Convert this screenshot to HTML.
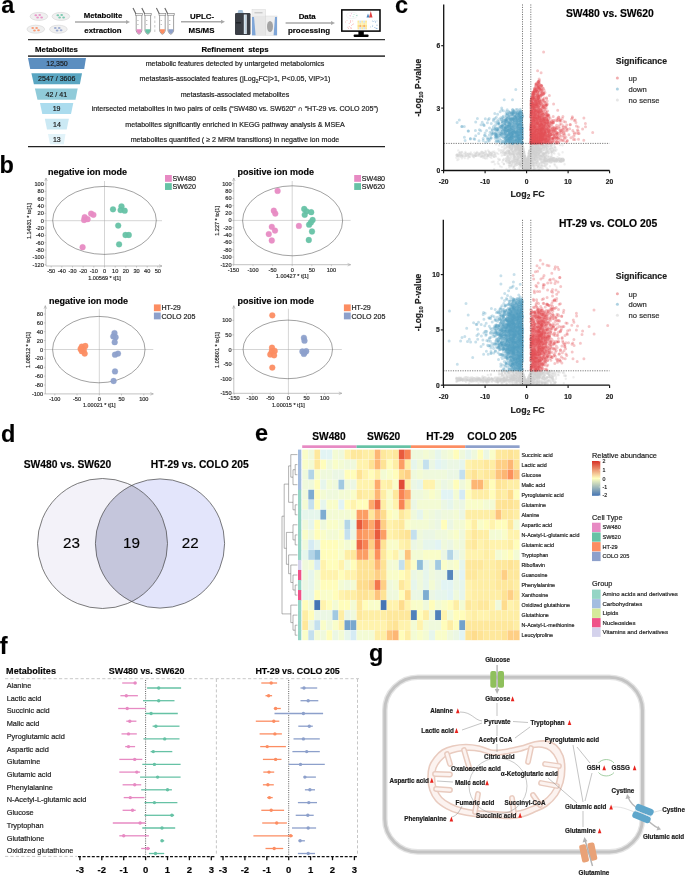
<!DOCTYPE html>
<html><head><meta charset="utf-8"><style>
html,body{margin:0;padding:0;background:#fff;width:685px;height:876px;overflow:hidden}
svg{display:block;filter:blur(0.4px)}
text{font-family:"Liberation Sans", sans-serif;stroke:#1a1a1a;stroke-width:0.22px;stroke-opacity:0.8}
</style></head><body>
<svg width="685" height="876" viewBox="0 0 685 876" font-family='"Liberation Sans", sans-serif'>
<rect width="685" height="876" fill="#fff"/>
<text x="1.2" y="12.9" font-size="23.5" font-weight="bold" fill="#000">a</text>
<ellipse cx="38.9" cy="16.4" rx="8.8" ry="4.0" fill="#f0f0f0" stroke="#d8d8d8" stroke-width="0.7"/>
<ellipse cx="35.8" cy="15.3" rx="1.35" ry="1.0" fill="#e78ac3" fill-opacity="0.85"/>
<ellipse cx="39.7" cy="15.1" rx="1.35" ry="1.0" fill="#e78ac3" fill-opacity="0.85"/>
<ellipse cx="37.6" cy="17.6" rx="1.35" ry="1.0" fill="#e78ac3" fill-opacity="0.85"/>
<ellipse cx="41.6" cy="17.4" rx="1.35" ry="1.0" fill="#e78ac3" fill-opacity="0.85"/>
<ellipse cx="60.9" cy="16.4" rx="8.8" ry="4.0" fill="#f0f0f0" stroke="#d8d8d8" stroke-width="0.7"/>
<ellipse cx="57.8" cy="15.3" rx="1.35" ry="1.0" fill="#66c2a5" fill-opacity="0.85"/>
<ellipse cx="61.7" cy="15.1" rx="1.35" ry="1.0" fill="#66c2a5" fill-opacity="0.85"/>
<ellipse cx="59.6" cy="17.6" rx="1.35" ry="1.0" fill="#66c2a5" fill-opacity="0.85"/>
<ellipse cx="63.6" cy="17.4" rx="1.35" ry="1.0" fill="#66c2a5" fill-opacity="0.85"/>
<ellipse cx="35.8" cy="29.2" rx="8.8" ry="4.0" fill="#f0f0f0" stroke="#d8d8d8" stroke-width="0.7"/>
<ellipse cx="32.7" cy="28.1" rx="1.35" ry="1.0" fill="#fc8d62" fill-opacity="0.85"/>
<ellipse cx="36.6" cy="27.9" rx="1.35" ry="1.0" fill="#fc8d62" fill-opacity="0.85"/>
<ellipse cx="34.5" cy="30.4" rx="1.35" ry="1.0" fill="#fc8d62" fill-opacity="0.85"/>
<ellipse cx="38.5" cy="30.2" rx="1.35" ry="1.0" fill="#fc8d62" fill-opacity="0.85"/>
<ellipse cx="58.4" cy="29.2" rx="8.8" ry="4.0" fill="#f0f0f0" stroke="#d8d8d8" stroke-width="0.7"/>
<ellipse cx="55.3" cy="28.1" rx="1.35" ry="1.0" fill="#8da0cb" fill-opacity="0.85"/>
<ellipse cx="59.2" cy="27.9" rx="1.35" ry="1.0" fill="#8da0cb" fill-opacity="0.85"/>
<ellipse cx="57.1" cy="30.4" rx="1.35" ry="1.0" fill="#8da0cb" fill-opacity="0.85"/>
<ellipse cx="61.1" cy="30.2" rx="1.35" ry="1.0" fill="#8da0cb" fill-opacity="0.85"/>
<line x1="75" y1="22" x2="127" y2="22" stroke="#a8a8a8" stroke-width="1.4"/>
<path d="M126,20 L130,22 L126,24z" fill="#a8a8a8"/>
<text x="103.0" y="18.1" font-size="7.8" font-weight="bold" text-anchor="middle">Metabolite</text>
<text x="103.0" y="32.8" font-size="7.8" font-weight="bold" text-anchor="middle">extraction</text>
<path d="M136.2,14.5 L136.2,31 Q139.0,37.5 141.79999999999998,31 L141.79999999999998,14.5" fill="#fff" stroke="#777" stroke-width="0.7"/>
<path d="M136.5,29.2 L141.49999999999997,29.2 L141.49999999999997,31 Q139.0,37 136.5,31z" fill="#e78ac3"/>
<rect x="135.6" y="13.6" width="6.8" height="1.6" fill="#fff" stroke="#777" stroke-width="0.6"/>
<line x1="133.0" y1="8" x2="135.89999999999998" y2="13.8" stroke="#666" stroke-width="1.1"/>
<line x1="137.2" y1="20.5" x2="138.6" y2="20.5" stroke="#888" stroke-width="0.5"/>
<line x1="137.2" y1="24.5" x2="138.6" y2="24.5" stroke="#888" stroke-width="0.5"/>
<path d="M145,14.5 L145,31 Q147.8,37.5 150.6,31 L150.6,14.5" fill="#fff" stroke="#777" stroke-width="0.7"/>
<path d="M145.3,29.2 L150.29999999999998,29.2 L150.29999999999998,31 Q147.8,37 145.3,31z" fill="#66c2a5"/>
<rect x="144.4" y="13.6" width="6.8" height="1.6" fill="#fff" stroke="#777" stroke-width="0.6"/>
<line x1="141.8" y1="8" x2="144.7" y2="13.8" stroke="#666" stroke-width="1.1"/>
<line x1="146" y1="20.5" x2="147.4" y2="20.5" stroke="#888" stroke-width="0.5"/>
<line x1="146" y1="24.5" x2="147.4" y2="24.5" stroke="#888" stroke-width="0.5"/>
<path d="M159.6,14.5 L159.6,31 Q162.4,37.5 165.2,31 L165.2,14.5" fill="#fff" stroke="#777" stroke-width="0.7"/>
<path d="M159.9,29.2 L164.89999999999998,29.2 L164.89999999999998,31 Q162.4,37 159.9,31z" fill="#fc8d62"/>
<rect x="159.0" y="13.6" width="6.8" height="1.6" fill="#fff" stroke="#777" stroke-width="0.6"/>
<line x1="156.4" y1="8" x2="159.29999999999998" y2="13.8" stroke="#666" stroke-width="1.1"/>
<line x1="160.6" y1="20.5" x2="162.0" y2="20.5" stroke="#888" stroke-width="0.5"/>
<line x1="160.6" y1="24.5" x2="162.0" y2="24.5" stroke="#888" stroke-width="0.5"/>
<path d="M168,14.5 L168,31 Q170.8,37.5 173.6,31 L173.6,14.5" fill="#fff" stroke="#777" stroke-width="0.7"/>
<path d="M168.3,29.2 L173.29999999999998,29.2 L173.29999999999998,31 Q170.8,37 168.3,31z" fill="#8da0cb"/>
<rect x="167.4" y="13.6" width="6.8" height="1.6" fill="#fff" stroke="#777" stroke-width="0.6"/>
<line x1="164.8" y1="8" x2="167.7" y2="13.8" stroke="#666" stroke-width="1.1"/>
<line x1="169" y1="20.5" x2="170.4" y2="20.5" stroke="#888" stroke-width="0.5"/>
<line x1="169" y1="24.5" x2="170.4" y2="24.5" stroke="#888" stroke-width="0.5"/>
<line x1="154.8" y1="16" x2="154.8" y2="33" stroke="#bbb" stroke-width="0.8" stroke-dasharray="2.5,2"/>
<line x1="181" y1="21.7" x2="222" y2="21.7" stroke="#a8a8a8" stroke-width="1.4"/>
<path d="M221,19.7 L225,21.7 L221,23.7z" fill="#a8a8a8"/>
<text x="202.0" y="18.8" font-size="7.9" font-weight="bold" text-anchor="middle">UPLC-</text>
<text x="201.5" y="33.3" font-size="7.9" font-weight="bold" text-anchor="middle">MS/MS</text>
<path d="M237.5,13 L238.5,10 L242.5,10 L243.5,13z" fill="#a9c4dc"/>
<rect x="235" y="13" width="15.5" height="22" rx="1.2" fill="#3b3f46"/>
<rect x="243.8" y="14.5" width="3" height="19.5" fill="#dfe8ef"/>
<line x1="245.3" y1="15" x2="245.3" y2="33.5" stroke="#8fb3cf" stroke-width="0.5"/>
<rect x="236" y="22" width="5" height="1.5" fill="#22252a"/>
<rect x="252" y="9.6" width="13.5" height="25.6" fill="#e6e6e6" stroke="#d0d0d0" stroke-width="0.4"/>
<rect x="252.3" y="9.9" width="12.9" height="6" fill="#efefef"/>
<line x1="254.5" y1="12.8" x2="262.5" y2="12.8" stroke="#999" stroke-width="0.6"/>
<path d="M252,17 L254,17 L255.6,35.2 L252,35.2z" fill="#7fa6d8"/>
<rect x="265.5" y="16" width="11.5" height="19.2" fill="#efefef" stroke="#d0d0d0" stroke-width="0.4"/>
<path d="M275,17 L277,17 L277,35.2 L273.6,35.2z" fill="#7fa6d8"/>
<ellipse cx="270" cy="26.5" rx="3" ry="5.5" fill="#8a8a8a" fill-opacity="0.75"/>
<line x1="285.6" y1="23" x2="332" y2="23" stroke="#a8a8a8" stroke-width="1.4"/>
<path d="M331,21 L335,23 L331,25z" fill="#a8a8a8"/>
<text x="307.2" y="18.8" font-size="7.9" font-weight="bold" text-anchor="middle">Data</text>
<text x="309.0" y="33.3" font-size="7.9" font-weight="bold" text-anchor="middle">processing</text>
<rect x="341.8" y="9.9" width="38.2" height="21.2" fill="#fff" stroke="#000" stroke-width="1.5"/>
<rect x="358.4" y="31" width="5.4" height="4.4" fill="#000"/>
<rect x="353.6" y="34.6" width="15" height="2.5" rx="1" fill="#000"/>
<ellipse cx="352" cy="15.5" rx="5.5" ry="3.2" fill="none" stroke="#e4e4e4" stroke-width="0.4"/>
<circle cx="350.0" cy="15.7" r="0.45" fill="#e78ac3"/>
<circle cx="350.5" cy="15.9" r="0.45" fill="#e78ac3"/>
<circle cx="351.5" cy="13.8" r="0.45" fill="#e78ac3"/>
<circle cx="353.1" cy="16.8" r="0.45" fill="#66c2a5"/>
<circle cx="354.0" cy="14.4" r="0.45" fill="#66c2a5"/>
<circle cx="357.0" cy="15.4" r="0.45" fill="#66c2a5"/>
<circle cx="356.3" cy="15.4" r="0.45" fill="#66c2a5"/>
<circle cx="350.4" cy="21.4" r="0.4" fill="#f07878"/>
<circle cx="350.3" cy="27.8" r="0.4" fill="#f07878"/>
<circle cx="349.2" cy="26.7" r="0.4" fill="#f07878"/>
<circle cx="350.7" cy="20.6" r="0.4" fill="#f07878"/>
<circle cx="351.6" cy="25.3" r="0.4" fill="#f07878"/>
<circle cx="347.0" cy="20.3" r="0.4" fill="#f07878"/>
<circle cx="352.7" cy="24.3" r="0.4" fill="#f07878"/>
<circle cx="351.2" cy="27.9" r="0.4" fill="#f07878"/>
<circle cx="351.1" cy="28.3" r="0.4" fill="#f07878"/>
<circle cx="347.9" cy="27.2" r="0.4" fill="#f07878"/>
<circle cx="348.4" cy="28.4" r="0.4" fill="#f07878"/>
<circle cx="352.8" cy="20.9" r="0.4" fill="#f07878"/>
<circle cx="345.4" cy="22.0" r="0.4" fill="#f07878"/>
<circle cx="353.7" cy="23.9" r="0.4" fill="#f07878"/>
<circle cx="350.3" cy="22.7" r="0.4" fill="#f07878"/>
<circle cx="349.1" cy="23.5" r="0.4" fill="#f07878"/>
<circle cx="372.8" cy="25.2" r="0.4" fill="#5a90c8"/>
<circle cx="374.7" cy="27.7" r="0.4" fill="#5a90c8"/>
<circle cx="375.5" cy="27.9" r="0.4" fill="#5a90c8"/>
<circle cx="376.9" cy="28.4" r="0.4" fill="#5a90c8"/>
<circle cx="375.4" cy="21.8" r="0.4" fill="#5a90c8"/>
<circle cx="376.9" cy="28.2" r="0.4" fill="#5a90c8"/>
<circle cx="377.2" cy="25.1" r="0.4" fill="#5a90c8"/>
<circle cx="375.7" cy="22.2" r="0.4" fill="#5a90c8"/>
<circle cx="376.7" cy="25.1" r="0.4" fill="#5a90c8"/>
<circle cx="372.3" cy="21.0" r="0.4" fill="#5a90c8"/>
<circle cx="376.8" cy="28.4" r="0.4" fill="#5a90c8"/>
<circle cx="370.7" cy="26.9" r="0.4" fill="#5a90c8"/>
<circle cx="373.3" cy="21.7" r="0.4" fill="#5a90c8"/>
<circle cx="372.4" cy="26.7" r="0.4" fill="#5a90c8"/>
<circle cx="377.0" cy="20.9" r="0.4" fill="#5a90c8"/>
<circle cx="374.9" cy="20.9" r="0.4" fill="#5a90c8"/>
<rect x="357.5" y="20.6" width="1.9" height="2.2" fill="#fde79a"/>
<rect x="357.5" y="22.8" width="1.9" height="2.2" fill="#fff3b0"/>
<rect x="357.5" y="25.0" width="1.9" height="2.2" fill="#fde08a"/>
<rect x="357.5" y="27.2" width="1.9" height="2.2" fill="#fde79a"/>
<rect x="359.4" y="20.6" width="1.9" height="2.2" fill="#cfe3f0"/>
<rect x="359.4" y="22.8" width="1.9" height="2.2" fill="#fbe9a8"/>
<rect x="359.4" y="25.0" width="1.9" height="2.2" fill="#f6b26b"/>
<rect x="359.4" y="27.2" width="1.9" height="2.2" fill="#cfe3f0"/>
<rect x="361.3" y="20.6" width="1.9" height="2.2" fill="#fde79a"/>
<rect x="361.3" y="22.8" width="1.9" height="2.2" fill="#fff3b0"/>
<rect x="361.3" y="25.0" width="1.9" height="2.2" fill="#fde08a"/>
<rect x="361.3" y="27.2" width="1.9" height="2.2" fill="#fde79a"/>
<rect x="363.2" y="20.6" width="1.9" height="2.2" fill="#cfe3f0"/>
<rect x="363.2" y="22.8" width="1.9" height="2.2" fill="#fbe9a8"/>
<rect x="363.2" y="25.0" width="1.9" height="2.2" fill="#f6b26b"/>
<rect x="363.2" y="27.2" width="1.9" height="2.2" fill="#cfe3f0"/>
<rect x="365.1" y="20.6" width="1.9" height="2.2" fill="#fde79a"/>
<rect x="365.1" y="22.8" width="1.9" height="2.2" fill="#fff3b0"/>
<rect x="365.1" y="25.0" width="1.9" height="2.2" fill="#fde08a"/>
<rect x="365.1" y="27.2" width="1.9" height="2.2" fill="#fde79a"/>
<path d="M366.5,17.5 L368,13.5 L369.5,17.5z" fill="#4a86c0"/><path d="M369,17.5 L370.8,11 L372.5,17.5z" fill="#e04040"/>
<line x1="28" y1="39.6" x2="385" y2="39.6" stroke="#333" stroke-width="1.3"/>
<line x1="28" y1="56.1" x2="385" y2="56.1" stroke="#444" stroke-width="1.8"/>
<line x1="28" y1="146.6" x2="385" y2="146.6" stroke="#222" stroke-width="1.3"/>
<text x="56.5" y="52.0" font-size="7.8" font-weight="bold" text-anchor="middle">Metabolites</text>
<text x="235.0" y="51.8" font-size="7.8" font-weight="bold" text-anchor="middle" xml:space="preserve">Refinement  steps</text>
<path d="M28,58 L86,58 L84.2,68.9 L30.2,68.9z" fill="#5b8ec0"/>
<text x="57.0" y="66.0" font-size="7.05" text-anchor="middle" fill="#1a1a1a">12,350</text>
<text x="235.0" y="66.0" font-size="7.12" text-anchor="middle" fill="#1a1a1a">metabolic features detected by untargeted metabolomics</text>
<path d="M31.4,73.2 L82,73.2 L79.9,84.3 L33.9,84.3z" fill="#5aa6c2"/>
<text x="56.7" y="81.3" font-size="7.05" text-anchor="middle" fill="#1a1a1a">2547 / 3606</text>
<text x="235.0" y="81.3" font-size="7.12" text-anchor="middle" fill="#1a1a1a">metastasis-associated features (|Log<tspan font-size="5" dy="1.5">2</tspan><tspan dy="-1.5">FC|&gt;1, P&lt;0.05, VIP&gt;1)</tspan></text>
<path d="M34.9,88.5 L77.7,88.5 L75.5,99.7 L37.5,99.7z" fill="#90cbd9"/>
<text x="56.3" y="96.6" font-size="7.05" text-anchor="middle" fill="#1a1a1a">42 / 41</text>
<text x="235.0" y="96.7" font-size="7.12" text-anchor="middle" fill="#1a1a1a">metastasis-associated metabolites</text>
<path d="M40,103 L73.3,103 L71,114 L42.3,114z" fill="#abdcee"/>
<text x="56.6" y="111.0" font-size="7.05" text-anchor="middle" fill="#1a1a1a">19</text>
<text x="235.0" y="111.1" font-size="7.12" text-anchor="middle" fill="#1a1a1a">intersected metabolites in two pairs of cells (&#8220;SW480 vs. SW620&#8221; &#8745; &#8220;HT-29 vs. COLO 205&#8221;)</text>
<path d="M44.8,118.7 L68.9,118.7 L66.7,129.6 L47,129.6z" fill="#cbe9f4"/>
<text x="56.9" y="126.7" font-size="7.05" text-anchor="middle" fill="#1a1a1a">14</text>
<text x="235.0" y="126.7" font-size="7.12" text-anchor="middle" fill="#1a1a1a">metabolites significantly enriched in KEGG pathway analysis &amp; MSEA</text>
<path d="M48,134 L65.5,134 L63.8,144.2 L50,144.2z" fill="#e2f3f9"/>
<text x="56.8" y="141.6" font-size="7.05" text-anchor="middle" fill="#1a1a1a">13</text>
<text x="235.0" y="141.7" font-size="7.12" text-anchor="middle" fill="#1a1a1a">metabolites quantified ( &#8805; 2 MRM transitions) in negative ion mode</text>
<text x="-0.4" y="172.7" font-size="23.5" font-weight="bold" fill="#000">b</text>
<text x="48" y="175.2" font-size="9" font-weight="bold">negative ion mode</text>
<line x1="46" y1="266" x2="162" y2="266" stroke="#999" stroke-width="0.6"/>
<line x1="46" y1="266" x2="46" y2="178" stroke="#999" stroke-width="0.6"/>
<path d="M44.7,181 L46,178 L47.3,181" fill="none" stroke="#999" stroke-width="0.5"/>
<path d="M159,264.7 L162,266 L159,267.3" fill="none" stroke="#999" stroke-width="0.5"/>
<line x1="46" y1="220.7" x2="162" y2="220.7" stroke="#aaa" stroke-width="0.5"/>
<line x1="104.5" y1="181" x2="104.5" y2="266" stroke="#aaa" stroke-width="0.5"/>
<line x1="44.5" y1="184.0" x2="46" y2="184.0" stroke="#999" stroke-width="0.5"/>
<text x="43.8" y="186.0" font-size="5.6" text-anchor="end" fill="#333">100</text>
<line x1="44.5" y1="191.3" x2="46" y2="191.3" stroke="#999" stroke-width="0.5"/>
<text x="43.8" y="193.4" font-size="5.6" text-anchor="end" fill="#333">80</text>
<line x1="44.5" y1="198.7" x2="46" y2="198.7" stroke="#999" stroke-width="0.5"/>
<text x="43.8" y="200.7" font-size="5.6" text-anchor="end" fill="#333">60</text>
<line x1="44.5" y1="206.0" x2="46" y2="206.0" stroke="#999" stroke-width="0.5"/>
<text x="43.8" y="208.0" font-size="5.6" text-anchor="end" fill="#333">40</text>
<line x1="44.5" y1="213.4" x2="46" y2="213.4" stroke="#999" stroke-width="0.5"/>
<text x="43.8" y="215.4" font-size="5.6" text-anchor="end" fill="#333">20</text>
<line x1="44.5" y1="220.7" x2="46" y2="220.7" stroke="#999" stroke-width="0.5"/>
<text x="43.8" y="222.7" font-size="5.6" text-anchor="end" fill="#333">0</text>
<line x1="44.5" y1="228.0" x2="46" y2="228.0" stroke="#999" stroke-width="0.5"/>
<text x="43.8" y="230.1" font-size="5.6" text-anchor="end" fill="#333">-20</text>
<line x1="44.5" y1="235.4" x2="46" y2="235.4" stroke="#999" stroke-width="0.5"/>
<text x="43.8" y="237.4" font-size="5.6" text-anchor="end" fill="#333">-40</text>
<line x1="44.5" y1="242.7" x2="46" y2="242.7" stroke="#999" stroke-width="0.5"/>
<text x="43.8" y="244.7" font-size="5.6" text-anchor="end" fill="#333">-60</text>
<line x1="44.5" y1="250.1" x2="46" y2="250.1" stroke="#999" stroke-width="0.5"/>
<text x="43.8" y="252.1" font-size="5.6" text-anchor="end" fill="#333">-80</text>
<line x1="44.5" y1="257.4" x2="46" y2="257.4" stroke="#999" stroke-width="0.5"/>
<text x="43.8" y="259.4" font-size="5.6" text-anchor="end" fill="#333">-100</text>
<line x1="44.5" y1="264.7" x2="46" y2="264.7" stroke="#999" stroke-width="0.5"/>
<text x="43.8" y="266.8" font-size="5.6" text-anchor="end" fill="#333">-120</text>
<line x1="51.2" y1="266" x2="51.2" y2="267.5" stroke="#999" stroke-width="0.5"/>
<text x="51.2" y="273.0" font-size="5.6" text-anchor="middle" fill="#333">-50</text>
<line x1="61.8" y1="266" x2="61.8" y2="267.5" stroke="#999" stroke-width="0.5"/>
<text x="61.8" y="273.0" font-size="5.6" text-anchor="middle" fill="#333">-40</text>
<line x1="72.5" y1="266" x2="72.5" y2="267.5" stroke="#999" stroke-width="0.5"/>
<text x="72.5" y="273.0" font-size="5.6" text-anchor="middle" fill="#333">-30</text>
<line x1="83.2" y1="266" x2="83.2" y2="267.5" stroke="#999" stroke-width="0.5"/>
<text x="83.2" y="273.0" font-size="5.6" text-anchor="middle" fill="#333">-20</text>
<line x1="93.8" y1="266" x2="93.8" y2="267.5" stroke="#999" stroke-width="0.5"/>
<text x="93.8" y="273.0" font-size="5.6" text-anchor="middle" fill="#333">-10</text>
<line x1="104.5" y1="266" x2="104.5" y2="267.5" stroke="#999" stroke-width="0.5"/>
<text x="104.5" y="273.0" font-size="5.6" text-anchor="middle" fill="#333">0</text>
<line x1="115.2" y1="266" x2="115.2" y2="267.5" stroke="#999" stroke-width="0.5"/>
<text x="115.2" y="273.0" font-size="5.6" text-anchor="middle" fill="#333">10</text>
<line x1="125.8" y1="266" x2="125.8" y2="267.5" stroke="#999" stroke-width="0.5"/>
<text x="125.8" y="273.0" font-size="5.6" text-anchor="middle" fill="#333">20</text>
<line x1="136.5" y1="266" x2="136.5" y2="267.5" stroke="#999" stroke-width="0.5"/>
<text x="136.5" y="273.0" font-size="5.6" text-anchor="middle" fill="#333">30</text>
<line x1="147.2" y1="266" x2="147.2" y2="267.5" stroke="#999" stroke-width="0.5"/>
<text x="147.2" y="273.0" font-size="5.6" text-anchor="middle" fill="#333">40</text>
<line x1="157.8" y1="266" x2="157.8" y2="267.5" stroke="#999" stroke-width="0.5"/>
<text x="157.8" y="273.0" font-size="5.6" text-anchor="middle" fill="#333">50</text>
<text x="104.5" y="279.5" font-size="5.5" text-anchor="middle" fill="#333">1.00569 * t[1]</text>
<text transform="translate(30.7,221.2) rotate(-90)" font-size="5.5" text-anchor="middle" fill="#333">1.14931 * to[1]</text>
<ellipse cx="104.5" cy="220.4" rx="51.8" ry="34" fill="none" stroke="#444" stroke-width="0.5"/>
<rect x="165.0" y="175.0" width="6.8" height="6.8" fill="#e78ac3"/>
<text x="172.6" y="181.0" font-size="7.1" fill="#222">SW480</text>
<rect x="165.0" y="183.15" width="6.8" height="6.8" fill="#66c2a5"/>
<text x="172.6" y="189.1" font-size="7.1" fill="#222">SW620</text>
<circle cx="84.7" cy="217.2" r="2.9" fill="#e78ac3" stroke="#e78ac3" stroke-width="0.3" fill-opacity="0.95"/>
<circle cx="91.1" cy="213.6" r="2.9" fill="#e78ac3" stroke="#e78ac3" stroke-width="0.3" fill-opacity="0.95"/>
<circle cx="93.4" cy="214.8" r="2.9" fill="#e78ac3" stroke="#e78ac3" stroke-width="0.3" fill-opacity="0.95"/>
<circle cx="87.6" cy="219.2" r="2.9" fill="#e78ac3" stroke="#e78ac3" stroke-width="0.3" fill-opacity="0.95"/>
<circle cx="84.1" cy="220" r="2.9" fill="#e78ac3" stroke="#e78ac3" stroke-width="0.3" fill-opacity="0.95"/>
<circle cx="82.6" cy="247.2" r="2.9" fill="#e78ac3" stroke="#e78ac3" stroke-width="0.3" fill-opacity="0.95"/>
<circle cx="113" cy="209.3" r="2.9" fill="#66c2a5" stroke="#66c2a5" stroke-width="0.3" fill-opacity="0.95"/>
<circle cx="121.5" cy="206.3" r="2.9" fill="#66c2a5" stroke="#66c2a5" stroke-width="0.3" fill-opacity="0.95"/>
<circle cx="120.6" cy="210.1" r="2.9" fill="#66c2a5" stroke="#66c2a5" stroke-width="0.3" fill-opacity="0.95"/>
<circle cx="124.7" cy="210.7" r="2.9" fill="#66c2a5" stroke="#66c2a5" stroke-width="0.3" fill-opacity="0.95"/>
<circle cx="118.2" cy="225.6" r="2.9" fill="#66c2a5" stroke="#66c2a5" stroke-width="0.3" fill-opacity="0.95"/>
<circle cx="125.5" cy="235" r="2.9" fill="#66c2a5" stroke="#66c2a5" stroke-width="0.3" fill-opacity="0.95"/>
<circle cx="128.8" cy="235" r="2.9" fill="#66c2a5" stroke="#66c2a5" stroke-width="0.3" fill-opacity="0.95"/>
<circle cx="119.1" cy="244.3" r="2.9" fill="#66c2a5" stroke="#66c2a5" stroke-width="0.3" fill-opacity="0.95"/>
<text x="237.6" y="175.2" font-size="9" font-weight="bold">positive ion mode</text>
<line x1="233.8" y1="264.7" x2="350.6" y2="264.7" stroke="#999" stroke-width="0.6"/>
<line x1="233.8" y1="264.7" x2="233.8" y2="178" stroke="#999" stroke-width="0.6"/>
<path d="M232.5,181 L233.8,178 L235.10000000000002,181" fill="none" stroke="#999" stroke-width="0.5"/>
<path d="M347.6,263.4 L350.6,264.7 L347.6,266.0" fill="none" stroke="#999" stroke-width="0.5"/>
<line x1="233.8" y1="220.4" x2="350.6" y2="220.4" stroke="#aaa" stroke-width="0.5"/>
<line x1="292.2" y1="181" x2="292.2" y2="264.7" stroke="#aaa" stroke-width="0.5"/>
<line x1="232.3" y1="183.7" x2="233.8" y2="183.7" stroke="#999" stroke-width="0.5"/>
<text x="231.6" y="185.7" font-size="5.6" text-anchor="end" fill="#333">100</text>
<line x1="232.3" y1="191.0" x2="233.8" y2="191.0" stroke="#999" stroke-width="0.5"/>
<text x="231.6" y="193.1" font-size="5.6" text-anchor="end" fill="#333">80</text>
<line x1="232.3" y1="198.4" x2="233.8" y2="198.4" stroke="#999" stroke-width="0.5"/>
<text x="231.6" y="200.4" font-size="5.6" text-anchor="end" fill="#333">60</text>
<line x1="232.3" y1="205.7" x2="233.8" y2="205.7" stroke="#999" stroke-width="0.5"/>
<text x="231.6" y="207.7" font-size="5.6" text-anchor="end" fill="#333">40</text>
<line x1="232.3" y1="213.1" x2="233.8" y2="213.1" stroke="#999" stroke-width="0.5"/>
<text x="231.6" y="215.1" font-size="5.6" text-anchor="end" fill="#333">20</text>
<line x1="232.3" y1="220.4" x2="233.8" y2="220.4" stroke="#999" stroke-width="0.5"/>
<text x="231.6" y="222.4" font-size="5.6" text-anchor="end" fill="#333">0</text>
<line x1="232.3" y1="227.7" x2="233.8" y2="227.7" stroke="#999" stroke-width="0.5"/>
<text x="231.6" y="229.8" font-size="5.6" text-anchor="end" fill="#333">-20</text>
<line x1="232.3" y1="235.1" x2="233.8" y2="235.1" stroke="#999" stroke-width="0.5"/>
<text x="231.6" y="237.1" font-size="5.6" text-anchor="end" fill="#333">-40</text>
<line x1="232.3" y1="242.4" x2="233.8" y2="242.4" stroke="#999" stroke-width="0.5"/>
<text x="231.6" y="244.4" font-size="5.6" text-anchor="end" fill="#333">-60</text>
<line x1="232.3" y1="249.8" x2="233.8" y2="249.8" stroke="#999" stroke-width="0.5"/>
<text x="231.6" y="251.8" font-size="5.6" text-anchor="end" fill="#333">-80</text>
<line x1="232.3" y1="257.1" x2="233.8" y2="257.1" stroke="#999" stroke-width="0.5"/>
<text x="231.6" y="259.1" font-size="5.6" text-anchor="end" fill="#333">-100</text>
<line x1="232.3" y1="264.4" x2="233.8" y2="264.4" stroke="#999" stroke-width="0.5"/>
<text x="231.6" y="266.5" font-size="5.6" text-anchor="end" fill="#333">-120</text>
<line x1="233.4" y1="264.7" x2="233.4" y2="266.2" stroke="#999" stroke-width="0.5"/>
<text x="233.4" y="271.7" font-size="5.6" text-anchor="middle" fill="#333">-150</text>
<line x1="253.0" y1="264.7" x2="253.0" y2="266.2" stroke="#999" stroke-width="0.5"/>
<text x="253.0" y="271.7" font-size="5.6" text-anchor="middle" fill="#333">-100</text>
<line x1="272.6" y1="264.7" x2="272.6" y2="266.2" stroke="#999" stroke-width="0.5"/>
<text x="272.6" y="271.7" font-size="5.6" text-anchor="middle" fill="#333">-50</text>
<line x1="292.2" y1="264.7" x2="292.2" y2="266.2" stroke="#999" stroke-width="0.5"/>
<text x="292.2" y="271.7" font-size="5.6" text-anchor="middle" fill="#333">0</text>
<line x1="311.8" y1="264.7" x2="311.8" y2="266.2" stroke="#999" stroke-width="0.5"/>
<text x="311.8" y="271.7" font-size="5.6" text-anchor="middle" fill="#333">50</text>
<line x1="331.4" y1="264.7" x2="331.4" y2="266.2" stroke="#999" stroke-width="0.5"/>
<text x="331.4" y="271.7" font-size="5.6" text-anchor="middle" fill="#333">100</text>
<text x="292.2" y="278.2" font-size="5.5" text-anchor="middle" fill="#333">1.00427 * t[1]</text>
<text transform="translate(218.5,220.9) rotate(-90)" font-size="5.5" text-anchor="middle" fill="#333">1.227 * to[1]</text>
<ellipse cx="292.6" cy="220.8" rx="50" ry="35" fill="none" stroke="#444" stroke-width="0.5"/>
<rect x="354.2" y="175.0" width="6.8" height="6.8" fill="#e78ac3"/>
<text x="361.8" y="181.0" font-size="7.1" fill="#222">SW480</text>
<rect x="354.2" y="183.15" width="6.8" height="6.8" fill="#66c2a5"/>
<text x="361.8" y="189.1" font-size="7.1" fill="#222">SW620</text>
<circle cx="277.6" cy="190.9" r="2.9" fill="#e78ac3" stroke="#e78ac3" stroke-width="0.3" fill-opacity="0.95"/>
<circle cx="273.8" cy="210.7" r="2.9" fill="#e78ac3" stroke="#e78ac3" stroke-width="0.3" fill-opacity="0.95"/>
<circle cx="275.3" cy="213.6" r="2.9" fill="#e78ac3" stroke="#e78ac3" stroke-width="0.3" fill-opacity="0.95"/>
<circle cx="271.8" cy="226.8" r="2.9" fill="#e78ac3" stroke="#e78ac3" stroke-width="0.3" fill-opacity="0.95"/>
<circle cx="275" cy="230.6" r="2.9" fill="#e78ac3" stroke="#e78ac3" stroke-width="0.3" fill-opacity="0.95"/>
<circle cx="268.8" cy="234.1" r="2.9" fill="#e78ac3" stroke="#e78ac3" stroke-width="0.3" fill-opacity="0.95"/>
<circle cx="271.8" cy="240.5" r="2.9" fill="#e78ac3" stroke="#e78ac3" stroke-width="0.3" fill-opacity="0.95"/>
<circle cx="298.9" cy="225.9" r="2.9" fill="#e78ac3" stroke="#e78ac3" stroke-width="0.3" fill-opacity="0.95"/>
<circle cx="304.2" cy="209" r="2.9" fill="#66c2a5" stroke="#66c2a5" stroke-width="0.3" fill-opacity="0.95"/>
<circle cx="306.5" cy="211.3" r="2.9" fill="#66c2a5" stroke="#66c2a5" stroke-width="0.3" fill-opacity="0.95"/>
<circle cx="311.2" cy="212.2" r="2.9" fill="#66c2a5" stroke="#66c2a5" stroke-width="0.3" fill-opacity="0.95"/>
<circle cx="304.7" cy="214.8" r="2.9" fill="#66c2a5" stroke="#66c2a5" stroke-width="0.3" fill-opacity="0.95"/>
<circle cx="312.6" cy="220" r="2.9" fill="#66c2a5" stroke="#66c2a5" stroke-width="0.3" fill-opacity="0.95"/>
<circle cx="310.9" cy="222.4" r="2.9" fill="#66c2a5" stroke="#66c2a5" stroke-width="0.3" fill-opacity="0.95"/>
<circle cx="309.1" cy="224.7" r="2.9" fill="#66c2a5" stroke="#66c2a5" stroke-width="0.3" fill-opacity="0.95"/>
<circle cx="312" cy="231.5" r="2.9" fill="#66c2a5" stroke="#66c2a5" stroke-width="0.3" fill-opacity="0.95"/>
<circle cx="308.8" cy="240" r="2.9" fill="#66c2a5" stroke="#66c2a5" stroke-width="0.3" fill-opacity="0.95"/>
<text x="49" y="303.6" font-size="9" font-weight="bold">negative ion mode</text>
<line x1="45.3" y1="393.9" x2="153.3" y2="393.9" stroke="#999" stroke-width="0.6"/>
<line x1="45.3" y1="393.9" x2="45.3" y2="305.7" stroke="#999" stroke-width="0.6"/>
<path d="M44.0,308.7 L45.3,305.7 L46.599999999999994,308.7" fill="none" stroke="#999" stroke-width="0.5"/>
<path d="M150.3,392.59999999999997 L153.3,393.9 L150.3,395.2" fill="none" stroke="#999" stroke-width="0.5"/>
<line x1="45.3" y1="349.5" x2="153.3" y2="349.5" stroke="#aaa" stroke-width="0.5"/>
<line x1="99.3" y1="308.7" x2="99.3" y2="393.9" stroke="#aaa" stroke-width="0.5"/>
<line x1="43.8" y1="314.0" x2="45.3" y2="314.0" stroke="#999" stroke-width="0.5"/>
<text x="43.1" y="316.0" font-size="5.6" text-anchor="end" fill="#333">80</text>
<line x1="43.8" y1="322.9" x2="45.3" y2="322.9" stroke="#999" stroke-width="0.5"/>
<text x="43.1" y="324.9" font-size="5.6" text-anchor="end" fill="#333">60</text>
<line x1="43.8" y1="331.7" x2="45.3" y2="331.7" stroke="#999" stroke-width="0.5"/>
<text x="43.1" y="333.8" font-size="5.6" text-anchor="end" fill="#333">40</text>
<line x1="43.8" y1="340.6" x2="45.3" y2="340.6" stroke="#999" stroke-width="0.5"/>
<text x="43.1" y="342.6" font-size="5.6" text-anchor="end" fill="#333">20</text>
<line x1="43.8" y1="349.5" x2="45.3" y2="349.5" stroke="#999" stroke-width="0.5"/>
<text x="43.1" y="351.5" font-size="5.6" text-anchor="end" fill="#333">0</text>
<line x1="43.8" y1="358.4" x2="45.3" y2="358.4" stroke="#999" stroke-width="0.5"/>
<text x="43.1" y="360.4" font-size="5.6" text-anchor="end" fill="#333">-20</text>
<line x1="43.8" y1="367.3" x2="45.3" y2="367.3" stroke="#999" stroke-width="0.5"/>
<text x="43.1" y="369.3" font-size="5.6" text-anchor="end" fill="#333">-40</text>
<line x1="43.8" y1="376.1" x2="45.3" y2="376.1" stroke="#999" stroke-width="0.5"/>
<text x="43.1" y="378.2" font-size="5.6" text-anchor="end" fill="#333">-60</text>
<line x1="43.8" y1="385.0" x2="45.3" y2="385.0" stroke="#999" stroke-width="0.5"/>
<text x="43.1" y="387.0" font-size="5.6" text-anchor="end" fill="#333">-80</text>
<line x1="43.8" y1="393.9" x2="45.3" y2="393.9" stroke="#999" stroke-width="0.5"/>
<text x="43.1" y="395.9" font-size="5.6" text-anchor="end" fill="#333">-100</text>
<line x1="54.8" y1="393.9" x2="54.8" y2="395.4" stroke="#999" stroke-width="0.5"/>
<text x="54.8" y="400.9" font-size="5.6" text-anchor="middle" fill="#333">-100</text>
<line x1="77.0" y1="393.9" x2="77.0" y2="395.4" stroke="#999" stroke-width="0.5"/>
<text x="77.0" y="400.9" font-size="5.6" text-anchor="middle" fill="#333">-50</text>
<line x1="99.3" y1="393.9" x2="99.3" y2="395.4" stroke="#999" stroke-width="0.5"/>
<text x="99.3" y="400.9" font-size="5.6" text-anchor="middle" fill="#333">0</text>
<line x1="121.5" y1="393.9" x2="121.5" y2="395.4" stroke="#999" stroke-width="0.5"/>
<text x="121.5" y="400.9" font-size="5.6" text-anchor="middle" fill="#333">50</text>
<line x1="143.8" y1="393.9" x2="143.8" y2="395.4" stroke="#999" stroke-width="0.5"/>
<text x="143.8" y="400.9" font-size="5.6" text-anchor="middle" fill="#333">100</text>
<text x="99.3" y="407.4" font-size="5.5" text-anchor="middle" fill="#333">1.00021 * t[1]</text>
<text transform="translate(29.999999999999996,350.0) rotate(-90)" font-size="5.5" text-anchor="middle" fill="#333">1.08512 * to[1]</text>
<ellipse cx="98.8" cy="349.6" rx="46.2" ry="33.2" fill="none" stroke="#444" stroke-width="0.5"/>
<rect x="153.89999999999998" y="304.40000000000003" width="6.8" height="6.8" fill="#fc8d62"/>
<text x="161.5" y="310.4" font-size="7.1" fill="#222">HT-29</text>
<rect x="153.89999999999998" y="312.55" width="6.8" height="6.8" fill="#8da0cb"/>
<text x="161.5" y="318.5" font-size="7.1" fill="#222">COLO 205</text>
<circle cx="81.8" cy="346.6" r="2.9" fill="#fc8d62" stroke="#fc8d62" stroke-width="0.3" fill-opacity="0.95"/>
<circle cx="85.3" cy="346" r="2.9" fill="#fc8d62" stroke="#fc8d62" stroke-width="0.3" fill-opacity="0.95"/>
<circle cx="83.8" cy="350" r="2.9" fill="#fc8d62" stroke="#fc8d62" stroke-width="0.3" fill-opacity="0.95"/>
<circle cx="81.8" cy="351.2" r="2.9" fill="#fc8d62" stroke="#fc8d62" stroke-width="0.3" fill-opacity="0.95"/>
<circle cx="84.7" cy="353.6" r="2.9" fill="#fc8d62" stroke="#fc8d62" stroke-width="0.3" fill-opacity="0.95"/>
<circle cx="80.6" cy="348.9" r="2.9" fill="#fc8d62" stroke="#fc8d62" stroke-width="0.3" fill-opacity="0.95"/>
<circle cx="114.5" cy="333.1" r="2.9" fill="#8da0cb" stroke="#8da0cb" stroke-width="0.3" fill-opacity="0.95"/>
<circle cx="113.3" cy="336.4" r="2.9" fill="#8da0cb" stroke="#8da0cb" stroke-width="0.3" fill-opacity="0.95"/>
<circle cx="115.6" cy="337.2" r="2.9" fill="#8da0cb" stroke="#8da0cb" stroke-width="0.3" fill-opacity="0.95"/>
<circle cx="114.7" cy="342.2" r="2.9" fill="#8da0cb" stroke="#8da0cb" stroke-width="0.3" fill-opacity="0.95"/>
<circle cx="118" cy="353.6" r="2.9" fill="#8da0cb" stroke="#8da0cb" stroke-width="0.3" fill-opacity="0.95"/>
<circle cx="115" cy="354.7" r="2.9" fill="#8da0cb" stroke="#8da0cb" stroke-width="0.3" fill-opacity="0.95"/>
<circle cx="115" cy="371.4" r="2.9" fill="#8da0cb" stroke="#8da0cb" stroke-width="0.3" fill-opacity="0.95"/>
<circle cx="113.6" cy="381" r="2.9" fill="#8da0cb" stroke="#8da0cb" stroke-width="0.3" fill-opacity="0.95"/>
<text x="237.6" y="303.6" font-size="9" font-weight="bold">positive ion mode</text>
<line x1="233.8" y1="393.3" x2="341.8" y2="393.3" stroke="#999" stroke-width="0.6"/>
<line x1="233.8" y1="393.3" x2="233.8" y2="305.7" stroke="#999" stroke-width="0.6"/>
<path d="M232.5,308.7 L233.8,305.7 L235.10000000000002,308.7" fill="none" stroke="#999" stroke-width="0.5"/>
<path d="M338.8,392.0 L341.8,393.3 L338.8,394.6" fill="none" stroke="#999" stroke-width="0.5"/>
<line x1="233.8" y1="349.5" x2="341.8" y2="349.5" stroke="#aaa" stroke-width="0.5"/>
<line x1="288.4" y1="308.7" x2="288.4" y2="393.3" stroke="#aaa" stroke-width="0.5"/>
<line x1="232.3" y1="320.3" x2="233.8" y2="320.3" stroke="#999" stroke-width="0.5"/>
<text x="231.6" y="322.3" font-size="5.6" text-anchor="end" fill="#333">100</text>
<line x1="232.3" y1="334.9" x2="233.8" y2="334.9" stroke="#999" stroke-width="0.5"/>
<text x="231.6" y="336.9" font-size="5.6" text-anchor="end" fill="#333">50</text>
<line x1="232.3" y1="349.5" x2="233.8" y2="349.5" stroke="#999" stroke-width="0.5"/>
<text x="231.6" y="351.5" font-size="5.6" text-anchor="end" fill="#333">0</text>
<line x1="232.3" y1="364.1" x2="233.8" y2="364.1" stroke="#999" stroke-width="0.5"/>
<text x="231.6" y="366.1" font-size="5.6" text-anchor="end" fill="#333">-50</text>
<line x1="232.3" y1="378.7" x2="233.8" y2="378.7" stroke="#999" stroke-width="0.5"/>
<text x="231.6" y="380.7" font-size="5.6" text-anchor="end" fill="#333">-100</text>
<line x1="232.3" y1="393.3" x2="233.8" y2="393.3" stroke="#999" stroke-width="0.5"/>
<text x="231.6" y="395.3" font-size="5.6" text-anchor="end" fill="#333">-150</text>
<line x1="234.1" y1="393.3" x2="234.1" y2="394.8" stroke="#999" stroke-width="0.5"/>
<text x="234.1" y="400.3" font-size="5.6" text-anchor="middle" fill="#333">-150</text>
<line x1="252.2" y1="393.3" x2="252.2" y2="394.8" stroke="#999" stroke-width="0.5"/>
<text x="252.2" y="400.3" font-size="5.6" text-anchor="middle" fill="#333">-100</text>
<line x1="270.3" y1="393.3" x2="270.3" y2="394.8" stroke="#999" stroke-width="0.5"/>
<text x="270.3" y="400.3" font-size="5.6" text-anchor="middle" fill="#333">-50</text>
<line x1="288.4" y1="393.3" x2="288.4" y2="394.8" stroke="#999" stroke-width="0.5"/>
<text x="288.4" y="400.3" font-size="5.6" text-anchor="middle" fill="#333">0</text>
<line x1="306.5" y1="393.3" x2="306.5" y2="394.8" stroke="#999" stroke-width="0.5"/>
<text x="306.5" y="400.3" font-size="5.6" text-anchor="middle" fill="#333">50</text>
<line x1="324.6" y1="393.3" x2="324.6" y2="394.8" stroke="#999" stroke-width="0.5"/>
<text x="324.6" y="400.3" font-size="5.6" text-anchor="middle" fill="#333">100</text>
<text x="288.4" y="406.8" font-size="5.5" text-anchor="middle" fill="#333">1.00015 * t[1]</text>
<text transform="translate(218.5,350.0) rotate(-90)" font-size="5.5" text-anchor="middle" fill="#333">1.05601 * to[1]</text>
<ellipse cx="287.8" cy="349.4" rx="44.7" ry="29.3" fill="none" stroke="#444" stroke-width="0.5"/>
<rect x="343.9" y="304.40000000000003" width="6.8" height="6.8" fill="#fc8d62"/>
<text x="351.5" y="310.4" font-size="7.1" fill="#222">HT-29</text>
<rect x="343.9" y="312.55" width="6.8" height="6.8" fill="#8da0cb"/>
<text x="351.5" y="318.5" font-size="7.1" fill="#222">COLO 205</text>
<circle cx="272.3" cy="315.3" r="2.9" fill="#fc8d62" stroke="#fc8d62" stroke-width="0.3" fill-opacity="0.95"/>
<circle cx="272" cy="347.7" r="2.9" fill="#fc8d62" stroke="#fc8d62" stroke-width="0.3" fill-opacity="0.95"/>
<circle cx="271.8" cy="351.5" r="2.9" fill="#fc8d62" stroke="#fc8d62" stroke-width="0.3" fill-opacity="0.95"/>
<circle cx="274.7" cy="350.9" r="2.9" fill="#fc8d62" stroke="#fc8d62" stroke-width="0.3" fill-opacity="0.95"/>
<circle cx="270.3" cy="354.5" r="2.9" fill="#fc8d62" stroke="#fc8d62" stroke-width="0.3" fill-opacity="0.95"/>
<circle cx="274.1" cy="355.3" r="2.9" fill="#fc8d62" stroke="#fc8d62" stroke-width="0.3" fill-opacity="0.95"/>
<circle cx="272.3" cy="367.6" r="2.9" fill="#fc8d62" stroke="#fc8d62" stroke-width="0.3" fill-opacity="0.95"/>
<circle cx="303.9" cy="337.8" r="2.9" fill="#8da0cb" stroke="#8da0cb" stroke-width="0.3" fill-opacity="0.95"/>
<circle cx="304.5" cy="340.7" r="2.9" fill="#8da0cb" stroke="#8da0cb" stroke-width="0.3" fill-opacity="0.95"/>
<circle cx="302.4" cy="351.5" r="2.9" fill="#8da0cb" stroke="#8da0cb" stroke-width="0.3" fill-opacity="0.95"/>
<circle cx="304.7" cy="352.4" r="2.9" fill="#8da0cb" stroke="#8da0cb" stroke-width="0.3" fill-opacity="0.95"/>
<circle cx="306.2" cy="351.2" r="2.9" fill="#8da0cb" stroke="#8da0cb" stroke-width="0.3" fill-opacity="0.95"/>
<circle cx="303.9" cy="353.9" r="2.9" fill="#8da0cb" stroke="#8da0cb" stroke-width="0.3" fill-opacity="0.95"/>
<text x="394.9" y="12.8" font-size="23.5" font-weight="bold" fill="#000">c</text>
<path d="M529.1 155.7h0M527.3 161.0h0M510.1 148.5h0M542.2 166.0h0M524.9 165.1h0M524.8 160.3h0M525.1 159.6h0M510.1 156.4h0M515.3 159.0h0M532.0 152.1h0M460.7 155.4h0M545.0 156.6h0M537.0 156.7h0M546.0 155.1h0M518.1 161.3h0M502.1 147.0h0M516.4 154.8h0M522.1 155.1h0M535.6 160.3h0M539.4 158.1h0M544.9 161.6h0M544.6 159.9h0M544.0 147.6h0M552.1 158.4h0M549.0 160.7h0M512.5 150.4h0M525.8 163.6h0M530.0 161.4h0M520.9 146.8h0M534.4 144.5h0M522.6 145.5h0M532.3 145.8h0M526.3 165.1h0M538.4 152.8h0M525.4 157.6h0M486.1 153.7h0M493.2 154.9h0M537.7 158.6h0M509.4 154.5h0M527.8 166.1h0M534.9 155.8h0M532.7 165.4h0M509.5 152.7h0M512.0 161.0h0M529.1 154.4h0M534.0 149.4h0M461.4 155.0h0M518.2 149.3h0M473.4 155.9h0M540.2 158.8h0M512.5 153.7h0M535.6 146.6h0M479.8 153.9h0M538.9 149.0h0M532.9 159.5h0M535.6 143.8h0M545.1 147.8h0M517.6 153.4h0M505.8 153.0h0M509.4 150.2h0M518.4 158.3h0M538.5 159.8h0M520.1 146.6h0M509.8 148.0h0M536.1 154.8h0M457.0 154.7h0M529.1 163.1h0M516.7 143.6h0M530.4 162.8h0M530.5 161.3h0M525.5 158.8h0M542.4 166.3h0M533.7 148.8h0M509.8 144.8h0M536.2 157.7h0M522.9 162.7h0M509.6 164.1h0M526.2 167.4h0M556.8 159.7h0M504.0 164.0h0M545.4 152.1h0M516.8 159.8h0M541.2 156.0h0M493.1 155.3h0M538.4 147.7h0M528.8 156.3h0M528.0 160.1h0M538.4 146.4h0M535.6 149.3h0M546.8 150.9h0M525.1 168.8h0M533.7 146.2h0M521.6 149.9h0M514.4 162.0h0M523.5 154.1h0M531.2 153.5h0M520.1 157.4h0M517.6 149.4h0M562.6 160.4h0M484.7 156.3h0M526.9 162.8h0M540.3 158.4h0M465.4 153.8h0M515.8 157.2h0M526.9 166.5h0M548.3 146.1h0M526.3 166.4h0M535.9 159.0h0M521.9 149.9h0M532.8 157.5h0M561.3 160.5h0M548.8 159.3h0M518.4 152.5h0M514.6 152.8h0M524.7 168.3h0M529.0 160.5h0M493.0 155.8h0M537.1 154.0h0M528.5 156.9h0M488.1 150.5h0M518.1 156.9h0M523.6 161.2h0M526.9 167.8h0M467.8 155.2h0M516.0 146.4h0M537.6 150.2h0M520.0 167.5h0M512.3 160.7h0M528.4 155.4h0M535.2 168.2h0M519.4 144.3h0M542.8 145.2h0M532.0 160.2h0M525.1 159.6h0M500.0 166.2h0M529.8 164.8h0M539.3 152.9h0M543.4 163.0h0M504.8 153.4h0M474.0 157.3h0M529.1 167.2h0M526.0 163.5h0M514.1 150.9h0M485.5 151.0h0M508.5 157.4h0M538.1 160.4h0M535.4 162.5h0M544.1 162.8h0M521.6 149.3h0M525.6 161.0h0M526.4 165.3h0M547.0 144.8h0M535.5 157.1h0M521.0 144.1h0M538.6 152.6h0M517.8 157.5h0M525.1 169.1h0M521.0 148.8h0M519.2 159.3h0M514.1 145.7h0M522.5 163.3h0M491.7 162.1h0M529.8 166.0h0M528.4 169.6h0M520.5 144.3h0M529.5 150.7h0M527.8 167.1h0M536.0 147.7h0M538.0 144.6h0M537.2 153.5h0M550.8 157.2h0M516.6 156.6h0M556.4 159.9h0M532.0 152.0h0M520.3 146.7h0M526.3 169.6h0M547.3 161.1h0M520.8 158.9h0M526.1 162.8h0M518.4 150.6h0M537.5 154.5h0M537.3 154.2h0M518.7 143.6h0M550.3 161.3h0M562.6 145.3h0M508.9 165.6h0M529.1 164.1h0M512.1 154.2h0M507.0 151.4h0M521.1 150.3h0M527.7 159.7h0M537.7 146.9h0M516.5 152.3h0M529.3 160.3h0M520.3 145.9h0M520.3 154.6h0M544.1 144.2h0M520.7 147.4h0M459.4 155.2h0M543.3 153.8h0M519.9 154.6h0M530.6 144.4h0M554.8 161.6h0M506.3 158.5h0M532.8 151.2h0M556.0 158.9h0M516.7 152.0h0M521.4 163.5h0M554.5 164.0h0M538.3 150.6h0M522.3 161.4h0M539.6 148.3h0M557.1 168.1h0M536.8 164.8h0M541.1 149.5h0M507.1 156.1h0M539.7 158.7h0M523.7 163.6h0M544.9 163.6h0M507.8 146.4h0M534.6 151.9h0M544.3 154.0h0M545.2 148.0h0M551.4 159.4h0M498.5 149.3h0M503.3 153.9h0M519.4 164.1h0M485.0 154.0h0M527.8 157.3h0M488.5 156.4h0M544.3 161.2h0M499.0 150.6h0M531.3 150.5h0M511.9 147.2h0M516.0 162.5h0M554.3 144.8h0M551.7 154.2h0M536.7 147.1h0M514.6 164.3h0M525.6 167.1h0M515.4 146.1h0M510.6 146.0h0M529.5 153.2h0M559.6 161.5h0M518.1 146.1h0M537.2 152.7h0M531.1 164.6h0M521.7 152.1h0M524.1 156.9h0M519.7 162.0h0M534.3 147.7h0M510.4 170.0h0M515.4 150.7h0M531.1 167.3h0M513.7 153.7h0M519.9 151.4h0M539.1 149.9h0M526.1 164.2h0M507.3 163.1h0M507.5 156.3h0M484.0 153.1h0M522.2 144.4h0M533.5 149.6h0M475.5 155.8h0M467.1 154.3h0M492.6 151.9h0M542.0 151.3h0M553.0 158.1h0M509.2 147.2h0M516.5 152.8h0M515.4 152.6h0M505.5 154.7h0M530.1 164.3h0M556.4 161.3h0M481.7 153.5h0M516.8 154.3h0M525.9 165.6h0M526.5 165.4h0M534.8 156.9h0M514.4 153.2h0M543.7 154.7h0M470.3 153.7h0M532.6 148.5h0M534.1 146.8h0M512.2 145.9h0M546.9 145.4h0M523.3 160.1h0M516.5 148.8h0M550.8 146.0h0M480.8 156.8h0M521.7 157.5h0M538.3 158.1h0M521.4 146.2h0M524.9 166.8h0M521.0 153.9h0M540.1 149.4h0M517.5 152.9h0M547.1 161.1h0M546.8 150.5h0M525.5 161.5h0M505.8 153.4h0M529.4 157.2h0M555.1 147.3h0M527.1 164.6h0M528.7 153.0h0M533.5 166.8h0M516.2 154.6h0M528.5 164.0h0M517.2 148.9h0M537.5 160.8h0M516.6 143.6h0M539.2 143.6h0M508.4 159.4h0M524.9 169.9h0M545.9 147.2h0M531.3 168.5h0M530.1 163.1h0M531.7 148.3h0M537.8 167.2h0M508.6 153.6h0M527.5 160.5h0M535.3 158.7h0M459.3 152.8h0M545.0 166.3h0M532.1 163.0h0M516.7 163.4h0M543.8 144.3h0M529.8 163.9h0M517.8 162.2h0M526.2 169.0h0M524.3 166.4h0M526.8 167.5h0M524.8 156.5h0M541.4 167.1h0M541.4 165.5h0M519.4 166.5h0M523.6 166.8h0M507.5 155.5h0M520.1 169.8h0M554.4 144.3h0M524.3 167.8h0M511.0 147.3h0M526.5 166.5h0M545.3 158.9h0M520.3 150.3h0M511.9 149.0h0M547.7 153.9h0M536.1 157.5h0M522.0 166.4h0M546.8 152.9h0M534.5 151.1h0M513.4 167.0h0M553.7 159.4h0M524.0 152.0h0M527.0 163.0h0M553.3 159.6h0M521.2 158.0h0M524.1 168.1h0M536.4 147.8h0M516.4 149.9h0M538.2 149.8h0M520.7 151.0h0M552.2 159.6h0M562.6 158.6h0M526.1 168.4h0M536.7 146.2h0M524.1 161.1h0M550.1 159.3h0M503.8 154.9h0M516.7 148.1h0M534.2 148.9h0M532.7 149.2h0M535.8 145.1h0M518.3 159.0h0M524.3 169.5h0M524.6 169.7h0M533.8 145.1h0M523.1 155.2h0M532.3 145.9h0M526.8 166.3h0M491.4 157.9h0M520.9 148.8h0M509.7 164.7h0M547.1 168.4h0M553.6 160.5h0M517.1 144.9h0M507.6 163.0h0M531.4 170.0h0M529.8 150.9h0M525.4 169.9h0M529.7 153.5h0M532.9 151.6h0M536.4 152.4h0M537.2 158.7h0M554.1 160.9h0M518.0 148.5h0M522.0 157.5h0M533.7 166.0h0M545.7 149.5h0M540.2 151.7h0M474.4 152.6h0M513.5 145.0h0M534.0 153.8h0M526.1 162.1h0M525.6 165.0h0M521.0 147.7h0M560.9 158.8h0M484.9 157.8h0M532.5 148.0h0M541.6 148.7h0M531.5 143.6h0M534.6 163.4h0M545.5 147.2h0M509.1 167.5h0M492.1 153.4h0M539.6 166.7h0M534.3 169.4h0" stroke="#c8c8c8" stroke-opacity="0.3" stroke-width="2.4" stroke-linecap="round" fill="none"/>
<path d="M506.0 159.7h0M511.6 149.9h0M524.1 167.8h0M505.5 152.5h0M533.5 149.8h0M524.2 151.7h0M524.8 169.1h0M534.0 155.1h0M504.8 145.0h0M549.1 143.6h0M520.0 154.0h0M562.4 159.2h0M543.6 158.9h0M460.9 153.8h0M539.2 155.8h0M528.0 160.2h0M514.5 166.5h0M552.1 160.5h0M522.4 147.3h0M508.7 161.2h0M540.4 167.5h0M509.0 151.2h0M550.8 157.4h0M531.0 147.7h0M523.0 151.0h0M489.2 151.7h0M472.6 156.1h0M540.9 145.7h0M544.0 148.2h0M558.9 159.9h0M514.8 168.9h0M563.0 160.8h0M546.5 159.0h0M512.6 145.3h0M528.8 163.9h0M513.6 160.8h0M456.8 155.5h0M521.9 147.2h0M532.7 154.0h0M538.8 152.8h0M487.2 156.2h0M532.6 155.4h0M550.4 158.7h0M527.4 159.2h0M542.9 147.5h0M538.9 156.2h0M535.9 152.9h0M522.1 155.7h0M526.2 161.2h0M527.8 167.6h0M550.3 148.6h0M559.0 161.0h0M541.8 162.7h0M521.5 146.5h0M528.1 159.7h0M528.4 160.5h0M510.3 154.8h0M482.8 155.1h0M546.7 159.8h0M514.5 156.6h0M551.5 152.6h0M539.7 146.4h0M536.2 156.0h0M534.1 158.5h0M472.1 154.7h0M523.7 149.3h0M549.0 160.0h0M519.5 149.2h0M476.4 153.7h0M485.3 154.3h0M522.3 151.0h0M520.9 167.1h0M483.8 155.4h0M525.6 168.2h0M546.0 159.5h0M511.4 165.0h0M528.5 166.7h0M468.3 153.4h0M539.0 145.2h0M531.0 153.3h0M515.8 147.2h0M532.9 160.5h0M518.0 146.6h0M519.3 144.9h0M507.6 161.3h0M517.4 146.6h0M552.4 151.3h0M506.1 145.5h0M527.0 160.4h0M512.2 148.7h0M562.9 158.8h0M512.1 144.0h0M532.9 151.1h0M520.8 153.7h0M533.8 161.6h0M564.6 164.3h0M536.0 152.8h0M524.0 161.5h0M509.0 160.9h0M525.3 161.7h0M540.7 149.9h0M533.0 164.5h0M517.3 160.2h0M542.9 154.3h0M523.6 151.3h0M483.5 155.3h0M520.7 145.3h0M489.5 152.7h0M543.5 149.8h0M548.4 150.4h0M563.2 160.1h0M550.2 162.5h0M530.7 149.0h0M523.9 166.1h0M516.3 162.8h0M531.0 166.7h0M479.5 153.9h0M481.8 154.8h0M545.6 160.7h0M546.1 152.9h0M522.9 156.2h0M535.8 165.3h0M540.7 159.3h0M523.2 146.8h0M531.0 156.0h0M526.8 166.9h0M469.0 155.8h0M529.0 156.2h0M517.6 143.7h0M535.2 151.9h0M533.6 161.0h0M521.7 147.5h0M511.4 155.1h0M539.0 165.9h0M526.5 168.2h0M539.4 146.3h0M535.9 149.0h0M519.0 158.4h0M544.2 161.0h0M538.7 152.6h0M522.0 159.5h0M546.6 150.3h0M534.5 156.2h0M519.0 150.3h0M482.4 157.0h0M520.9 144.7h0M544.1 165.9h0M522.7 167.1h0M488.1 155.3h0M528.0 168.3h0M526.3 166.4h0M520.0 151.1h0M496.0 144.3h0M534.2 161.5h0M553.2 160.1h0M524.0 159.7h0M511.3 158.7h0M509.7 158.6h0M509.8 166.1h0M527.4 168.6h0M523.7 165.9h0M521.2 157.3h0M535.6 144.4h0M540.8 151.1h0M530.7 161.3h0M483.4 157.9h0M527.3 166.0h0M517.9 152.1h0M477.5 155.4h0M526.7 164.9h0M552.9 158.5h0M521.5 159.8h0M520.7 152.5h0M533.8 153.9h0M525.8 162.2h0M524.1 156.3h0M517.9 160.2h0M489.9 152.6h0M531.4 147.0h0M547.1 160.4h0M509.4 152.4h0M534.6 154.9h0M531.5 146.0h0M514.1 166.9h0M512.2 162.5h0M544.1 148.4h0M531.3 157.6h0M494.1 155.1h0M526.2 168.1h0M537.9 146.2h0M530.3 151.8h0M554.2 158.1h0M514.4 146.5h0M536.0 163.7h0M525.5 164.9h0M516.9 143.5h0M535.5 153.8h0M520.1 149.2h0M530.2 147.3h0M517.7 147.7h0M532.6 153.7h0M514.2 158.3h0M551.0 161.4h0M545.7 159.7h0M524.1 168.1h0M519.6 163.2h0M526.5 163.4h0M526.8 167.6h0M532.5 152.9h0M529.0 155.4h0M469.8 154.4h0M545.7 160.5h0M522.4 152.9h0M552.1 159.9h0M518.1 144.5h0M537.6 151.7h0M552.2 144.5h0M540.0 156.3h0M518.7 145.8h0M529.5 160.8h0M517.7 149.4h0M535.1 144.1h0M527.8 159.2h0M546.4 144.3h0M517.2 147.1h0M563.6 160.3h0M520.1 164.3h0M535.2 145.8h0M526.9 164.8h0M560.1 161.1h0M508.3 160.9h0M544.5 155.9h0M533.9 149.5h0M526.5 165.0h0M489.1 153.7h0M528.0 156.9h0M520.0 145.5h0M551.6 157.2h0M460.6 154.5h0M515.9 160.2h0M539.1 148.3h0M529.7 163.7h0M463.3 156.4h0M541.7 148.9h0M533.1 147.2h0M491.0 155.3h0M521.3 152.1h0M527.3 168.8h0M529.3 159.2h0M556.2 160.9h0M539.2 164.0h0M525.6 166.4h0M519.5 146.7h0M523.7 157.3h0M513.3 146.4h0M547.9 156.5h0M519.9 152.7h0M521.7 159.9h0M501.7 167.0h0M535.9 145.8h0M562.0 161.3h0M550.3 159.8h0M526.5 162.7h0M548.7 159.7h0M475.2 154.8h0M541.8 156.7h0M557.4 159.9h0M519.3 147.9h0M530.7 166.3h0M530.0 147.1h0M554.4 153.6h0M528.7 153.7h0M510.2 162.1h0M543.3 145.5h0M545.2 159.5h0M518.3 155.6h0M528.4 161.1h0M522.9 163.5h0M514.0 155.3h0M552.6 149.0h0M528.2 168.5h0M518.7 168.7h0M516.4 149.6h0M524.5 158.5h0M546.2 150.1h0M525.0 169.8h0M552.1 159.3h0M526.1 162.1h0M562.6 152.2h0M508.4 143.9h0M518.6 153.5h0M536.6 149.5h0M528.8 159.0h0M534.1 163.3h0M520.3 148.2h0M521.0 151.2h0M536.1 145.9h0M538.9 155.0h0M552.5 160.0h0M558.3 161.7h0M544.6 157.6h0M475.5 155.8h0M528.8 161.1h0M533.9 158.6h0M510.2 145.9h0M529.8 169.5h0M536.7 148.3h0M509.1 153.0h0M466.4 155.9h0M534.2 151.4h0M514.3 161.5h0M512.2 161.2h0M531.3 164.0h0M540.3 165.9h0M521.2 153.4h0M513.6 145.5h0M511.1 158.2h0M520.9 155.8h0M525.6 165.6h0M522.0 155.0h0M530.7 157.2h0M494.1 156.9h0M526.8 161.5h0M526.1 166.7h0M555.3 160.9h0M538.0 157.5h0M534.7 151.2h0M535.6 163.2h0M543.8 153.4h0M510.2 162.7h0M488.2 155.0h0M522.2 152.5h0M516.9 153.9h0M518.6 159.3h0M556.4 159.9h0M534.4 148.3h0M532.2 144.9h0M526.8 168.4h0M530.1 165.0h0M457.1 155.7h0M526.2 162.4h0M515.3 160.8h0M551.3 160.0h0M555.3 149.5h0M555.6 161.4h0M507.9 156.6h0M527.7 161.0h0M537.3 151.7h0M529.2 155.6h0M549.1 152.8h0M513.7 157.7h0M498.3 153.9h0M532.9 152.2h0M549.3 159.7h0M539.4 150.3h0M535.8 149.1h0M527.8 162.6h0M517.5 145.5h0M540.2 143.9h0M520.1 150.9h0M509.9 147.0h0M526.7 168.3h0M559.4 158.7h0M514.4 159.6h0M523.4 152.9h0M502.6 152.3h0M513.0 156.5h0M519.2 151.7h0M526.0 161.2h0M523.7 164.6h0M534.0 159.1h0M483.2 155.6h0M558.4 160.8h0M508.5 157.8h0M562.0 158.9h0M535.8 156.5h0M551.0 144.2h0M534.4 151.1h0M541.6 159.3h0M523.0 156.4h0M529.3 151.0h0M546.1 155.5h0M561.0 159.7h0M547.7 159.6h0M471.2 155.3h0M542.8 144.4h0M521.0 156.2h0M484.6 153.2h0M528.8 163.9h0M501.1 153.2h0M527.0 164.2h0M512.2 150.9h0M507.2 160.5h0M529.2 160.1h0M527.5 164.9h0M535.6 147.8h0M534.5 150.5h0M547.5 160.6h0M536.3 143.8h0M555.4 147.7h0M526.5 168.5h0M528.1 162.4h0M499.3 159.9h0M512.6 157.8h0M533.6 150.7h0M533.5 152.8h0M531.8 158.0h0M527.9 163.2h0M529.7 167.1h0M480.4 153.8h0M481.5 155.8h0M515.2 149.8h0M531.8 149.3h0M543.9 163.0h0M525.6 161.4h0M548.4 151.4h0M531.6 147.6h0" stroke="#c8c8c8" stroke-opacity="0.3" stroke-width="2.4" stroke-linecap="round" fill="none"/>
<path d="M524.4 159.6h0M543.4 150.6h0M550.2 159.3h0M474.7 154.4h0M520.3 149.9h0M556.0 161.0h0M535.8 144.5h0M533.3 148.9h0M539.1 150.1h0M545.4 160.2h0M524.6 167.3h0M525.7 162.9h0M489.2 152.2h0M524.7 153.8h0M548.9 160.1h0M513.2 168.4h0M528.2 167.8h0M542.5 156.3h0M530.0 150.3h0M518.4 143.7h0M525.3 168.9h0M491.8 153.7h0M520.6 145.4h0M531.7 153.4h0M517.7 147.9h0M527.3 164.6h0M528.8 161.1h0M533.6 148.2h0M509.4 162.6h0M519.0 154.3h0M522.2 146.5h0M531.2 147.9h0M506.5 169.0h0M540.0 149.0h0M519.1 163.2h0M543.2 155.6h0M503.9 158.9h0M481.2 156.4h0M475.7 155.8h0M546.0 161.2h0M547.0 148.1h0M537.0 148.0h0M504.8 149.2h0M548.3 161.0h0M532.4 164.8h0M529.4 165.4h0M506.6 147.6h0M527.8 162.7h0M510.4 144.4h0M528.8 154.6h0M478.4 155.7h0M535.2 159.7h0M534.4 143.5h0M533.1 162.3h0M514.2 146.5h0M531.6 158.8h0M558.6 159.9h0M528.3 168.1h0M541.8 164.5h0M530.7 147.4h0M524.1 163.6h0M522.4 165.0h0M528.7 166.5h0M532.3 143.8h0M525.9 162.4h0M519.0 163.0h0M515.8 164.1h0M531.2 160.0h0M537.7 155.6h0M543.7 159.7h0M542.9 147.6h0M511.0 166.4h0M554.9 160.6h0M521.8 162.4h0M522.6 168.8h0M520.8 155.1h0M546.1 162.2h0M561.2 159.3h0M467.8 158.4h0M515.7 144.1h0M532.7 162.7h0M501.8 150.8h0M531.2 153.9h0M520.8 154.9h0M519.1 151.5h0M561.5 161.2h0M512.7 152.1h0M531.3 163.9h0M517.1 165.1h0M532.5 151.8h0M537.2 157.9h0M517.6 160.5h0M551.0 150.2h0M523.7 169.0h0M535.5 148.5h0M508.4 151.3h0M537.3 154.1h0M525.5 166.2h0M527.2 163.9h0M536.9 162.3h0M538.6 159.0h0M533.1 152.7h0M519.0 161.4h0M535.5 151.0h0M503.5 151.2h0M535.3 149.9h0M536.2 162.8h0M477.9 155.3h0M536.5 152.4h0M530.1 164.9h0M563.3 160.3h0M523.9 169.2h0M536.7 158.9h0M533.5 144.2h0M521.8 155.3h0M556.4 159.3h0M552.5 160.3h0M494.0 161.7h0M556.4 166.6h0M528.8 162.8h0M525.8 165.2h0M462.7 155.6h0M539.8 146.8h0M544.6 147.3h0M520.3 161.8h0M502.3 162.1h0M530.5 167.5h0M543.4 155.7h0M529.1 162.6h0M543.7 158.0h0M514.4 156.7h0M463.9 153.6h0M537.8 166.2h0M525.3 165.1h0M478.9 155.5h0M536.2 145.9h0M527.4 166.9h0M525.9 167.9h0M524.9 155.8h0M465.0 155.8h0M533.5 152.7h0M509.5 153.5h0M519.1 156.5h0M522.1 144.2h0M526.7 167.8h0M491.8 155.7h0M520.7 153.2h0M514.5 153.8h0M519.6 162.0h0M561.7 161.0h0M524.8 168.4h0M524.6 161.9h0M532.0 150.1h0M509.7 143.5h0M553.8 150.5h0M549.0 156.5h0M523.3 151.7h0M540.5 144.0h0M499.8 159.5h0M542.9 157.6h0M547.8 147.0h0M523.7 160.9h0M519.3 146.9h0M546.1 158.0h0M526.9 167.2h0M531.2 150.9h0M518.2 150.1h0M521.3 149.6h0M538.8 148.5h0M523.2 156.0h0M538.8 150.4h0M536.6 150.0h0M524.5 163.3h0M540.9 151.7h0M509.7 161.8h0M525.3 167.9h0M518.1 163.9h0M540.5 150.3h0M525.8 158.8h0M529.7 155.5h0M527.2 168.6h0M551.5 148.2h0M543.2 145.1h0M513.9 155.2h0M506.6 151.3h0M458.5 159.3h0M543.2 160.7h0M550.3 159.5h0M527.8 160.1h0M539.9 144.4h0M512.1 161.6h0M563.4 159.8h0M472.4 154.4h0M540.4 144.8h0M550.1 160.1h0M516.1 150.2h0M517.5 145.4h0M524.4 156.6h0M493.9 151.6h0M530.5 161.0h0M535.7 153.4h0M512.9 153.0h0M527.4 168.7h0M513.5 145.0h0M522.9 158.1h0M530.9 145.7h0M507.4 150.0h0M537.3 147.7h0M519.0 149.1h0M556.5 160.3h0M512.1 164.1h0M560.6 159.8h0M536.0 144.4h0M521.0 165.4h0M522.4 148.6h0M490.2 156.9h0M548.8 161.4h0M561.3 160.6h0M544.6 160.0h0M531.4 145.2h0M529.6 161.6h0M479.9 155.8h0M528.8 162.0h0M523.9 168.7h0M516.4 150.3h0M529.4 163.2h0M551.8 159.2h0M502.9 160.3h0M539.1 154.2h0M489.0 155.4h0M494.1 169.1h0M540.0 163.6h0M551.7 161.7h0M514.9 151.0h0M527.9 167.9h0M512.2 148.4h0M458.3 157.3h0M517.7 146.1h0M536.3 153.4h0M527.3 167.7h0M532.6 155.2h0M482.7 153.5h0M518.2 149.2h0M528.2 165.7h0M521.8 161.9h0M547.2 164.2h0M519.0 163.3h0M522.2 158.0h0M531.0 149.9h0M541.2 163.7h0M563.8 159.3h0M524.5 160.0h0M554.1 160.5h0M488.2 155.3h0M530.7 165.5h0M512.3 146.2h0M548.4 160.1h0M522.0 160.7h0M541.8 148.9h0M526.9 161.7h0M549.7 157.5h0M542.5 161.7h0M542.3 155.2h0M520.5 147.3h0M539.1 155.6h0M482.1 156.3h0M524.6 162.8h0M534.0 148.4h0M539.7 143.5h0M527.0 169.8h0M508.7 152.8h0M494.4 151.7h0M547.9 144.4h0M523.2 163.5h0M517.2 163.1h0M535.5 150.2h0M531.1 164.8h0M513.7 169.9h0M462.0 151.9h0M527.6 161.8h0M480.2 156.1h0M527.9 167.5h0M528.0 160.4h0M534.3 151.7h0M532.8 155.7h0M526.0 160.3h0M514.3 143.7h0M526.3 166.8h0M530.9 160.6h0M527.4 159.5h0M523.5 164.4h0M537.7 166.4h0M539.7 152.5h0M515.5 145.8h0M538.4 155.0h0M538.4 155.3h0M535.3 151.2h0M523.3 160.7h0M556.6 149.8h0M459.5 153.2h0M524.4 163.7h0M528.3 162.3h0M530.3 169.3h0M525.0 163.5h0M533.7 148.2h0M551.7 151.6h0M509.1 160.8h0M539.9 152.6h0M489.3 155.7h0M525.9 162.4h0M528.3 159.1h0M523.4 161.1h0M510.7 148.5h0M505.1 154.6h0M529.7 165.8h0M545.4 160.4h0M513.8 166.4h0M525.8 168.1h0M527.2 161.0h0M527.7 161.2h0M533.7 149.6h0M538.3 145.1h0M539.9 150.6h0M523.8 156.7h0M485.7 151.9h0M561.1 160.5h0M512.0 147.1h0M521.3 156.3h0M521.5 150.6h0M469.4 156.9h0M524.4 154.7h0M539.1 156.2h0M542.7 159.7h0M523.7 166.8h0M456.4 157.7h0M517.5 162.5h0M537.6 161.9h0M514.9 148.5h0M524.8 162.1h0M501.0 151.9h0M535.5 159.6h0M520.8 151.5h0M528.3 158.7h0M505.7 161.2h0M524.6 165.3h0M537.6 145.7h0M545.8 144.1h0M535.4 154.2h0M548.3 159.9h0M523.8 158.8h0M537.2 143.9h0M534.5 158.0h0M525.9 166.7h0M503.8 164.0h0M522.8 151.9h0M544.0 153.7h0M510.7 153.4h0M544.8 146.1h0M525.2 165.6h0M535.4 155.4h0M519.8 160.9h0M544.7 157.9h0M533.1 164.9h0M458.4 154.8h0M528.3 167.6h0M526.8 169.8h0M540.7 154.7h0M559.9 160.7h0M524.3 163.2h0M538.2 160.6h0M553.6 152.5h0M525.6 169.1h0M539.8 146.8h0M543.6 153.7h0M505.2 152.8h0M561.8 159.9h0M540.0 150.5h0M552.8 148.4h0M556.1 150.6h0M523.9 164.4h0M505.1 152.9h0M530.7 167.6h0M546.2 143.6h0M487.1 158.3h0M532.9 145.7h0M533.2 145.8h0M558.4 159.0h0M533.5 162.8h0M521.2 152.5h0M518.7 155.2h0M529.3 164.7h0M559.1 158.8h0M530.2 155.9h0M534.0 143.8h0M491.7 152.6h0M525.8 166.8h0M521.5 149.5h0M521.1 152.0h0M523.8 165.7h0M522.3 154.3h0M536.1 154.9h0M512.6 161.8h0M527.0 169.3h0M528.7 155.5h0M482.6 152.1h0M520.8 164.7h0M521.6 149.5h0M530.5 148.5h0M529.8 149.8h0M479.5 153.1h0M538.7 145.9h0M508.1 151.2h0M556.4 161.6h0M540.6 168.1h0M476.3 152.9h0M457.2 157.3h0M519.0 150.3h0" stroke="#c8c8c8" stroke-opacity="0.3" stroke-width="2.4" stroke-linecap="round" fill="none"/>
<path d="M526.3 169.9h0M546.9 160.4h0M461.5 152.4h0M457.3 160.1h0M521.8 159.1h0M544.0 156.8h0M525.1 164.9h0M495.3 154.3h0M536.0 156.1h0M529.1 153.1h0M537.1 153.9h0M530.1 152.2h0M557.6 159.9h0M555.3 160.1h0M545.3 156.5h0M539.1 155.9h0M540.5 146.2h0M465.9 153.1h0M539.0 169.7h0M465.9 154.0h0M533.6 166.1h0M542.1 165.7h0M517.8 153.4h0M521.8 146.0h0M462.1 156.0h0M486.4 155.9h0M530.3 159.5h0M534.5 145.1h0M507.6 152.9h0M553.2 150.9h0M546.6 159.7h0M539.2 144.7h0M544.7 159.2h0M528.7 165.7h0M533.9 151.1h0M517.6 145.9h0M525.7 165.4h0M503.3 159.9h0M546.7 158.7h0M550.6 159.7h0M507.4 144.1h0M522.3 157.0h0M545.3 153.9h0M535.9 148.6h0M473.5 156.8h0M535.0 165.7h0M528.1 166.1h0M525.0 162.3h0M512.9 153.9h0M541.1 156.4h0M520.4 152.4h0M532.8 158.0h0M534.0 167.9h0M536.7 148.0h0M507.3 145.8h0M521.6 156.7h0M554.8 165.3h0M522.6 152.6h0M521.7 154.5h0M525.5 157.8h0M550.7 159.4h0M517.7 153.3h0M530.1 168.6h0M546.5 164.3h0M545.3 145.8h0M469.8 157.1h0M545.6 161.4h0M513.4 154.8h0M546.0 152.5h0M525.6 158.5h0M530.1 158.7h0M529.7 163.8h0M517.1 161.5h0M530.3 167.5h0M532.2 149.3h0M516.0 151.3h0M532.7 148.9h0M500.8 150.1h0M560.8 160.3h0M542.3 147.4h0M538.8 147.5h0M460.5 156.0h0M561.1 158.7h0M522.8 165.2h0M538.7 153.8h0M514.7 169.1h0M533.9 156.6h0M520.8 155.8h0M555.8 159.9h0M468.1 154.3h0M551.9 157.8h0M539.1 144.9h0M541.1 159.0h0M531.4 152.4h0M535.7 146.7h0M533.6 152.7h0M555.5 158.6h0M532.4 160.7h0M529.5 163.2h0M509.7 162.8h0M523.0 162.3h0M514.2 163.5h0M524.0 155.6h0M559.2 159.0h0M544.7 154.5h0M533.3 147.8h0M556.5 159.9h0M552.6 160.7h0M514.7 147.5h0M533.7 169.1h0M537.0 151.0h0M517.6 144.0h0M526.9 167.4h0M540.6 145.9h0M546.7 144.7h0M517.8 157.1h0M504.4 154.7h0M526.1 168.1h0M523.1 156.8h0M529.9 154.3h0M458.9 155.8h0M543.0 153.1h0M541.2 152.3h0M540.1 145.0h0M538.1 148.1h0M522.0 163.1h0M524.8 164.3h0M550.2 159.6h0M538.5 163.2h0M556.4 159.1h0M550.7 146.4h0M533.4 151.7h0M527.5 169.3h0M499.0 164.1h0M550.1 161.4h0M530.6 157.5h0M551.5 162.5h0M533.8 147.5h0M526.9 160.9h0M519.2 150.2h0M531.7 149.4h0M534.5 148.3h0M539.6 150.3h0M491.3 155.1h0M517.4 149.4h0M527.4 168.1h0M530.1 169.6h0M506.5 144.2h0M543.4 161.8h0M517.3 160.0h0M528.1 167.4h0M526.8 163.0h0M506.6 144.4h0M530.4 156.4h0M539.7 148.4h0M528.7 157.0h0M515.7 159.8h0M560.0 158.8h0M527.3 169.1h0M527.3 158.9h0M513.2 152.5h0M530.7 157.2h0M541.8 156.2h0M517.3 162.7h0M535.0 156.9h0M518.3 149.2h0M460.1 152.2h0M537.4 148.3h0M523.0 160.8h0M522.5 168.3h0M537.8 145.2h0M529.6 168.3h0M532.7 156.1h0M534.2 160.5h0M516.4 150.6h0M462.3 154.5h0M541.3 161.4h0M525.2 156.3h0M481.7 151.6h0M534.1 158.6h0M523.3 163.7h0M545.6 159.1h0M540.0 158.0h0M551.1 159.6h0M520.6 148.5h0M527.9 162.4h0M528.5 163.8h0M533.2 155.2h0M512.8 144.1h0M517.6 149.0h0M511.9 165.5h0M537.6 155.5h0M553.7 161.2h0M527.9 158.5h0M537.3 152.2h0M513.1 143.9h0M547.0 148.1h0M519.0 146.8h0M537.3 159.6h0M526.5 164.5h0M518.9 163.7h0M533.5 162.3h0M491.5 154.1h0M539.9 157.6h0M545.8 158.8h0M517.4 146.4h0M504.5 147.9h0M527.0 165.5h0M552.2 151.8h0M532.7 154.2h0M522.2 149.3h0M530.1 162.7h0M551.6 155.6h0M514.1 157.6h0M550.8 144.6h0M541.1 150.6h0M551.6 160.0h0M538.0 154.8h0M525.5 160.0h0M541.1 156.0h0M554.5 159.3h0M535.9 148.7h0M526.4 166.4h0M549.0 159.2h0M492.8 161.7h0M527.4 167.1h0M523.2 168.2h0M539.1 149.4h0M530.9 151.5h0M548.1 152.0h0M518.4 158.1h0M538.3 149.7h0M552.5 161.4h0M457.9 155.9h0M513.9 159.5h0M508.3 146.0h0M542.5 145.5h0M545.0 160.7h0M533.9 145.6h0M520.6 154.2h0M551.5 160.1h0M514.5 155.8h0M528.2 160.2h0M457.7 154.4h0M559.1 159.7h0M530.7 145.0h0M487.1 154.0h0M529.0 165.6h0M550.1 148.3h0M530.5 155.3h0M560.2 145.0h0M510.1 159.0h0M525.7 167.2h0M520.8 147.8h0M563.7 160.3h0M518.2 152.9h0M556.7 160.3h0M537.5 157.1h0M551.6 150.8h0M459.7 155.2h0M560.7 161.4h0M516.7 158.4h0M537.5 162.7h0M506.0 161.0h0M553.5 159.6h0M552.5 159.5h0M532.6 147.5h0M466.8 154.0h0M520.1 156.1h0M537.3 154.4h0M529.6 164.4h0M521.7 146.2h0M467.7 156.1h0M527.9 166.2h0M467.5 154.2h0M479.0 154.9h0M545.6 161.1h0M509.9 158.6h0M543.9 154.4h0M531.5 158.3h0M532.2 148.2h0M554.1 159.0h0M515.6 149.6h0M530.8 145.4h0M523.4 148.3h0M517.1 146.9h0M531.3 143.7h0M538.8 147.2h0M515.4 160.8h0M461.9 158.2h0M546.7 147.1h0M537.0 153.7h0M548.3 146.7h0M554.9 160.5h0M519.8 150.9h0M559.6 159.0h0M525.3 164.7h0M515.3 165.5h0M511.2 152.7h0M518.0 153.1h0M529.6 151.6h0M514.8 164.8h0M523.1 162.5h0M563.6 161.2h0M538.4 154.8h0M534.1 159.6h0M529.1 151.3h0M519.9 164.8h0M530.0 168.5h0M538.6 150.1h0M553.5 158.4h0M527.5 163.4h0M521.0 148.7h0M536.1 152.3h0M513.7 150.3h0M548.1 143.6h0M530.7 156.5h0M509.1 151.6h0M534.6 149.3h0M526.7 165.9h0M542.0 153.2h0M534.9 154.2h0M523.2 158.4h0M533.8 145.0h0M526.0 165.7h0M535.2 144.5h0M523.8 169.5h0M514.1 150.5h0M550.0 146.7h0M525.5 165.7h0M547.1 159.0h0M536.7 155.8h0M549.0 148.7h0M542.0 152.5h0M527.2 165.5h0M519.5 157.6h0M523.3 158.3h0M536.7 160.7h0M520.1 153.6h0M507.7 159.6h0M516.3 160.4h0M527.9 158.1h0M520.7 150.7h0M539.4 148.0h0M532.9 147.2h0M533.5 153.8h0M547.4 162.8h0M510.6 153.0h0M527.8 162.9h0M550.0 146.4h0M520.8 164.7h0M542.6 156.4h0M518.7 148.6h0M527.6 163.5h0M468.8 157.1h0M521.7 156.6h0M505.8 152.8h0M526.1 162.9h0M517.1 158.9h0M520.7 150.4h0M536.3 149.4h0M526.5 165.0h0M521.2 147.3h0M486.4 156.0h0M533.4 156.4h0M527.9 159.1h0M511.7 152.6h0M541.6 169.4h0M533.6 160.4h0M490.3 153.7h0M523.0 154.0h0M554.7 158.6h0M510.1 160.7h0M473.9 155.6h0M520.4 150.4h0M523.3 149.2h0M525.9 160.4h0M532.0 146.5h0M535.5 159.8h0M509.6 147.5h0M539.4 148.3h0M531.1 159.7h0M457.9 155.4h0M495.9 156.6h0M503.3 149.7h0M519.0 148.8h0M516.8 154.6h0M510.8 143.7h0M537.0 145.3h0M494.3 153.1h0M531.9 148.5h0M526.4 167.8h0M510.0 145.4h0M530.3 155.6h0M505.2 153.1h0M512.7 162.6h0M518.8 144.5h0M482.3 156.1h0M517.6 153.7h0M516.1 147.3h0M528.6 163.5h0M521.0 161.1h0M477.1 152.0h0M522.2 150.3h0M510.9 150.2h0M530.2 167.9h0M539.7 156.7h0M525.9 164.4h0M540.6 159.5h0M523.9 159.8h0M537.5 144.0h0M487.5 155.8h0M545.9 159.7h0M514.7 144.4h0M520.2 151.8h0M517.7 158.0h0" stroke="#c8c8c8" stroke-opacity="0.3" stroke-width="2.4" stroke-linecap="round" fill="none"/>
<path d="M517.6 164.6h0M526.2 170.0h0M536.3 150.4h0M538.8 164.9h0M481.3 152.1h0M530.1 167.9h0M484.8 155.0h0M542.2 152.9h0M524.0 153.7h0M549.2 160.0h0M529.1 157.9h0M537.2 151.1h0M531.4 147.8h0M517.8 146.5h0M533.6 147.5h0M527.7 160.5h0M534.9 158.3h0M534.0 163.8h0M544.7 147.1h0M550.7 145.9h0M530.3 156.9h0M519.8 150.0h0M498.1 158.8h0M552.2 147.6h0M541.0 144.5h0M495.2 153.7h0M517.1 146.1h0M557.5 160.8h0M542.0 161.1h0M545.8 165.6h0M517.6 145.2h0M555.1 150.7h0M550.2 144.4h0M526.2 166.2h0M540.7 162.5h0M513.9 160.3h0M516.8 147.5h0M538.2 146.3h0M521.4 155.9h0M527.0 166.4h0M526.7 167.6h0M516.9 148.5h0M541.0 148.4h0M554.1 149.9h0M458.3 150.4h0M520.6 163.9h0M516.2 145.0h0M537.0 154.5h0M533.2 163.1h0M537.9 151.4h0M532.9 154.5h0M532.4 156.8h0M520.1 162.2h0M550.7 160.1h0M527.6 158.1h0M525.5 169.7h0M530.0 157.1h0M498.1 161.7h0M533.6 156.4h0M456.4 155.0h0M550.1 151.0h0M527.0 167.4h0M517.5 155.3h0M521.2 147.6h0M540.0 158.9h0M553.8 158.0h0M536.2 144.3h0M464.5 157.5h0M523.8 164.4h0M531.8 149.2h0M524.8 160.7h0M537.9 165.5h0M515.3 147.7h0M460.5 156.7h0M521.9 158.8h0M508.9 150.6h0M524.5 163.7h0M562.1 159.2h0M553.7 161.2h0M524.3 160.0h0M517.8 159.0h0M536.0 147.6h0M515.7 153.1h0M514.1 156.8h0M546.3 145.6h0M521.6 147.1h0M525.0 166.5h0M509.5 145.8h0M509.1 163.0h0M532.5 143.6h0M528.9 163.0h0M551.5 144.5h0M549.2 160.5h0M524.8 168.5h0M518.9 153.0h0M562.8 160.3h0M523.1 152.5h0M557.0 159.8h0M528.1 164.0h0M519.5 162.3h0M526.3 167.5h0M534.3 158.9h0M546.2 146.6h0M561.5 159.9h0M535.9 156.6h0M529.8 158.8h0M549.9 166.3h0M506.5 147.6h0M524.0 156.3h0M531.4 148.6h0M527.4 159.3h0M529.9 150.7h0M499.2 145.4h0M530.5 158.4h0M533.7 159.3h0M546.9 149.1h0M543.5 144.7h0M458.2 155.6h0M514.7 152.6h0M549.7 149.0h0M529.4 151.6h0M495.4 155.8h0M490.2 154.3h0M528.6 156.5h0M533.6 166.0h0M507.5 157.5h0M548.1 169.1h0M525.8 160.1h0M465.4 156.3h0M559.3 154.8h0M519.4 148.2h0M556.4 159.7h0M535.7 159.1h0M465.7 156.0h0M533.5 156.7h0M490.5 153.1h0M522.1 165.2h0M526.0 164.8h0M534.7 148.8h0M528.3 158.2h0M525.7 161.6h0M533.8 169.8h0M532.4 160.6h0M521.1 162.4h0M525.3 158.1h0M503.3 152.5h0M554.6 144.1h0M501.9 155.6h0M544.3 157.3h0M510.2 162.8h0M516.4 146.6h0M513.2 153.8h0M532.4 158.0h0M487.8 155.2h0M537.4 162.0h0M470.9 152.4h0M535.8 158.7h0M524.7 161.2h0M552.1 160.0h0M527.4 167.6h0M539.1 151.7h0M533.8 155.6h0M539.3 154.0h0M521.1 160.4h0M522.2 159.9h0M524.4 156.9h0M524.5 157.0h0M527.6 166.9h0M524.7 154.6h0M534.2 150.0h0M536.8 163.4h0M551.1 146.1h0M520.1 152.8h0M517.2 146.0h0M529.5 152.3h0M563.4 160.0h0M469.7 154.6h0M525.5 161.6h0M525.7 163.3h0M514.3 155.7h0M558.6 153.8h0M542.8 155.0h0M483.2 152.6h0M538.1 144.6h0M524.5 158.3h0M533.5 145.5h0M535.9 158.4h0M477.9 153.1h0M470.3 153.5h0M525.8 169.5h0M537.7 149.2h0M529.0 152.4h0M465.4 152.0h0M540.4 156.2h0M528.8 153.1h0M528.5 165.4h0M535.7 154.1h0M536.5 161.5h0M541.6 144.0h0M529.8 165.1h0M551.4 152.2h0M536.0 144.6h0M515.4 152.7h0M507.7 161.6h0M520.0 164.7h0M548.1 150.6h0M527.7 162.9h0M476.1 153.9h0M536.0 157.5h0M514.5 144.7h0M551.1 159.7h0M531.9 157.9h0M548.4 156.9h0M540.8 152.2h0M519.3 148.9h0M517.4 153.7h0M518.2 143.5h0M557.6 157.1h0M517.0 145.3h0M537.4 145.2h0M535.9 169.1h0M535.3 149.3h0M526.1 166.3h0M529.0 162.8h0M555.9 159.9h0M534.8 144.4h0M523.7 150.5h0M547.6 161.0h0M522.7 158.5h0M521.4 154.8h0M515.1 158.3h0M520.3 165.5h0M529.0 152.9h0M522.9 146.3h0M548.6 153.4h0M513.0 152.0h0M526.2 166.7h0M519.4 145.2h0M531.8 161.6h0M537.8 147.5h0M530.8 154.2h0M523.9 169.9h0M536.8 149.6h0M525.7 159.8h0M532.7 153.5h0M541.6 145.8h0M508.7 151.4h0M521.7 163.6h0M520.2 161.0h0M524.1 154.4h0M539.3 149.1h0M532.9 156.7h0M533.5 144.5h0M524.2 155.5h0M560.4 160.8h0M542.0 156.2h0M514.9 148.7h0M517.5 154.5h0M538.0 144.3h0M548.7 161.8h0M485.5 158.6h0M532.0 162.6h0M506.4 158.2h0M554.2 147.2h0M527.3 161.8h0M547.3 143.6h0M535.5 146.8h0M514.9 156.6h0M539.3 155.2h0M522.7 154.9h0M546.3 167.5h0M530.6 156.6h0M539.9 148.8h0M563.1 160.1h0M511.5 149.2h0M552.2 146.3h0M535.7 153.6h0M517.2 157.6h0M524.1 152.0h0M512.9 147.9h0M532.0 147.1h0M529.6 156.0h0M542.8 168.4h0M536.6 153.5h0M511.3 156.5h0M558.3 158.3h0M546.9 152.1h0M517.3 147.2h0M544.9 147.5h0M544.0 159.6h0M545.2 161.3h0M501.1 144.0h0M522.7 146.8h0M521.5 157.7h0M529.2 166.8h0M538.6 168.4h0M507.0 154.0h0M530.9 159.1h0M536.0 153.5h0M555.0 160.3h0M533.7 151.7h0M507.9 155.6h0M528.7 156.7h0M558.3 158.8h0M456.4 155.5h0M495.3 153.5h0M537.7 169.2h0M489.1 155.0h0M511.5 153.7h0M511.1 148.7h0M539.8 150.5h0M529.5 159.6h0M508.8 147.7h0M528.5 160.0h0M524.9 160.4h0M529.3 165.8h0M522.9 152.5h0M551.3 144.9h0M560.0 161.0h0M535.4 144.6h0M540.3 155.5h0M535.3 155.3h0M534.5 144.6h0M529.2 165.7h0M514.6 147.9h0M519.6 149.7h0M560.8 161.5h0M515.8 159.0h0M523.8 168.3h0M461.9 156.2h0M513.5 158.9h0M518.3 154.3h0M520.4 149.1h0M541.7 157.2h0M508.5 150.5h0M534.0 153.8h0M542.0 144.3h0M507.8 150.6h0M509.4 151.6h0M554.6 159.8h0M494.8 164.3h0M511.6 146.6h0M543.6 146.1h0M497.7 163.4h0M554.2 146.6h0M543.7 146.2h0M537.6 149.0h0M522.3 161.3h0M545.2 153.1h0M557.1 160.2h0M537.8 167.2h0M525.3 165.6h0M547.0 159.9h0M526.5 165.6h0M538.4 152.2h0M545.7 145.6h0M532.1 154.5h0M524.0 167.2h0M542.1 160.3h0M544.8 147.0h0M536.2 149.7h0M483.8 156.5h0M532.0 145.5h0M516.4 165.1h0M516.6 157.7h0M541.5 145.5h0M523.7 151.2h0M528.0 168.9h0M540.7 159.9h0M557.2 160.0h0M535.1 158.7h0M533.7 158.0h0M509.3 165.0h0M534.3 159.5h0M521.6 150.9h0M528.7 166.5h0M531.3 146.1h0M535.6 151.7h0M529.2 158.7h0M522.0 155.4h0M530.0 163.1h0M526.2 165.0h0M509.7 154.2h0M494.0 156.8h0M546.9 151.4h0M511.9 145.9h0M561.0 161.9h0M544.2 149.8h0M533.7 168.6h0M541.5 161.7h0M464.7 158.0h0M520.0 154.1h0M543.5 143.6h0M552.1 159.7h0M525.0 156.2h0M531.9 145.6h0M535.0 159.9h0M496.8 152.9h0M536.8 145.6h0M561.7 161.2h0M523.8 154.5h0M535.6 144.8h0M475.8 155.9h0M547.0 156.3h0M515.2 161.4h0M527.5 168.3h0M544.7 163.9h0M523.4 154.8h0M536.1 149.3h0M539.1 169.4h0M543.8 154.0h0M526.7 169.7h0M550.7 151.9h0M504.1 146.3h0M522.1 165.3h0M547.4 160.8h0" stroke="#c8c8c8" stroke-opacity="0.3" stroke-width="2.4" stroke-linecap="round" fill="none"/>
<path d="M521.6 111.6h0M516.6 126.5h0M516.9 131.3h0M518.8 115.5h0M514.2 135.0h0M522.2 114.6h0M511.5 140.1h0M522.1 141.5h0M496.6 140.9h0M517.6 132.3h0M514.8 131.9h0M517.1 133.6h0M521.3 135.8h0M511.3 118.7h0M502.7 141.2h0M521.6 128.0h0M506.6 136.6h0M513.2 127.7h0M516.8 135.5h0M492.3 130.0h0M521.7 135.4h0M507.0 128.1h0M509.6 123.6h0M506.5 130.5h0M503.4 128.6h0M516.4 138.4h0M519.6 117.2h0M511.8 142.1h0M517.8 117.4h0M511.4 127.7h0M522.4 116.6h0M509.2 138.4h0M512.9 137.0h0M519.0 137.6h0M508.5 140.9h0M499.1 124.0h0M509.8 118.8h0M509.6 111.9h0M521.1 130.7h0M519.0 114.0h0M513.8 124.6h0M513.0 134.3h0M519.4 140.2h0M485.8 136.0h0M512.9 124.0h0M512.6 132.5h0M502.8 122.5h0M499.8 126.0h0M513.8 112.8h0M513.7 139.9h0M513.5 134.6h0M503.7 130.2h0M520.3 119.0h0M511.7 136.7h0M515.4 116.7h0M512.0 126.2h0M506.2 126.2h0M498.7 140.9h0M511.8 139.0h0M517.0 123.4h0M507.1 129.6h0M516.9 118.3h0M518.3 124.5h0M516.8 135.2h0M503.4 110.7h0M520.9 117.7h0M495.1 129.3h0M511.5 126.6h0M516.8 125.1h0M485.1 133.1h0M520.1 119.9h0M509.9 137.0h0M501.1 140.2h0M505.9 138.6h0M521.1 119.0h0M510.2 135.5h0M522.3 131.0h0M514.6 142.0h0M510.5 134.0h0M521.5 124.9h0M490.2 139.1h0M493.5 119.2h0M516.2 125.5h0M509.6 124.8h0M511.3 124.2h0M498.2 128.9h0M521.4 126.1h0M516.9 136.6h0M502.6 125.8h0M505.7 126.9h0M517.3 122.1h0M503.2 137.2h0M475.7 122.1h0M506.9 128.6h0M517.9 142.6h0M484.8 134.9h0M500.1 111.8h0M499.6 135.2h0M514.1 141.7h0M513.4 129.2h0M508.3 138.8h0M508.0 124.5h0M514.5 133.2h0M501.9 129.6h0M514.2 128.1h0M513.4 134.9h0M480.8 130.8h0M520.1 140.6h0M457.1 122.6h0M514.7 140.0h0M519.1 134.8h0M517.5 109.6h0M515.2 142.3h0M513.4 119.8h0M520.8 126.3h0M518.0 120.5h0M521.7 119.1h0M504.6 134.1h0M519.2 134.9h0M511.9 133.8h0M510.7 139.1h0" stroke="#4a98bd" stroke-opacity="0.3" stroke-width="3.0" stroke-linecap="round" fill="none"/>
<path d="M510.6 122.6h0M512.5 110.0h0M516.7 133.1h0M511.0 133.5h0M496.2 135.5h0M512.0 134.2h0M513.2 119.1h0M521.8 120.0h0M485.6 142.2h0M519.6 138.5h0M516.3 118.8h0M509.7 138.2h0M519.1 114.6h0M475.4 130.6h0M503.2 130.4h0M516.7 123.1h0M516.1 132.3h0M515.4 112.5h0M498.9 123.6h0M514.6 141.7h0M495.9 141.6h0M510.0 123.5h0M517.8 124.6h0M520.0 112.2h0M510.8 130.3h0M512.4 136.5h0M509.5 131.9h0M520.1 129.4h0M518.2 118.7h0M512.3 128.1h0M517.7 122.5h0M509.8 123.0h0M522.4 137.9h0M519.6 117.5h0M519.1 122.2h0M521.7 119.5h0M516.0 139.7h0M491.3 123.5h0M519.8 132.4h0M520.0 133.4h0M520.0 116.0h0M509.4 141.4h0M496.7 138.3h0M509.8 127.5h0M511.4 139.3h0M509.3 124.7h0M510.4 133.0h0M519.2 134.0h0M511.2 113.3h0M512.6 110.4h0M506.9 118.0h0M518.2 138.7h0M504.6 130.6h0M512.3 130.8h0M499.0 137.1h0M504.8 116.7h0M500.4 126.5h0M508.8 134.3h0M499.5 138.4h0M510.5 122.4h0M506.0 114.1h0M503.9 132.8h0M498.0 128.0h0M521.0 126.6h0M512.0 129.8h0M517.5 143.0h0M509.4 139.1h0M510.7 133.7h0M515.9 141.4h0M502.8 126.4h0M504.2 99.8h0M511.4 121.2h0M507.1 129.1h0M521.0 126.7h0M503.5 134.3h0M491.9 134.2h0M505.5 120.8h0M507.9 135.0h0M496.6 130.1h0M517.8 134.7h0M521.6 129.1h0M510.2 137.0h0M498.5 121.4h0M510.2 119.3h0M519.0 126.6h0M506.1 127.7h0M512.1 120.1h0M516.7 131.5h0M474.0 138.7h0M516.7 136.3h0M520.7 129.6h0M514.3 137.4h0M511.8 121.4h0M508.3 126.3h0M501.8 126.1h0M522.4 142.5h0M504.1 125.0h0M513.5 142.4h0M498.5 141.6h0M505.4 137.2h0M494.9 128.8h0M510.4 138.8h0M505.0 123.2h0M520.0 116.1h0M503.4 116.3h0M520.2 109.3h0M521.2 134.2h0M519.6 125.1h0M520.0 122.3h0M516.2 116.6h0M508.2 126.9h0M519.5 142.5h0M521.7 133.6h0M512.3 115.1h0M497.2 138.6h0M518.7 115.6h0M522.1 130.5h0M489.2 118.5h0M520.3 134.6h0M508.6 136.0h0M516.0 115.5h0" stroke="#4a98bd" stroke-opacity="0.3" stroke-width="3.0" stroke-linecap="round" fill="none"/>
<path d="M520.9 131.8h0M506.5 138.8h0M491.4 138.0h0M510.4 133.5h0M511.0 129.1h0M509.9 132.5h0M479.4 129.7h0M521.0 112.4h0M522.0 127.9h0M512.5 143.0h0M511.6 114.4h0M507.3 113.8h0M513.0 134.8h0M517.8 125.6h0M507.9 135.1h0M521.2 142.9h0M517.9 143.0h0M517.6 138.3h0M495.3 134.1h0M520.7 133.4h0M506.5 116.6h0M508.2 130.4h0M521.9 136.7h0M475.7 135.7h0M502.5 126.4h0M494.2 125.9h0M515.3 115.9h0M519.2 128.5h0M522.2 124.7h0M516.0 124.3h0M496.9 135.6h0M515.3 132.5h0M493.4 126.8h0M506.3 138.2h0M522.3 116.3h0M512.9 118.6h0M510.9 136.8h0M502.9 125.8h0M509.3 131.2h0M519.3 120.5h0M519.8 120.4h0M511.7 137.8h0M506.6 131.4h0M485.3 118.8h0M507.7 121.3h0M505.4 122.2h0M516.7 143.2h0M511.0 133.3h0M518.3 138.4h0M511.1 142.3h0M506.2 121.2h0M510.5 125.5h0M518.6 126.9h0M505.3 140.2h0M514.4 124.0h0M513.6 131.0h0M515.8 120.4h0M492.8 133.4h0M505.1 136.7h0M518.7 120.1h0M518.7 128.7h0M501.6 133.5h0M512.8 112.7h0M513.6 131.8h0M520.1 111.8h0M489.3 140.8h0M522.1 117.9h0M506.1 111.8h0M518.9 136.2h0M520.5 138.3h0M512.2 135.0h0M508.4 116.1h0M522.0 126.7h0M521.4 113.6h0M519.6 116.7h0M494.8 113.4h0M483.2 138.6h0M509.7 130.1h0M503.0 127.0h0M519.0 113.3h0M502.9 128.1h0M509.6 133.4h0M515.2 132.7h0M511.1 133.1h0M513.0 130.1h0M514.2 121.8h0M509.2 138.0h0M516.9 136.8h0M512.0 139.0h0M518.2 140.4h0M515.2 120.1h0M515.4 114.2h0M512.4 139.9h0M522.1 142.5h0M521.5 141.7h0M520.6 134.8h0M516.4 142.8h0M513.0 135.8h0M521.2 130.8h0M518.9 111.1h0M520.3 128.4h0M522.4 134.6h0M508.4 134.4h0M507.2 122.4h0M505.1 123.4h0M522.3 126.2h0M516.9 125.8h0M509.7 142.6h0M511.6 125.4h0M505.3 132.0h0M477.4 118.6h0M501.8 109.9h0M464.4 137.2h0M518.1 137.5h0M517.6 135.0h0M517.3 137.4h0M510.5 133.7h0M519.6 127.4h0M515.8 139.5h0M508.6 126.1h0" stroke="#4a98bd" stroke-opacity="0.3" stroke-width="3.0" stroke-linecap="round" fill="none"/>
<path d="M505.3 126.5h0M501.6 134.4h0M518.7 129.3h0M510.6 136.7h0M518.0 111.9h0M495.2 129.6h0M520.1 117.3h0M521.2 111.6h0M511.6 129.9h0M521.9 137.2h0M513.2 123.7h0M513.2 113.7h0M505.0 129.9h0M507.9 140.7h0M519.9 134.4h0M519.3 118.9h0M513.1 132.3h0M511.0 119.6h0M510.0 129.3h0M499.5 118.9h0M487.3 139.1h0M512.3 139.6h0M513.2 126.0h0M518.9 128.1h0M505.4 143.3h0M517.1 113.0h0M502.0 119.8h0M518.9 129.3h0M513.8 125.5h0M520.3 121.9h0M521.1 134.3h0M508.4 135.0h0M495.4 127.6h0M507.3 135.8h0M514.4 116.1h0M509.5 133.1h0M506.7 130.9h0M515.5 132.0h0M497.3 129.8h0M509.1 140.4h0M517.7 113.3h0M512.5 99.8h0M518.8 135.1h0M502.8 117.0h0M510.6 123.8h0M519.2 123.9h0M519.1 133.2h0M520.9 133.3h0M517.1 141.3h0M497.9 141.0h0M511.2 141.1h0M522.2 128.0h0M506.3 134.4h0M521.7 124.7h0M513.8 131.3h0M510.2 130.5h0M510.1 128.9h0M516.3 120.0h0M511.6 132.0h0M504.6 130.2h0M507.9 135.2h0M521.2 122.3h0M516.0 134.6h0M503.8 133.2h0M521.7 121.3h0M514.2 125.4h0M502.3 133.8h0M522.1 134.4h0M518.5 120.5h0M507.3 113.8h0M515.4 136.8h0M514.6 141.2h0M519.3 140.7h0M500.8 130.9h0M519.2 111.9h0M516.9 133.3h0M510.2 141.3h0M490.0 132.2h0M520.7 115.5h0M512.5 132.0h0M521.5 137.0h0M505.5 128.9h0M495.2 129.9h0M519.5 139.5h0M501.6 119.9h0M511.5 135.9h0M517.9 134.8h0M497.6 122.4h0M512.2 118.5h0M502.1 121.3h0M520.6 118.4h0M520.9 139.9h0M521.0 118.7h0M506.1 119.4h0M506.9 137.0h0M496.3 137.0h0M513.9 121.9h0M512.3 121.2h0M513.2 133.6h0M509.0 129.2h0M462.1 126.6h0M505.7 125.4h0M518.0 131.7h0M517.6 127.2h0M507.3 140.1h0M517.8 139.6h0M500.6 134.1h0M520.5 111.0h0M519.6 136.4h0M497.7 120.3h0M512.7 109.6h0M513.1 130.8h0M518.4 115.5h0M521.3 139.8h0M465.1 140.6h0M515.4 118.8h0M495.4 133.2h0M502.6 143.0h0M518.4 137.0h0M490.7 137.4h0" stroke="#4a98bd" stroke-opacity="0.3" stroke-width="3.0" stroke-linecap="round" fill="none"/>
<path d="M515.7 130.8h0M513.6 118.4h0M514.1 120.4h0M521.1 122.7h0M518.6 130.6h0M520.3 125.5h0M513.0 135.0h0M519.9 132.7h0M498.5 130.9h0M494.9 118.5h0M516.1 127.0h0M520.6 120.0h0M521.4 131.1h0M518.0 125.4h0M521.4 130.8h0M502.0 121.6h0M502.5 141.4h0M517.7 140.4h0M508.9 120.6h0M468.1 131.1h0M516.2 115.4h0M521.8 113.3h0M509.0 138.0h0M510.8 129.6h0M510.7 126.5h0M520.8 138.9h0M520.8 125.9h0M519.3 133.4h0M510.3 140.3h0M474.7 139.3h0M488.6 139.2h0M505.0 129.6h0M517.7 137.2h0M503.6 118.8h0M521.5 119.6h0M517.0 117.0h0M510.6 122.3h0M511.5 137.1h0M508.0 130.5h0M510.3 114.5h0M522.3 128.4h0M510.4 119.8h0M522.4 143.1h0M512.1 111.9h0M505.1 142.7h0M512.0 118.9h0M495.1 136.6h0M513.1 126.9h0M516.3 140.4h0M519.6 127.4h0M519.9 132.2h0M518.5 122.6h0M508.5 115.0h0M512.2 119.3h0M508.5 122.2h0M506.4 125.8h0M514.6 134.1h0M521.0 117.9h0M507.8 120.1h0M510.0 139.1h0M519.5 140.9h0M519.7 139.5h0M519.2 125.7h0M518.6 114.9h0M507.3 126.4h0M505.8 119.6h0M517.7 115.0h0M517.7 134.7h0M508.1 125.7h0M505.7 132.9h0M487.9 141.2h0M518.3 119.1h0M521.6 129.4h0M513.0 132.3h0M506.8 115.1h0M497.8 123.9h0M514.6 142.3h0M505.3 127.7h0M517.4 119.2h0M486.6 130.6h0M517.1 137.6h0M514.8 128.5h0M516.1 132.3h0M518.1 114.4h0M478.7 133.6h0M517.2 128.5h0M512.3 138.1h0M519.6 124.4h0M497.2 134.8h0M511.7 143.0h0M501.8 125.3h0M517.0 133.1h0M499.7 128.3h0M518.0 137.4h0M507.1 137.1h0M479.0 140.7h0M522.3 116.0h0M514.7 136.6h0M514.6 132.5h0M512.6 133.0h0M519.2 127.0h0M512.9 141.6h0M520.1 129.1h0M513.2 135.3h0M516.7 115.7h0M518.3 133.6h0M509.0 139.5h0M521.7 117.5h0M516.7 131.7h0M520.6 134.4h0M516.3 140.5h0M513.1 115.7h0M519.3 136.5h0M519.8 124.6h0M521.9 122.0h0M519.2 138.7h0M506.7 140.6h0M515.1 127.3h0M506.2 121.5h0M514.7 132.7h0" stroke="#4a98bd" stroke-opacity="0.3" stroke-width="3.0" stroke-linecap="round" fill="none"/>
<path d="M507.5 121.9h0M498.9 122.9h0M513.4 137.1h0M517.1 134.7h0M508.6 117.1h0M519.1 139.7h0M516.4 121.4h0M481.0 124.7h0M508.0 140.3h0M508.4 122.8h0M510.8 124.6h0M506.2 133.2h0M484.2 125.6h0M518.6 137.7h0M507.5 139.8h0M483.0 124.1h0M510.4 116.8h0M509.8 134.1h0M514.0 129.2h0M508.5 117.0h0M514.1 110.7h0M509.5 118.1h0M489.5 128.0h0M470.4 138.4h0M512.2 112.8h0M509.0 132.0h0M514.7 120.8h0M506.6 141.6h0M512.8 119.0h0M496.2 134.3h0M511.8 131.9h0M512.7 117.9h0M511.4 136.3h0M487.4 122.7h0M504.2 120.5h0M519.3 112.7h0M507.7 132.8h0M519.7 118.1h0M501.6 132.2h0M520.3 139.8h0M514.1 132.0h0M497.4 129.8h0M522.3 133.6h0M513.1 123.2h0M520.4 130.0h0M516.0 135.8h0M519.8 131.7h0M512.7 143.4h0M520.3 118.2h0M521.8 138.9h0M521.1 117.3h0M520.8 121.1h0M510.3 138.7h0M519.8 124.3h0M496.6 128.2h0M503.7 134.7h0M495.6 135.5h0M506.9 137.1h0M518.7 134.5h0M501.8 134.9h0M482.2 122.2h0M512.7 114.3h0M520.3 119.6h0M522.0 131.4h0M521.8 128.8h0M506.0 139.5h0M511.9 128.7h0M519.5 126.8h0M518.1 126.3h0M511.2 133.5h0M506.8 119.6h0M520.8 131.2h0M508.1 135.0h0M464.3 126.4h0M521.8 143.2h0M516.6 123.3h0M514.5 125.7h0M509.7 142.1h0M516.5 128.8h0M509.1 130.0h0M516.7 133.4h0M521.2 136.9h0M512.1 125.8h0M511.2 118.2h0M505.4 141.8h0M510.8 133.8h0M507.5 132.4h0M512.4 127.9h0M518.1 131.0h0M505.2 128.0h0M487.8 137.7h0M508.6 138.4h0M517.0 132.8h0M516.6 112.5h0M517.7 130.6h0M508.8 131.7h0M516.8 129.3h0M517.6 117.5h0M508.6 126.5h0M501.1 127.6h0M509.1 141.0h0M496.3 117.2h0M501.0 117.7h0M511.0 122.1h0M510.7 127.6h0M493.3 132.5h0M510.6 120.7h0M503.7 129.0h0M520.2 126.1h0M507.2 109.8h0M521.8 130.2h0M511.8 133.7h0M506.9 139.8h0M518.1 140.9h0M507.4 117.7h0M518.0 142.3h0M522.3 128.2h0M518.6 134.7h0M519.5 139.4h0M515.8 118.3h0" stroke="#4a98bd" stroke-opacity="0.3" stroke-width="3.0" stroke-linecap="round" fill="none"/>
<path d="M508.9 117.7h0M514.7 117.4h0M514.4 111.4h0M509.7 112.7h0M512.6 139.4h0M520.4 114.7h0M518.7 128.4h0M504.0 132.1h0M507.1 130.8h0M505.1 122.3h0M520.0 124.5h0M489.4 135.0h0M503.5 120.9h0M519.9 117.2h0M501.9 132.5h0M504.9 123.6h0M500.4 135.9h0M513.8 127.3h0M504.2 138.2h0M508.9 139.8h0M514.0 142.2h0M514.0 132.2h0M509.4 124.7h0M513.8 126.6h0M521.7 128.1h0M511.8 142.0h0M521.0 113.9h0M514.1 131.1h0M518.6 113.8h0M510.2 131.5h0M502.0 128.0h0M516.9 128.2h0M510.4 134.8h0M506.3 129.9h0M483.8 125.0h0M516.9 112.1h0M522.2 138.7h0M521.3 128.5h0M506.2 141.2h0M521.6 137.6h0M517.1 131.9h0M510.9 138.1h0M510.9 141.0h0M521.6 142.1h0M508.7 122.0h0M515.6 140.2h0M521.1 139.8h0M508.8 139.6h0M514.0 131.1h0M510.7 135.8h0M511.2 135.1h0M502.4 122.7h0M513.7 122.3h0M520.3 114.5h0M516.6 118.2h0M509.3 132.0h0M491.3 134.8h0M516.5 121.8h0M498.4 133.0h0M496.1 134.9h0M497.0 136.7h0M518.4 131.2h0M507.6 125.9h0M508.9 126.7h0M506.0 119.8h0M521.2 132.5h0M521.6 122.6h0M521.3 142.0h0M508.9 134.6h0M505.7 128.0h0M512.1 135.4h0M499.7 134.9h0M508.9 142.9h0M512.6 143.2h0M513.2 142.8h0M516.7 124.6h0M510.9 131.8h0M518.9 136.4h0M484.6 135.6h0M502.5 130.7h0M518.6 129.8h0M519.8 121.5h0M522.0 124.3h0M505.9 135.3h0M516.9 126.4h0M514.3 142.6h0M508.5 129.2h0M505.7 130.6h0M511.8 136.6h0M509.7 124.4h0M516.1 109.6h0M519.9 131.2h0M502.3 131.7h0M512.6 134.8h0M508.0 139.9h0M521.3 115.0h0M502.6 125.2h0M519.8 124.5h0M507.5 128.0h0M518.7 113.5h0M518.4 130.8h0M516.3 122.7h0M518.4 120.2h0M502.3 132.2h0M505.1 143.1h0M461.7 126.4h0M519.3 137.2h0M510.7 135.5h0M501.7 108.1h0M483.2 140.4h0M515.8 89.4h0M514.2 141.7h0M513.0 114.0h0M517.4 113.7h0M491.6 132.8h0M468.5 131.0h0M515.4 140.3h0M514.8 111.7h0M519.0 139.1h0M509.6 138.5h0" stroke="#4a98bd" stroke-opacity="0.3" stroke-width="3.0" stroke-linecap="round" fill="none"/>
<path d="M517.1 137.7h0M521.7 133.0h0M510.2 135.3h0M521.2 129.5h0M510.6 120.4h0M510.1 128.3h0M512.1 132.4h0M497.0 130.0h0M510.1 134.2h0M517.8 140.5h0M519.1 142.1h0M495.1 138.3h0M519.6 131.7h0M514.9 117.6h0M506.1 134.7h0M520.2 112.0h0M494.1 134.1h0M517.9 124.5h0M522.4 138.0h0M521.6 132.3h0M500.8 133.9h0M504.8 140.6h0M508.8 129.2h0M517.4 139.6h0M506.9 127.6h0M500.6 142.9h0M508.8 133.7h0M512.0 129.9h0M495.9 132.4h0M505.6 131.6h0M459.3 120.1h0M514.2 131.7h0M515.3 118.0h0M497.6 114.3h0M511.7 134.2h0M519.1 140.0h0M513.5 119.6h0M517.3 133.2h0M505.2 138.6h0M514.0 112.5h0M509.5 132.3h0M516.8 114.1h0M510.0 137.0h0M508.0 111.7h0M521.1 121.7h0M516.7 136.6h0M519.0 114.9h0M521.1 117.6h0M521.7 132.3h0M492.6 128.9h0M516.6 114.5h0M509.4 137.8h0M509.2 123.3h0M509.1 130.4h0M517.8 123.6h0M520.6 128.6h0M517.2 136.8h0M504.9 123.7h0M516.1 130.0h0M501.8 118.8h0M518.1 134.8h0M508.7 111.7h0M515.4 139.6h0M507.6 118.6h0M522.3 132.2h0M501.2 119.6h0M515.3 136.0h0M514.0 137.0h0M495.7 121.9h0M520.0 113.9h0M517.7 128.9h0M516.2 133.3h0M508.4 138.5h0M517.9 132.5h0M509.9 138.9h0M514.8 116.9h0M511.8 113.1h0M506.4 141.1h0M502.3 136.7h0M519.3 140.6h0M492.1 130.1h0M510.1 116.4h0M510.7 118.4h0M493.5 120.7h0M501.1 126.5h0M509.8 127.1h0M505.0 140.6h0M516.3 121.0h0M506.9 120.9h0M497.6 137.3h0M521.1 142.2h0M515.2 128.4h0M499.8 133.2h0M513.6 111.0h0M470.4 139.0h0M495.9 124.6h0M520.7 123.8h0M520.9 128.5h0M511.1 132.8h0M507.4 135.2h0M513.1 137.6h0M508.9 114.4h0M507.1 142.3h0M515.9 117.0h0M488.2 119.7h0M505.7 131.1h0M505.4 127.9h0M522.4 136.2h0M505.0 121.0h0M519.6 115.0h0M521.8 133.6h0M514.5 139.2h0M508.7 131.6h0M505.4 120.3h0M510.1 137.2h0M521.0 121.7h0M508.2 126.2h0M507.8 125.5h0M515.7 123.5h0M510.6 127.1h0" stroke="#4a98bd" stroke-opacity="0.3" stroke-width="3.0" stroke-linecap="round" fill="none"/>
<path d="M532.6 97.1h0M544.4 125.0h0M552.7 133.2h0M543.0 125.9h0M558.6 117.1h0M549.2 138.9h0M557.3 132.9h0M544.0 120.7h0M542.4 93.9h0M543.6 125.3h0M537.6 122.8h0M534.4 92.1h0M542.6 126.1h0M532.0 142.4h0M543.3 137.1h0M536.2 114.0h0M545.1 127.3h0M533.6 142.3h0M530.9 134.9h0M537.3 114.2h0M533.9 139.1h0M540.2 125.3h0M533.3 116.5h0M540.9 136.5h0M548.1 127.5h0M534.6 128.6h0M562.7 129.0h0M531.3 98.2h0M538.2 97.3h0M542.7 140.6h0M552.8 138.7h0M560.0 130.9h0M542.7 126.8h0M540.0 103.7h0M543.1 136.7h0M537.8 108.3h0M546.6 98.8h0M536.8 141.7h0M537.3 109.1h0M538.6 105.9h0M535.4 109.4h0M556.3 128.7h0M541.8 116.0h0M540.8 119.1h0M532.4 116.8h0M548.3 134.2h0M544.6 139.6h0M563.7 133.2h0M548.1 124.6h0M539.1 128.9h0M544.5 106.8h0M536.0 88.3h0M538.6 96.6h0M539.3 82.6h0M543.1 124.2h0M534.0 135.0h0M533.2 98.2h0M543.8 134.1h0M535.3 141.4h0M541.5 85.6h0M540.7 140.8h0M531.6 110.4h0M533.4 129.0h0M539.0 87.5h0M533.0 134.6h0M538.3 110.2h0M539.2 92.0h0M531.5 112.1h0M558.3 138.6h0M542.5 139.3h0M544.9 118.0h0M536.0 133.7h0M541.2 88.2h0M532.0 97.2h0M538.9 130.3h0M543.6 120.9h0M534.6 124.8h0M541.9 127.5h0M532.9 137.2h0M537.8 86.1h0M541.1 72.7h0M539.9 112.0h0M535.7 104.8h0M544.8 132.3h0M532.4 140.6h0M539.9 131.8h0M531.9 112.9h0M546.8 129.6h0M535.9 95.4h0M540.4 104.4h0M547.9 120.8h0M536.0 130.6h0M533.5 120.2h0M532.2 142.3h0M539.9 101.3h0M545.4 125.8h0M530.9 143.1h0M543.5 122.4h0M531.8 142.6h0M540.8 131.6h0M536.3 136.8h0M533.6 106.7h0M547.2 122.7h0M535.8 142.0h0M547.9 141.3h0M540.5 126.7h0M545.6 142.7h0M538.5 139.7h0M543.2 131.6h0M531.7 114.0h0M539.3 116.3h0M551.9 128.0h0M531.8 123.9h0M532.3 114.6h0M534.5 138.1h0M548.3 141.4h0M549.1 116.4h0M539.1 142.5h0M540.2 103.8h0M543.5 94.1h0M539.7 137.1h0M532.7 125.4h0M541.9 130.1h0M536.6 138.3h0M540.6 119.6h0M541.9 138.5h0M533.3 140.7h0M536.6 139.6h0M533.9 135.0h0M533.0 112.4h0M539.8 99.8h0M575.9 122.6h0M543.5 133.0h0M539.7 142.6h0M555.3 132.0h0M536.6 135.9h0M531.8 142.4h0M533.7 98.5h0M562.9 131.7h0M539.7 131.0h0M545.7 104.9h0M534.3 88.5h0M535.4 107.8h0M541.7 132.9h0M531.1 124.8h0M537.2 139.0h0M533.2 141.7h0M534.7 133.0h0M540.9 137.0h0M537.0 130.1h0M557.5 135.0h0M534.8 131.3h0M535.0 137.3h0M562.3 118.5h0M543.0 116.3h0M535.2 135.1h0M561.2 123.8h0M533.3 112.5h0M534.7 142.9h0M534.3 93.7h0M537.0 112.3h0M540.4 128.4h0M531.5 129.1h0M534.3 108.7h0M543.5 93.9h0M542.1 110.5h0M535.5 137.3h0M531.5 126.1h0M534.8 118.2h0M555.3 130.1h0M531.2 127.9h0M554.2 136.5h0M532.7 94.1h0M543.0 127.7h0M535.2 128.3h0M531.1 125.0h0M535.4 88.7h0M533.6 134.6h0M539.6 135.4h0M531.3 112.9h0M538.9 119.3h0M534.4 140.9h0M547.2 138.7h0M574.3 120.6h0M535.5 110.3h0M534.5 133.3h0M539.2 128.1h0M533.4 141.9h0M534.3 116.3h0M576.4 133.1h0M533.3 94.3h0M547.2 119.6h0M542.1 132.4h0M541.2 133.2h0M540.8 94.9h0M533.7 102.1h0M540.7 131.8h0M566.8 125.1h0M541.8 121.8h0M535.6 86.1h0M531.4 120.3h0M536.9 109.3h0M535.2 111.9h0M557.2 137.5h0M546.8 136.0h0M538.6 133.1h0M541.1 137.4h0M551.0 126.1h0M539.8 134.5h0M555.1 134.6h0M544.2 125.9h0M542.9 119.8h0M541.6 120.8h0M536.6 90.3h0M533.1 123.3h0M539.3 137.0h0M535.1 108.1h0M540.8 134.0h0M542.5 140.6h0M546.7 112.2h0M533.2 142.1h0M534.4 123.0h0M531.0 105.2h0M539.2 130.0h0M532.3 140.7h0M537.7 122.1h0M533.4 104.0h0M532.5 134.4h0M534.8 124.9h0M541.9 123.2h0M549.7 125.1h0M539.2 137.5h0M533.3 115.0h0M533.3 113.4h0M573.5 139.4h0M542.8 106.5h0M548.5 132.3h0M532.0 140.7h0M572.3 116.8h0M564.0 137.6h0" stroke="#e0474c" stroke-opacity="0.3" stroke-width="3.0" stroke-linecap="round" fill="none"/>
<path d="M530.9 113.6h0M532.5 124.9h0M542.8 119.3h0M546.0 130.3h0M532.8 97.6h0M551.3 132.6h0M542.6 113.8h0M555.3 137.5h0M544.8 118.9h0M537.0 136.1h0M531.0 121.2h0M548.0 135.6h0M542.0 90.5h0M538.8 97.6h0M533.0 117.0h0M536.1 88.3h0M531.5 132.5h0M534.3 136.7h0M541.0 126.0h0M535.7 142.3h0M534.2 116.3h0M532.4 106.3h0M536.7 84.0h0M534.4 140.6h0M543.3 134.1h0M532.4 98.5h0M531.6 112.1h0M542.5 127.9h0M532.7 138.4h0M536.1 114.0h0M538.8 141.6h0M559.9 124.7h0M553.1 130.2h0M534.2 131.6h0M535.6 117.7h0M534.1 122.3h0M533.2 92.1h0M543.3 106.8h0M540.2 142.8h0M540.4 128.7h0M534.6 110.1h0M539.0 114.3h0M547.0 132.3h0M546.2 105.4h0M544.8 131.4h0M531.9 116.2h0M536.7 126.0h0M545.1 138.6h0M532.4 141.8h0M533.1 120.5h0M531.8 125.2h0M531.0 142.9h0M537.3 130.0h0M538.6 82.2h0M585.5 126.8h0M540.1 121.9h0M541.2 110.4h0M538.8 131.5h0M532.1 104.5h0M532.9 122.1h0M542.3 133.7h0M549.2 140.3h0M548.2 136.0h0M531.6 140.3h0M550.1 131.4h0M540.5 129.2h0M531.0 139.8h0M537.5 106.9h0M561.3 130.3h0M543.0 121.1h0M532.5 141.4h0M540.7 91.3h0M534.9 135.2h0M533.8 111.8h0M532.2 125.3h0M537.4 136.0h0M559.5 135.4h0M540.2 136.4h0M532.5 140.3h0M539.5 118.2h0M547.3 123.3h0M538.4 132.5h0M563.0 126.9h0M558.9 117.6h0M541.0 115.6h0M540.9 133.1h0M533.7 106.9h0M560.9 120.6h0M540.2 140.9h0M542.5 122.0h0M557.2 125.7h0M592.7 132.6h0M545.7 135.2h0M531.3 116.2h0M543.7 137.2h0M532.1 134.4h0M538.6 81.2h0M539.7 105.0h0M545.9 122.6h0M540.4 85.4h0M540.8 90.2h0M534.0 133.1h0M536.7 137.6h0M538.6 129.8h0M541.1 85.8h0M531.3 126.6h0M543.8 128.1h0M532.4 133.6h0M532.8 107.6h0M549.5 136.6h0M538.1 114.7h0M539.2 112.5h0M540.3 139.0h0M536.4 111.4h0M538.2 143.1h0M547.7 133.6h0M565.6 122.1h0M532.3 130.4h0M532.8 136.8h0M539.9 111.5h0M571.5 118.9h0M531.9 140.1h0M569.7 128.7h0M542.0 141.8h0M541.0 125.1h0M539.7 94.5h0M535.2 132.9h0M543.1 121.2h0M542.1 138.4h0M535.9 101.0h0M532.8 96.8h0M567.6 129.3h0M539.4 125.6h0M536.7 103.4h0M541.0 133.1h0M537.4 87.7h0M532.1 132.2h0M538.9 107.2h0M536.9 123.9h0M533.6 142.8h0M535.5 131.1h0M532.6 133.0h0M556.7 136.5h0M543.0 127.0h0M534.0 97.1h0M542.6 140.7h0M546.9 116.0h0M541.9 132.8h0M534.1 105.2h0M556.5 142.8h0M542.3 141.5h0M535.6 119.9h0M531.2 100.4h0M543.7 138.0h0M531.8 124.6h0M545.0 118.2h0M567.4 140.4h0M539.2 87.3h0M535.9 89.9h0M541.0 141.0h0M544.7 116.1h0M531.0 128.3h0M536.6 142.8h0M534.6 89.2h0M544.1 134.9h0M533.7 110.1h0M536.4 140.0h0M554.4 128.7h0M565.1 127.2h0M535.4 122.0h0M536.0 83.9h0M542.5 107.5h0M535.7 120.6h0M539.4 123.8h0M531.3 139.9h0M543.1 138.2h0M536.4 134.4h0M531.7 101.9h0M531.6 125.5h0M538.7 94.0h0M556.6 125.3h0M534.2 122.4h0M537.9 97.6h0M544.1 126.2h0M532.5 142.2h0M531.9 135.2h0M541.7 136.3h0M532.4 131.3h0M535.9 141.1h0M533.5 107.6h0M539.9 132.1h0M530.9 141.2h0M538.3 98.8h0M536.9 116.5h0M535.8 115.1h0M532.2 130.0h0M532.4 129.4h0M540.4 134.1h0M536.4 119.2h0M533.0 98.2h0M543.7 141.4h0M536.7 106.4h0M541.0 130.8h0M537.5 87.8h0M540.0 109.2h0M556.6 141.5h0M539.9 140.3h0M544.7 128.9h0M550.5 127.8h0M542.0 132.6h0M536.5 111.9h0M534.9 126.4h0M541.9 135.2h0M534.3 124.5h0M579.1 133.5h0M532.7 140.7h0M531.0 139.2h0M533.5 142.7h0M534.7 133.4h0M532.5 136.4h0M536.2 121.5h0M553.2 116.4h0M534.2 140.2h0M550.1 129.9h0M536.1 138.3h0M532.9 134.4h0M553.1 142.0h0M541.3 136.7h0M583.8 140.3h0M536.3 106.0h0M536.0 90.2h0M542.0 123.4h0M536.8 138.8h0M538.9 115.9h0M531.8 97.3h0M544.4 102.0h0M531.4 130.6h0M563.7 140.8h0M538.8 90.6h0M558.4 117.8h0" stroke="#e0474c" stroke-opacity="0.3" stroke-width="3.0" stroke-linecap="round" fill="none"/>
<path d="M538.6 127.4h0M535.1 90.9h0M543.6 132.9h0M536.6 141.5h0M539.9 140.5h0M560.3 139.1h0M538.5 123.7h0M535.3 142.4h0M537.5 118.7h0M549.7 122.5h0M534.8 141.9h0M533.3 132.5h0M546.3 117.3h0M532.2 138.0h0M536.0 123.8h0M533.2 118.5h0M543.6 105.2h0M547.1 128.8h0M532.6 129.9h0M538.2 130.1h0M536.4 129.1h0M536.7 120.0h0M543.3 138.1h0M535.3 100.1h0M549.1 135.7h0M539.3 124.8h0M532.9 135.9h0M543.7 106.9h0M545.8 139.3h0M535.5 142.5h0M538.0 141.6h0M531.7 114.2h0M533.2 133.7h0M536.1 136.2h0M557.5 143.3h0M535.9 123.3h0M541.7 93.3h0M532.1 139.2h0M539.8 140.8h0M538.4 85.7h0M535.0 142.8h0M534.9 143.0h0M537.1 122.8h0M548.3 126.2h0M533.6 138.9h0M539.9 105.6h0M542.7 130.4h0M556.3 128.1h0M542.1 121.6h0M548.0 114.8h0M539.2 129.2h0M537.3 105.0h0M552.9 137.7h0M544.8 140.7h0M549.9 121.9h0M532.7 92.3h0M534.1 127.4h0M536.4 137.3h0M535.4 120.8h0M553.2 127.7h0M534.9 142.1h0M538.0 98.2h0M543.7 107.6h0M543.3 117.0h0M553.2 131.8h0M547.9 131.6h0M560.1 120.6h0M551.0 141.8h0M535.4 110.2h0M545.6 114.0h0M539.0 102.3h0M551.3 131.6h0M540.9 131.3h0M541.5 124.0h0M536.6 124.3h0M574.0 132.4h0M538.5 129.4h0M532.7 109.3h0M541.3 128.3h0M545.6 111.6h0M530.9 135.5h0M533.9 105.2h0M531.0 142.5h0M555.4 130.8h0M534.6 89.1h0M544.3 134.6h0M536.5 118.6h0M541.4 141.6h0M533.0 135.6h0M533.2 140.6h0M536.0 142.2h0M539.6 138.0h0M533.7 117.9h0M546.8 117.0h0M542.9 94.8h0M551.9 129.6h0M539.7 122.1h0M531.3 112.4h0M533.0 97.2h0M537.6 95.0h0M539.7 132.8h0M533.6 124.3h0M532.1 107.3h0M543.7 93.0h0M532.4 142.7h0M545.3 124.4h0M535.7 106.6h0M540.7 121.1h0M534.2 133.4h0M570.2 124.7h0M530.9 111.5h0M539.8 126.1h0M541.4 133.3h0M531.2 132.0h0M539.0 126.6h0M533.5 123.9h0M534.6 133.2h0M535.1 114.7h0M541.1 138.3h0M544.0 119.1h0M538.5 111.4h0M536.0 127.1h0M553.6 103.9h0M544.1 138.5h0M531.9 137.9h0M553.4 122.5h0M545.5 132.4h0M539.5 140.2h0M531.8 110.0h0M533.7 141.6h0M558.6 128.8h0M532.2 95.1h0M534.4 139.6h0M564.9 135.0h0M532.7 124.5h0M531.7 111.9h0M531.7 140.5h0M541.2 118.4h0M535.8 101.5h0M539.6 112.3h0M559.3 128.2h0M557.1 132.7h0M532.1 104.8h0M542.0 130.8h0M531.5 98.8h0M572.5 117.9h0M544.8 122.9h0M538.9 142.5h0M533.4 125.1h0M536.0 131.2h0M539.4 117.0h0M551.2 142.6h0M531.5 109.7h0M534.8 125.6h0M542.7 135.7h0M541.7 118.3h0M565.7 126.9h0M540.1 87.5h0M544.2 138.7h0M531.3 118.8h0M531.8 137.0h0M538.6 133.8h0M546.7 135.1h0M557.0 140.9h0M534.2 99.6h0M534.2 124.0h0M563.9 121.4h0M532.6 122.8h0M534.3 141.8h0M531.0 131.9h0M547.2 103.7h0M531.6 99.0h0M535.0 103.7h0M544.8 120.5h0M539.3 133.3h0M558.4 142.7h0M534.2 107.1h0M547.2 119.5h0M532.5 101.9h0M541.4 133.9h0M534.3 123.8h0M534.0 142.1h0M533.8 137.6h0M540.1 136.0h0M534.8 124.6h0M536.3 134.0h0M534.8 142.1h0M543.1 98.9h0M533.7 136.7h0M539.2 142.5h0M543.1 122.4h0M562.3 130.2h0M545.6 138.7h0M542.3 124.0h0M535.2 142.0h0M535.4 142.7h0M536.4 143.0h0M563.6 129.1h0M536.9 130.1h0M545.7 142.7h0M544.0 131.8h0M537.8 139.6h0M533.8 127.5h0M549.4 95.6h0M535.2 100.4h0M556.5 133.6h0M533.1 94.8h0M537.0 99.0h0M539.5 142.1h0M535.9 142.6h0M531.0 135.8h0M538.8 140.7h0M550.8 134.7h0M542.7 128.7h0M541.9 111.9h0M541.5 127.5h0M544.6 113.9h0M547.4 142.2h0M542.5 139.0h0M535.2 141.8h0M531.8 142.6h0M531.2 120.1h0M540.5 97.6h0M555.4 140.5h0M544.8 130.7h0M534.4 90.2h0M552.7 129.6h0M537.1 139.3h0M533.0 97.0h0M549.5 134.0h0M539.8 134.2h0M535.3 132.8h0M532.3 140.5h0M537.6 130.4h0M535.0 105.8h0M556.6 136.7h0M538.2 81.5h0M531.1 126.9h0M538.1 138.2h0M548.6 142.7h0" stroke="#e0474c" stroke-opacity="0.3" stroke-width="3.0" stroke-linecap="round" fill="none"/>
<path d="M536.3 90.4h0M539.6 117.8h0M544.9 131.8h0M536.3 83.7h0M533.1 122.5h0M538.5 110.1h0M531.9 138.1h0M538.2 90.7h0M578.2 126.9h0M530.8 108.2h0M541.1 137.7h0M531.9 104.4h0M539.1 119.7h0M541.8 131.7h0M541.5 143.3h0M541.2 129.3h0M533.5 115.2h0M540.8 139.9h0M567.0 130.7h0M542.5 127.0h0M585.4 123.6h0M536.1 90.7h0M531.8 142.2h0M533.9 128.0h0M543.5 120.7h0M534.4 140.0h0M535.4 125.2h0M533.3 135.9h0M545.4 140.1h0M532.7 132.6h0M534.4 91.5h0M532.9 105.2h0M534.0 111.4h0M533.2 134.7h0M531.6 127.6h0M540.5 120.9h0M544.4 97.9h0M533.8 114.3h0M539.4 139.4h0M539.4 135.5h0M533.4 94.4h0M534.7 123.3h0M533.7 143.0h0M535.3 132.1h0M543.2 133.3h0M544.3 135.6h0M538.2 113.8h0M538.2 136.2h0M530.9 116.7h0M537.7 129.7h0M531.1 134.1h0M562.6 140.2h0M541.6 90.0h0M535.7 142.5h0M538.7 97.8h0M538.0 82.0h0M534.1 103.8h0M544.9 104.4h0M540.9 132.4h0M537.1 111.2h0M537.4 142.9h0M540.1 131.5h0M553.2 130.5h0M537.5 119.3h0M541.1 125.1h0M540.1 139.0h0M543.8 107.5h0M542.6 125.3h0M535.1 134.2h0M554.4 135.6h0M550.9 135.0h0M532.9 137.9h0M537.4 115.1h0M535.2 135.5h0M532.0 117.3h0M539.7 142.0h0M545.8 122.6h0M536.5 91.2h0M531.4 105.6h0M532.3 137.5h0M537.9 115.4h0M548.4 123.7h0M544.0 134.9h0M583.9 118.0h0M531.5 141.2h0M537.2 131.2h0M546.2 134.6h0M545.8 127.3h0M535.1 99.1h0M561.2 132.5h0M541.7 113.5h0M549.5 124.3h0M542.9 112.4h0M536.7 134.2h0M533.8 99.4h0M530.8 129.4h0M539.4 140.9h0M532.1 128.0h0M557.5 120.5h0M536.5 102.3h0M536.4 104.9h0M535.6 141.9h0M533.2 110.1h0M539.2 117.4h0M536.8 140.7h0M537.8 122.6h0M533.4 139.1h0M540.4 139.5h0M546.2 108.1h0M534.0 110.8h0M532.7 140.1h0M556.9 138.7h0M536.3 117.7h0M535.7 89.7h0M533.4 141.5h0M530.8 129.2h0M545.6 139.3h0M535.7 140.0h0M534.9 94.0h0M532.0 129.6h0M539.2 135.5h0M539.5 99.8h0M547.2 141.1h0M546.1 128.1h0M540.3 135.0h0M535.6 123.4h0M548.7 130.2h0M530.8 129.2h0M530.9 137.6h0M536.6 136.9h0M532.7 114.7h0M534.9 92.6h0M578.2 131.1h0M533.2 122.3h0M550.8 142.2h0M542.7 126.1h0M556.4 133.7h0M533.4 127.7h0M541.4 94.9h0M537.6 142.3h0M532.1 125.0h0M534.6 116.1h0M548.8 115.0h0M554.8 130.8h0M530.9 125.9h0M531.1 132.7h0M532.4 95.3h0M537.8 99.2h0M546.6 116.4h0M533.2 138.3h0M542.0 134.0h0M540.0 90.3h0M532.9 133.1h0M550.7 134.5h0M541.2 139.3h0M541.4 132.3h0M538.1 133.7h0M538.0 123.5h0M537.3 138.1h0M541.0 124.6h0M537.3 140.2h0M537.7 112.8h0M542.1 127.9h0M536.1 139.0h0M548.9 136.1h0M544.0 133.3h0M536.8 134.2h0M553.7 134.5h0M537.6 114.2h0M533.1 117.5h0M539.5 132.0h0M545.1 102.3h0M543.5 128.4h0M542.9 136.1h0M574.9 139.4h0M542.3 135.7h0M547.7 123.0h0M551.5 130.9h0M550.9 123.0h0M546.3 120.9h0M534.6 134.3h0M533.0 142.0h0M539.1 126.9h0M542.2 133.4h0M531.5 113.0h0M533.9 127.3h0M536.8 103.5h0M549.3 124.9h0M539.6 136.4h0M533.8 95.5h0M538.2 102.8h0M532.8 139.7h0M534.3 111.2h0M531.8 131.8h0M531.9 134.0h0M533.9 120.5h0M542.5 139.3h0M531.1 135.5h0M546.4 137.5h0M541.9 132.7h0M536.2 97.4h0M537.7 137.2h0M535.1 138.8h0M538.4 101.1h0M532.1 128.5h0M538.1 132.8h0M533.8 139.2h0M532.3 127.5h0M537.4 99.5h0M540.8 120.6h0M542.7 125.4h0M531.3 116.1h0M538.6 81.6h0M531.8 99.6h0M534.7 97.3h0M535.9 140.9h0M548.7 116.1h0M532.9 114.1h0M537.9 93.1h0M538.0 112.2h0M535.2 130.3h0M539.8 138.6h0M544.9 120.7h0M545.1 142.3h0M531.4 124.7h0M535.2 138.7h0M534.3 97.3h0M544.8 126.2h0M542.1 104.8h0M533.8 131.1h0M536.5 142.4h0M532.7 140.7h0M539.9 134.2h0M536.4 142.7h0M544.8 123.8h0M538.4 96.4h0M533.3 140.0h0M549.6 133.5h0M540.6 132.3h0" stroke="#e0474c" stroke-opacity="0.3" stroke-width="3.0" stroke-linecap="round" fill="none"/>
<path d="M533.0 139.1h0M537.1 94.7h0M533.4 138.1h0M542.7 122.3h0M537.3 136.8h0M532.7 138.0h0M541.4 85.6h0M539.5 122.9h0M532.8 134.9h0M531.5 106.6h0M534.5 112.5h0M535.7 127.8h0M534.6 139.2h0M531.3 106.1h0M539.6 140.1h0M534.0 140.5h0M548.7 139.2h0M533.0 139.0h0M547.3 120.6h0M542.3 102.9h0M546.8 140.3h0M540.0 115.5h0M567.0 141.0h0M543.8 135.4h0M533.7 131.2h0M532.1 139.9h0M545.9 124.1h0M533.3 99.2h0M537.6 100.4h0M534.2 98.4h0M540.2 137.1h0M534.1 117.3h0M547.4 129.3h0M550.6 139.7h0M533.4 107.8h0M534.3 91.0h0M535.5 113.7h0M531.4 133.9h0M535.3 141.5h0M536.0 142.7h0M539.4 142.7h0M535.1 113.7h0M543.0 142.2h0M539.8 130.0h0M535.9 129.0h0M541.2 134.7h0M537.1 136.3h0M537.0 117.9h0M545.9 121.7h0M543.2 124.9h0M555.4 137.9h0M549.4 138.6h0M539.2 140.1h0M533.1 128.5h0M535.7 128.7h0M540.1 115.6h0M535.2 114.2h0M546.6 142.8h0M531.1 126.8h0M533.8 119.9h0M542.7 138.1h0M533.5 135.3h0M548.4 137.8h0M540.3 138.4h0M534.0 120.8h0M538.6 141.9h0M530.8 142.9h0M532.7 92.2h0M543.5 136.1h0M534.7 136.4h0M533.5 134.3h0M539.3 125.3h0M546.7 130.2h0M540.1 103.1h0M535.9 127.7h0M555.2 128.7h0M541.2 138.0h0M539.7 120.3h0M540.4 136.2h0M533.6 116.1h0M540.6 134.4h0M546.5 141.9h0M540.0 101.3h0M537.7 134.4h0M539.9 132.1h0M545.4 127.7h0M535.1 115.0h0M533.0 138.4h0M545.3 139.1h0M535.5 101.3h0M540.9 95.7h0M546.3 140.2h0M531.6 114.5h0M538.0 108.1h0M549.7 132.6h0M539.3 142.6h0M538.5 124.1h0M537.5 88.9h0M534.9 113.1h0M535.3 123.3h0M542.7 88.1h0M542.4 122.2h0M536.7 129.8h0M538.5 83.2h0M556.9 134.2h0M537.7 142.5h0M535.5 107.8h0M538.9 88.4h0M532.3 140.3h0M560.0 133.1h0M536.8 121.0h0M538.6 108.0h0M539.9 130.7h0M533.4 94.1h0M542.4 139.6h0M531.0 130.2h0M535.8 139.4h0M544.6 125.6h0M536.2 135.4h0M531.5 111.3h0M553.1 138.7h0M538.7 95.9h0M540.0 110.4h0M532.7 93.1h0M540.8 89.3h0M542.8 139.6h0M536.4 102.1h0M535.7 136.8h0M547.9 137.7h0M536.9 131.8h0M532.3 105.0h0M533.1 133.9h0M535.9 100.7h0M545.2 132.7h0M541.1 129.6h0M535.7 135.1h0M537.5 137.9h0M542.8 118.3h0M535.3 89.9h0M547.6 111.0h0M543.0 121.9h0M546.4 123.5h0M531.9 142.9h0M531.0 115.1h0M560.3 133.4h0M533.7 114.1h0M534.3 136.5h0M531.8 98.4h0M539.6 101.3h0M530.9 139.9h0M544.6 121.4h0M531.4 111.9h0M539.1 123.6h0M534.7 116.8h0M531.5 138.8h0M537.0 140.5h0M544.0 137.2h0M541.5 117.3h0M539.9 120.7h0M576.4 126.1h0M549.3 125.8h0M532.1 142.0h0M531.7 102.5h0M534.2 117.2h0M535.0 113.4h0M538.5 132.6h0M546.3 127.7h0M531.1 142.8h0M553.4 127.5h0M534.8 98.5h0M531.9 142.6h0M546.6 125.7h0M542.7 120.0h0M542.5 128.7h0M538.3 133.7h0M536.6 131.4h0M533.4 105.8h0M546.3 131.0h0M540.4 116.2h0M538.9 116.7h0M537.3 131.2h0M531.1 138.7h0M562.9 116.5h0M532.4 114.5h0M539.4 125.4h0M531.2 141.9h0M537.4 108.0h0M535.7 130.0h0M568.9 134.7h0M539.4 114.7h0M537.3 123.7h0M544.2 90.3h0M549.2 130.0h0M538.7 97.9h0M533.5 118.4h0M542.2 133.4h0M543.0 135.5h0M534.4 135.2h0M547.4 114.6h0M534.4 126.3h0M541.3 136.7h0M538.2 142.6h0M545.7 137.9h0M540.6 122.2h0M551.1 134.7h0M531.2 115.5h0M533.7 128.4h0M540.9 139.5h0M546.0 129.2h0M537.2 91.9h0M545.0 109.5h0M552.9 122.0h0M532.4 140.5h0M532.1 134.0h0M531.2 119.3h0M533.8 129.8h0M532.1 132.3h0M543.1 114.5h0M535.5 120.9h0M539.0 109.5h0M536.2 110.2h0M536.5 131.7h0M533.1 135.2h0M549.0 131.5h0M533.6 117.1h0M542.9 141.7h0M539.2 111.3h0M537.5 103.9h0M534.5 104.4h0M540.9 122.4h0M534.8 139.7h0M536.0 122.4h0M531.5 104.2h0M542.9 99.9h0M536.7 137.2h0M553.2 140.2h0M536.8 126.4h0M532.6 116.0h0M543.5 130.0h0" stroke="#e0474c" stroke-opacity="0.3" stroke-width="3.0" stroke-linecap="round" fill="none"/>
<path d="M544.8 113.9h0M545.5 139.5h0M533.3 97.7h0M536.1 141.6h0M531.5 136.5h0M560.9 136.3h0M538.1 115.9h0M534.7 128.6h0M547.6 134.8h0M537.6 128.5h0M539.2 126.7h0M548.8 129.9h0M537.4 125.9h0M538.2 135.2h0M578.3 133.6h0M540.1 89.5h0M532.0 120.9h0M535.7 138.5h0M541.8 132.9h0M543.8 93.2h0M545.8 140.9h0M542.1 132.3h0M548.5 142.6h0M531.3 142.8h0M542.2 93.1h0M535.1 91.0h0M543.6 51.9h0M540.1 141.5h0M531.3 135.5h0M545.9 125.5h0M530.9 128.3h0M555.4 127.2h0M548.2 141.8h0M534.5 133.0h0M543.1 119.7h0M534.0 118.8h0M555.0 120.3h0M545.1 134.5h0M548.4 119.8h0M538.2 137.3h0M531.9 141.7h0M544.1 120.0h0M530.8 142.0h0M532.1 130.4h0M531.9 125.9h0M539.3 127.3h0M544.6 135.5h0M532.0 137.1h0M538.5 95.6h0M539.1 79.0h0M536.4 85.3h0M533.8 111.6h0M554.4 127.7h0M541.1 134.6h0M544.5 129.5h0M546.6 97.8h0M535.2 105.6h0M537.2 140.7h0M541.1 137.1h0M557.0 118.8h0M537.8 121.6h0M537.4 139.8h0M549.4 137.8h0M532.6 122.6h0M538.9 139.8h0M531.6 127.5h0M560.2 130.5h0M538.1 112.1h0M543.1 105.8h0M532.5 110.6h0M546.2 113.3h0M540.0 102.7h0M534.0 143.2h0M538.6 142.7h0M534.5 120.9h0M547.4 138.4h0M534.8 142.5h0M545.9 135.6h0M540.6 139.2h0M560.0 119.6h0M530.9 142.6h0M531.3 136.0h0M545.2 123.3h0M535.5 140.2h0M533.2 137.5h0M530.9 102.8h0M540.5 109.3h0M539.9 84.3h0M539.8 129.5h0M533.5 138.8h0M540.3 128.0h0M534.6 108.5h0M540.4 129.1h0M534.8 121.8h0M532.9 102.8h0M541.6 139.9h0M545.1 108.3h0M534.6 91.9h0M531.9 125.6h0M539.5 130.8h0M536.4 106.2h0M536.4 110.4h0M533.8 118.1h0M532.0 141.5h0M533.0 136.9h0M548.9 118.7h0M533.8 120.6h0M548.2 137.3h0M544.1 136.6h0M538.3 132.3h0M535.5 125.3h0M540.7 113.6h0M540.7 134.7h0M538.0 94.9h0M534.4 143.0h0M533.9 112.6h0M535.0 131.1h0M533.1 137.1h0M538.6 100.8h0M536.0 84.0h0M541.9 115.7h0M531.1 110.3h0M547.2 138.6h0M536.8 120.9h0M534.4 90.5h0M533.1 111.1h0M533.4 137.6h0M530.8 129.6h0M572.8 130.6h0M541.0 118.5h0M534.1 123.8h0M548.4 123.1h0M531.7 125.3h0M530.8 123.6h0M537.0 119.5h0M537.0 105.7h0M535.5 103.2h0M541.5 103.4h0M541.6 124.8h0M536.1 117.7h0M532.3 142.2h0M536.0 91.9h0M535.6 127.1h0M552.7 123.0h0M550.4 123.7h0M535.2 134.8h0M545.9 105.6h0M550.4 134.7h0M543.7 126.3h0M534.5 138.9h0M532.6 139.4h0M533.8 137.9h0M543.5 135.1h0M539.6 128.4h0M530.8 128.9h0M535.2 101.1h0M534.3 135.4h0M531.9 133.5h0M532.5 134.0h0M531.9 134.9h0M531.4 101.3h0M532.6 102.6h0M536.2 143.0h0M547.8 142.8h0M531.3 142.6h0M538.6 101.4h0M532.0 97.9h0M542.6 135.5h0M533.8 139.3h0M532.1 139.0h0M535.6 128.4h0M537.1 140.0h0M543.0 117.2h0M531.0 132.2h0M555.7 142.9h0M534.3 111.6h0M558.3 133.2h0M547.7 133.6h0M533.9 126.6h0M539.1 118.8h0M534.8 126.4h0M536.1 95.9h0M533.1 103.8h0M548.4 123.9h0M531.7 141.9h0M534.1 119.0h0M539.4 113.5h0M541.4 130.6h0M540.0 129.2h0M539.9 103.1h0M534.8 109.4h0M544.8 127.9h0M557.0 127.7h0M539.7 137.7h0M534.9 105.7h0M531.5 137.9h0M531.7 130.0h0M538.4 142.5h0M534.8 126.4h0M539.2 127.8h0M544.6 136.3h0M543.0 139.1h0M551.5 121.3h0M544.8 133.3h0M552.2 124.5h0M542.7 143.1h0M534.1 113.1h0M541.4 130.0h0M540.3 116.8h0M544.1 109.0h0M537.9 103.2h0M533.6 139.5h0M534.9 142.5h0M538.1 124.7h0M533.2 94.0h0M549.0 127.2h0M543.4 130.0h0M532.8 107.1h0M535.3 142.1h0M534.5 136.4h0M545.6 136.3h0M531.2 104.7h0M533.7 95.7h0M548.4 115.2h0M559.0 126.9h0M531.3 136.9h0M542.5 127.9h0M539.3 134.2h0M531.9 103.7h0M538.1 87.3h0M535.5 93.9h0M531.8 109.9h0M533.6 141.0h0M536.5 123.3h0M534.0 121.5h0M552.9 138.0h0M540.0 129.3h0M531.1 141.8h0M538.6 141.6h0" stroke="#e0474c" stroke-opacity="0.3" stroke-width="3.0" stroke-linecap="round" fill="none"/>
<path d="M551.7 143.1h0M545.5 136.9h0M548.4 121.4h0M530.8 141.0h0M537.5 142.0h0M542.8 129.5h0M543.2 134.6h0M539.5 96.2h0M540.5 118.8h0M539.4 130.0h0M531.6 108.3h0M543.0 100.2h0M532.7 115.5h0M546.0 118.2h0M542.0 95.1h0M537.6 70.7h0M541.3 143.2h0M541.0 131.0h0M545.4 137.0h0M541.4 132.7h0M537.2 128.8h0M537.2 116.0h0M537.7 142.4h0M541.0 138.9h0M538.5 117.9h0M531.9 137.1h0M540.9 109.7h0M540.1 127.6h0M566.0 137.2h0M543.0 140.7h0M539.6 142.4h0M546.6 118.8h0M534.3 110.8h0M537.1 91.0h0M538.0 139.4h0M540.9 111.2h0M542.3 142.8h0M535.2 113.6h0M534.4 132.6h0M542.3 125.3h0M534.8 141.5h0M542.0 92.6h0M545.1 130.5h0M539.6 80.5h0M533.0 138.8h0M538.7 87.4h0M541.2 116.8h0M531.5 143.0h0M558.5 138.1h0M556.7 142.3h0M551.7 134.4h0M531.0 124.5h0M533.9 126.8h0M540.6 128.2h0M537.4 117.8h0M541.1 140.2h0M556.8 120.7h0M548.2 127.2h0M543.8 140.6h0M540.1 95.8h0M541.9 85.9h0M533.4 141.4h0M534.5 115.0h0M539.2 120.5h0M543.1 128.5h0M532.1 114.5h0M537.5 112.7h0M565.1 130.7h0M541.0 132.2h0M536.1 104.5h0M548.3 140.2h0M533.0 119.7h0M542.2 138.9h0M536.2 120.8h0M538.2 116.6h0M530.8 139.1h0M533.4 136.5h0M547.2 100.9h0M530.9 135.8h0M542.7 93.0h0M540.3 142.2h0M531.1 130.0h0M535.7 115.9h0M530.8 139.7h0M544.8 123.4h0M550.0 135.8h0M535.7 116.3h0M553.8 131.1h0M531.4 132.2h0M539.9 118.2h0M536.1 135.3h0M542.0 106.8h0M532.9 117.1h0M537.7 83.9h0M535.3 117.4h0M541.5 130.8h0M541.8 125.3h0M544.5 134.6h0M531.7 100.0h0M545.4 133.0h0M532.8 134.8h0M536.7 133.6h0M534.6 129.2h0M553.9 135.2h0M534.1 99.8h0M531.4 102.5h0M535.6 138.0h0M543.8 141.2h0M538.2 138.4h0M539.3 135.0h0M547.2 116.0h0M548.3 131.6h0M537.6 92.3h0M530.9 117.3h0M537.9 106.2h0M535.2 131.2h0M532.1 117.8h0M548.9 126.9h0M538.0 138.6h0M553.9 131.9h0M536.3 100.0h0M535.3 87.4h0M540.4 121.5h0M531.3 113.3h0M557.7 110.2h0M538.4 101.9h0M541.1 124.0h0M541.3 115.6h0M545.9 102.8h0M550.2 118.3h0M552.3 138.4h0M532.7 140.1h0M533.1 140.9h0M557.9 142.5h0M543.4 137.6h0M536.6 103.4h0M546.7 105.1h0M537.4 97.7h0M543.1 125.4h0M543.2 126.4h0M537.5 92.0h0M531.8 111.5h0M551.8 123.2h0M532.2 133.7h0M532.4 114.5h0M533.2 95.6h0M531.2 134.7h0M533.3 141.6h0M532.9 112.3h0M539.6 139.5h0M531.5 122.2h0M533.8 93.1h0M542.1 135.7h0M536.9 132.2h0M535.4 120.5h0M533.8 107.6h0M535.9 99.0h0M540.5 140.8h0M544.9 118.4h0M538.9 123.5h0M539.5 88.4h0M536.8 132.6h0M542.4 139.0h0M531.7 141.4h0M545.6 131.0h0M540.6 137.7h0M552.9 142.0h0M543.5 88.5h0M543.2 129.3h0M543.1 142.4h0M532.1 142.4h0M539.1 124.3h0M556.7 132.4h0M535.7 142.0h0M541.9 118.1h0M543.8 119.3h0M531.8 139.6h0M534.3 127.1h0M533.0 137.1h0M539.2 87.9h0M531.9 142.2h0M574.4 133.9h0M548.9 131.4h0M537.3 121.3h0M547.4 130.6h0M543.0 126.1h0M548.4 138.0h0M534.8 140.6h0M532.2 115.3h0M532.5 111.2h0M553.5 120.5h0M537.0 133.5h0M547.4 138.1h0M533.9 139.6h0M534.1 135.2h0M538.3 135.7h0M538.7 128.6h0M582.6 128.9h0M537.8 82.4h0M531.9 137.7h0M545.6 140.9h0M538.7 101.5h0M543.2 114.2h0M539.8 133.6h0M532.7 138.7h0M532.4 97.9h0M539.9 107.3h0M532.7 140.6h0M533.0 142.5h0M538.3 85.8h0M549.5 134.1h0M540.6 100.9h0M575.3 120.0h0M533.1 102.9h0M533.0 112.4h0M543.2 140.5h0M532.1 99.1h0M533.6 139.2h0M534.7 135.7h0M538.8 109.7h0M547.5 126.1h0M538.6 97.6h0M540.0 133.9h0M538.0 100.3h0M540.7 139.8h0M533.3 135.2h0M538.9 140.0h0M541.4 132.8h0M547.6 140.5h0M544.0 134.0h0M546.7 137.7h0M546.5 119.9h0M563.1 135.8h0M534.9 140.8h0M537.3 122.1h0M530.8 129.8h0M550.5 137.5h0M549.8 138.6h0M543.3 142.6h0" stroke="#e0474c" stroke-opacity="0.3" stroke-width="3.0" stroke-linecap="round" fill="none"/>
<path d="M541.0 133.0h0M534.3 116.9h0M532.6 124.0h0M535.8 137.2h0M537.0 115.7h0M544.3 130.2h0M561.4 140.3h0M537.9 95.8h0M533.6 97.6h0M540.0 120.7h0M535.5 129.9h0M550.2 137.9h0M547.1 128.7h0M541.7 122.2h0M548.8 131.3h0M532.0 133.3h0M541.9 108.7h0M540.6 126.3h0M531.7 135.6h0M543.6 111.6h0M541.7 142.7h0M549.3 129.9h0M536.4 105.6h0M536.0 142.4h0M536.7 99.7h0M537.2 123.4h0M551.6 129.3h0M537.0 133.9h0M531.0 137.8h0M542.8 132.2h0M541.7 110.1h0M539.8 125.3h0M548.3 135.6h0M534.1 108.9h0M531.5 121.2h0M545.9 141.1h0M534.9 137.6h0M553.8 135.0h0M533.6 93.8h0M531.7 106.8h0M540.2 126.9h0M544.5 118.3h0M540.2 127.6h0M545.7 121.7h0M534.6 107.6h0M538.6 112.1h0M542.1 133.8h0M547.4 115.3h0M533.1 139.3h0M548.7 140.6h0M530.8 117.0h0M530.9 141.4h0M533.1 127.6h0M552.8 140.1h0M541.5 111.0h0M533.6 120.6h0M541.7 132.9h0M570.3 124.4h0M541.7 113.5h0M540.0 134.5h0M542.2 135.5h0M550.6 138.2h0M540.4 124.5h0M530.9 130.4h0M532.7 118.7h0M537.6 101.1h0M537.2 103.0h0M553.6 122.5h0M531.0 138.7h0M535.3 101.8h0M545.7 114.6h0M563.1 125.8h0M531.5 124.4h0M541.4 122.7h0M570.9 137.8h0M547.1 104.7h0M538.1 141.8h0M534.0 127.9h0M539.2 113.9h0M541.4 100.8h0M533.6 125.5h0M541.2 123.6h0M546.9 119.0h0M559.4 141.3h0M537.3 141.9h0M564.7 138.5h0M532.7 141.5h0M536.8 119.1h0M531.1 129.5h0M536.6 137.8h0M532.2 125.3h0M552.4 129.8h0M552.3 138.7h0M531.8 137.9h0M535.6 135.2h0M540.5 138.6h0M538.0 107.5h0M533.2 133.3h0M532.5 105.8h0M535.8 113.9h0M540.1 142.8h0M544.9 118.6h0M531.2 140.6h0M557.8 138.0h0M536.4 131.4h0M536.8 102.2h0M577.4 129.9h0M540.8 129.6h0M549.3 137.0h0M535.3 112.4h0M535.5 129.7h0M532.2 136.4h0M578.5 139.3h0M544.0 93.7h0M533.6 132.3h0M566.7 128.8h0M563.5 133.8h0M535.5 128.1h0M541.3 137.5h0M539.5 103.5h0M563.5 132.8h0M544.6 142.4h0M530.8 133.5h0M541.2 102.1h0M559.8 121.3h0M536.2 139.8h0M546.1 139.0h0M544.1 134.0h0M538.2 87.8h0M536.6 89.5h0M533.2 119.5h0M531.8 128.3h0M534.6 115.6h0M545.6 140.0h0M545.4 132.6h0M530.8 114.9h0M535.6 140.3h0M536.6 135.8h0M541.9 126.8h0M540.2 141.8h0M540.9 121.1h0M541.5 122.0h0M535.5 113.4h0M531.6 134.6h0M555.2 138.0h0M531.8 113.4h0M573.0 136.7h0M538.5 126.4h0M538.0 136.8h0M542.6 122.2h0M539.3 135.5h0M548.7 139.7h0M566.2 142.3h0M541.4 128.5h0M540.8 137.6h0M541.4 139.7h0M540.9 135.5h0M558.5 119.2h0M543.2 139.0h0M552.2 120.6h0M551.5 121.8h0M546.0 135.7h0M537.7 133.0h0M547.8 123.0h0M536.0 127.6h0M536.4 111.6h0M533.4 131.9h0M531.8 135.8h0M535.4 140.6h0M531.2 138.4h0M531.3 110.8h0M531.1 105.8h0M537.4 116.9h0M539.0 84.9h0M541.1 130.7h0M536.1 85.0h0M530.8 133.5h0M540.3 134.2h0M532.9 103.7h0M530.9 104.0h0M542.1 135.2h0M530.9 100.8h0M552.6 122.7h0M530.9 126.6h0M535.2 97.5h0M531.3 112.3h0M533.8 142.6h0M533.7 92.8h0M533.9 120.9h0M531.1 111.0h0M531.0 107.1h0M550.6 142.2h0M542.0 91.0h0M538.7 127.6h0M535.5 139.8h0M532.0 139.7h0M541.3 126.5h0M537.3 105.8h0M544.2 100.8h0M531.9 102.6h0M547.9 121.4h0M539.8 142.6h0M541.0 131.2h0M539.0 139.7h0M533.4 107.6h0M535.6 92.0h0M532.8 106.0h0M540.2 125.3h0M537.0 132.0h0M537.5 98.9h0M531.9 140.8h0M531.2 143.1h0M543.6 127.0h0M537.8 128.3h0M532.5 113.7h0M545.0 92.4h0M532.3 118.5h0M540.8 140.2h0M537.2 138.1h0M539.1 135.7h0M541.8 129.9h0M549.2 142.9h0M574.0 136.1h0M533.4 128.4h0M537.6 129.5h0M545.0 131.8h0M532.2 127.8h0M534.6 120.0h0M532.4 128.3h0M536.6 109.6h0M532.2 142.5h0M533.7 105.6h0M542.3 130.1h0M536.6 109.8h0M564.2 133.1h0M536.8 129.6h0M550.8 141.3h0M542.6 132.3h0M542.5 137.4h0" stroke="#e0474c" stroke-opacity="0.3" stroke-width="3.0" stroke-linecap="round" fill="none"/>
<line x1="522.5" y1="4.4" x2="522.5" y2="170.5" stroke="#222" stroke-width="0.6" stroke-dasharray="1.2,1.2"/>
<line x1="530.8" y1="4.4" x2="530.8" y2="170.5" stroke="#222" stroke-width="0.6" stroke-dasharray="1.2,1.2"/>
<line x1="443.7" y1="143.4" x2="609.5" y2="143.4" stroke="#222" stroke-width="0.6" stroke-dasharray="1.2,1.2"/>
<path d="M443.7,4.4 L443.7,170.5 L609.6,170.5" fill="none" stroke="#111" stroke-width="1.3"/>
<line x1="441.2" y1="170.5" x2="443.7" y2="170.5" stroke="#111" stroke-width="1.1"/>
<text x="440.2" y="172.9" font-size="6.7" font-weight="bold" text-anchor="end" fill="#222">0</text>
<line x1="441.2" y1="108.1" x2="443.7" y2="108.1" stroke="#111" stroke-width="1.1"/>
<text x="440.2" y="110.5" font-size="6.7" font-weight="bold" text-anchor="end" fill="#222">3</text>
<line x1="441.2" y1="45.7" x2="443.7" y2="45.7" stroke="#111" stroke-width="1.1"/>
<text x="440.2" y="48.1" font-size="6.7" font-weight="bold" text-anchor="end" fill="#222">6</text>
<line x1="443.6" y1="170.5" x2="443.6" y2="173.3" stroke="#111" stroke-width="1.1"/>
<text x="443.6" y="183.9" font-size="6.7" font-weight="bold" text-anchor="middle" fill="#222">-20</text>
<line x1="485.1" y1="170.5" x2="485.1" y2="173.3" stroke="#111" stroke-width="1.1"/>
<text x="485.1" y="183.9" font-size="6.7" font-weight="bold" text-anchor="middle" fill="#222">-10</text>
<line x1="526.6" y1="170.5" x2="526.6" y2="173.3" stroke="#111" stroke-width="1.1"/>
<text x="526.6" y="183.9" font-size="6.7" font-weight="bold" text-anchor="middle" fill="#222">0</text>
<line x1="568.1" y1="170.5" x2="568.1" y2="173.3" stroke="#111" stroke-width="1.1"/>
<text x="568.1" y="183.9" font-size="6.7" font-weight="bold" text-anchor="middle" fill="#222">10</text>
<line x1="609.6" y1="170.5" x2="609.6" y2="173.3" stroke="#111" stroke-width="1.1"/>
<text x="609.6" y="183.9" font-size="6.7" font-weight="bold" text-anchor="middle" fill="#222">20</text>
<text x="527.5" y="196.5" font-size="8.9" font-weight="bold" text-anchor="middle" fill="#222">Log<tspan font-size="6.4" dy="2">2</tspan><tspan dy="-2"> FC</tspan></text>
<text transform="translate(420.9,87.6) rotate(-90)" font-size="8.5" font-weight="bold" text-anchor="middle" fill="#222">-Log<tspan font-size="6" dy="2">10</tspan><tspan dy="-2"> P-value</tspan></text>
<text x="565.9" y="16.8" font-size="10.35" font-weight="bold">SW480 vs. SW620</text>
<text x="615.8" y="63.5" font-size="8.7" font-weight="bold" fill="#222">Significance</text>
<circle cx="617.4" cy="78" r="1.5" fill="#e0474c" fill-opacity="0.45"/>
<text x="628.6" y="80.7" font-size="7.6" fill="#333">up</text>
<circle cx="617.4" cy="88.9" r="1.5" fill="#4a98bd" fill-opacity="0.45"/>
<text x="628.6" y="91.6" font-size="7.6" fill="#333">down</text>
<circle cx="617.4" cy="99.9" r="1.5" fill="#c8c8c8" fill-opacity="0.45"/>
<text x="628.6" y="102.6" font-size="7.6" fill="#333">no sense</text>
<path d="M476.7 380.9h0M542.1 382.0h0M511.0 375.6h0M527.7 384.5h0M491.7 379.1h0M517.5 377.0h0M534.5 373.7h0M515.6 375.4h0M474.3 380.0h0M535.4 371.2h0M531.8 371.9h0M554.8 374.8h0M462.5 379.5h0M549.9 371.1h0M515.5 379.9h0M484.2 377.2h0M526.6 383.2h0M558.9 371.5h0M530.6 379.4h0M537.0 372.2h0M529.7 375.2h0M469.5 380.6h0M531.9 371.9h0M549.1 374.9h0M507.8 377.4h0M472.9 379.8h0M532.9 377.8h0M538.8 383.6h0M508.2 371.8h0M530.6 373.3h0M518.0 378.7h0M517.7 377.9h0M555.1 382.6h0M519.9 379.5h0M520.2 380.7h0M519.5 371.0h0M537.8 375.9h0M516.7 378.8h0M522.9 374.3h0M503.4 379.4h0M548.5 374.1h0M540.4 374.1h0M545.2 382.4h0M525.8 380.3h0M536.7 373.5h0M528.6 376.8h0M470.0 378.3h0M503.9 381.9h0M540.0 381.2h0M546.3 380.0h0M519.7 377.3h0M514.2 377.5h0M525.2 383.9h0M467.7 379.7h0M539.3 377.3h0M456.7 378.6h0M506.9 379.1h0M501.8 378.9h0M547.0 382.9h0M521.8 373.2h0M465.3 380.8h0M539.4 381.6h0M521.3 377.3h0M534.7 376.7h0M520.3 381.2h0M516.6 372.9h0M487.8 375.0h0M473.0 380.6h0M496.1 379.6h0M552.4 378.8h0M534.7 377.4h0M518.9 380.9h0M497.4 382.0h0M521.2 377.0h0M526.2 381.7h0M557.6 371.3h0M459.5 380.8h0M515.5 380.2h0M497.6 380.1h0M526.6 381.4h0M524.2 381.0h0M529.7 382.5h0M500.1 380.1h0M508.1 378.2h0M530.6 382.6h0M520.2 376.6h0M486.1 381.5h0M472.6 380.1h0M531.8 371.8h0M508.9 373.1h0M544.7 379.9h0M512.2 376.9h0M549.9 377.3h0M526.4 382.0h0M518.1 377.5h0M535.4 375.3h0M526.7 382.4h0M546.1 379.0h0M520.4 378.9h0M546.6 377.3h0M512.1 378.0h0M502.6 380.7h0M529.0 383.8h0M514.1 378.4h0M519.7 373.1h0M514.1 376.3h0M530.8 374.9h0M474.8 379.8h0M519.2 376.4h0M534.0 377.5h0M525.4 383.2h0M549.0 380.6h0M517.2 375.4h0M501.5 383.1h0M529.8 380.6h0M489.8 379.8h0M515.2 379.1h0M548.6 374.1h0M535.7 383.8h0M519.0 371.1h0M527.4 379.8h0M474.6 378.4h0M512.9 383.8h0M530.3 384.6h0M537.1 383.4h0M533.3 372.7h0M527.9 378.9h0M478.5 382.7h0M465.5 381.1h0M525.9 382.2h0M552.9 371.7h0M529.8 377.7h0M507.6 378.6h0M538.7 375.5h0M521.1 378.8h0M527.3 380.9h0M527.7 380.4h0M492.5 381.0h0M552.5 372.8h0M529.3 377.3h0M525.9 382.0h0M492.2 381.5h0M516.1 382.5h0M505.4 380.9h0M552.4 376.0h0M456.7 381.5h0M511.4 379.2h0M490.8 375.1h0M528.2 384.0h0M504.4 378.2h0M565.8 378.7h0M522.9 380.3h0M516.7 378.8h0M531.1 378.4h0M537.7 378.6h0M514.5 375.9h0M519.7 378.0h0M522.5 377.3h0M521.5 374.6h0M517.8 375.5h0M520.6 373.7h0M465.7 379.3h0M521.3 383.3h0M505.2 379.8h0M534.8 383.1h0M516.9 379.7h0M458.9 379.1h0M508.7 380.2h0M535.0 374.5h0M521.7 380.7h0M519.7 379.1h0M565.9 375.8h0M462.7 379.8h0M524.8 382.7h0M525.9 382.0h0M518.0 372.3h0M524.2 382.0h0M539.1 371.2h0M517.6 379.9h0M537.4 382.3h0M506.4 373.9h0M519.0 376.1h0M518.2 378.6h0M535.8 370.9h0M475.6 378.7h0M542.5 378.9h0M534.4 373.2h0M532.9 382.7h0M478.8 381.4h0M528.8 380.6h0M553.0 380.7h0M520.4 382.2h0M518.5 379.1h0M554.8 383.1h0M552.2 375.7h0M524.6 383.3h0M533.5 379.4h0M488.5 378.5h0M510.3 380.6h0M479.2 379.8h0M531.5 372.5h0M516.8 375.4h0M525.3 383.6h0M552.5 371.7h0M480.6 379.6h0M487.7 381.5h0M524.8 377.3h0M492.4 378.9h0M521.8 375.5h0M539.6 378.8h0M525.6 379.1h0M549.2 372.9h0M548.0 372.7h0M526.1 382.6h0M512.9 378.5h0M460.1 379.9h0M522.6 379.8h0M537.0 377.2h0M513.7 374.3h0M522.1 381.2h0M523.1 376.6h0M542.1 383.4h0M537.3 370.8h0M510.3 376.8h0M526.6 381.8h0M490.0 379.5h0M543.2 373.5h0M533.5 380.5h0M498.9 380.6h0M519.7 377.0h0M502.4 376.1h0M534.6 376.9h0M529.9 379.0h0M465.8 379.6h0M477.3 378.2h0M528.4 378.2h0M541.7 381.3h0M516.7 371.5h0M457.4 379.1h0M526.9 382.7h0M540.9 381.0h0M518.0 372.5h0M534.0 375.8h0M505.0 372.9h0M537.3 382.7h0M510.0 377.9h0M471.1 378.7h0M509.6 379.0h0M537.9 373.9h0M472.3 379.8h0M514.5 383.8h0M529.2 376.9h0M532.9 372.4h0M524.6 383.7h0M527.6 382.3h0M494.9 381.5h0M551.1 382.6h0M509.9 378.8h0M528.0 380.2h0M529.7 382.5h0M545.5 382.8h0M464.5 380.1h0M502.8 381.8h0M538.0 375.6h0M525.1 381.3h0M513.2 379.9h0M524.1 380.3h0M514.3 377.7h0M539.0 377.9h0M515.6 380.5h0M525.5 382.2h0M478.0 380.1h0M498.9 379.4h0M548.9 376.6h0M553.7 371.4h0M476.1 378.4h0M517.2 377.8h0M497.1 380.4h0M515.1 378.7h0M523.4 375.9h0M527.0 384.3h0M527.1 383.7h0M506.3 378.6h0M483.7 380.4h0M509.5 378.2h0M488.4 380.0h0M517.6 371.1h0M536.3 373.5h0M530.4 376.0h0M524.5 380.7h0M530.2 380.7h0M532.9 378.5h0M457.7 381.0h0M521.8 382.2h0M497.7 379.3h0M537.8 376.5h0" stroke="#c8c8c8" stroke-opacity="0.3" stroke-width="2.4" stroke-linecap="round" fill="none"/>
<path d="M530.3 379.6h0M532.0 381.6h0M512.3 376.6h0M515.4 378.3h0M499.3 377.5h0M521.8 372.6h0M538.1 377.2h0M469.3 381.0h0M539.1 381.5h0M525.1 379.3h0M461.0 378.6h0M497.5 380.8h0M549.6 374.8h0M520.0 372.4h0M551.0 378.2h0M512.9 378.8h0M489.5 380.0h0M459.0 379.2h0M460.6 380.2h0M479.5 379.9h0M531.7 372.6h0M497.9 378.1h0M510.6 375.0h0M539.3 378.9h0M522.4 378.9h0M511.4 375.3h0M522.4 381.9h0M459.1 379.1h0M530.7 380.8h0M456.5 380.1h0M512.8 378.9h0M479.6 379.4h0M552.8 373.7h0M522.4 383.9h0M555.4 382.5h0M524.4 380.6h0M539.4 372.1h0M486.8 377.9h0M523.7 377.4h0M551.0 373.2h0M464.6 378.3h0M504.0 380.9h0M493.2 379.4h0M499.9 380.9h0M462.5 378.9h0M526.6 382.2h0M510.5 379.7h0M531.2 379.9h0M521.3 379.5h0M521.0 379.0h0M511.7 376.0h0M533.7 375.0h0M547.0 373.7h0M527.6 381.7h0M512.4 376.7h0M530.5 376.8h0M519.7 379.2h0M533.2 379.7h0M458.5 378.1h0M532.3 382.5h0M541.3 371.8h0M519.1 380.1h0M522.2 378.6h0M472.7 380.5h0M513.7 379.6h0M519.2 378.7h0M550.6 382.2h0M534.0 373.5h0M520.2 382.0h0M541.2 372.1h0M519.7 379.6h0M512.0 379.6h0M528.2 377.6h0M543.1 378.3h0M549.4 377.3h0M539.5 370.9h0M524.5 384.3h0M538.9 375.3h0M486.1 380.2h0M542.7 373.1h0M543.3 373.0h0M543.3 376.9h0M491.2 378.1h0M514.3 379.4h0M513.6 372.6h0M540.2 374.5h0M468.2 377.5h0M535.2 378.7h0M510.4 380.2h0M506.7 379.5h0M501.8 374.6h0M538.1 373.1h0M519.9 376.5h0M522.6 372.2h0M529.2 379.9h0M490.8 381.2h0M544.7 373.4h0M509.9 371.2h0M512.7 384.6h0M481.2 381.5h0M521.4 381.5h0M539.6 372.4h0M521.6 376.5h0M522.9 381.1h0M537.6 374.7h0M530.7 378.9h0M482.4 381.2h0M508.4 381.6h0M510.2 378.6h0M518.1 374.0h0M504.5 379.5h0M514.2 379.1h0M506.6 383.5h0M520.8 377.1h0M514.0 378.6h0M457.7 380.7h0M537.2 378.9h0M519.7 371.3h0M533.3 373.0h0M461.1 380.1h0M520.7 371.5h0M507.8 380.7h0M530.3 377.0h0M536.6 374.9h0M533.4 382.9h0M514.3 378.3h0M539.1 380.6h0M510.5 371.9h0M530.8 377.5h0M511.4 371.4h0M481.9 380.7h0M522.3 378.1h0M514.2 371.6h0M512.1 371.0h0M520.3 372.2h0M500.8 373.9h0M532.2 374.5h0M527.9 383.0h0M553.2 376.3h0M487.6 380.6h0M502.1 373.2h0M542.3 378.9h0M533.8 372.4h0M523.5 377.0h0M517.7 383.7h0M527.7 382.7h0M511.2 383.6h0M504.2 376.9h0M504.8 380.4h0M490.8 378.8h0M533.5 378.3h0M518.2 377.1h0M530.2 374.6h0M530.7 380.6h0M537.4 382.8h0M523.6 377.5h0M499.5 374.3h0M482.9 382.0h0M557.7 374.6h0M540.9 372.5h0M461.4 378.9h0M516.2 377.4h0M524.8 379.4h0M518.5 372.7h0M512.1 379.7h0M508.3 380.2h0M537.0 371.6h0M467.5 379.7h0M529.2 383.9h0M467.2 378.8h0M526.8 383.0h0M512.0 381.8h0M535.3 375.9h0M534.9 375.8h0M521.1 381.1h0M514.2 378.0h0M510.2 377.7h0M489.3 381.6h0M515.8 373.1h0M503.6 378.1h0M522.7 381.8h0M511.5 371.2h0M478.2 379.7h0M514.1 374.8h0M563.3 372.3h0M479.1 378.4h0M495.8 379.1h0M543.7 378.6h0M511.1 371.8h0M469.8 380.8h0M519.5 374.7h0M519.0 381.0h0M533.8 377.5h0M522.0 377.5h0M550.5 379.4h0M485.5 378.4h0M482.4 377.4h0M534.2 378.1h0M523.7 378.9h0M532.0 373.0h0M500.6 379.0h0M487.0 379.2h0M530.9 374.4h0M513.6 378.8h0M537.1 377.1h0M537.1 376.3h0M544.6 382.5h0M519.3 372.0h0M515.8 373.3h0M526.6 381.9h0M498.1 380.8h0M526.4 383.5h0M530.8 375.5h0M513.1 378.3h0M501.4 380.4h0M494.5 380.2h0M490.0 379.7h0M544.2 377.9h0M525.0 379.3h0M535.2 376.9h0M497.2 377.8h0M532.6 381.2h0M537.4 380.2h0M539.5 376.9h0M529.3 377.5h0M531.7 379.6h0M527.6 384.2h0M516.8 383.3h0M495.2 377.5h0M522.3 380.0h0M541.0 374.7h0M539.9 378.0h0M535.6 376.3h0M532.6 371.5h0M530.7 380.6h0M509.9 372.7h0M478.9 378.7h0M526.5 384.4h0M510.9 371.5h0M547.6 380.7h0M527.5 380.6h0M530.0 383.9h0M496.3 382.1h0M522.2 379.5h0M525.7 383.0h0M529.7 377.1h0M547.7 373.9h0M520.7 383.0h0M528.7 382.0h0M504.6 370.9h0M507.3 377.1h0M501.8 381.7h0M524.1 380.0h0M518.6 371.9h0M516.9 381.4h0M493.5 378.7h0M530.8 376.5h0M532.8 379.9h0M469.1 383.3h0M458.8 379.5h0M456.7 380.7h0M512.5 379.4h0M521.8 379.2h0M508.2 372.4h0M553.9 381.9h0M477.7 379.7h0M525.0 384.4h0M482.9 377.9h0M531.8 384.1h0M549.7 371.3h0M499.1 377.1h0M487.8 382.3h0M548.5 380.4h0M573.5 377.2h0M533.0 374.2h0M464.3 377.8h0M530.3 372.6h0M523.5 377.7h0M544.3 375.5h0M536.6 378.7h0M527.0 381.7h0M512.1 378.0h0M542.0 383.0h0M497.9 380.1h0M518.7 370.9h0M528.3 378.2h0M527.9 378.7h0M507.1 380.2h0M510.2 382.2h0M488.2 381.7h0M513.5 378.4h0M529.6 382.8h0M519.1 379.0h0M534.9 373.9h0M523.2 377.9h0" stroke="#c8c8c8" stroke-opacity="0.3" stroke-width="2.4" stroke-linecap="round" fill="none"/>
<path d="M538.1 372.6h0M518.8 378.3h0M523.7 374.9h0M537.4 373.2h0M539.9 375.4h0M532.6 377.5h0M550.1 370.9h0M545.0 371.3h0M477.8 377.4h0M508.3 376.6h0M503.1 378.9h0M532.8 378.1h0M538.4 382.6h0M509.3 382.7h0M513.5 378.8h0M502.0 371.3h0M517.2 371.5h0M554.9 372.4h0M525.8 382.6h0M510.1 379.1h0M537.1 383.6h0M528.6 383.4h0M520.6 381.2h0M491.5 379.4h0M534.7 381.8h0M542.5 378.0h0M541.9 372.5h0M500.3 379.0h0M518.9 380.7h0M516.6 372.7h0M499.3 379.2h0M546.0 382.2h0M505.2 373.1h0M555.7 382.1h0M460.3 379.9h0M513.0 380.4h0M457.9 378.7h0M532.3 375.8h0M547.9 383.1h0M521.6 378.7h0M514.1 376.3h0M521.8 372.6h0M525.0 383.2h0M516.8 382.2h0M543.9 375.8h0M483.7 382.2h0M469.6 380.3h0M456.5 381.6h0M524.2 380.6h0M499.8 379.4h0M480.8 378.1h0M516.3 381.6h0M520.7 379.5h0M549.7 376.7h0M530.9 372.6h0M544.6 375.3h0M553.0 380.6h0M512.8 378.8h0M521.3 381.1h0M512.4 376.6h0M544.0 372.8h0M542.2 382.7h0M531.3 377.8h0M519.2 380.3h0M544.0 379.0h0M534.5 382.6h0M548.4 374.5h0M529.7 375.2h0M536.6 372.5h0M520.7 381.2h0M542.8 376.5h0M543.3 373.5h0M475.9 379.0h0M541.7 371.2h0M538.3 375.8h0M534.0 381.9h0M516.6 378.8h0M520.5 378.0h0M542.4 373.6h0M460.5 379.4h0M544.0 377.6h0M512.6 371.0h0M486.1 381.5h0M538.9 373.5h0M529.4 382.3h0M537.6 373.3h0M532.8 377.2h0M503.2 374.9h0M535.3 373.3h0M500.0 381.5h0M534.4 375.3h0M538.5 378.5h0M535.9 375.8h0M496.9 379.8h0M514.9 376.0h0M524.1 376.2h0M480.9 379.7h0M522.0 382.5h0M564.2 373.4h0M523.7 383.9h0M525.5 380.7h0M471.8 381.2h0M527.4 381.4h0M547.9 382.7h0M484.6 380.9h0M522.7 380.3h0M498.0 382.5h0M473.4 380.7h0M533.1 372.8h0M526.3 382.0h0M533.1 384.3h0M531.2 382.6h0M522.1 373.7h0M545.2 377.5h0M526.3 381.3h0M520.8 381.5h0M519.7 377.8h0M538.0 374.1h0M537.7 372.8h0M537.1 375.8h0M504.1 371.0h0M512.4 374.4h0M533.3 372.2h0M530.7 375.6h0M537.6 383.4h0M527.3 382.0h0M520.7 382.3h0M531.1 371.5h0M456.2 378.8h0M522.0 377.5h0M520.9 373.9h0M539.2 377.3h0M515.0 378.4h0M517.8 372.4h0M525.2 384.2h0M538.5 375.6h0M529.5 384.2h0M524.1 377.5h0M483.2 378.5h0M534.2 371.3h0M537.7 380.5h0M531.6 380.5h0M511.2 378.6h0M482.6 379.3h0M563.0 372.9h0M521.4 379.5h0M553.1 383.9h0M537.9 373.3h0M488.5 379.3h0M523.3 384.4h0M477.5 378.7h0M536.5 372.0h0M532.8 379.7h0M507.3 380.0h0M458.1 379.0h0M504.2 380.7h0M544.4 375.8h0M536.7 381.6h0M480.8 381.6h0M520.7 377.9h0M515.9 377.7h0M514.6 382.3h0M520.2 384.0h0M540.1 372.6h0M537.7 376.9h0M514.5 378.8h0M506.4 376.4h0M459.2 379.9h0M533.7 371.1h0M460.9 378.7h0M487.4 379.1h0M460.7 378.9h0M529.8 375.8h0M500.7 379.5h0M528.7 379.9h0M518.6 381.2h0M497.4 377.6h0M534.2 374.3h0M545.6 372.5h0M525.6 380.4h0M513.1 372.9h0M524.0 384.4h0M547.4 384.4h0M541.7 375.2h0M553.2 380.1h0M506.6 376.0h0M552.4 377.5h0M496.5 377.8h0M534.3 374.6h0M475.6 380.0h0M516.8 381.2h0M509.2 381.9h0M551.6 370.9h0M545.5 379.3h0M485.6 379.7h0M501.6 374.2h0M536.4 371.0h0M523.0 378.8h0M492.0 378.9h0M457.0 378.7h0M525.4 380.7h0M530.6 374.3h0M512.0 372.0h0M462.4 379.9h0M544.0 382.8h0M520.3 372.8h0M532.8 382.8h0M484.9 380.5h0M532.4 379.3h0M511.9 373.1h0M551.4 376.2h0M497.2 380.2h0M488.1 379.3h0M528.9 377.6h0M521.6 380.0h0M506.5 378.3h0M533.5 370.9h0M515.0 376.7h0M514.4 380.7h0M519.2 379.8h0M501.7 379.4h0M486.3 380.7h0M523.1 377.2h0M466.3 377.3h0M527.3 381.9h0M457.7 379.2h0M540.6 376.0h0M543.2 370.9h0M507.4 372.1h0M534.0 379.6h0M528.7 382.8h0M488.9 377.6h0M535.7 378.3h0M517.9 380.0h0M527.8 380.8h0M538.4 384.0h0M520.6 381.4h0M474.2 380.8h0M517.6 381.3h0M486.6 379.0h0M519.4 379.8h0M511.0 378.8h0M547.3 382.0h0M494.8 377.9h0M516.9 373.9h0M471.1 379.5h0M514.0 377.2h0M473.1 378.8h0M535.5 377.3h0M538.5 372.4h0M513.4 377.1h0M526.8 382.1h0M459.2 379.6h0M553.0 376.7h0M532.8 374.1h0M540.9 372.3h0M545.2 384.2h0M514.4 380.7h0M519.1 373.9h0M474.1 378.3h0M489.0 381.5h0M517.2 380.6h0M458.7 380.1h0M516.2 375.6h0M537.4 375.4h0M484.7 379.5h0M459.7 377.7h0M467.1 380.2h0M509.4 376.8h0M521.2 381.8h0M539.9 371.4h0M525.9 380.8h0M524.8 382.8h0M499.8 380.1h0M547.5 377.6h0M520.3 376.2h0M478.8 380.2h0M503.9 377.9h0M532.3 370.9h0M523.7 384.3h0M477.8 380.4h0M501.6 373.1h0M517.3 378.5h0M521.6 375.8h0M549.1 371.5h0M556.0 378.7h0M476.5 377.4h0M482.0 380.2h0M538.3 374.1h0M506.1 379.6h0M479.2 378.4h0M554.6 380.4h0M527.8 382.5h0M529.6 383.7h0M530.0 382.7h0" stroke="#c8c8c8" stroke-opacity="0.3" stroke-width="2.4" stroke-linecap="round" fill="none"/>
<path d="M537.6 372.4h0M533.3 378.1h0M551.3 380.5h0M512.5 373.7h0M529.8 383.3h0M522.3 376.5h0M539.9 375.5h0M508.8 380.4h0M523.3 373.5h0M531.2 376.9h0M525.8 382.4h0M554.6 383.2h0M521.2 373.8h0M512.6 382.1h0M503.5 379.2h0M501.5 379.2h0M518.5 380.6h0M472.3 379.5h0M529.7 374.2h0M527.3 383.6h0M520.2 381.6h0M482.9 378.8h0M540.3 373.5h0M510.0 380.8h0M545.1 374.9h0M538.0 372.7h0M512.6 380.4h0M532.1 378.8h0M540.5 373.8h0M488.9 377.6h0M545.5 383.1h0M498.8 372.2h0M456.3 377.8h0M534.7 382.0h0M553.0 378.4h0M521.6 373.3h0M535.5 384.5h0M522.0 382.0h0M563.8 383.1h0M506.4 381.0h0M487.0 379.9h0M544.0 376.8h0M517.7 379.8h0M531.6 378.2h0M515.1 378.1h0M477.0 379.5h0M519.6 377.7h0M467.4 377.9h0M498.9 374.2h0M546.5 371.3h0M516.1 373.8h0M508.1 371.7h0M502.0 375.5h0M525.3 383.7h0M516.6 376.4h0M514.8 381.6h0M513.9 381.5h0M517.9 374.4h0M469.7 380.0h0M530.2 375.4h0M516.2 379.7h0M485.6 380.4h0M522.5 373.2h0M536.1 372.3h0M523.4 382.6h0M536.0 381.0h0M522.0 374.6h0M530.3 378.1h0M515.8 374.2h0M564.2 375.8h0M544.7 371.9h0M502.0 374.2h0M504.5 377.5h0M498.4 381.7h0M524.0 382.6h0M528.9 379.1h0M527.8 383.9h0M474.1 379.8h0M548.3 372.8h0M484.0 380.5h0M490.9 374.1h0M536.5 384.1h0M467.8 378.8h0M537.1 377.5h0M534.6 373.7h0M524.8 378.2h0M521.2 375.6h0M537.4 374.6h0M516.5 375.1h0M549.8 372.1h0M462.7 380.7h0M526.0 380.6h0M505.1 380.4h0M483.8 379.9h0M482.6 376.2h0M519.7 383.7h0M525.4 380.3h0M542.0 371.6h0M526.5 382.7h0M502.0 378.6h0M525.9 384.5h0M510.1 373.6h0M479.0 378.5h0M515.7 375.2h0M525.8 379.5h0M517.5 373.5h0M536.1 374.9h0M460.5 378.4h0M515.1 379.3h0M535.9 372.0h0M465.4 379.8h0M481.2 379.9h0M523.5 375.8h0M540.6 382.0h0M527.0 383.2h0M465.1 378.4h0M487.9 381.1h0M545.8 378.5h0M486.4 381.4h0M464.7 380.2h0M476.6 380.8h0M473.2 380.1h0M496.5 380.6h0M526.1 381.3h0M522.9 379.9h0M510.3 370.9h0M469.1 380.3h0M512.7 373.6h0M505.9 371.1h0M515.0 379.8h0M532.4 377.2h0M467.0 378.7h0M498.3 380.6h0M538.2 374.1h0M524.7 381.6h0M520.3 377.0h0M550.3 376.0h0M499.9 380.0h0M533.2 377.6h0M521.5 380.1h0M542.1 378.0h0M518.8 372.1h0M498.5 371.3h0M472.7 379.5h0M527.7 379.7h0M474.0 380.6h0M523.4 380.9h0M500.4 380.8h0M539.5 374.6h0M498.8 380.8h0M535.3 380.5h0M526.3 381.2h0M521.9 372.8h0M521.9 376.5h0M520.2 377.0h0M511.3 378.5h0M498.3 382.1h0M531.9 371.3h0M524.5 377.1h0M483.7 380.3h0M533.7 371.6h0M525.7 383.7h0M472.9 381.6h0M531.1 380.7h0M556.1 376.5h0M534.2 382.5h0M515.5 381.5h0M514.9 379.1h0M523.2 382.3h0M475.5 379.5h0M520.6 379.7h0M529.1 384.6h0M526.3 381.2h0M524.9 384.0h0M518.0 380.2h0M499.9 370.8h0M535.5 371.3h0M519.0 379.4h0M489.5 379.4h0M542.5 373.6h0M465.7 379.7h0M543.7 382.9h0M515.6 383.3h0M494.1 371.0h0M527.4 379.8h0M527.8 384.3h0M473.5 378.1h0M460.7 379.7h0M553.5 373.8h0M468.6 379.4h0M522.6 373.2h0M512.7 373.4h0M486.6 383.0h0M472.2 377.3h0M510.9 380.5h0M537.0 371.0h0M491.8 378.4h0M517.2 372.4h0M507.1 375.1h0M488.6 379.2h0M536.8 381.2h0M533.7 382.5h0M529.2 375.2h0M551.2 374.7h0M518.9 373.1h0M526.7 382.5h0M539.9 384.5h0M505.5 379.3h0M508.9 373.7h0M517.5 383.8h0M471.4 381.3h0M537.4 371.9h0M546.6 372.9h0M465.8 377.3h0M526.8 383.7h0M531.8 380.7h0M465.3 377.4h0M473.6 381.5h0M522.1 376.1h0M518.7 378.6h0M516.1 384.4h0M487.3 381.1h0M545.6 373.3h0M512.4 379.5h0M531.0 383.9h0M497.4 378.8h0M492.9 380.1h0M528.6 379.2h0M513.8 374.7h0M513.2 378.3h0M517.7 371.9h0M525.6 384.5h0M519.6 382.6h0M532.0 371.5h0M539.6 371.8h0M548.1 380.3h0M503.6 375.6h0M503.5 379.9h0M523.5 375.8h0M480.5 379.0h0M538.7 376.5h0M527.6 380.3h0M535.0 379.8h0M506.8 380.9h0M513.1 371.4h0M546.9 377.5h0M513.4 381.5h0M504.0 380.2h0M517.3 372.0h0M532.1 374.1h0M473.4 380.4h0M532.4 371.2h0M497.1 379.1h0M519.8 375.5h0M516.1 379.0h0M522.2 375.4h0M527.4 380.7h0M463.7 380.0h0M521.4 372.6h0M483.0 380.3h0M539.7 381.3h0M555.3 376.1h0M533.2 377.7h0M463.2 380.1h0M539.6 377.3h0M463.1 379.5h0M518.4 374.8h0M542.6 372.9h0M551.0 377.2h0M514.2 378.7h0M513.6 376.6h0M471.7 378.2h0M533.1 378.2h0M529.1 382.5h0M537.6 373.5h0M543.7 376.9h0M462.6 380.3h0M547.1 377.2h0M502.0 379.0h0M517.8 381.0h0M466.3 379.9h0M525.2 379.4h0M512.2 371.2h0M474.6 378.6h0M524.6 378.7h0M467.9 378.3h0M508.4 380.2h0M486.1 380.9h0M529.8 381.6h0M508.6 374.8h0M518.3 380.5h0M488.3 380.5h0M476.7 381.2h0M512.5 375.3h0M528.4 379.7h0" stroke="#c8c8c8" stroke-opacity="0.3" stroke-width="2.4" stroke-linecap="round" fill="none"/>
<path d="M539.3 374.0h0M470.5 377.7h0M536.3 381.4h0M480.0 380.5h0M532.5 373.7h0M532.6 374.4h0M497.9 382.1h0M462.7 380.7h0M517.6 376.5h0M552.2 377.7h0M461.5 379.4h0M531.1 377.6h0M521.6 378.1h0M534.9 381.2h0M466.1 381.9h0M538.9 373.2h0M551.0 384.2h0M498.7 378.1h0M526.2 380.6h0M500.2 379.6h0M515.3 376.1h0M510.6 375.7h0M509.1 374.8h0M531.9 375.0h0M521.6 374.1h0M543.3 375.8h0M520.4 379.1h0M523.9 384.4h0M507.9 371.1h0M533.0 377.4h0M544.7 383.2h0M530.4 376.1h0M485.8 380.0h0M537.1 376.3h0M457.0 378.3h0M506.5 376.3h0M510.7 378.7h0M510.6 378.0h0M520.5 373.1h0M558.7 375.1h0M525.7 380.8h0M525.7 381.6h0M547.8 371.4h0M511.5 379.8h0M524.0 377.7h0M527.0 384.5h0M526.8 383.9h0M530.9 377.8h0M532.6 382.5h0M530.1 382.5h0M489.9 379.6h0M541.2 374.0h0M528.1 382.0h0M528.2 378.1h0M485.3 377.2h0M533.8 383.1h0M480.8 379.6h0M534.4 373.6h0M510.4 376.1h0M526.8 381.5h0M537.3 371.7h0M466.0 380.3h0M502.4 383.4h0M523.5 375.2h0M510.6 378.4h0M518.1 379.4h0M527.7 381.8h0M538.9 372.4h0M475.6 379.5h0M493.1 379.2h0M514.8 378.0h0M486.3 380.6h0M547.4 377.7h0M528.9 377.2h0M516.2 379.7h0M516.8 380.4h0M483.4 380.1h0M539.6 383.7h0M515.5 378.9h0M534.8 373.8h0M511.5 381.3h0M531.1 373.5h0M544.6 383.8h0M504.2 371.5h0M544.3 378.3h0M528.3 380.8h0M514.9 379.7h0M521.9 383.7h0M542.5 382.0h0M523.4 382.8h0M520.1 379.1h0M518.6 380.6h0M541.8 377.2h0M483.5 378.1h0M524.3 379.5h0M514.2 380.2h0M533.3 371.5h0M512.8 380.0h0M534.3 379.5h0M522.6 372.6h0M526.5 382.1h0M560.1 372.4h0M539.9 372.7h0M521.2 384.6h0M531.6 371.9h0M516.9 375.6h0M459.9 380.1h0M483.2 381.2h0M537.1 373.3h0M524.9 384.1h0M534.3 375.6h0M503.5 381.5h0M533.9 373.8h0M518.7 377.9h0M536.1 382.5h0M505.0 378.4h0M464.8 380.6h0M505.7 380.7h0M538.8 371.3h0M502.5 372.2h0M505.6 380.3h0M506.0 379.2h0M525.9 382.9h0M519.6 375.7h0M507.2 378.3h0M536.0 372.0h0M523.1 383.8h0M493.1 379.9h0M522.9 377.0h0M526.3 384.1h0M537.2 376.2h0M522.7 375.7h0M549.4 381.0h0M493.3 379.0h0M539.8 382.6h0M530.6 378.4h0M558.6 372.5h0M547.4 372.9h0M494.5 380.8h0M459.3 378.6h0M533.9 377.1h0M475.6 381.2h0M534.4 372.0h0M464.5 379.9h0M502.3 380.7h0M516.9 380.4h0M535.1 375.0h0M532.6 372.7h0M539.5 373.2h0M500.5 379.7h0M519.4 378.1h0M521.1 380.0h0M533.0 374.0h0M470.6 377.8h0M504.7 379.7h0M496.9 380.4h0M536.1 371.5h0M534.8 371.5h0M525.3 382.2h0M543.2 380.9h0M467.1 380.5h0M545.6 382.7h0M526.7 381.3h0M511.6 375.9h0M520.8 376.3h0M521.4 378.8h0M508.6 372.0h0M507.3 377.3h0M463.1 378.8h0M504.3 382.1h0M514.0 375.2h0M506.4 378.3h0M527.2 382.2h0M553.2 378.9h0M546.4 381.6h0M510.4 379.2h0M510.1 371.6h0M525.6 381.7h0M478.0 379.4h0M470.0 379.6h0M470.9 381.5h0M509.8 376.8h0M529.8 383.3h0M505.1 374.2h0M536.9 383.8h0M479.0 379.4h0M504.7 379.0h0M526.8 382.3h0M483.9 381.1h0M541.4 374.7h0M470.6 380.3h0M496.2 381.5h0M461.6 379.2h0M508.0 373.6h0M522.2 376.4h0M521.5 376.5h0M521.7 382.3h0M541.5 373.7h0M503.8 370.8h0M527.5 383.9h0M480.9 380.1h0M492.2 381.4h0M528.7 376.9h0M523.0 374.2h0M520.9 374.9h0M538.3 381.7h0M532.0 376.1h0M540.1 377.0h0M556.7 371.2h0M516.7 379.1h0M542.1 372.5h0M530.2 384.3h0M515.7 372.6h0M525.2 383.9h0M537.0 372.0h0M525.7 379.9h0M537.7 376.5h0M517.6 378.6h0M491.6 378.8h0M513.4 376.8h0M535.6 378.4h0M518.9 379.5h0M514.0 380.3h0M506.6 383.4h0M538.5 375.4h0M565.4 375.7h0M537.5 377.8h0M532.5 372.4h0M528.1 380.9h0M537.8 371.0h0M523.8 374.8h0M549.1 375.0h0M532.4 380.6h0M523.2 377.4h0M534.9 377.1h0M555.6 373.7h0M514.5 371.7h0M531.9 376.9h0M458.7 377.7h0M535.8 374.0h0M506.0 381.3h0M511.0 377.0h0M536.5 378.8h0M536.5 380.0h0M538.6 371.6h0M541.4 383.9h0M513.8 379.1h0M503.2 378.2h0M513.2 371.9h0M486.5 381.3h0M519.0 376.6h0M482.2 380.6h0M507.6 377.1h0M512.3 377.2h0M519.8 370.9h0M472.5 378.1h0M530.6 380.7h0M487.1 379.5h0M484.3 378.9h0M529.4 376.0h0M520.2 377.4h0M487.5 379.2h0M478.7 378.6h0M535.6 373.8h0M503.1 379.2h0M537.8 370.9h0M483.5 378.1h0M457.7 380.6h0M478.1 378.9h0M515.5 373.3h0M500.9 377.3h0M504.7 381.9h0M513.7 380.0h0M501.6 381.0h0M518.9 378.2h0M522.3 378.7h0M520.7 373.0h0M542.0 381.1h0M461.2 377.8h0M535.4 376.0h0M477.2 378.6h0M458.9 379.3h0M538.7 377.4h0M483.7 378.7h0M543.4 381.2h0M471.8 379.9h0M538.7 374.6h0M507.9 379.4h0M507.2 378.1h0M500.0 379.1h0M517.4 381.4h0M520.8 377.6h0M511.4 376.7h0M543.9 380.5h0M529.6 383.7h0" stroke="#c8c8c8" stroke-opacity="0.3" stroke-width="2.4" stroke-linecap="round" fill="none"/>
<path d="M511.2 338.8h0M514.3 348.3h0M516.6 311.9h0M510.7 350.2h0M509.6 324.7h0M519.5 334.5h0M513.8 315.9h0M520.0 347.4h0M497.4 332.8h0M515.6 359.8h0M522.2 332.5h0M516.5 302.9h0M513.1 334.1h0M513.0 346.4h0M517.0 334.2h0M517.5 346.7h0M506.5 334.2h0M511.9 313.0h0M502.9 326.0h0M522.1 317.6h0M518.4 352.5h0M508.7 332.3h0M521.8 342.8h0M501.9 330.2h0M517.6 298.9h0M520.8 306.9h0M517.1 313.9h0M512.8 308.0h0M502.3 311.1h0M518.1 328.7h0M519.4 343.4h0M518.4 344.3h0M510.9 312.1h0M519.1 322.1h0M522.4 347.6h0M512.1 339.7h0M508.4 327.7h0M517.4 325.8h0M514.9 311.2h0M509.3 356.8h0M518.3 314.9h0M516.2 353.6h0M508.8 353.2h0M516.6 334.4h0M512.0 353.5h0M521.7 302.2h0M519.7 342.8h0M518.7 304.1h0M518.0 335.4h0M503.5 351.7h0M500.7 319.9h0M502.1 345.2h0M518.5 337.3h0M521.6 355.5h0M513.3 319.3h0M518.3 329.3h0M501.3 335.9h0M512.1 338.8h0M508.5 320.6h0M519.2 344.0h0M513.2 348.1h0M522.4 369.1h0M522.4 339.7h0M518.9 318.3h0M514.5 353.1h0M514.1 321.9h0M515.0 341.8h0M518.3 354.6h0M519.9 314.3h0M510.7 319.8h0M502.9 355.1h0M511.8 349.3h0M473.6 322.8h0M512.8 323.7h0M522.3 312.2h0M500.2 333.5h0M497.9 334.8h0M518.2 331.8h0M511.1 338.2h0M508.3 325.0h0M506.5 334.8h0M510.5 330.7h0M521.3 318.9h0M512.9 298.2h0M511.9 320.8h0M517.0 320.3h0M496.3 330.0h0M521.4 323.5h0M514.8 334.1h0M518.1 335.8h0M501.8 338.2h0M517.0 359.0h0M520.1 314.9h0M516.4 325.3h0M511.2 326.6h0M512.1 315.1h0M512.2 317.9h0M520.4 340.9h0M507.2 340.6h0M513.5 323.4h0M520.4 328.2h0M512.8 328.6h0M509.8 324.5h0M518.9 369.1h0M518.2 330.3h0M508.5 326.4h0M518.2 337.2h0M505.2 334.9h0M520.5 337.4h0M518.0 330.2h0M522.4 330.6h0M513.7 305.2h0M513.9 336.0h0M511.0 323.5h0M514.3 342.2h0M518.0 354.6h0M511.7 315.6h0M519.6 358.0h0M515.9 311.2h0M517.3 336.5h0M515.3 346.0h0M521.8 350.6h0M520.8 317.4h0M518.6 333.6h0M517.1 366.2h0M513.7 327.9h0M511.0 322.0h0M520.6 305.9h0M501.9 305.7h0M508.0 356.7h0M514.8 331.2h0M514.5 352.6h0M511.1 323.6h0M518.3 332.6h0M518.3 331.3h0M512.3 318.7h0M515.0 332.1h0M507.7 354.9h0M501.1 342.7h0M508.9 325.7h0M509.3 308.7h0M512.3 353.2h0M517.7 327.5h0M498.9 319.6h0M515.9 353.0h0M519.7 332.2h0M513.9 330.6h0M516.6 322.8h0M506.8 327.2h0M509.3 309.2h0M521.2 366.1h0M512.7 311.4h0M513.0 330.7h0M521.5 327.1h0M519.5 347.5h0M476.8 324.4h0M501.3 315.7h0M519.8 355.2h0M517.9 319.8h0M515.1 358.4h0M520.1 359.9h0M511.0 348.2h0M516.8 344.1h0M517.2 322.3h0M506.4 350.2h0M519.8 363.3h0M509.0 304.3h0M508.9 326.3h0M516.2 350.4h0M514.9 310.7h0M495.8 341.0h0M519.9 313.9h0M522.2 359.6h0M513.5 333.9h0M520.5 361.5h0M512.4 315.3h0M509.0 345.3h0M509.3 315.7h0M502.7 328.3h0M520.4 340.3h0M521.5 311.5h0M520.8 332.0h0M506.9 343.6h0M514.4 326.1h0M517.8 339.4h0M506.7 342.4h0M500.2 323.0h0M513.5 321.1h0M513.2 340.2h0M517.8 331.2h0M520.8 321.9h0M522.0 351.7h0M513.2 340.8h0M514.8 343.9h0M519.4 360.6h0M489.1 339.0h0M512.9 336.5h0M514.6 319.3h0M514.9 346.2h0M522.3 315.4h0M508.3 312.9h0M502.5 334.9h0M519.9 357.1h0M499.2 325.6h0M513.3 310.7h0M513.8 342.4h0M517.0 309.5h0M517.8 310.9h0M505.6 305.3h0M512.6 323.7h0M514.7 313.0h0M499.5 337.3h0M518.6 298.9h0M511.9 344.3h0M519.8 321.8h0M496.2 347.2h0M513.9 309.8h0M520.6 345.7h0M522.1 337.2h0M507.6 355.4h0M503.4 316.8h0M511.5 347.3h0M511.8 341.2h0M510.0 312.8h0M522.0 340.0h0M493.1 345.9h0M516.9 367.7h0M503.5 314.0h0M517.7 324.5h0M521.4 325.7h0M505.9 363.5h0M512.8 350.4h0M501.8 298.0h0M522.0 337.7h0M512.9 343.9h0M522.3 316.9h0M513.4 349.9h0M519.7 339.3h0M508.1 347.2h0M512.4 314.8h0M512.5 351.9h0M510.2 337.7h0M518.3 314.5h0M510.0 330.8h0M513.3 324.4h0M504.3 369.3h0M520.3 320.6h0M520.9 353.4h0M519.6 328.0h0M512.2 363.3h0M511.4 312.9h0M519.5 342.7h0M520.7 366.9h0M513.1 342.9h0M520.4 313.0h0M511.4 324.3h0M506.5 319.3h0M521.3 351.3h0M494.2 316.7h0M506.4 298.6h0M504.3 350.8h0M512.1 334.7h0M509.8 331.9h0M521.7 317.1h0M504.7 293.4h0M516.0 358.4h0M513.6 336.0h0M508.5 350.3h0M511.9 362.4h0M519.1 370.0h0M513.4 349.4h0M518.4 345.1h0M508.0 333.0h0M517.4 331.8h0M520.3 342.2h0M510.3 345.9h0M509.0 321.3h0M510.5 322.0h0M511.7 366.5h0M512.5 345.3h0M517.0 350.7h0M503.5 346.4h0M520.6 317.8h0M515.5 325.6h0M510.5 330.7h0M521.3 336.0h0M518.7 323.0h0M512.0 345.7h0M512.5 344.7h0M510.1 350.2h0M515.5 366.6h0M520.5 352.7h0M507.2 357.2h0M510.7 331.7h0M519.9 356.4h0M521.0 309.4h0M517.9 362.5h0M513.4 299.1h0M508.6 347.8h0M520.7 352.5h0M515.7 316.3h0M518.3 316.7h0M515.0 320.5h0M512.7 354.2h0M514.8 359.9h0M505.6 329.4h0M520.9 313.2h0M498.8 340.6h0M513.0 341.2h0M520.6 348.4h0M509.2 301.3h0M520.3 319.7h0M512.1 352.3h0M512.8 325.6h0M496.6 339.1h0M517.2 346.9h0M519.9 327.6h0M508.7 349.1h0M503.6 345.8h0M501.3 338.3h0M514.0 320.0h0M520.8 337.5h0M518.5 355.2h0M521.1 344.1h0M505.7 349.2h0M513.6 311.7h0M503.2 316.2h0M516.2 330.1h0M514.7 323.8h0M509.5 332.1h0M515.4 363.7h0M511.8 337.7h0M501.2 317.2h0M509.9 335.9h0M522.1 339.7h0M519.8 307.8h0M520.1 338.1h0M522.3 332.5h0M503.6 327.7h0" stroke="#4a98bd" stroke-opacity="0.3" stroke-width="3.0" stroke-linecap="round" fill="none"/>
<path d="M514.1 338.4h0M502.3 338.1h0M514.5 345.8h0M519.8 324.7h0M522.0 309.0h0M504.2 346.4h0M511.7 322.3h0M515.1 300.7h0M513.5 326.0h0M521.0 313.5h0M508.9 339.0h0M512.9 349.2h0M508.1 344.5h0M519.6 356.9h0M522.2 329.8h0M519.0 336.8h0M515.1 367.8h0M520.9 320.5h0M503.0 334.0h0M522.0 363.3h0M509.7 339.6h0M511.7 368.6h0M513.4 320.1h0M510.6 317.7h0M514.2 358.9h0M511.0 328.6h0M511.3 329.5h0M513.3 341.5h0M510.8 360.6h0M514.9 355.0h0M519.1 352.0h0M515.4 301.8h0M522.3 308.1h0M513.0 335.0h0M516.1 332.7h0M520.6 333.8h0M518.2 338.8h0M506.1 351.6h0M522.1 360.6h0M515.8 337.7h0M519.6 337.3h0M521.5 310.5h0M521.0 360.6h0M517.7 318.4h0M512.3 349.3h0M512.7 338.1h0M520.7 356.8h0M517.8 368.2h0M521.0 314.3h0M501.5 343.5h0M512.0 287.2h0M518.6 342.3h0M517.6 337.7h0M515.5 338.6h0M515.7 359.1h0M513.8 333.0h0M515.2 315.7h0M500.4 335.7h0M512.9 303.4h0M513.3 324.1h0M518.5 335.7h0M504.6 312.0h0M512.0 318.2h0M518.8 301.1h0M514.9 324.5h0M514.0 326.4h0M508.0 325.1h0M513.1 322.2h0M517.8 361.7h0M500.3 336.6h0M508.8 326.6h0M513.7 343.6h0M515.0 348.0h0M498.4 340.9h0M516.9 315.8h0M517.6 326.9h0M519.9 326.7h0M511.1 347.3h0M521.7 360.6h0M514.1 345.6h0M519.0 324.4h0M514.7 303.2h0M511.4 366.2h0M500.6 354.4h0M521.2 336.1h0M521.1 313.1h0M520.4 331.2h0M503.5 341.0h0M509.9 332.7h0M500.7 309.0h0M502.1 339.8h0M514.8 356.2h0M517.9 342.1h0M512.9 341.9h0M519.0 310.9h0M449.1 341.0h0M521.8 330.1h0M517.7 351.8h0M517.9 364.0h0M518.6 325.7h0M511.5 314.5h0M518.2 339.8h0M512.5 306.0h0M519.8 324.9h0M521.7 356.5h0M511.4 333.8h0M515.5 311.4h0M521.8 302.8h0M505.5 344.5h0M514.9 353.1h0M522.2 368.8h0M519.0 338.2h0M511.3 321.6h0M519.0 346.2h0M513.9 328.9h0M520.8 356.3h0M509.0 312.6h0M513.5 307.6h0M515.4 334.4h0M492.0 343.6h0M500.4 332.1h0M510.1 329.5h0M516.0 357.8h0M514.3 317.5h0M498.8 333.8h0M514.4 307.5h0M519.1 368.0h0M512.5 363.9h0M514.5 332.3h0M509.4 339.5h0M513.6 368.7h0M516.9 367.5h0M518.4 311.1h0M500.7 319.8h0M520.4 322.5h0M520.7 323.6h0M501.9 333.9h0M519.3 357.7h0M505.2 305.8h0M516.2 328.1h0M516.1 356.9h0M516.5 335.4h0M520.9 335.1h0M511.8 348.5h0M508.1 330.7h0M514.5 334.2h0M512.6 322.7h0M503.0 317.4h0M507.3 322.1h0M499.8 338.1h0M512.7 326.5h0M517.8 304.1h0M509.0 348.8h0M505.4 335.0h0M519.7 342.6h0M516.5 332.5h0M508.9 352.2h0M505.9 319.4h0M507.9 316.7h0M500.2 310.2h0M509.0 342.9h0M510.4 357.1h0M514.9 341.7h0M512.8 370.0h0M516.3 320.4h0M472.7 357.6h0M511.6 351.2h0M508.2 308.3h0M516.9 366.8h0M520.6 319.4h0M521.3 344.1h0M520.0 367.4h0M517.6 349.8h0M520.6 315.3h0M505.6 331.6h0M519.1 324.1h0M514.2 345.3h0M516.8 340.1h0M521.0 321.0h0M520.1 326.3h0M509.8 347.4h0M517.2 336.7h0M510.6 311.6h0M519.1 367.1h0M508.5 331.5h0M517.4 357.2h0M513.2 327.3h0M517.3 311.5h0M508.8 346.3h0M498.2 347.6h0M518.6 333.6h0M512.7 322.0h0M521.6 301.2h0M521.1 320.5h0M514.8 303.6h0M515.3 330.6h0M492.8 343.7h0M513.6 335.8h0M514.3 347.4h0M507.2 310.6h0M513.9 330.2h0M517.4 317.8h0M520.3 303.8h0M521.4 305.4h0M513.1 355.2h0M507.5 336.9h0M520.7 336.7h0M501.4 342.7h0M512.6 354.3h0M517.9 362.3h0M521.4 342.7h0M518.4 313.9h0M494.6 325.9h0M508.5 324.4h0M517.8 314.4h0M514.8 326.1h0M513.3 343.0h0M515.5 316.7h0M509.1 308.7h0M512.3 364.0h0M508.3 308.6h0M505.3 327.7h0M510.7 325.6h0M512.0 353.8h0M514.4 361.6h0M513.5 337.8h0M515.5 368.0h0M521.4 309.8h0M519.6 331.6h0M517.1 343.4h0M522.2 320.7h0M511.9 350.3h0M507.5 340.9h0M498.8 343.5h0M519.6 328.7h0M520.0 367.7h0M519.0 368.4h0M519.1 341.7h0M503.3 332.7h0M514.2 331.5h0M508.8 343.1h0M519.6 329.6h0M512.4 315.0h0M512.6 321.5h0M512.3 332.1h0M504.5 300.4h0M507.6 348.7h0M513.1 330.5h0M519.5 338.4h0M522.1 368.4h0M521.4 310.4h0M515.0 335.9h0M509.0 325.9h0M483.9 319.2h0M516.2 349.0h0M511.1 325.3h0M522.4 326.4h0M507.3 338.5h0M521.2 317.0h0M521.9 327.6h0M511.8 349.2h0M517.5 321.8h0M518.7 316.4h0M519.8 340.9h0M514.2 357.3h0M517.8 318.7h0M516.2 366.6h0M513.5 357.8h0M519.2 356.1h0M519.3 358.8h0M518.9 338.6h0M518.0 324.2h0M502.9 334.9h0M516.7 339.4h0M508.8 337.5h0M509.3 330.4h0M517.4 334.7h0M509.5 338.1h0M522.4 342.5h0M517.6 327.4h0M521.0 310.1h0M520.2 284.3h0M504.2 349.1h0M519.2 304.6h0M519.5 323.0h0M521.2 362.6h0M505.2 366.3h0M521.6 312.9h0M521.5 342.1h0M521.2 365.1h0M515.2 326.7h0M491.1 352.9h0M493.8 353.0h0M517.5 347.7h0M508.7 352.7h0M514.1 355.2h0M512.6 331.3h0M517.6 306.8h0M513.1 353.8h0M513.7 353.9h0M511.6 328.8h0M497.7 334.3h0M506.2 362.2h0M498.9 312.7h0M507.0 360.3h0M516.0 338.3h0M504.9 345.0h0M513.9 342.6h0M520.6 335.6h0M509.6 347.0h0M508.3 331.2h0M521.9 343.5h0M516.1 359.9h0M502.0 316.0h0M519.9 352.4h0M522.1 317.0h0M518.8 344.9h0M507.4 324.1h0M520.2 329.6h0M521.6 299.7h0M510.3 350.9h0M516.5 327.3h0M522.1 336.7h0M517.3 334.3h0M500.9 284.1h0M522.3 348.2h0M495.8 333.4h0M515.8 314.5h0M519.0 334.1h0M510.6 353.2h0M514.9 366.4h0M511.3 356.5h0M519.1 340.6h0M499.3 332.4h0M512.3 351.2h0M513.5 338.3h0M515.5 335.2h0M517.2 348.4h0M494.9 320.3h0" stroke="#4a98bd" stroke-opacity="0.3" stroke-width="3.0" stroke-linecap="round" fill="none"/>
<path d="M521.9 360.9h0M512.2 336.5h0M521.5 359.7h0M521.5 339.5h0M516.3 346.2h0M504.7 306.2h0M503.1 316.1h0M512.9 329.9h0M506.1 345.3h0M498.4 341.4h0M512.9 332.8h0M519.2 362.0h0M512.5 315.9h0M500.1 349.2h0M519.5 359.4h0M522.3 318.7h0M522.3 350.7h0M502.5 346.5h0M512.4 367.6h0M515.3 313.6h0M507.9 321.6h0M519.8 346.9h0M519.6 355.6h0M507.1 356.6h0M516.0 319.3h0M501.0 315.1h0M521.7 329.4h0M521.8 349.7h0M511.2 340.5h0M517.1 329.8h0M519.4 368.5h0M505.7 340.8h0M507.9 320.7h0M521.5 336.7h0M513.0 347.4h0M514.1 318.2h0M512.2 311.8h0M512.8 335.3h0M520.0 336.4h0M517.8 341.2h0M509.5 351.6h0M513.6 337.5h0M516.8 310.0h0M514.5 363.6h0M513.3 333.5h0M509.4 323.9h0M521.1 349.1h0M519.3 331.5h0M512.3 310.5h0M515.9 343.8h0M503.7 321.9h0M482.9 340.1h0M517.9 307.1h0M507.6 317.0h0M517.6 354.7h0M520.2 362.3h0M522.0 338.0h0M507.6 352.8h0M511.0 322.6h0M520.4 320.9h0M503.0 331.3h0M513.1 322.9h0M516.7 310.0h0M500.6 334.5h0M521.9 352.5h0M517.3 313.0h0M513.1 331.0h0M509.6 332.8h0M513.0 314.9h0M521.6 347.2h0M510.5 338.0h0M519.3 306.4h0M514.5 309.5h0M507.6 326.0h0M514.6 345.6h0M517.8 350.2h0M514.1 334.1h0M508.5 316.3h0M512.6 331.7h0M522.1 326.1h0M521.2 344.2h0M509.2 351.6h0M520.7 365.5h0M521.0 311.2h0M513.0 359.3h0M513.5 329.6h0M517.8 337.3h0M514.9 334.8h0M521.3 362.2h0M518.3 331.7h0M518.3 317.0h0M508.8 324.6h0M495.3 350.9h0M510.5 344.5h0M511.7 343.0h0M520.1 313.3h0M519.2 338.2h0M511.8 352.3h0M515.4 342.0h0M512.3 309.1h0M512.3 341.2h0M516.0 311.9h0M512.0 340.6h0M519.1 327.0h0M521.5 354.2h0M520.0 356.7h0M510.4 322.2h0M512.4 330.3h0M510.7 318.3h0M518.9 301.4h0M519.1 368.9h0M511.1 309.3h0M511.8 320.0h0M502.9 354.9h0M518.3 351.6h0M514.5 305.9h0M521.3 338.4h0M506.4 350.0h0M509.6 326.1h0M519.0 316.7h0M510.5 328.5h0M516.7 326.6h0M519.2 369.7h0M497.2 333.8h0M520.3 353.6h0M511.3 333.5h0M516.9 326.0h0M509.3 341.4h0M520.7 345.2h0M518.9 343.6h0M501.9 323.6h0M519.2 348.6h0M496.7 344.3h0M504.8 341.6h0M512.0 342.0h0M521.4 355.6h0M519.0 298.1h0M512.9 306.3h0M510.7 336.2h0M517.9 318.2h0M504.6 327.1h0M512.2 315.6h0M521.6 326.7h0M516.4 315.9h0M505.1 337.0h0M519.5 330.3h0M514.7 316.6h0M515.7 313.3h0M498.1 347.3h0M510.2 314.4h0M521.7 312.6h0M508.3 333.9h0M511.0 357.1h0M518.9 363.7h0M510.8 331.8h0M501.2 337.7h0M516.3 307.2h0M516.4 347.7h0M520.2 340.9h0M513.3 347.6h0M519.1 312.1h0M510.5 343.1h0M520.5 313.4h0M520.9 356.2h0M511.6 342.8h0M515.3 326.2h0M522.3 306.3h0M514.1 352.0h0M517.9 362.3h0M517.5 363.6h0M518.9 320.8h0M521.1 341.0h0M520.7 325.3h0M519.0 337.6h0M515.4 325.2h0M518.2 323.1h0M518.8 364.7h0M508.3 335.5h0M513.4 353.2h0M520.0 353.6h0M512.0 339.0h0M498.8 331.7h0M510.7 352.1h0M520.5 320.6h0M515.8 336.6h0M501.3 342.0h0M511.1 329.9h0M519.5 347.5h0M501.8 325.0h0M519.7 335.6h0M495.7 332.6h0M513.3 335.2h0M506.1 363.4h0M500.8 364.1h0M511.8 346.7h0M501.6 331.0h0M512.1 357.4h0M508.4 349.5h0M498.6 328.9h0M495.5 335.9h0M514.3 339.4h0M506.0 320.2h0M517.3 342.4h0M514.0 347.7h0M504.5 321.7h0M513.6 323.6h0M513.2 312.7h0M517.2 348.7h0M522.3 338.0h0M513.5 337.6h0M519.6 315.6h0M522.4 328.0h0M506.5 325.2h0M519.1 365.4h0M520.5 343.0h0M515.5 343.5h0M521.9 314.5h0M515.8 331.4h0M519.1 355.7h0M517.9 345.4h0M520.6 370.1h0M510.5 322.0h0M514.7 349.5h0M512.2 338.7h0M511.5 336.3h0M521.2 338.7h0M468.2 315.1h0M520.8 355.7h0M512.5 316.4h0M519.9 348.6h0M509.3 317.2h0M508.7 353.2h0M510.9 360.4h0M516.5 329.9h0M507.6 351.6h0M519.1 324.6h0M500.9 331.1h0M522.0 353.8h0M514.3 330.5h0M520.6 359.1h0M483.2 344.2h0M515.5 326.9h0M513.5 343.4h0M499.1 345.1h0M517.1 298.5h0M520.6 332.7h0M520.3 344.2h0M508.5 331.3h0M512.9 329.8h0M510.2 338.6h0M498.5 338.3h0M520.9 314.5h0M511.0 340.4h0M518.6 338.5h0M514.7 350.6h0M490.6 332.4h0M520.1 329.5h0M511.1 316.5h0M518.7 331.3h0M513.4 313.2h0M513.0 300.6h0M507.5 295.5h0M511.7 342.0h0M520.6 365.1h0M506.7 357.6h0M502.9 339.9h0M515.4 349.8h0M493.9 328.0h0M519.7 357.8h0M501.8 329.2h0M517.0 345.1h0M512.1 338.9h0M516.6 345.7h0M506.1 327.7h0M516.8 330.6h0M522.3 333.6h0M512.7 304.1h0M520.3 362.5h0M519.7 350.3h0M517.1 360.0h0M512.3 315.6h0M520.6 329.2h0M515.5 331.8h0M517.9 341.4h0M512.9 352.4h0M522.4 331.1h0M509.6 320.6h0M500.3 345.1h0M516.4 363.4h0M520.7 343.3h0M503.2 349.5h0M520.6 357.7h0M513.3 349.9h0M521.5 305.4h0M520.3 316.5h0M518.4 320.8h0M507.0 326.9h0M519.6 343.7h0M513.0 330.0h0M521.7 360.4h0M510.7 345.7h0M512.4 364.6h0M513.1 311.8h0M514.4 354.3h0M521.3 309.2h0M509.3 331.2h0M513.2 341.7h0M495.2 328.6h0M511.7 338.9h0M519.7 338.0h0M513.7 299.6h0M506.5 326.0h0M519.0 332.8h0M520.0 346.6h0M506.3 326.7h0M506.9 313.7h0M518.3 363.0h0M518.2 332.6h0M504.8 342.8h0M521.0 341.2h0M514.6 332.2h0M505.6 327.2h0M517.0 337.3h0M504.5 341.0h0M521.4 348.0h0M509.9 334.2h0M498.2 333.9h0M519.5 343.1h0M503.2 336.5h0M520.7 324.6h0M505.0 331.3h0M507.6 354.7h0M520.2 312.6h0M520.7 348.3h0M518.9 333.9h0M512.1 360.5h0M518.5 357.4h0M519.6 306.5h0M516.3 342.9h0" stroke="#4a98bd" stroke-opacity="0.3" stroke-width="3.0" stroke-linecap="round" fill="none"/>
<path d="M519.6 340.5h0M522.0 328.2h0M513.4 322.6h0M511.0 304.5h0M511.1 327.6h0M514.0 360.0h0M515.5 334.3h0M510.5 363.7h0M514.0 347.6h0M512.3 324.4h0M506.7 325.6h0M513.3 321.0h0M509.9 344.9h0M512.1 325.8h0M503.9 309.5h0M515.8 310.0h0M509.4 317.9h0M516.3 334.5h0M508.3 345.5h0M518.1 327.1h0M514.9 343.1h0M518.5 326.4h0M517.5 323.7h0M516.8 364.4h0M505.1 323.7h0M521.9 337.6h0M521.8 305.0h0M515.4 369.3h0M509.9 348.7h0M495.6 343.8h0M503.5 315.8h0M509.9 325.8h0M502.6 319.3h0M517.9 310.7h0M519.0 311.4h0M506.9 320.3h0M513.5 309.0h0M519.8 342.0h0M502.4 343.7h0M511.5 330.3h0M509.3 355.6h0M518.1 313.0h0M519.4 333.1h0M509.9 331.4h0M507.5 330.7h0M517.5 322.6h0M517.8 313.7h0M507.7 324.8h0M514.0 337.0h0M519.1 321.7h0M517.4 348.4h0M517.8 308.0h0M520.2 345.5h0M521.2 356.5h0M519.7 367.3h0M513.4 313.4h0M502.4 330.0h0M515.1 312.2h0M504.0 324.5h0M495.7 325.6h0M505.3 325.3h0M495.8 324.9h0M514.5 325.8h0M512.0 322.0h0M509.4 343.7h0M513.5 346.9h0M518.5 365.4h0M513.2 341.8h0M505.4 352.7h0M520.8 333.4h0M515.1 331.8h0M519.2 356.5h0M516.9 369.8h0M512.8 319.2h0M521.2 310.1h0M509.5 353.9h0M510.6 330.2h0M518.2 322.7h0M521.8 328.8h0M486.4 351.3h0M519.6 354.5h0M510.7 339.9h0M507.1 345.2h0M510.3 305.0h0M521.9 333.1h0M512.9 348.2h0M519.7 354.1h0M502.0 328.5h0M511.4 312.3h0M521.7 313.1h0M517.8 310.8h0M518.3 331.2h0M519.6 313.5h0M516.7 358.6h0M520.2 333.0h0M522.3 340.2h0M510.8 315.2h0M517.6 311.6h0M503.5 321.6h0M510.2 315.4h0M508.0 318.6h0M508.0 328.6h0M517.4 354.2h0M518.6 349.6h0M520.8 362.3h0M518.2 309.7h0M507.3 331.0h0M518.2 354.7h0M502.4 328.5h0M521.2 361.8h0M505.6 335.3h0M513.9 332.2h0M518.0 317.4h0M511.7 340.2h0M500.3 312.6h0M521.3 334.3h0M500.1 329.6h0M514.1 323.9h0M495.5 351.2h0M520.2 356.8h0M502.0 330.8h0M519.6 364.2h0M513.5 334.1h0M516.7 342.0h0M491.4 308.6h0M507.0 340.1h0M521.9 325.2h0M503.1 316.9h0M514.0 311.2h0M520.7 330.1h0M516.1 355.4h0M509.0 314.6h0M518.9 314.9h0M505.1 353.6h0M522.3 355.0h0M512.1 325.1h0M518.1 338.0h0M512.6 344.3h0M522.4 345.8h0M508.6 290.7h0M497.6 321.2h0M510.6 360.3h0M517.1 367.7h0M511.5 325.7h0M519.2 339.3h0M504.3 338.4h0M510.3 357.0h0M518.8 294.9h0M515.4 338.3h0M508.2 354.6h0M521.5 364.3h0M502.1 370.2h0M509.1 330.7h0M502.2 326.5h0M507.3 358.6h0M519.1 358.0h0M511.5 331.7h0M522.4 361.3h0M514.9 311.1h0M513.6 307.8h0M522.3 340.3h0M522.4 321.5h0M516.5 336.0h0M504.7 338.6h0M509.3 334.8h0M521.8 314.7h0M519.3 335.3h0M513.4 366.9h0M501.5 343.3h0M512.4 318.5h0M485.9 331.2h0M522.0 353.6h0M520.7 328.0h0M511.7 339.1h0M513.4 350.0h0M510.7 365.2h0M513.1 369.8h0M508.9 321.3h0M520.3 327.4h0M511.5 314.3h0M509.0 350.0h0M516.1 362.2h0M521.3 329.3h0M499.8 349.2h0M506.7 325.9h0M511.4 350.1h0M511.2 352.0h0M512.6 326.5h0M508.7 323.5h0M520.7 343.2h0M521.2 341.6h0M516.2 311.7h0M520.1 360.3h0M498.0 342.2h0M521.9 341.1h0M518.4 346.8h0M512.3 332.0h0M520.9 345.5h0M519.4 327.2h0M513.5 332.6h0M512.7 362.1h0M511.1 357.3h0M509.3 348.4h0M510.6 338.8h0M499.2 334.9h0M513.2 351.6h0M515.4 334.6h0M513.9 350.3h0M522.2 322.0h0M517.6 310.0h0M511.0 338.5h0M510.8 330.6h0M522.4 345.9h0M513.4 331.8h0M517.2 304.2h0M505.8 310.6h0M509.0 335.3h0M511.1 348.4h0M513.9 364.8h0M518.1 322.2h0M506.1 349.6h0M510.8 315.3h0M513.3 327.3h0M517.2 343.7h0M519.6 365.2h0M500.2 346.6h0M517.3 353.5h0M508.9 322.6h0M501.3 328.5h0M519.1 307.6h0M506.3 332.3h0M513.9 328.0h0M512.2 344.2h0M520.0 343.8h0M521.5 308.2h0M513.5 315.3h0M520.2 317.0h0M509.4 344.9h0M515.8 335.6h0M508.5 361.5h0M508.4 304.4h0M505.8 337.9h0M518.3 312.4h0M517.8 317.3h0M478.5 322.2h0M513.3 338.5h0M522.2 341.4h0M515.8 327.0h0M513.6 324.4h0M504.3 314.2h0M510.7 324.7h0M513.9 334.3h0M510.6 317.8h0M510.1 364.5h0M492.8 334.4h0M516.9 317.9h0M493.6 348.6h0M520.3 311.9h0M515.0 334.9h0M513.8 357.7h0M521.8 338.4h0M504.8 335.0h0M513.4 301.0h0M503.6 333.2h0M513.2 339.1h0M519.8 333.1h0M507.8 363.1h0M511.9 363.7h0M517.9 352.5h0M520.4 370.2h0M522.0 365.8h0M520.2 339.4h0M518.0 353.4h0M508.6 339.0h0M520.5 356.7h0M508.7 348.4h0M505.3 312.1h0M519.9 360.2h0M509.2 369.3h0M505.4 330.9h0M508.8 344.0h0M511.9 303.7h0M505.9 319.7h0M519.4 313.6h0M504.4 318.5h0M505.2 344.6h0M514.1 352.2h0M511.2 315.0h0M519.8 329.4h0M509.9 359.8h0M489.3 326.2h0M499.5 354.4h0M500.2 339.2h0M517.3 349.6h0M514.1 327.6h0M513.3 325.4h0M516.9 347.5h0M521.6 299.4h0M517.8 311.7h0M517.3 312.3h0M520.3 334.7h0M506.7 337.8h0M514.6 317.6h0M510.2 327.9h0M517.0 353.6h0M508.1 363.5h0M511.6 332.5h0M521.6 304.5h0M521.0 366.4h0M513.5 340.8h0M488.7 345.7h0M522.0 336.0h0M514.3 347.2h0M502.0 354.3h0M508.3 353.6h0M511.0 314.2h0M509.9 312.9h0M512.6 352.2h0M498.4 344.8h0M512.8 331.3h0M501.1 320.5h0M509.7 355.1h0M519.9 333.1h0M509.1 335.2h0M518.8 350.1h0M522.2 325.1h0M514.2 316.8h0M513.4 317.7h0M509.2 348.9h0M517.5 312.4h0M512.0 316.6h0M517.9 321.3h0M518.9 322.5h0M518.3 319.5h0M515.9 347.3h0M519.8 317.8h0M514.1 337.6h0M521.4 311.2h0M521.0 362.7h0" stroke="#4a98bd" stroke-opacity="0.3" stroke-width="3.0" stroke-linecap="round" fill="none"/>
<path d="M512.7 345.1h0M519.0 357.7h0M512.1 345.9h0M513.0 345.6h0M510.6 365.0h0M518.8 358.5h0M521.3 352.8h0M514.1 356.3h0M522.3 346.0h0M505.9 314.6h0M520.6 327.4h0M518.7 337.9h0M517.5 354.5h0M516.6 300.5h0M501.4 337.2h0M513.6 339.8h0M515.6 356.7h0M513.2 357.4h0M522.1 369.6h0M509.0 364.1h0M511.5 316.9h0M522.2 357.7h0M521.7 346.1h0M516.2 340.3h0M510.1 319.8h0M502.0 345.3h0M517.1 311.9h0M511.5 345.2h0M514.1 328.8h0M515.5 368.6h0M520.8 346.7h0M519.9 312.4h0M515.2 354.9h0M514.0 299.4h0M509.4 318.7h0M508.4 349.8h0M514.0 348.2h0M509.9 322.1h0M511.3 343.0h0M517.9 326.6h0M514.8 369.4h0M512.1 323.9h0M515.9 324.0h0M518.1 359.0h0M510.6 364.5h0M510.1 335.1h0M520.3 327.7h0M513.9 344.0h0M518.0 316.8h0M515.7 330.8h0M518.1 343.7h0M521.9 343.7h0M508.5 345.8h0M503.4 349.0h0M512.1 311.4h0M519.3 336.1h0M502.7 332.5h0M517.7 305.5h0M522.3 355.4h0M509.7 361.8h0M493.6 336.4h0M511.4 306.9h0M512.1 343.5h0M508.4 324.9h0M521.2 331.1h0M467.5 341.4h0M512.3 306.1h0M517.6 314.2h0M522.0 354.5h0M506.7 327.0h0M522.1 301.1h0M486.2 323.2h0M516.5 351.9h0M514.5 370.1h0M506.2 329.5h0M522.4 332.8h0M509.2 345.7h0M518.5 330.6h0M514.4 317.8h0M520.0 364.7h0M514.8 316.1h0M516.2 321.1h0M515.3 364.7h0M514.8 314.9h0M508.3 332.9h0M514.1 301.1h0M508.6 322.1h0M503.9 331.0h0M513.9 345.6h0M516.7 346.1h0M520.8 366.2h0M522.1 356.5h0M521.9 349.4h0M520.1 302.1h0M515.5 327.7h0M508.8 358.3h0M517.9 365.8h0M510.2 337.4h0M516.6 318.6h0M507.5 321.6h0M483.2 314.6h0M518.5 329.3h0M514.4 332.4h0M506.1 351.5h0M512.5 328.0h0M498.6 326.1h0M515.6 322.7h0M510.7 328.7h0M508.7 331.3h0M520.7 346.1h0M508.4 333.8h0M513.6 351.8h0M516.6 369.5h0M518.4 309.7h0M510.3 323.7h0M521.5 305.4h0M520.5 351.9h0M513.6 325.9h0M516.3 320.5h0M486.8 340.4h0M520.2 348.5h0M514.0 345.3h0M513.3 353.8h0M519.4 337.2h0M509.4 314.2h0M519.4 334.8h0M521.2 351.1h0M522.3 317.5h0M515.8 358.4h0M517.7 368.8h0M520.8 323.6h0M513.1 346.4h0M516.5 362.4h0M520.4 321.8h0M498.9 347.3h0M517.0 345.6h0M514.8 314.3h0M515.8 302.1h0M509.4 341.1h0M516.3 311.3h0M510.8 326.5h0M514.6 322.3h0M514.7 320.1h0M513.3 329.0h0M521.7 352.4h0M508.1 323.5h0M514.0 307.8h0M520.6 369.2h0M511.5 341.6h0M509.1 368.3h0M507.3 309.7h0M513.7 331.4h0M512.6 321.9h0M517.1 333.3h0M517.7 355.0h0M508.1 338.8h0M519.4 365.2h0M520.8 303.1h0M515.0 335.2h0M519.8 316.8h0M521.7 318.8h0M516.2 362.4h0M515.8 347.8h0M513.8 357.7h0M517.4 347.2h0M513.1 341.9h0M520.0 322.8h0M513.3 336.3h0M501.4 322.0h0M512.3 326.6h0M521.0 350.7h0M513.5 331.7h0M512.2 308.4h0M519.4 353.3h0M519.8 310.3h0M502.8 332.5h0M522.3 300.7h0M470.6 342.1h0M515.8 300.9h0M514.7 361.9h0M512.7 328.6h0M513.9 340.8h0M503.8 327.9h0M483.9 332.9h0M514.3 334.9h0M519.9 328.2h0M517.5 358.6h0M496.8 325.0h0M517.4 350.8h0M522.2 350.7h0M512.2 320.1h0M490.5 346.0h0M515.4 320.8h0M520.2 364.6h0M484.8 325.7h0M515.5 345.8h0M510.8 340.1h0M512.7 361.1h0M514.1 307.5h0M510.5 314.8h0M512.9 363.1h0M519.8 366.0h0M516.9 349.7h0M510.6 337.0h0M506.8 341.6h0M522.2 345.5h0M510.5 310.1h0M513.3 331.6h0M519.1 326.8h0M519.3 344.5h0M504.9 334.4h0M504.5 312.0h0M516.0 328.9h0M509.6 328.3h0M509.2 330.5h0M521.3 349.0h0M515.8 323.1h0M517.8 358.0h0M501.8 335.4h0M515.8 318.2h0M515.7 351.6h0M508.9 329.7h0M518.4 355.8h0M507.1 352.7h0M514.7 311.5h0M522.2 316.5h0M510.9 350.0h0M521.1 368.7h0M497.6 327.6h0M518.4 367.7h0M514.7 364.8h0M517.9 330.9h0M515.9 334.3h0M518.3 341.2h0M490.9 337.2h0M521.3 328.3h0M521.7 355.1h0M499.1 344.5h0M509.3 309.9h0M520.2 340.2h0M515.0 362.1h0M515.8 349.4h0M502.0 323.2h0M516.2 321.4h0M485.1 313.3h0M512.9 323.2h0M513.2 336.3h0M508.9 339.3h0M513.8 339.0h0M512.1 342.1h0M513.9 352.1h0M506.3 348.3h0M518.0 343.9h0M490.4 341.3h0M518.4 361.4h0M501.1 336.6h0M517.4 346.3h0M518.2 317.5h0M520.4 347.6h0M511.6 347.7h0M516.4 350.6h0M514.3 309.8h0M502.9 334.9h0M521.9 355.1h0M514.7 307.0h0M507.0 305.0h0M517.8 352.7h0M516.1 305.6h0M496.4 312.4h0M510.3 341.8h0M508.1 311.7h0M520.2 347.8h0M519.7 356.8h0M521.6 324.1h0M516.0 343.5h0M514.8 316.4h0M506.6 338.5h0M522.4 302.0h0M513.7 355.5h0M507.9 338.9h0M516.5 356.8h0M516.3 330.0h0M515.0 347.1h0M515.4 348.3h0M521.3 351.4h0M508.9 348.6h0M507.7 345.1h0M512.7 334.9h0M512.3 355.4h0M515.1 341.6h0M518.5 318.8h0M517.6 359.7h0M517.7 351.7h0M518.9 325.1h0M522.1 340.9h0M495.2 332.3h0M516.3 304.3h0M503.1 320.4h0M513.8 328.3h0M500.1 334.9h0M518.9 362.5h0M505.4 356.1h0M518.2 313.6h0M507.2 331.1h0M513.6 362.9h0M517.1 339.2h0M504.8 325.5h0M514.0 364.7h0M512.8 338.3h0M495.0 327.2h0M513.1 302.2h0M513.9 327.6h0M500.7 333.5h0M520.1 361.0h0M510.1 330.2h0M514.1 362.8h0M516.9 311.0h0M520.9 358.2h0M507.7 323.2h0M493.8 332.7h0M519.8 334.1h0M514.1 353.7h0M512.1 324.0h0M515.1 336.5h0M504.4 348.2h0M511.8 356.3h0M518.9 352.2h0M507.0 335.5h0M516.8 330.6h0M507.8 324.9h0M508.1 341.5h0M506.7 346.1h0M514.1 343.7h0M516.4 350.0h0M489.4 318.2h0M512.3 329.2h0M518.9 362.5h0M513.5 345.2h0M476.2 324.2h0" stroke="#4a98bd" stroke-opacity="0.3" stroke-width="3.0" stroke-linecap="round" fill="none"/>
<path d="M521.2 355.8h0M496.7 326.4h0M521.8 323.8h0M509.0 344.9h0M520.6 355.1h0M500.8 366.3h0M505.8 345.3h0M510.1 333.9h0M511.1 335.9h0M518.5 324.3h0M514.8 304.2h0M521.1 356.9h0M507.5 347.3h0M510.0 355.9h0M520.3 340.7h0M495.8 342.8h0M521.2 315.8h0M513.6 330.3h0M518.8 356.4h0M510.0 354.8h0M514.1 352.6h0M518.6 325.0h0M519.2 327.8h0M515.1 331.8h0M519.2 326.9h0M516.8 348.6h0M515.1 322.8h0M519.4 315.0h0M521.9 334.6h0M521.0 302.0h0M520.9 325.4h0M518.9 357.7h0M519.2 366.8h0M520.2 364.9h0M509.3 369.8h0M513.4 340.9h0M492.3 315.8h0M521.7 312.9h0M521.1 335.0h0M522.0 361.6h0M511.5 330.8h0M488.2 341.0h0M513.8 322.9h0M519.5 332.2h0M515.8 362.4h0M498.4 339.7h0M521.9 351.8h0M509.2 330.6h0M509.6 310.1h0M517.2 333.4h0M510.8 304.5h0M497.8 325.6h0M517.3 337.2h0M515.7 307.9h0M522.1 337.3h0M514.0 348.5h0M516.7 314.3h0M521.3 352.2h0M514.0 322.3h0M516.2 369.0h0M519.7 339.2h0M515.1 351.4h0M513.5 350.2h0M515.5 351.8h0M517.8 320.3h0M490.4 328.2h0M518.8 350.0h0M516.5 302.0h0M517.7 302.7h0M518.3 303.8h0M519.5 367.0h0M519.1 320.7h0M511.2 319.9h0M505.9 319.6h0M520.0 338.2h0M514.6 331.6h0M519.4 326.9h0M513.6 318.7h0M510.7 364.4h0M517.5 349.5h0M512.9 352.7h0M513.0 320.5h0M504.7 344.5h0M513.5 359.1h0M512.0 328.1h0M516.5 331.7h0M506.0 328.1h0M517.6 345.5h0M488.2 345.8h0M508.8 322.7h0M520.0 324.6h0M518.1 316.7h0M514.7 337.3h0M489.7 345.5h0M521.3 345.3h0M521.9 359.1h0M516.4 358.0h0M514.5 322.5h0M517.4 332.2h0M518.2 304.1h0M490.9 348.0h0M504.6 311.0h0M511.7 301.8h0M514.0 355.0h0M507.6 343.4h0M520.7 361.4h0M511.4 338.9h0M503.6 327.0h0M522.3 357.0h0M516.2 342.3h0M517.5 336.1h0M500.0 309.0h0M521.2 362.1h0M506.9 339.9h0M506.1 334.7h0M521.0 355.2h0M510.2 351.8h0M511.9 351.9h0M518.5 336.3h0M511.8 341.8h0M503.8 348.6h0M516.2 328.9h0M522.2 358.5h0M521.0 329.8h0M510.9 352.9h0M508.6 346.5h0M509.5 313.5h0M497.6 339.2h0M509.9 309.7h0M507.2 367.1h0M510.7 301.2h0M491.0 351.4h0M495.7 330.8h0M511.8 338.7h0M520.8 316.4h0M512.1 354.9h0M521.7 340.2h0M502.7 345.7h0M487.6 345.3h0M498.4 319.1h0M514.9 349.8h0M519.9 327.6h0M510.6 369.2h0M505.6 342.8h0M520.2 330.9h0M513.4 339.8h0M511.6 339.6h0M515.9 340.7h0M513.1 355.2h0M520.2 333.2h0M519.8 344.7h0M509.9 362.8h0M518.9 363.7h0M513.3 348.2h0M512.3 365.4h0M521.3 324.0h0M515.4 362.7h0M520.7 314.4h0M519.9 319.0h0M522.0 345.0h0M520.7 329.5h0M520.7 340.9h0M513.9 351.3h0M502.6 336.6h0M511.0 352.6h0M522.1 336.5h0M496.2 320.4h0M513.3 315.9h0M457.3 364.2h0M519.4 338.8h0M507.5 346.3h0M521.7 343.5h0M513.7 317.2h0M505.8 331.8h0M496.9 341.3h0M521.7 358.8h0M508.0 351.3h0M512.8 365.5h0M503.5 368.6h0M512.1 351.7h0M511.4 359.2h0M522.2 329.5h0M499.6 318.3h0M517.5 341.5h0M481.0 346.5h0M519.7 363.9h0M521.8 359.7h0M519.9 321.4h0M498.7 329.6h0M509.8 301.2h0M491.0 353.4h0M510.2 287.8h0M519.0 320.4h0M493.7 333.1h0M503.1 334.3h0M508.4 343.8h0M519.4 367.0h0M510.8 355.0h0M512.5 339.1h0M519.1 318.0h0M517.1 350.7h0M522.3 341.1h0M509.8 337.4h0M521.9 322.2h0M514.5 309.1h0M508.6 335.7h0M516.5 350.7h0M513.5 323.8h0M521.6 315.8h0M511.1 312.3h0M509.1 342.1h0M508.5 345.8h0M514.1 320.9h0M521.6 329.3h0M520.8 313.5h0M511.5 324.2h0M519.2 304.8h0M490.6 318.6h0M522.2 304.4h0M515.0 334.2h0M518.4 347.2h0M520.3 346.8h0M512.0 353.9h0M503.0 330.1h0M506.6 315.3h0M522.2 354.0h0M511.6 328.4h0M505.6 339.5h0M502.7 345.0h0M515.6 319.6h0M486.3 334.2h0M519.6 358.2h0M521.2 333.1h0M503.0 324.5h0M515.8 318.3h0M513.9 335.3h0M519.2 362.4h0M520.2 364.4h0M515.5 328.6h0M514.1 326.7h0M521.1 342.0h0M519.7 330.9h0M503.7 345.1h0M512.6 301.5h0M507.7 348.6h0M513.8 340.9h0M500.3 323.2h0M517.2 355.2h0M520.4 348.3h0M521.2 310.0h0M519.0 360.8h0M515.1 347.8h0M510.2 336.9h0M512.8 363.2h0M501.4 347.9h0M517.4 361.8h0M510.7 339.4h0M509.6 322.0h0M515.6 360.5h0M515.4 349.8h0M514.3 368.7h0M518.8 340.2h0M513.6 316.3h0M522.1 330.8h0M494.7 335.9h0M504.3 361.5h0M519.4 337.7h0M501.8 329.0h0M514.4 335.8h0M521.9 333.5h0M515.2 336.5h0M520.7 320.3h0M507.3 320.6h0M520.6 334.2h0M513.0 301.5h0M513.1 306.0h0M503.7 336.7h0M499.5 345.8h0M507.8 345.5h0M505.5 330.3h0M499.8 325.7h0M500.7 348.0h0M512.8 350.4h0M515.9 342.4h0M514.1 339.9h0M501.6 328.1h0M504.1 323.5h0M508.1 314.6h0M508.0 324.6h0M500.3 329.7h0M520.6 321.3h0M497.3 317.2h0M513.2 337.5h0M518.4 357.9h0M512.8 314.0h0M519.7 357.9h0M460.6 341.0h0M521.5 348.4h0M518.4 347.5h0M503.0 342.3h0M509.3 335.3h0M516.8 328.1h0M511.1 311.2h0M516.3 322.8h0M512.5 345.8h0M521.2 350.3h0M512.7 325.8h0M504.7 332.7h0M519.3 329.3h0M513.1 337.9h0M522.0 304.1h0M516.5 288.5h0M518.9 326.1h0M509.7 313.9h0M513.1 285.9h0M517.9 355.7h0M500.3 324.3h0M507.5 358.5h0M520.1 299.9h0M508.8 325.6h0M521.6 342.6h0M519.0 308.5h0M511.6 349.7h0M518.7 304.6h0M521.1 325.0h0M515.2 319.8h0M520.0 334.9h0M511.3 354.5h0M511.1 335.9h0M516.1 351.4h0M521.5 315.4h0M508.6 319.3h0M514.7 315.6h0M503.4 315.4h0M517.2 346.5h0M499.9 344.2h0M511.7 347.3h0M492.2 322.0h0" stroke="#4a98bd" stroke-opacity="0.3" stroke-width="3.0" stroke-linecap="round" fill="none"/>
<path d="M522.4 315.6h0M499.5 318.7h0M519.1 323.3h0M513.3 308.6h0M516.1 356.7h0M513.0 367.7h0M511.4 333.2h0M519.8 339.5h0M522.4 328.8h0M521.3 367.9h0M519.3 352.1h0M510.1 332.4h0M499.3 346.8h0M520.1 327.9h0M490.5 333.3h0M496.4 325.2h0M502.2 330.8h0M521.1 355.2h0M512.8 350.6h0M518.2 347.9h0M513.1 332.4h0M503.7 348.5h0M500.9 307.7h0M509.1 323.8h0M512.7 339.5h0M514.7 323.7h0M495.7 329.5h0M520.5 306.1h0M515.7 356.5h0M515.5 349.0h0M517.5 334.1h0M503.2 343.3h0M521.7 364.7h0M503.6 319.5h0M508.6 312.1h0M510.0 321.4h0M507.0 319.2h0M510.4 306.9h0M510.1 310.7h0M516.1 358.4h0M508.2 341.0h0M504.3 313.4h0M519.8 329.6h0M517.3 312.8h0M511.2 353.3h0M507.8 312.6h0M509.8 344.9h0M520.1 316.1h0M516.0 334.5h0M520.7 321.6h0M522.4 309.6h0M511.4 320.6h0M521.9 324.6h0M507.7 320.3h0M515.9 319.3h0M499.5 325.1h0M511.9 344.1h0M518.2 345.7h0M517.3 310.2h0M514.1 329.1h0M507.2 327.6h0M511.7 349.8h0M516.2 306.8h0M509.1 340.2h0M502.8 365.0h0M513.2 334.5h0M515.6 325.7h0M508.7 352.0h0M510.1 334.5h0M522.1 310.8h0M503.9 324.7h0M507.5 338.4h0M498.1 352.7h0M499.9 316.3h0M506.1 336.5h0M515.9 329.7h0M522.2 312.4h0M518.6 351.7h0M507.3 330.0h0M521.0 310.6h0M515.7 359.8h0M495.4 344.5h0M506.1 330.4h0M518.0 329.6h0M497.2 332.3h0M516.3 309.1h0M514.1 350.4h0M511.2 313.6h0M520.5 312.9h0M519.8 348.5h0M513.1 313.0h0M520.8 339.6h0M519.4 302.4h0M520.3 297.0h0M512.9 341.4h0M522.2 331.8h0M512.7 311.3h0M478.4 334.0h0M513.5 338.2h0M513.5 321.9h0M499.1 327.2h0M481.2 324.5h0M515.7 323.9h0M513.7 338.6h0M507.1 318.5h0M506.6 346.9h0M511.2 317.9h0M519.8 355.1h0M518.2 310.0h0M507.2 342.5h0M520.3 311.9h0M522.3 349.7h0M514.1 336.7h0M518.2 309.9h0M509.3 342.8h0M511.5 347.2h0M504.0 355.8h0M518.5 326.5h0M521.6 351.9h0M513.5 334.8h0M504.4 314.7h0M512.0 317.5h0M495.5 327.6h0M519.3 360.8h0M512.1 335.2h0M512.5 353.0h0M521.1 338.2h0M507.6 339.5h0M510.0 315.4h0M503.8 303.4h0M514.6 342.5h0M517.5 317.4h0M511.4 353.7h0M512.4 320.1h0M514.4 320.1h0M501.4 341.8h0M502.3 349.2h0M521.7 298.9h0M513.5 320.3h0M507.0 349.9h0M522.4 312.3h0M521.7 366.4h0M518.2 308.0h0M502.3 344.0h0M519.8 361.1h0M521.6 350.6h0M521.9 336.3h0M501.1 335.5h0M511.5 344.1h0M513.7 336.8h0M510.6 323.8h0M505.2 324.6h0M519.9 369.6h0M512.2 337.1h0M519.3 323.6h0M520.2 357.3h0M516.6 311.7h0M506.2 364.3h0M517.8 316.6h0M512.6 362.1h0M488.2 354.3h0M511.2 306.5h0M509.6 321.3h0M521.0 340.8h0M515.4 302.8h0M512.1 326.5h0M520.9 319.8h0M509.7 332.1h0M510.5 313.3h0M512.7 353.1h0M516.9 360.2h0M518.7 322.2h0M505.6 324.8h0M517.4 305.9h0M489.6 337.7h0M522.0 351.6h0M513.0 359.5h0M513.9 350.1h0M507.4 326.3h0M511.7 332.0h0M513.3 322.0h0M516.0 327.3h0M509.9 315.8h0M507.1 299.5h0M517.0 365.3h0M503.0 319.1h0M521.0 311.3h0M516.3 306.7h0M519.2 348.7h0M516.2 361.9h0M521.3 338.7h0M518.8 357.2h0M518.6 355.3h0M512.5 324.1h0M513.5 364.1h0M504.7 337.9h0M517.8 315.5h0M518.9 321.7h0M521.1 341.9h0M505.7 310.7h0M520.0 335.8h0M516.6 365.1h0M503.5 312.1h0M516.3 341.8h0M511.0 331.9h0M520.1 316.8h0M515.3 312.6h0M509.7 309.5h0M518.4 320.4h0M521.4 315.4h0M521.1 309.8h0M491.7 331.6h0M466.7 328.3h0M498.5 359.5h0M510.5 329.5h0M504.4 318.3h0M516.4 330.5h0M514.1 317.7h0M513.1 341.6h0M517.8 316.1h0M508.1 320.3h0M506.7 327.8h0M517.1 312.2h0M513.7 335.1h0M513.6 317.0h0M505.5 357.2h0M521.1 307.9h0M520.6 304.9h0M521.7 311.1h0M512.1 308.3h0M521.9 361.4h0M506.8 370.7h0M520.1 325.9h0M508.5 318.7h0M508.0 330.6h0M500.9 275.7h0M505.1 345.1h0M509.3 332.0h0M509.3 321.0h0M510.3 343.2h0M509.1 345.9h0M520.6 312.9h0M512.8 356.7h0M513.9 347.9h0M512.6 313.3h0M515.1 319.3h0M518.8 333.7h0M513.9 318.6h0M520.3 357.7h0M516.5 306.8h0M520.7 324.8h0M510.1 326.4h0M513.7 346.1h0M481.4 335.9h0M516.1 346.3h0M522.0 335.9h0M510.6 342.5h0M518.8 348.2h0M519.8 318.0h0M519.2 341.8h0M512.1 340.0h0M507.4 357.2h0M517.0 353.0h0M514.1 357.5h0M511.2 336.7h0M519.3 364.2h0M497.6 312.0h0M508.3 314.7h0M509.7 347.7h0M518.9 317.1h0M522.1 348.8h0M512.7 321.5h0M509.9 312.7h0M512.0 341.8h0M515.0 314.1h0M515.4 315.2h0M518.9 358.3h0M495.2 309.6h0M512.8 333.9h0M516.4 349.9h0M512.3 315.7h0M505.6 365.3h0M516.5 340.6h0M506.5 331.5h0M517.3 340.7h0M519.5 318.4h0M507.8 318.7h0M516.0 312.2h0M518.1 307.8h0M513.9 354.0h0M521.3 369.0h0M521.7 304.6h0M513.0 335.3h0M522.0 345.6h0M514.1 310.1h0M522.1 350.8h0M466.0 303.4h0M518.2 370.0h0M518.1 354.3h0M522.4 344.8h0M501.5 335.8h0M507.7 318.3h0M511.5 332.4h0M507.9 329.2h0M508.4 325.9h0M501.8 312.1h0M496.5 339.9h0M515.2 365.6h0M511.2 316.4h0M507.2 319.6h0M506.9 331.8h0M498.5 310.9h0M509.0 324.0h0M515.4 317.6h0M498.9 326.7h0M517.6 331.2h0M497.1 328.3h0M507.0 324.8h0M483.6 354.3h0M514.3 346.8h0M512.7 337.7h0M483.5 312.6h0M509.0 350.4h0M500.3 330.6h0M513.6 328.0h0M521.0 324.8h0M518.6 299.6h0M517.3 319.3h0M513.3 314.1h0M520.8 353.1h0M514.6 316.7h0M519.1 318.0h0M503.2 320.0h0M516.9 335.0h0M515.2 357.6h0M514.6 366.0h0M513.8 314.6h0M502.7 309.5h0" stroke="#4a98bd" stroke-opacity="0.3" stroke-width="3.0" stroke-linecap="round" fill="none"/>
<path d="M510.0 350.8h0M513.6 353.3h0M508.1 318.7h0M501.2 329.5h0M515.2 347.3h0M513.0 323.0h0M509.9 349.2h0M510.4 322.6h0M521.5 364.3h0M516.7 366.6h0M512.3 332.6h0M504.0 331.1h0M505.9 343.7h0M513.5 325.8h0M501.7 322.6h0M520.5 337.3h0M488.7 317.8h0M503.6 357.9h0M505.1 331.2h0M513.3 321.3h0M508.4 353.4h0M506.3 326.8h0M521.8 328.0h0M469.3 339.2h0M513.7 317.7h0M518.7 365.3h0M498.7 326.4h0M511.7 350.2h0M492.9 328.8h0M514.8 326.0h0M521.3 339.3h0M507.7 346.4h0M498.1 312.5h0M516.6 305.8h0M520.3 324.1h0M512.3 360.0h0M520.6 362.4h0M504.3 327.0h0M518.4 338.9h0M521.0 342.8h0M517.6 343.0h0M520.1 317.3h0M517.4 317.2h0M509.3 316.8h0M509.8 341.7h0M512.6 299.8h0M519.8 319.0h0M517.3 331.3h0M514.2 359.6h0M520.9 317.8h0M514.3 319.9h0M507.7 333.4h0M507.0 334.7h0M504.6 328.4h0M517.5 318.0h0M521.6 308.0h0M516.6 325.7h0M504.2 342.2h0M521.0 350.8h0M510.5 325.9h0M506.9 319.7h0M514.5 356.9h0M510.4 357.0h0M520.8 355.3h0M490.8 316.8h0M510.4 334.2h0M515.1 367.2h0M519.3 310.5h0M516.8 339.1h0M512.0 309.6h0M519.5 366.0h0M508.9 365.4h0M509.7 328.3h0M520.9 334.7h0M517.7 367.2h0M522.2 320.5h0M519.8 367.9h0M514.6 343.0h0M510.6 365.8h0M514.9 329.4h0M510.4 322.6h0M511.5 331.0h0M521.6 318.0h0M517.5 362.1h0M503.7 338.9h0M514.7 332.1h0M519.2 313.0h0M509.1 339.2h0M513.1 329.2h0M519.2 326.2h0M511.5 330.0h0M520.9 306.9h0M514.4 324.9h0M502.2 344.4h0M522.3 328.6h0M501.7 332.8h0M510.0 333.2h0M513.6 332.9h0M517.5 327.8h0M514.7 308.3h0M521.4 334.1h0M511.3 324.2h0M518.6 352.4h0M517.8 322.9h0M513.8 354.1h0M520.5 311.9h0M522.4 301.8h0M515.9 343.6h0M508.2 325.9h0M515.2 343.8h0M495.4 319.2h0M517.7 325.4h0M508.3 334.3h0M517.2 359.5h0M515.9 346.6h0M518.9 357.8h0M512.2 307.4h0M509.3 328.9h0M521.7 344.1h0M504.1 338.7h0M520.2 327.7h0M510.3 348.3h0M513.1 344.7h0M500.6 335.7h0M505.3 357.8h0M505.8 341.2h0M510.6 343.7h0M515.8 331.9h0M509.0 333.2h0M501.8 357.3h0M519.1 302.6h0M512.0 321.1h0M519.2 333.0h0M506.5 319.7h0M521.7 364.7h0M513.4 328.6h0M519.9 316.0h0M517.6 354.1h0M507.4 340.6h0M514.1 274.6h0M517.0 364.9h0M513.9 358.9h0M518.8 346.9h0M499.5 349.8h0M513.7 328.8h0M519.0 347.7h0M513.6 349.6h0M518.9 306.0h0M522.4 335.3h0M520.5 340.0h0M512.1 329.7h0M520.4 342.6h0M511.6 307.8h0M502.5 349.3h0M521.3 345.9h0M521.1 343.7h0M516.8 362.3h0M505.2 349.3h0M464.8 336.5h0M513.0 317.5h0M522.4 341.3h0M500.9 342.9h0M510.7 296.9h0M514.1 323.1h0M522.2 323.9h0M511.2 319.7h0M509.8 330.0h0M499.9 333.9h0M486.7 331.5h0M521.1 307.9h0M522.3 317.0h0M496.6 334.3h0M515.3 334.8h0M520.9 321.8h0M515.9 304.9h0M513.3 337.9h0M491.5 329.2h0M502.4 331.1h0M521.4 331.9h0M513.4 319.0h0M517.9 355.5h0M462.0 337.5h0M513.4 282.0h0M522.4 358.0h0M520.4 301.1h0M515.3 361.8h0M520.0 332.8h0M512.7 321.3h0M513.0 355.9h0M520.5 343.3h0M501.2 327.7h0M517.5 342.1h0M518.4 356.8h0M519.0 365.3h0M517.5 313.7h0M520.3 348.6h0M506.7 354.8h0M514.6 305.5h0M512.8 335.3h0M507.1 347.4h0M509.7 324.5h0M485.0 331.5h0M517.1 325.6h0M508.4 323.1h0M514.9 369.7h0M511.3 330.2h0M511.4 369.7h0M477.7 339.3h0M513.3 346.4h0M477.6 329.3h0M518.0 332.3h0M512.3 319.7h0M516.8 321.4h0M510.8 340.6h0M504.9 320.8h0M521.5 369.3h0M515.1 356.0h0M520.9 310.6h0M518.2 325.4h0M515.4 299.6h0M519.3 332.8h0M520.5 350.2h0M510.7 344.9h0M513.3 364.6h0M515.4 318.0h0M511.3 342.3h0M502.8 348.2h0M496.4 326.4h0M520.7 330.6h0M518.8 341.1h0M512.2 333.3h0M501.0 354.4h0M517.6 320.8h0M485.8 335.3h0M509.2 303.3h0M520.6 302.7h0M505.8 334.3h0M513.6 339.0h0M518.7 315.8h0M510.9 334.4h0M518.9 314.7h0M511.3 320.0h0M521.1 339.5h0M511.7 357.4h0M512.2 342.6h0M519.8 348.1h0M510.7 359.6h0M508.1 338.8h0M506.5 324.3h0M522.4 335.2h0M513.6 358.5h0M493.4 329.6h0M521.1 320.0h0M516.2 344.5h0M519.3 322.3h0M518.7 341.5h0M520.6 360.8h0M496.5 333.1h0M475.7 342.0h0M505.6 348.2h0M511.3 333.2h0M511.7 321.7h0M513.0 353.2h0M522.0 319.0h0M520.0 330.4h0M506.5 354.8h0M520.3 339.4h0M507.2 337.2h0M507.1 344.9h0M449.5 310.9h0M506.5 356.1h0M522.3 346.2h0M510.3 322.9h0M513.6 350.7h0M507.6 329.0h0M515.6 324.2h0M512.8 342.7h0M517.3 346.1h0M519.7 348.9h0M518.5 307.5h0M509.2 339.0h0M521.4 349.2h0M520.3 361.1h0M502.3 358.5h0M513.2 315.5h0M515.0 327.6h0M510.3 309.7h0M522.0 337.4h0M518.7 333.4h0M500.0 314.0h0M509.9 325.3h0M510.4 313.6h0M518.0 337.9h0M518.1 301.5h0M512.1 327.4h0M511.5 325.9h0M514.5 337.1h0M514.4 307.5h0M494.1 343.8h0M509.8 326.5h0M510.9 299.9h0M521.3 318.6h0M522.0 333.8h0M514.1 342.4h0M506.2 336.9h0M497.4 348.0h0M502.2 326.7h0M514.1 335.7h0M513.0 333.7h0M518.0 352.0h0M519.7 319.2h0M503.9 326.3h0M506.6 318.6h0M512.5 320.3h0M506.9 353.2h0M513.9 324.8h0M517.9 309.6h0M510.4 316.3h0M503.0 323.5h0M509.4 320.2h0M513.5 342.9h0M517.5 306.6h0M505.8 338.6h0M517.2 359.3h0M504.7 345.7h0M511.3 350.6h0M517.1 320.0h0M508.4 336.3h0M514.6 355.3h0M476.9 335.4h0M507.5 334.3h0M519.7 337.7h0M507.5 319.9h0M510.8 339.6h0M518.5 318.4h0M521.4 355.6h0M510.8 298.1h0M510.8 304.6h0" stroke="#4a98bd" stroke-opacity="0.3" stroke-width="3.0" stroke-linecap="round" fill="none"/>
<path d="M547.7 360.4h0M545.4 332.5h0M573.3 319.9h0M535.3 366.4h0M550.0 349.2h0M535.8 311.2h0M538.9 366.9h0M532.2 329.4h0M532.7 355.0h0M545.6 343.6h0M533.5 342.7h0M537.1 361.1h0M538.6 331.3h0M545.6 341.1h0M541.9 339.9h0M539.4 317.4h0M538.4 331.8h0M536.1 304.0h0M533.9 335.1h0M538.1 310.5h0M559.3 326.6h0M533.5 351.1h0M539.4 337.9h0M532.2 345.8h0M537.1 355.3h0M534.6 307.5h0M531.9 344.2h0M541.2 351.7h0M539.6 349.4h0M560.9 330.3h0M549.7 354.6h0M536.7 368.5h0M535.4 370.6h0M549.2 337.2h0M548.8 327.7h0M545.8 344.1h0M532.6 318.2h0M547.5 332.4h0M532.4 347.4h0M533.4 343.9h0M538.4 313.1h0M536.3 352.3h0M543.1 343.7h0M550.0 345.0h0M536.2 369.6h0M535.3 343.1h0M538.7 349.2h0M531.1 352.3h0M532.2 343.9h0M536.5 366.5h0M555.3 329.6h0M545.8 330.2h0M536.6 327.4h0M537.7 368.8h0M546.2 346.1h0M535.4 346.5h0M532.9 357.5h0M531.7 350.2h0M531.8 320.0h0M535.3 366.2h0M532.5 358.4h0M536.2 306.5h0M541.2 341.7h0M551.9 339.3h0M535.1 347.4h0M544.4 349.9h0M556.4 350.4h0M534.3 350.0h0M544.9 314.7h0M538.5 361.0h0M540.4 366.6h0M541.8 322.7h0M546.8 319.1h0M531.4 322.7h0M542.5 334.7h0M542.8 368.5h0M536.7 343.6h0M542.4 323.6h0M553.8 318.8h0M552.0 348.3h0M553.7 343.9h0M542.6 326.7h0M540.0 335.0h0M546.5 324.9h0M547.7 304.5h0M554.8 317.7h0M541.4 353.5h0M544.7 326.1h0M564.8 346.9h0M544.1 325.9h0M540.2 358.2h0M532.3 357.1h0M533.6 366.9h0M538.3 310.0h0M533.9 354.8h0M534.0 324.9h0M531.2 353.7h0M550.7 356.6h0M547.1 339.7h0M536.3 356.7h0M538.9 347.6h0M561.9 346.1h0M543.2 303.2h0M531.0 345.6h0M545.2 343.6h0M558.5 309.5h0M543.8 354.7h0M537.8 336.2h0M545.5 358.4h0M532.6 358.0h0M538.4 323.7h0M532.3 344.0h0M531.8 351.1h0M532.3 325.3h0M535.6 347.4h0M543.1 351.2h0M556.2 319.8h0M534.2 358.2h0M542.8 347.3h0M541.9 344.3h0M540.7 351.7h0M542.6 322.9h0M544.0 334.7h0M534.5 355.7h0M540.2 358.0h0M538.6 341.2h0M555.2 317.2h0M542.3 351.4h0M542.6 310.2h0M541.3 314.3h0M534.5 323.8h0M541.7 324.9h0M533.8 350.9h0M559.2 304.2h0M536.4 356.7h0M533.7 364.3h0M536.2 351.1h0M545.4 346.9h0M547.2 337.9h0M594.1 334.0h0M535.1 354.8h0M532.8 354.4h0M533.0 337.5h0M548.6 354.1h0M530.8 321.7h0M536.6 357.5h0M557.0 314.2h0M540.4 340.8h0M560.3 361.0h0M531.5 367.1h0M535.0 327.0h0M540.0 358.2h0M533.0 341.8h0M534.1 359.1h0M546.9 357.6h0M533.9 357.3h0M533.0 275.6h0M594.0 309.9h0M538.0 342.0h0M553.1 347.9h0M536.6 356.3h0M564.0 350.7h0M542.9 336.3h0M541.1 366.5h0M542.6 324.9h0M540.7 337.2h0M542.9 369.1h0M531.2 368.3h0M531.0 370.1h0M544.2 326.1h0M537.5 368.1h0M535.7 352.4h0M533.3 347.3h0M536.9 318.6h0M535.5 312.7h0M532.1 343.5h0M532.6 349.2h0M534.9 362.3h0M542.0 338.4h0M543.8 338.1h0M539.7 291.6h0M577.5 326.1h0" stroke="#e0474c" stroke-opacity="0.3" stroke-width="3.0" stroke-linecap="round" fill="none"/>
<path d="M541.6 342.3h0M555.2 321.5h0M533.2 333.7h0M546.1 316.1h0M546.3 354.1h0M541.6 359.6h0M536.9 344.5h0M552.4 311.2h0M537.1 334.3h0M532.2 324.0h0M539.3 350.1h0M534.2 363.1h0M536.8 360.5h0M538.2 353.1h0M545.0 333.5h0M551.8 308.3h0M531.8 352.6h0M549.4 344.2h0M557.2 347.6h0M531.5 347.0h0M530.8 318.2h0M546.0 345.4h0M534.3 361.3h0M541.2 329.6h0M538.5 361.5h0M548.9 329.2h0M549.7 335.3h0M539.0 366.0h0M537.3 360.0h0M533.1 339.8h0M537.4 320.7h0M540.3 309.3h0M533.5 361.7h0M549.5 319.6h0M534.0 342.3h0M531.7 342.5h0M545.0 338.5h0M542.7 343.8h0M547.0 370.1h0M544.3 355.0h0M536.0 314.8h0M533.2 366.2h0M540.6 329.0h0M576.4 313.3h0M544.7 322.0h0M544.9 341.6h0M539.4 335.6h0M532.1 318.5h0M531.2 335.2h0M561.9 363.0h0M538.9 322.1h0M557.7 267.2h0M531.4 344.1h0M554.4 354.4h0M562.2 337.5h0M541.4 331.9h0M539.5 322.7h0M549.7 334.5h0M536.0 361.7h0M541.1 334.4h0M544.4 284.8h0M531.9 357.7h0M539.4 361.7h0M537.6 309.1h0M565.9 323.1h0M547.3 327.6h0M539.0 327.8h0M536.2 355.5h0M552.6 292.2h0M539.9 351.1h0M532.8 319.5h0M535.6 338.2h0M541.0 335.6h0M546.8 366.1h0M539.5 316.7h0M545.9 341.7h0M531.9 351.3h0M552.9 311.1h0M538.7 317.2h0M555.3 266.7h0M548.7 335.4h0M541.0 362.5h0M561.6 316.4h0M532.3 339.5h0M532.9 335.0h0M547.1 303.9h0M536.0 355.9h0M534.1 343.7h0M550.8 331.4h0M531.0 346.9h0M533.7 353.7h0M545.2 337.0h0M534.3 330.9h0M556.1 341.3h0M544.0 275.6h0M534.1 363.5h0M550.4 342.1h0M538.7 339.2h0M532.9 323.3h0M531.3 364.4h0M540.0 334.9h0M542.1 348.6h0M535.4 363.0h0M577.2 361.6h0M547.6 346.8h0M547.6 349.9h0M555.0 283.4h0M545.5 321.2h0M535.5 315.1h0M532.3 356.7h0M541.0 326.0h0M547.3 316.6h0M538.9 343.8h0M560.1 360.9h0M535.8 356.9h0M553.4 279.1h0M537.4 342.1h0M541.8 334.2h0M535.6 356.2h0M530.9 350.6h0M540.8 329.2h0M542.2 367.9h0M554.4 333.8h0M545.0 342.7h0M531.6 354.4h0M539.7 364.5h0M546.0 350.0h0M533.1 354.6h0M540.1 349.6h0M553.8 334.1h0M538.7 328.7h0M538.0 328.5h0M533.2 352.7h0M532.6 334.3h0M534.6 349.3h0M546.8 333.8h0M539.9 353.4h0M548.1 346.3h0M541.6 333.5h0M542.2 323.1h0M537.3 340.5h0M563.8 310.2h0M538.9 312.3h0M535.2 361.6h0M563.1 342.5h0M540.8 335.6h0M532.2 352.2h0M556.7 341.7h0M532.9 360.6h0M542.4 314.6h0M539.7 314.1h0M537.9 358.3h0M531.0 347.5h0M552.5 306.3h0M535.6 328.9h0M542.8 329.3h0M543.0 338.6h0M542.6 364.4h0M540.7 323.2h0M533.5 329.1h0M556.3 346.1h0M540.9 350.8h0M543.4 347.7h0M535.9 285.6h0M539.5 329.4h0M541.2 334.3h0M564.8 344.6h0M531.3 336.0h0M532.5 322.6h0M547.0 341.9h0M532.1 358.8h0M553.1 307.8h0M544.4 353.8h0M539.4 331.0h0M545.7 337.5h0M539.4 327.8h0M554.4 300.8h0M538.9 327.4h0M530.9 340.0h0M553.8 355.7h0M545.2 360.4h0M546.7 341.1h0" stroke="#e0474c" stroke-opacity="0.3" stroke-width="3.0" stroke-linecap="round" fill="none"/>
<path d="M549.0 350.5h0M540.9 351.8h0M540.1 359.6h0M536.2 339.1h0M537.0 342.3h0M534.2 322.2h0M553.1 326.8h0M538.6 360.8h0M532.0 337.0h0M539.7 332.0h0M537.3 310.1h0M535.3 316.0h0M549.0 265.7h0M535.7 331.6h0M532.1 342.2h0M533.6 345.3h0M548.2 323.1h0M536.3 317.7h0M538.7 348.6h0M560.4 303.8h0M531.6 358.5h0M549.9 311.1h0M535.9 369.5h0M535.5 330.1h0M538.6 346.4h0M541.5 310.3h0M535.5 340.0h0M532.6 363.5h0M532.2 329.9h0M532.4 359.4h0M531.4 328.1h0M534.2 345.9h0M535.2 312.8h0M537.2 348.1h0M582.6 331.0h0M546.0 361.8h0M541.4 317.2h0M534.6 355.0h0M531.9 355.3h0M532.9 311.9h0M558.7 341.6h0M543.6 321.1h0M538.8 348.2h0M531.4 346.1h0M534.0 312.7h0M531.0 348.2h0M530.8 357.8h0M532.0 345.0h0M550.9 325.4h0M538.6 349.5h0M533.7 364.5h0M551.4 291.5h0M540.2 345.6h0M533.1 360.5h0M535.0 342.3h0M543.2 314.6h0M541.2 338.3h0M555.6 280.9h0M540.3 320.8h0M547.6 355.4h0M554.9 348.4h0M535.4 323.7h0M541.4 358.9h0M555.4 356.3h0M539.1 352.7h0M534.9 353.6h0M542.3 325.0h0M538.1 337.2h0M539.1 315.1h0M543.1 330.5h0M555.4 352.2h0M540.4 340.2h0M543.9 330.8h0M551.2 333.7h0M536.9 334.7h0M531.2 369.5h0M531.6 366.5h0M542.3 328.4h0M541.7 315.7h0M545.7 346.9h0M565.7 348.8h0M550.8 310.0h0M538.6 337.2h0M531.3 321.3h0M533.2 340.6h0M540.8 335.7h0M540.0 342.4h0M535.2 365.3h0M541.8 334.8h0M533.1 357.5h0M566.0 354.0h0M531.1 330.2h0M531.4 343.4h0M537.2 358.6h0M532.3 342.4h0M534.7 335.6h0M543.5 298.8h0M537.4 326.4h0M532.4 352.6h0M540.8 353.5h0M534.3 330.9h0M536.1 358.0h0M540.8 345.6h0M556.2 307.6h0M555.1 329.8h0M551.9 326.8h0M552.2 309.3h0M539.4 355.0h0M548.2 311.7h0M533.8 300.6h0M548.8 333.5h0M545.4 337.0h0M537.4 337.3h0M531.0 313.0h0M533.7 331.1h0M539.3 336.4h0M542.0 324.7h0M530.9 342.6h0M552.4 309.4h0M533.7 315.9h0M532.3 350.1h0M544.2 319.2h0M536.2 336.1h0M532.7 340.6h0M561.8 316.1h0M544.0 333.0h0M537.0 367.0h0M542.0 347.8h0M532.9 358.0h0M537.4 331.5h0M543.5 319.6h0M537.5 316.5h0M537.9 343.6h0M534.9 350.8h0M534.0 356.1h0M540.5 328.6h0M546.4 315.0h0M547.6 329.1h0M545.3 307.1h0M538.3 326.6h0M537.0 265.8h0M567.0 333.4h0M589.1 326.4h0M534.3 291.0h0M531.3 357.9h0M544.6 332.8h0M542.6 326.8h0M540.7 328.2h0M532.2 350.2h0M545.1 331.7h0M564.0 344.1h0M531.2 341.5h0M550.1 350.9h0M552.2 357.5h0M538.8 340.8h0M532.5 342.8h0M535.6 333.6h0M540.7 319.6h0M531.0 328.0h0M537.0 335.4h0M531.0 357.0h0M537.2 314.9h0M536.2 345.6h0M559.6 321.0h0M541.2 349.3h0M534.1 327.8h0M538.1 339.1h0M545.8 361.0h0M549.6 336.1h0M547.8 365.1h0M551.9 326.4h0M534.4 313.7h0M532.0 344.7h0M547.8 355.7h0M542.4 352.0h0M531.6 367.1h0M538.2 330.6h0M541.5 333.8h0M533.0 327.7h0M545.9 319.4h0M558.8 320.4h0M553.0 323.7h0" stroke="#e0474c" stroke-opacity="0.3" stroke-width="3.0" stroke-linecap="round" fill="none"/>
<path d="M533.9 327.3h0M539.4 341.0h0M547.8 313.2h0M544.4 317.2h0M540.0 355.8h0M554.3 343.8h0M534.3 315.3h0M540.8 364.1h0M542.8 355.7h0M534.4 369.0h0M540.0 361.0h0M539.1 318.0h0M531.3 312.9h0M536.6 369.3h0M538.7 326.3h0M549.2 340.1h0M531.5 359.5h0M538.7 348.9h0M537.2 353.3h0M534.7 367.2h0M535.4 324.3h0M562.8 326.8h0M551.2 341.3h0M538.9 360.1h0M541.8 334.5h0M531.9 340.6h0M541.8 365.9h0M539.5 340.7h0M550.3 314.3h0M544.8 361.9h0M538.4 355.3h0M538.3 350.5h0M543.0 349.8h0M557.2 341.9h0M539.5 333.7h0M543.3 312.6h0M537.1 326.7h0M539.7 361.1h0M545.4 353.3h0M540.7 325.2h0M542.2 336.2h0M539.4 334.3h0M532.1 361.6h0M537.8 335.8h0M550.1 337.8h0M534.9 324.5h0M538.6 368.6h0M530.9 340.0h0M542.9 358.1h0M564.9 346.2h0M531.1 314.5h0M535.5 340.1h0M538.3 334.5h0M532.0 359.2h0M532.7 319.7h0M539.7 340.4h0M532.8 349.8h0M558.7 320.7h0M544.0 344.1h0M537.5 355.1h0M539.1 359.9h0M531.5 325.0h0M562.4 352.7h0M537.4 291.5h0M531.6 353.5h0M544.2 340.3h0M539.7 341.0h0M551.8 273.3h0M539.4 331.4h0M531.1 344.8h0M536.4 331.5h0M533.5 351.9h0M543.9 359.8h0M548.1 352.6h0M537.3 320.3h0M535.9 335.6h0M541.8 366.2h0M538.5 338.0h0M538.3 321.5h0M556.7 298.5h0M539.4 318.2h0M547.9 333.1h0M538.3 323.1h0M547.8 336.5h0M559.5 353.7h0M536.0 350.0h0M535.1 357.9h0M533.5 321.3h0M576.6 315.9h0M556.0 290.1h0M545.8 358.5h0M544.0 317.4h0M533.5 328.3h0M547.7 321.7h0M559.9 277.6h0M538.2 358.5h0M538.4 313.2h0M532.3 362.6h0M543.9 303.4h0M536.1 350.5h0M540.0 349.6h0M530.9 359.9h0M538.0 350.0h0M535.1 353.6h0M560.2 331.7h0M543.4 334.9h0M541.1 369.3h0M537.2 361.4h0M532.6 342.1h0M572.0 344.2h0M539.0 349.7h0M542.1 337.2h0M542.6 341.0h0M531.4 338.5h0M542.0 356.7h0M540.3 328.0h0M553.5 326.9h0M539.7 345.4h0M574.1 345.5h0M538.2 316.5h0M544.9 361.1h0M533.0 338.8h0M543.3 285.9h0M542.9 329.9h0M534.2 347.4h0M541.3 325.6h0M553.4 314.9h0M552.9 301.0h0M557.5 362.2h0M535.9 363.7h0M542.9 334.9h0M534.8 339.1h0M538.1 363.8h0M560.7 286.4h0M538.1 363.9h0M534.7 360.9h0M551.2 344.5h0M543.3 331.2h0M533.2 355.6h0M541.3 310.4h0M539.9 365.2h0M537.6 314.7h0M537.7 370.0h0M552.2 352.5h0M542.9 264.1h0M541.6 320.9h0M534.0 328.2h0M539.6 362.0h0M558.4 338.5h0M542.2 324.3h0M533.5 336.7h0M531.7 361.3h0M538.9 344.2h0M532.2 364.9h0M549.7 348.9h0M546.4 304.2h0M532.0 343.5h0M534.3 362.3h0M543.9 340.4h0M555.0 308.5h0M540.4 363.8h0M566.0 342.7h0M538.6 340.3h0M533.7 333.1h0M544.9 324.6h0M542.6 364.1h0M541.4 336.0h0M535.2 313.6h0M542.9 333.9h0M532.6 361.7h0M543.1 344.9h0M533.0 328.4h0M537.7 316.5h0M539.4 367.0h0M532.0 367.0h0M532.2 343.8h0M531.3 370.2h0M540.2 356.4h0M539.9 313.3h0M541.0 340.3h0M543.0 358.4h0M538.5 351.1h0" stroke="#e0474c" stroke-opacity="0.3" stroke-width="3.0" stroke-linecap="round" fill="none"/>
<path d="M545.8 350.9h0M531.9 350.3h0M531.8 355.0h0M539.8 367.5h0M542.5 333.4h0M530.8 360.7h0M545.8 355.5h0M557.9 282.1h0M545.3 336.5h0M535.0 317.6h0M547.1 297.6h0M535.3 341.3h0M538.9 360.4h0M538.2 331.4h0M553.2 349.0h0M542.9 348.8h0M551.0 342.2h0M539.4 321.9h0M551.7 315.9h0M532.0 319.8h0M536.7 362.7h0M540.5 343.2h0M545.0 324.9h0M536.9 338.2h0M553.0 315.4h0M541.1 347.8h0M573.0 358.7h0M541.9 320.9h0M536.5 343.3h0M537.4 354.2h0M551.2 317.9h0M550.1 341.0h0M544.7 357.8h0M542.3 334.1h0M544.7 350.5h0M573.9 322.2h0M533.2 362.0h0M535.4 344.9h0M552.9 344.6h0M534.4 361.1h0M541.4 358.9h0M551.0 305.0h0M572.8 343.1h0M551.9 357.6h0M554.1 343.0h0M531.0 338.2h0M538.7 352.6h0M542.3 333.1h0M536.8 339.6h0M539.1 365.1h0M544.5 328.2h0M531.5 331.6h0M533.7 359.1h0M557.5 360.8h0M545.3 339.4h0M554.5 300.0h0M544.6 325.2h0M540.1 360.3h0M542.7 312.2h0M536.5 358.0h0M545.1 347.8h0M530.8 344.9h0M534.6 336.2h0M550.9 282.7h0M539.2 345.9h0M548.7 343.5h0M537.5 349.5h0M537.8 316.4h0M551.9 328.9h0M573.9 339.4h0M537.6 271.3h0M534.1 357.5h0M541.2 320.5h0M538.9 346.6h0M533.7 339.1h0M534.3 320.6h0M556.1 329.0h0M547.8 356.9h0M542.8 321.5h0M535.0 352.7h0M566.8 355.5h0M539.6 332.7h0M538.0 361.8h0M537.2 351.2h0M544.4 311.3h0M537.6 350.8h0M544.8 333.1h0M539.1 340.8h0M531.0 367.5h0M558.4 314.7h0M538.9 323.7h0M547.2 336.1h0M536.9 302.3h0M547.1 317.8h0M538.8 352.7h0M567.3 334.4h0M537.8 330.1h0M533.4 341.1h0M558.9 315.7h0M537.2 323.1h0M537.5 347.7h0M539.3 335.3h0M532.1 354.5h0M557.3 320.8h0M539.6 334.5h0M551.9 303.2h0M549.0 339.0h0M540.6 346.5h0M553.3 327.0h0M542.6 325.0h0M536.0 352.8h0M543.7 318.4h0M542.2 350.6h0M550.5 324.8h0M541.3 337.1h0M550.9 360.3h0M539.6 353.5h0M535.4 360.7h0M536.8 286.8h0M543.9 351.8h0M537.0 330.2h0M545.0 338.3h0M542.8 312.2h0M531.9 334.7h0M546.5 343.3h0M552.5 318.6h0M565.2 358.7h0M542.0 308.5h0M561.3 356.7h0M537.8 355.1h0M576.4 329.9h0M554.5 332.7h0M531.4 366.2h0M558.4 292.0h0M531.2 326.2h0M532.4 312.1h0M538.5 336.7h0M552.8 318.7h0M532.4 357.7h0M535.0 350.1h0M533.0 344.4h0M533.2 352.7h0M534.1 321.4h0M545.6 330.0h0M539.2 334.7h0M543.4 315.5h0M537.9 353.9h0M535.3 368.8h0M540.4 340.2h0M540.0 324.9h0M567.2 323.3h0M539.0 333.4h0M532.2 353.3h0M552.5 295.9h0M542.6 324.6h0M547.9 310.5h0M534.6 353.8h0M546.6 318.9h0M541.1 357.8h0M531.2 342.2h0M540.9 310.7h0M542.2 347.8h0M543.7 318.2h0M534.9 329.3h0M541.5 339.4h0M541.1 317.9h0M543.7 322.7h0M541.1 340.8h0M530.8 309.8h0M541.6 314.2h0M540.8 328.8h0M536.4 338.3h0M568.5 342.8h0M533.0 336.9h0M535.8 368.9h0M553.7 335.0h0M538.7 316.6h0M538.6 310.9h0M539.1 323.1h0M544.0 336.1h0M539.2 369.1h0M536.1 349.6h0" stroke="#e0474c" stroke-opacity="0.3" stroke-width="3.0" stroke-linecap="round" fill="none"/>
<path d="M535.5 342.7h0M540.1 354.6h0M560.6 349.9h0M539.4 335.0h0M541.5 333.3h0M550.8 317.0h0M545.4 318.2h0M571.8 325.2h0M547.0 338.2h0M562.1 338.4h0M539.4 343.7h0M531.3 330.4h0M537.8 365.0h0M531.6 312.2h0M535.7 344.9h0M557.7 359.6h0M536.2 333.4h0M540.9 279.1h0M530.9 336.3h0M549.7 312.8h0M541.8 332.7h0M533.7 278.9h0M531.6 310.4h0M535.7 354.6h0M537.7 366.1h0M541.5 318.4h0M543.2 337.4h0M554.7 268.9h0M534.8 312.2h0M546.4 351.6h0M538.3 317.7h0M532.6 346.0h0M545.0 316.7h0M539.2 350.9h0M532.8 330.6h0M535.3 316.0h0M543.2 287.9h0M543.3 343.2h0M533.0 346.9h0M545.8 328.4h0M532.0 357.5h0M544.8 317.5h0M546.7 357.4h0M532.0 323.1h0M538.3 342.5h0M538.3 365.6h0M546.7 322.6h0M545.5 345.6h0M538.3 345.9h0M539.8 351.5h0M553.5 325.2h0M567.6 330.7h0M537.5 368.7h0M540.3 363.9h0M542.9 319.2h0M555.1 324.7h0M543.9 321.1h0M538.9 322.4h0M532.0 361.1h0M535.6 360.8h0M539.0 320.5h0M543.5 314.2h0M531.3 367.1h0M539.1 363.8h0M544.4 332.3h0M538.4 312.6h0M533.7 354.4h0M582.0 334.4h0M535.8 352.7h0M562.7 340.9h0M540.0 336.0h0M540.3 260.2h0M534.8 344.0h0M548.7 305.4h0M537.5 331.1h0M534.1 322.1h0M535.0 365.9h0M535.2 341.1h0M535.7 365.2h0M544.4 365.1h0M537.8 334.3h0M535.0 358.3h0M532.9 336.4h0M536.8 340.2h0M542.0 364.0h0M555.7 318.1h0M535.3 369.4h0M534.5 347.3h0M538.1 349.3h0M542.7 351.7h0M543.6 329.8h0M534.0 359.7h0M539.0 327.7h0M558.3 341.8h0M546.9 325.1h0M546.2 310.4h0M540.8 332.0h0M540.4 347.5h0M543.3 284.4h0M547.8 348.7h0M548.6 336.0h0M533.1 349.8h0M552.5 289.4h0M542.2 299.6h0M534.9 345.3h0M536.6 368.1h0M532.8 315.9h0M547.2 329.4h0M539.7 343.5h0M542.0 345.6h0M538.4 339.4h0M539.1 328.7h0M532.3 328.8h0M548.0 351.3h0M549.5 323.8h0M549.4 347.7h0M550.5 318.0h0M563.4 312.5h0M546.8 322.3h0M547.5 360.2h0M532.2 347.1h0M539.0 329.5h0M541.7 320.0h0M549.9 352.7h0M542.9 365.0h0M537.0 335.5h0M541.5 341.5h0M558.8 269.4h0M534.3 326.2h0M538.0 346.9h0M538.8 363.9h0M541.3 326.1h0M539.5 327.2h0M542.5 352.9h0M535.2 367.0h0M546.5 312.8h0M531.6 342.4h0M539.1 356.5h0M534.5 319.8h0M544.1 322.0h0M543.5 347.5h0M538.8 353.7h0M541.3 345.4h0M538.0 365.9h0M542.0 338.0h0M535.5 317.7h0M533.2 351.0h0M538.4 340.7h0M542.5 332.0h0M539.2 341.1h0M534.7 350.5h0M532.3 339.6h0M535.0 368.0h0M540.5 312.7h0M551.7 309.4h0M540.1 357.1h0M533.1 329.4h0M545.3 357.3h0M549.4 331.2h0M534.5 366.8h0M535.4 361.0h0M531.7 367.2h0M540.7 318.3h0M537.6 351.8h0M536.6 332.4h0M539.0 362.3h0M543.7 354.0h0M541.8 324.0h0M535.6 367.2h0M543.4 356.8h0M533.0 324.6h0M539.2 332.3h0M607.7 325.6h0M536.7 367.0h0M550.8 346.0h0M532.7 316.9h0M539.6 341.1h0M541.5 361.1h0M537.6 311.7h0M545.9 334.7h0M558.9 354.2h0M539.2 354.8h0" stroke="#e0474c" stroke-opacity="0.3" stroke-width="3.0" stroke-linecap="round" fill="none"/>
<path d="M536.9 352.7h0M532.5 335.5h0M537.6 352.8h0M531.3 318.8h0M546.8 337.8h0M535.3 362.6h0M545.5 326.3h0M537.1 307.2h0M539.6 341.4h0M550.1 309.4h0M539.5 323.4h0M550.9 307.9h0M531.1 334.9h0M548.7 352.4h0M540.2 360.9h0M535.1 330.8h0M537.1 342.3h0M538.8 346.8h0M538.5 312.1h0M539.8 346.1h0M533.3 350.9h0M534.5 363.8h0M538.3 324.3h0M535.8 358.3h0M541.1 328.5h0M533.6 353.0h0M540.4 351.8h0M539.3 324.8h0M544.0 352.6h0M542.2 342.6h0M539.8 334.8h0M548.0 347.3h0M539.5 268.0h0M540.3 346.8h0M532.9 327.6h0M536.7 352.9h0M544.0 341.4h0M535.3 324.4h0M542.2 350.7h0M544.3 360.7h0M536.1 337.4h0M545.7 339.5h0M534.7 351.8h0M538.6 303.4h0M537.4 332.4h0M540.9 328.5h0M537.4 363.4h0M553.7 341.3h0M540.9 327.1h0M542.8 331.3h0M533.8 354.9h0M546.2 316.5h0M546.8 329.8h0M537.9 366.9h0M552.4 313.7h0M534.3 312.5h0M549.5 318.1h0M541.0 351.2h0M538.6 351.9h0M539.9 346.4h0M538.7 354.9h0M547.9 356.6h0M543.4 343.7h0M559.6 359.4h0M550.9 342.5h0M540.5 322.0h0M536.2 340.6h0M548.2 311.2h0M539.6 347.9h0M545.5 343.3h0M583.9 358.7h0M535.5 355.0h0M556.7 294.3h0M538.0 331.9h0M534.8 341.7h0M558.5 332.0h0M536.4 358.7h0M544.5 317.8h0M538.6 369.9h0M545.7 341.7h0M532.6 369.2h0M544.2 336.4h0M534.7 339.3h0M543.8 312.2h0M555.2 335.5h0M541.2 334.7h0M533.3 342.3h0M533.9 338.4h0M544.1 317.3h0M540.1 347.4h0M548.7 352.4h0M556.9 335.2h0M538.3 367.3h0M534.6 339.8h0M538.0 322.6h0M540.6 335.4h0M534.6 357.3h0M533.1 350.3h0M541.4 325.2h0M538.9 344.0h0M557.2 327.8h0M542.4 337.5h0M542.3 338.9h0M539.9 362.3h0M565.0 335.6h0M541.3 312.6h0M534.9 324.5h0M536.3 327.0h0M532.2 332.0h0M538.7 346.4h0M541.5 330.4h0M532.2 364.2h0M538.7 360.6h0M541.1 333.1h0M536.6 299.8h0M550.5 279.4h0M533.8 349.6h0M543.2 359.0h0M549.0 305.5h0M533.4 363.7h0M543.0 320.6h0M538.3 327.0h0M535.4 271.8h0M541.6 349.8h0M548.1 338.5h0M559.7 277.6h0M539.5 338.7h0M531.6 369.2h0M545.3 322.9h0M534.6 357.6h0M533.9 340.5h0M537.8 333.2h0M572.2 352.0h0M543.0 348.7h0M532.7 358.1h0M534.0 350.4h0M543.0 314.4h0M545.2 369.2h0M533.5 359.1h0M535.9 305.7h0M535.3 365.8h0M532.6 334.9h0M530.8 338.5h0M533.1 351.3h0M531.0 313.9h0M544.2 358.7h0M543.7 357.3h0M542.6 363.8h0M531.2 354.7h0M550.5 320.5h0M540.1 332.7h0M534.4 364.3h0M538.2 340.0h0M541.8 338.5h0M533.8 366.7h0M538.9 337.4h0M536.3 369.6h0M551.4 328.6h0M534.1 358.7h0M532.7 370.3h0M540.7 306.4h0M536.2 364.7h0M545.6 363.0h0M542.5 338.3h0M536.7 369.9h0M538.3 337.6h0M535.5 316.5h0M538.8 330.3h0M557.9 333.0h0M534.7 331.2h0M539.4 351.5h0M549.9 325.2h0M543.7 362.7h0M548.5 318.7h0M533.6 339.1h0M538.1 338.5h0M554.6 299.7h0M530.9 357.7h0M535.7 370.7h0M580.4 343.2h0M549.8 358.6h0M551.5 326.0h0" stroke="#e0474c" stroke-opacity="0.3" stroke-width="3.0" stroke-linecap="round" fill="none"/>
<path d="M551.1 356.6h0M542.0 349.5h0M535.8 358.1h0M538.4 347.3h0M544.0 364.8h0M539.5 341.4h0M542.3 332.1h0M530.9 347.3h0M543.2 345.3h0M531.2 367.7h0M532.7 358.9h0M534.8 334.0h0M531.2 366.7h0M549.9 352.2h0M537.3 345.0h0M534.8 367.6h0M546.4 369.6h0M536.2 370.3h0M540.5 353.9h0M544.9 352.7h0M548.1 336.4h0M533.1 355.2h0M534.2 311.7h0M537.5 363.8h0M561.2 326.9h0M533.4 307.3h0M547.3 304.8h0M557.5 323.9h0M535.9 345.6h0M556.4 317.1h0M531.7 324.9h0M536.6 356.6h0M542.1 327.3h0M535.3 358.7h0M530.8 353.4h0M547.0 338.0h0M531.3 339.4h0M546.2 350.2h0M547.7 283.0h0M543.7 347.4h0M538.4 355.4h0M547.6 314.7h0M533.4 299.3h0M534.2 347.2h0M539.6 369.2h0M557.8 335.4h0M548.8 322.3h0M540.6 323.7h0M540.7 347.5h0M541.5 369.3h0M535.1 370.3h0M556.9 316.0h0M544.3 347.9h0M534.8 345.1h0M531.1 343.0h0M532.7 358.8h0M542.7 364.1h0M538.7 319.5h0M539.1 331.6h0M535.2 355.6h0M531.7 342.7h0M532.2 333.3h0M534.5 292.8h0M537.0 364.0h0M535.8 362.1h0M541.4 364.0h0M530.8 339.1h0M531.4 357.0h0M540.0 360.6h0M530.9 365.2h0M554.8 363.5h0M530.9 369.4h0M554.2 355.2h0M550.6 328.8h0M532.3 315.9h0M537.5 320.9h0M538.2 316.8h0M533.3 364.5h0M530.8 347.2h0M556.3 358.9h0M544.9 321.8h0M544.9 338.3h0M546.9 341.2h0M534.1 325.6h0M536.9 366.7h0M547.3 330.3h0M531.3 319.0h0M551.0 347.2h0M533.8 352.5h0M539.5 357.2h0M531.0 359.8h0M531.7 357.8h0M543.5 321.2h0M553.1 316.7h0M562.9 358.3h0M547.1 265.2h0M541.8 316.3h0M547.2 355.7h0M550.5 332.2h0M535.5 353.9h0M545.4 313.0h0M539.5 335.4h0M541.7 321.2h0M531.6 347.0h0M533.4 336.3h0M531.5 353.1h0M538.5 338.0h0M537.5 341.4h0M534.1 361.8h0M540.0 311.1h0M539.9 367.9h0M561.3 328.9h0M535.7 361.8h0M548.5 355.1h0M545.5 352.5h0M547.7 341.2h0M543.0 277.8h0M554.9 349.5h0M550.9 332.0h0M554.9 343.1h0M531.4 346.5h0M532.6 329.6h0M563.9 326.6h0M538.0 330.7h0M541.5 334.4h0M541.5 353.9h0M535.6 338.6h0M538.2 282.9h0M534.6 369.1h0M545.0 315.8h0M546.2 348.5h0M535.3 331.5h0M535.0 345.3h0M543.8 340.9h0M539.4 367.1h0M539.3 329.1h0M560.5 331.2h0M535.5 336.2h0M539.5 348.2h0M533.2 343.9h0M538.8 317.8h0M533.4 362.6h0M549.5 280.0h0M542.5 342.0h0M546.8 323.8h0M537.7 351.6h0M542.9 358.4h0M534.6 353.2h0M534.2 339.6h0M546.0 348.5h0M534.6 345.0h0M542.2 326.5h0M534.6 365.8h0M540.3 343.6h0M560.3 349.9h0M532.1 351.1h0M545.7 342.1h0M545.7 351.7h0M540.6 370.8h0M531.9 340.2h0M538.8 329.4h0M539.2 358.5h0M537.6 327.1h0M538.5 338.9h0M549.0 336.3h0M534.3 361.8h0M541.9 327.2h0M560.4 350.7h0M533.6 331.0h0M540.8 323.5h0M556.2 300.7h0M547.6 289.9h0M541.4 348.6h0M532.1 347.8h0M543.5 362.8h0M538.5 308.9h0M542.5 357.5h0M533.6 330.6h0M553.4 308.3h0M569.7 329.9h0M531.2 346.8h0M534.1 353.1h0" stroke="#e0474c" stroke-opacity="0.3" stroke-width="3.0" stroke-linecap="round" fill="none"/>
<line x1="522.5" y1="219.8" x2="522.5" y2="385.2" stroke="#222" stroke-width="0.6" stroke-dasharray="1.2,1.2"/>
<line x1="530.8" y1="219.8" x2="530.8" y2="385.2" stroke="#222" stroke-width="0.6" stroke-dasharray="1.2,1.2"/>
<line x1="443.3" y1="370.8" x2="609.5" y2="370.8" stroke="#222" stroke-width="0.6" stroke-dasharray="1.2,1.2"/>
<path d="M443.3,219.8 L443.3,385.2 L609.6,385.2" fill="none" stroke="#111" stroke-width="1.3"/>
<line x1="440.8" y1="385.2" x2="443.3" y2="385.2" stroke="#111" stroke-width="1.1"/>
<text x="439.8" y="387.6" font-size="6.7" font-weight="bold" text-anchor="end" fill="#222">0</text>
<line x1="440.8" y1="329.9" x2="443.3" y2="329.9" stroke="#111" stroke-width="1.1"/>
<text x="439.8" y="332.3" font-size="6.7" font-weight="bold" text-anchor="end" fill="#222">5</text>
<line x1="440.8" y1="274.6" x2="443.3" y2="274.6" stroke="#111" stroke-width="1.1"/>
<text x="439.8" y="277.0" font-size="6.7" font-weight="bold" text-anchor="end" fill="#222">10</text>
<line x1="443.6" y1="385.2" x2="443.6" y2="388.0" stroke="#111" stroke-width="1.1"/>
<text x="443.6" y="398.6" font-size="6.7" font-weight="bold" text-anchor="middle" fill="#222">-20</text>
<line x1="485.1" y1="385.2" x2="485.1" y2="388.0" stroke="#111" stroke-width="1.1"/>
<text x="485.1" y="398.6" font-size="6.7" font-weight="bold" text-anchor="middle" fill="#222">-10</text>
<line x1="526.6" y1="385.2" x2="526.6" y2="388.0" stroke="#111" stroke-width="1.1"/>
<text x="526.6" y="398.6" font-size="6.7" font-weight="bold" text-anchor="middle" fill="#222">0</text>
<line x1="568.1" y1="385.2" x2="568.1" y2="388.0" stroke="#111" stroke-width="1.1"/>
<text x="568.1" y="398.6" font-size="6.7" font-weight="bold" text-anchor="middle" fill="#222">10</text>
<line x1="609.6" y1="385.2" x2="609.6" y2="388.0" stroke="#111" stroke-width="1.1"/>
<text x="609.6" y="398.6" font-size="6.7" font-weight="bold" text-anchor="middle" fill="#222">20</text>
<text x="527.5" y="412.7" font-size="8.9" font-weight="bold" text-anchor="middle" fill="#222">Log<tspan font-size="6.4" dy="2">2</tspan><tspan dy="-2"> FC</tspan></text>
<text transform="translate(420.9,302.5) rotate(-90)" font-size="8.5" font-weight="bold" text-anchor="middle" fill="#222">-Log<tspan font-size="6" dy="2">10</tspan><tspan dy="-2"> P-value</tspan></text>
<text x="558.9" y="227.4" font-size="10.35" font-weight="bold">HT-29 vs. COLO 205</text>
<text x="615.8" y="278.5" font-size="8.7" font-weight="bold" fill="#222">Significance</text>
<circle cx="617.4" cy="293.8" r="1.5" fill="#e0474c" fill-opacity="0.45"/>
<text x="628.6" y="296.5" font-size="7.6" fill="#333">up</text>
<circle cx="617.4" cy="304.3" r="1.5" fill="#4a98bd" fill-opacity="0.45"/>
<text x="628.6" y="307.0" font-size="7.6" fill="#333">down</text>
<circle cx="617.4" cy="315.3" r="1.5" fill="#c8c8c8" fill-opacity="0.45"/>
<text x="628.6" y="318.0" font-size="7.6" fill="#333">no sense</text>
<text x="1.1" y="441.5" font-size="23.5" font-weight="bold" fill="#000">d</text>
<text x="67.5" y="467.6" font-size="10.3" font-weight="bold" text-anchor="middle">SW480 vs. SW620</text>
<text x="199.8" y="467.6" font-size="10.3" font-weight="bold" text-anchor="middle">HT-29 vs. COLO 205</text>
<defs><clipPath id="cl"><circle cx="102.5" cy="543.5" r="65"/></clipPath></defs>
<circle cx="102.5" cy="543.5" r="65" fill="#f3f2f9"/>
<circle cx="160" cy="543.5" r="64.6" fill="#e3e5fb"/>
<circle cx="160" cy="543.5" r="64.6" fill="#c5c6dc" clip-path="url(#cl)"/>
<circle cx="102.5" cy="543.5" r="65" fill="none" stroke="#444" stroke-width="0.7"/>
<circle cx="160" cy="543.5" r="64.6" fill="none" stroke="#444" stroke-width="0.7"/>
<text x="71.5" y="548.1" font-size="15.2" text-anchor="middle">23</text>
<text x="131.4" y="548.1" font-size="15.2" text-anchor="middle">19</text>
<text x="190.3" y="548.1" font-size="15.2" text-anchor="middle">22</text>
<text x="254.9" y="441.4" font-size="23.5" font-weight="bold" fill="#000">e</text>
<rect x="302.20" y="449.60" width="6.04" height="10.03" fill="#f9fdc9" stroke="#fff" stroke-width="0.3" stroke-opacity="0.35"/>
<rect x="308.24" y="449.60" width="6.04" height="10.03" fill="#eff9dc" stroke="#fff" stroke-width="0.3" stroke-opacity="0.35"/>
<rect x="314.28" y="449.60" width="6.04" height="10.03" fill="#fee89c" stroke="#fff" stroke-width="0.3" stroke-opacity="0.35"/>
<rect x="320.32" y="449.60" width="6.04" height="10.03" fill="#e2f4f4" stroke="#fff" stroke-width="0.3" stroke-opacity="0.35"/>
<rect x="326.36" y="449.60" width="6.04" height="10.03" fill="#e2f4f4" stroke="#fff" stroke-width="0.3" stroke-opacity="0.35"/>
<rect x="332.39" y="449.60" width="6.04" height="10.03" fill="#f3fbd4" stroke="#fff" stroke-width="0.3" stroke-opacity="0.35"/>
<rect x="338.43" y="449.60" width="6.04" height="10.03" fill="#eff9dc" stroke="#fff" stroke-width="0.3" stroke-opacity="0.35"/>
<rect x="344.47" y="449.60" width="6.04" height="10.03" fill="#fff3ad" stroke="#fff" stroke-width="0.3" stroke-opacity="0.35"/>
<rect x="350.51" y="449.60" width="6.04" height="10.03" fill="#fee89c" stroke="#fff" stroke-width="0.3" stroke-opacity="0.35"/>
<rect x="356.55" y="449.60" width="6.04" height="10.03" fill="#fee89c" stroke="#fff" stroke-width="0.3" stroke-opacity="0.35"/>
<rect x="362.59" y="449.60" width="6.04" height="10.03" fill="#feeea5" stroke="#fff" stroke-width="0.3" stroke-opacity="0.35"/>
<rect x="368.63" y="449.60" width="6.04" height="10.03" fill="#feeea5" stroke="#fff" stroke-width="0.3" stroke-opacity="0.35"/>
<rect x="374.67" y="449.60" width="6.04" height="10.03" fill="#fdb674" stroke="#fff" stroke-width="0.3" stroke-opacity="0.35"/>
<rect x="380.71" y="449.60" width="6.04" height="10.03" fill="#fee89c" stroke="#fff" stroke-width="0.3" stroke-opacity="0.35"/>
<rect x="386.74" y="449.60" width="6.04" height="10.03" fill="#feeea5" stroke="#fff" stroke-width="0.3" stroke-opacity="0.35"/>
<rect x="392.78" y="449.60" width="6.04" height="10.03" fill="#fee89c" stroke="#fff" stroke-width="0.3" stroke-opacity="0.35"/>
<rect x="398.82" y="449.60" width="6.04" height="10.03" fill="#e85a3d" stroke="#fff" stroke-width="0.3" stroke-opacity="0.35"/>
<rect x="404.86" y="449.60" width="6.04" height="10.03" fill="#f88454" stroke="#fff" stroke-width="0.3" stroke-opacity="0.35"/>
<rect x="410.90" y="449.60" width="6.04" height="10.03" fill="#eff9dc" stroke="#fff" stroke-width="0.3" stroke-opacity="0.35"/>
<rect x="416.94" y="449.60" width="6.04" height="10.03" fill="#eff9dc" stroke="#fff" stroke-width="0.3" stroke-opacity="0.35"/>
<rect x="422.98" y="449.60" width="6.04" height="10.03" fill="#f3fbd4" stroke="#fff" stroke-width="0.3" stroke-opacity="0.35"/>
<rect x="429.02" y="449.60" width="6.04" height="10.03" fill="#eff9dc" stroke="#fff" stroke-width="0.3" stroke-opacity="0.35"/>
<rect x="435.06" y="449.60" width="6.04" height="10.03" fill="#e6f6ec" stroke="#fff" stroke-width="0.3" stroke-opacity="0.35"/>
<rect x="441.09" y="449.60" width="6.04" height="10.03" fill="#eff9dc" stroke="#fff" stroke-width="0.3" stroke-opacity="0.35"/>
<rect x="447.13" y="449.60" width="6.04" height="10.03" fill="#f3fbd4" stroke="#fff" stroke-width="0.3" stroke-opacity="0.35"/>
<rect x="453.17" y="449.60" width="6.04" height="10.03" fill="#fffdbb" stroke="#fff" stroke-width="0.3" stroke-opacity="0.35"/>
<rect x="459.21" y="449.60" width="6.04" height="10.03" fill="#eff9dc" stroke="#fff" stroke-width="0.3" stroke-opacity="0.35"/>
<rect x="465.25" y="449.60" width="6.04" height="10.03" fill="#e6f6ec" stroke="#fff" stroke-width="0.3" stroke-opacity="0.35"/>
<rect x="471.29" y="449.60" width="6.04" height="10.03" fill="#eff9dc" stroke="#fff" stroke-width="0.3" stroke-opacity="0.35"/>
<rect x="477.33" y="449.60" width="6.04" height="10.03" fill="#fffdbb" stroke="#fff" stroke-width="0.3" stroke-opacity="0.35"/>
<rect x="483.37" y="449.60" width="6.04" height="10.03" fill="#ebf7e4" stroke="#fff" stroke-width="0.3" stroke-opacity="0.35"/>
<rect x="489.41" y="449.60" width="6.04" height="10.03" fill="#f9fdc9" stroke="#fff" stroke-width="0.3" stroke-opacity="0.35"/>
<rect x="495.44" y="449.60" width="6.04" height="10.03" fill="#fee89c" stroke="#fff" stroke-width="0.3" stroke-opacity="0.35"/>
<rect x="501.48" y="449.60" width="6.04" height="10.03" fill="#fee89c" stroke="#fff" stroke-width="0.3" stroke-opacity="0.35"/>
<rect x="507.52" y="449.60" width="6.04" height="10.03" fill="#fee395" stroke="#fff" stroke-width="0.3" stroke-opacity="0.35"/>
<rect x="513.56" y="449.60" width="6.04" height="10.03" fill="#fee89c" stroke="#fff" stroke-width="0.3" stroke-opacity="0.35"/>
<rect x="298" y="449.60" width="3.3" height="10.53" fill="#a3bde0"/>
<text x="521.5" y="456.5" font-size="5.35" fill="#222">Succinic acid</text>
<rect x="302.20" y="459.63" width="6.04" height="10.03" fill="#f9fdc9" stroke="#fff" stroke-width="0.3" stroke-opacity="0.35"/>
<rect x="308.24" y="459.63" width="6.04" height="10.03" fill="#f3fbd4" stroke="#fff" stroke-width="0.3" stroke-opacity="0.35"/>
<rect x="314.28" y="459.63" width="6.04" height="10.03" fill="#fee89c" stroke="#fff" stroke-width="0.3" stroke-opacity="0.35"/>
<rect x="320.32" y="459.63" width="6.04" height="10.03" fill="#fffdbb" stroke="#fff" stroke-width="0.3" stroke-opacity="0.35"/>
<rect x="326.36" y="459.63" width="6.04" height="10.03" fill="#eff9dc" stroke="#fff" stroke-width="0.3" stroke-opacity="0.35"/>
<rect x="332.39" y="459.63" width="6.04" height="10.03" fill="#f9fdc9" stroke="#fff" stroke-width="0.3" stroke-opacity="0.35"/>
<rect x="338.43" y="459.63" width="6.04" height="10.03" fill="#f3fbd4" stroke="#fff" stroke-width="0.3" stroke-opacity="0.35"/>
<rect x="344.47" y="459.63" width="6.04" height="10.03" fill="#eff9dc" stroke="#fff" stroke-width="0.3" stroke-opacity="0.35"/>
<rect x="350.51" y="459.63" width="6.04" height="10.03" fill="#eff9dc" stroke="#fff" stroke-width="0.3" stroke-opacity="0.35"/>
<rect x="356.55" y="459.63" width="6.04" height="10.03" fill="#fff3ad" stroke="#fff" stroke-width="0.3" stroke-opacity="0.35"/>
<rect x="362.59" y="459.63" width="6.04" height="10.03" fill="#fff3ad" stroke="#fff" stroke-width="0.3" stroke-opacity="0.35"/>
<rect x="368.63" y="459.63" width="6.04" height="10.03" fill="#fee395" stroke="#fff" stroke-width="0.3" stroke-opacity="0.35"/>
<rect x="374.67" y="459.63" width="6.04" height="10.03" fill="#fdb674" stroke="#fff" stroke-width="0.3" stroke-opacity="0.35"/>
<rect x="380.71" y="459.63" width="6.04" height="10.03" fill="#fee395" stroke="#fff" stroke-width="0.3" stroke-opacity="0.35"/>
<rect x="386.74" y="459.63" width="6.04" height="10.03" fill="#fffdbb" stroke="#fff" stroke-width="0.3" stroke-opacity="0.35"/>
<rect x="392.78" y="459.63" width="6.04" height="10.03" fill="#feeea5" stroke="#fff" stroke-width="0.3" stroke-opacity="0.35"/>
<rect x="398.82" y="459.63" width="6.04" height="10.03" fill="#fc9e64" stroke="#fff" stroke-width="0.3" stroke-opacity="0.35"/>
<rect x="404.86" y="459.63" width="6.04" height="10.03" fill="#feeea5" stroke="#fff" stroke-width="0.3" stroke-opacity="0.35"/>
<rect x="410.90" y="459.63" width="6.04" height="10.03" fill="#e6f6ec" stroke="#fff" stroke-width="0.3" stroke-opacity="0.35"/>
<rect x="416.94" y="459.63" width="6.04" height="10.03" fill="#eff9dc" stroke="#fff" stroke-width="0.3" stroke-opacity="0.35"/>
<rect x="422.98" y="459.63" width="6.04" height="10.03" fill="#c4e0ee" stroke="#fff" stroke-width="0.3" stroke-opacity="0.35"/>
<rect x="429.02" y="459.63" width="6.04" height="10.03" fill="#ebf7e4" stroke="#fff" stroke-width="0.3" stroke-opacity="0.35"/>
<rect x="435.06" y="459.63" width="6.04" height="10.03" fill="#e2f4f4" stroke="#fff" stroke-width="0.3" stroke-opacity="0.35"/>
<rect x="441.09" y="459.63" width="6.04" height="10.03" fill="#e6f6ec" stroke="#fff" stroke-width="0.3" stroke-opacity="0.35"/>
<rect x="447.13" y="459.63" width="6.04" height="10.03" fill="#ebf7e4" stroke="#fff" stroke-width="0.3" stroke-opacity="0.35"/>
<rect x="453.17" y="459.63" width="6.04" height="10.03" fill="#ebf7e4" stroke="#fff" stroke-width="0.3" stroke-opacity="0.35"/>
<rect x="459.21" y="459.63" width="6.04" height="10.03" fill="#e6f6ec" stroke="#fff" stroke-width="0.3" stroke-opacity="0.35"/>
<rect x="465.25" y="459.63" width="6.04" height="10.03" fill="#fff3ad" stroke="#fff" stroke-width="0.3" stroke-opacity="0.35"/>
<rect x="471.29" y="459.63" width="6.04" height="10.03" fill="#feeea5" stroke="#fff" stroke-width="0.3" stroke-opacity="0.35"/>
<rect x="477.33" y="459.63" width="6.04" height="10.03" fill="#feeea5" stroke="#fff" stroke-width="0.3" stroke-opacity="0.35"/>
<rect x="483.37" y="459.63" width="6.04" height="10.03" fill="#fee89c" stroke="#fff" stroke-width="0.3" stroke-opacity="0.35"/>
<rect x="489.41" y="459.63" width="6.04" height="10.03" fill="#feeea5" stroke="#fff" stroke-width="0.3" stroke-opacity="0.35"/>
<rect x="495.44" y="459.63" width="6.04" height="10.03" fill="#fecf85" stroke="#fff" stroke-width="0.3" stroke-opacity="0.35"/>
<rect x="501.48" y="459.63" width="6.04" height="10.03" fill="#fecf85" stroke="#fff" stroke-width="0.3" stroke-opacity="0.35"/>
<rect x="507.52" y="459.63" width="6.04" height="10.03" fill="#fdb674" stroke="#fff" stroke-width="0.3" stroke-opacity="0.35"/>
<rect x="513.56" y="459.63" width="6.04" height="10.03" fill="#fee395" stroke="#fff" stroke-width="0.3" stroke-opacity="0.35"/>
<rect x="298" y="459.63" width="3.3" height="10.53" fill="#a3bde0"/>
<text x="521.5" y="466.6" font-size="5.35" fill="#222">Lactic acid</text>
<rect x="302.20" y="469.66" width="6.04" height="10.03" fill="#eff9dc" stroke="#fff" stroke-width="0.3" stroke-opacity="0.35"/>
<rect x="308.24" y="469.66" width="6.04" height="10.03" fill="#b3d5e7" stroke="#fff" stroke-width="0.3" stroke-opacity="0.35"/>
<rect x="314.28" y="469.66" width="6.04" height="10.03" fill="#f9fdc9" stroke="#fff" stroke-width="0.3" stroke-opacity="0.35"/>
<rect x="320.32" y="469.66" width="6.04" height="10.03" fill="#eff9dc" stroke="#fff" stroke-width="0.3" stroke-opacity="0.35"/>
<rect x="326.36" y="469.66" width="6.04" height="10.03" fill="#eff9dc" stroke="#fff" stroke-width="0.3" stroke-opacity="0.35"/>
<rect x="332.39" y="469.66" width="6.04" height="10.03" fill="#ebf7e4" stroke="#fff" stroke-width="0.3" stroke-opacity="0.35"/>
<rect x="338.43" y="469.66" width="6.04" height="10.03" fill="#ebf7e4" stroke="#fff" stroke-width="0.3" stroke-opacity="0.35"/>
<rect x="344.47" y="469.66" width="6.04" height="10.03" fill="#fffdbb" stroke="#fff" stroke-width="0.3" stroke-opacity="0.35"/>
<rect x="350.51" y="469.66" width="6.04" height="10.03" fill="#fffdbb" stroke="#fff" stroke-width="0.3" stroke-opacity="0.35"/>
<rect x="356.55" y="469.66" width="6.04" height="10.03" fill="#fee395" stroke="#fff" stroke-width="0.3" stroke-opacity="0.35"/>
<rect x="362.59" y="469.66" width="6.04" height="10.03" fill="#fff3ad" stroke="#fff" stroke-width="0.3" stroke-opacity="0.35"/>
<rect x="368.63" y="469.66" width="6.04" height="10.03" fill="#fffdbb" stroke="#fff" stroke-width="0.3" stroke-opacity="0.35"/>
<rect x="374.67" y="469.66" width="6.04" height="10.03" fill="#feeea5" stroke="#fff" stroke-width="0.3" stroke-opacity="0.35"/>
<rect x="380.71" y="469.66" width="6.04" height="10.03" fill="#f3fbd4" stroke="#fff" stroke-width="0.3" stroke-opacity="0.35"/>
<rect x="386.74" y="469.66" width="6.04" height="10.03" fill="#f9fdc9" stroke="#fff" stroke-width="0.3" stroke-opacity="0.35"/>
<rect x="392.78" y="469.66" width="6.04" height="10.03" fill="#fffdbb" stroke="#fff" stroke-width="0.3" stroke-opacity="0.35"/>
<rect x="398.82" y="469.66" width="6.04" height="10.03" fill="#fedc8d" stroke="#fff" stroke-width="0.3" stroke-opacity="0.35"/>
<rect x="404.86" y="469.66" width="6.04" height="10.03" fill="#fecf85" stroke="#fff" stroke-width="0.3" stroke-opacity="0.35"/>
<rect x="410.90" y="469.66" width="6.04" height="10.03" fill="#eff9dc" stroke="#fff" stroke-width="0.3" stroke-opacity="0.35"/>
<rect x="416.94" y="469.66" width="6.04" height="10.03" fill="#f3fbd4" stroke="#fff" stroke-width="0.3" stroke-opacity="0.35"/>
<rect x="422.98" y="469.66" width="6.04" height="10.03" fill="#eff9dc" stroke="#fff" stroke-width="0.3" stroke-opacity="0.35"/>
<rect x="429.02" y="469.66" width="6.04" height="10.03" fill="#eff9dc" stroke="#fff" stroke-width="0.3" stroke-opacity="0.35"/>
<rect x="435.06" y="469.66" width="6.04" height="10.03" fill="#eff9dc" stroke="#fff" stroke-width="0.3" stroke-opacity="0.35"/>
<rect x="441.09" y="469.66" width="6.04" height="10.03" fill="#eff9dc" stroke="#fff" stroke-width="0.3" stroke-opacity="0.35"/>
<rect x="447.13" y="469.66" width="6.04" height="10.03" fill="#ebf7e4" stroke="#fff" stroke-width="0.3" stroke-opacity="0.35"/>
<rect x="453.17" y="469.66" width="6.04" height="10.03" fill="#ebf7e4" stroke="#fff" stroke-width="0.3" stroke-opacity="0.35"/>
<rect x="459.21" y="469.66" width="6.04" height="10.03" fill="#c4e0ee" stroke="#fff" stroke-width="0.3" stroke-opacity="0.35"/>
<rect x="465.25" y="469.66" width="6.04" height="10.03" fill="#feeea5" stroke="#fff" stroke-width="0.3" stroke-opacity="0.35"/>
<rect x="471.29" y="469.66" width="6.04" height="10.03" fill="#fee395" stroke="#fff" stroke-width="0.3" stroke-opacity="0.35"/>
<rect x="477.33" y="469.66" width="6.04" height="10.03" fill="#feeea5" stroke="#fff" stroke-width="0.3" stroke-opacity="0.35"/>
<rect x="483.37" y="469.66" width="6.04" height="10.03" fill="#fee89c" stroke="#fff" stroke-width="0.3" stroke-opacity="0.35"/>
<rect x="489.41" y="469.66" width="6.04" height="10.03" fill="#fee89c" stroke="#fff" stroke-width="0.3" stroke-opacity="0.35"/>
<rect x="495.44" y="469.66" width="6.04" height="10.03" fill="#fdc37d" stroke="#fff" stroke-width="0.3" stroke-opacity="0.35"/>
<rect x="501.48" y="469.66" width="6.04" height="10.03" fill="#fdb674" stroke="#fff" stroke-width="0.3" stroke-opacity="0.35"/>
<rect x="507.52" y="469.66" width="6.04" height="10.03" fill="#fc915c" stroke="#fff" stroke-width="0.3" stroke-opacity="0.35"/>
<rect x="513.56" y="469.66" width="6.04" height="10.03" fill="#fdc37d" stroke="#fff" stroke-width="0.3" stroke-opacity="0.35"/>
<rect x="298" y="469.66" width="3.3" height="10.53" fill="#a3bde0"/>
<text x="521.5" y="476.6" font-size="5.35" fill="#222">Glucose</text>
<rect x="302.20" y="479.69" width="6.04" height="10.03" fill="#eff9dc" stroke="#fff" stroke-width="0.3" stroke-opacity="0.35"/>
<rect x="308.24" y="479.69" width="6.04" height="10.03" fill="#eff9dc" stroke="#fff" stroke-width="0.3" stroke-opacity="0.35"/>
<rect x="314.28" y="479.69" width="6.04" height="10.03" fill="#fffdbb" stroke="#fff" stroke-width="0.3" stroke-opacity="0.35"/>
<rect x="320.32" y="479.69" width="6.04" height="10.03" fill="#e6f6ec" stroke="#fff" stroke-width="0.3" stroke-opacity="0.35"/>
<rect x="326.36" y="479.69" width="6.04" height="10.03" fill="#f3fbd4" stroke="#fff" stroke-width="0.3" stroke-opacity="0.35"/>
<rect x="332.39" y="479.69" width="6.04" height="10.03" fill="#eff9dc" stroke="#fff" stroke-width="0.3" stroke-opacity="0.35"/>
<rect x="338.43" y="479.69" width="6.04" height="10.03" fill="#a1c9e1" stroke="#fff" stroke-width="0.3" stroke-opacity="0.35"/>
<rect x="344.47" y="479.69" width="6.04" height="10.03" fill="#eff9dc" stroke="#fff" stroke-width="0.3" stroke-opacity="0.35"/>
<rect x="350.51" y="479.69" width="6.04" height="10.03" fill="#ebf7e4" stroke="#fff" stroke-width="0.3" stroke-opacity="0.35"/>
<rect x="356.55" y="479.69" width="6.04" height="10.03" fill="#fff3ad" stroke="#fff" stroke-width="0.3" stroke-opacity="0.35"/>
<rect x="362.59" y="479.69" width="6.04" height="10.03" fill="#fff3ad" stroke="#fff" stroke-width="0.3" stroke-opacity="0.35"/>
<rect x="368.63" y="479.69" width="6.04" height="10.03" fill="#fff3ad" stroke="#fff" stroke-width="0.3" stroke-opacity="0.35"/>
<rect x="374.67" y="479.69" width="6.04" height="10.03" fill="#fdaa6c" stroke="#fff" stroke-width="0.3" stroke-opacity="0.35"/>
<rect x="380.71" y="479.69" width="6.04" height="10.03" fill="#fff3ad" stroke="#fff" stroke-width="0.3" stroke-opacity="0.35"/>
<rect x="386.74" y="479.69" width="6.04" height="10.03" fill="#feeea5" stroke="#fff" stroke-width="0.3" stroke-opacity="0.35"/>
<rect x="392.78" y="479.69" width="6.04" height="10.03" fill="#f9fdc9" stroke="#fff" stroke-width="0.3" stroke-opacity="0.35"/>
<rect x="398.82" y="479.69" width="6.04" height="10.03" fill="#e24c36" stroke="#fff" stroke-width="0.3" stroke-opacity="0.35"/>
<rect x="404.86" y="479.69" width="6.04" height="10.03" fill="#feeea5" stroke="#fff" stroke-width="0.3" stroke-opacity="0.35"/>
<rect x="410.90" y="479.69" width="6.04" height="10.03" fill="#ebf7e4" stroke="#fff" stroke-width="0.3" stroke-opacity="0.35"/>
<rect x="416.94" y="479.69" width="6.04" height="10.03" fill="#e6f6ec" stroke="#fff" stroke-width="0.3" stroke-opacity="0.35"/>
<rect x="422.98" y="479.69" width="6.04" height="10.03" fill="#fff3ad" stroke="#fff" stroke-width="0.3" stroke-opacity="0.35"/>
<rect x="429.02" y="479.69" width="6.04" height="10.03" fill="#fff3ad" stroke="#fff" stroke-width="0.3" stroke-opacity="0.35"/>
<rect x="435.06" y="479.69" width="6.04" height="10.03" fill="#f3fbd4" stroke="#fff" stroke-width="0.3" stroke-opacity="0.35"/>
<rect x="441.09" y="479.69" width="6.04" height="10.03" fill="#ebf7e4" stroke="#fff" stroke-width="0.3" stroke-opacity="0.35"/>
<rect x="447.13" y="479.69" width="6.04" height="10.03" fill="#eff9dc" stroke="#fff" stroke-width="0.3" stroke-opacity="0.35"/>
<rect x="453.17" y="479.69" width="6.04" height="10.03" fill="#fffdbb" stroke="#fff" stroke-width="0.3" stroke-opacity="0.35"/>
<rect x="459.21" y="479.69" width="6.04" height="10.03" fill="#eff9dc" stroke="#fff" stroke-width="0.3" stroke-opacity="0.35"/>
<rect x="465.25" y="479.69" width="6.04" height="10.03" fill="#f9fdc9" stroke="#fff" stroke-width="0.3" stroke-opacity="0.35"/>
<rect x="471.29" y="479.69" width="6.04" height="10.03" fill="#fdb674" stroke="#fff" stroke-width="0.3" stroke-opacity="0.35"/>
<rect x="477.33" y="479.69" width="6.04" height="10.03" fill="#fdb674" stroke="#fff" stroke-width="0.3" stroke-opacity="0.35"/>
<rect x="483.37" y="479.69" width="6.04" height="10.03" fill="#fee89c" stroke="#fff" stroke-width="0.3" stroke-opacity="0.35"/>
<rect x="489.41" y="479.69" width="6.04" height="10.03" fill="#fffdbb" stroke="#fff" stroke-width="0.3" stroke-opacity="0.35"/>
<rect x="495.44" y="479.69" width="6.04" height="10.03" fill="#fee395" stroke="#fff" stroke-width="0.3" stroke-opacity="0.35"/>
<rect x="501.48" y="479.69" width="6.04" height="10.03" fill="#fee89c" stroke="#fff" stroke-width="0.3" stroke-opacity="0.35"/>
<rect x="507.52" y="479.69" width="6.04" height="10.03" fill="#feeea5" stroke="#fff" stroke-width="0.3" stroke-opacity="0.35"/>
<rect x="513.56" y="479.69" width="6.04" height="10.03" fill="#feeea5" stroke="#fff" stroke-width="0.3" stroke-opacity="0.35"/>
<rect x="298" y="479.69" width="3.3" height="10.53" fill="#a3bde0"/>
<text x="521.5" y="486.6" font-size="5.35" fill="#222">Malic acid</text>
<rect x="302.20" y="489.73" width="6.04" height="10.03" fill="#eff9dc" stroke="#fff" stroke-width="0.3" stroke-opacity="0.35"/>
<rect x="308.24" y="489.73" width="6.04" height="10.03" fill="#7eacd1" stroke="#fff" stroke-width="0.3" stroke-opacity="0.35"/>
<rect x="314.28" y="489.73" width="6.04" height="10.03" fill="#fffdbb" stroke="#fff" stroke-width="0.3" stroke-opacity="0.35"/>
<rect x="320.32" y="489.73" width="6.04" height="10.03" fill="#f3fbd4" stroke="#fff" stroke-width="0.3" stroke-opacity="0.35"/>
<rect x="326.36" y="489.73" width="6.04" height="10.03" fill="#eff9dc" stroke="#fff" stroke-width="0.3" stroke-opacity="0.35"/>
<rect x="332.39" y="489.73" width="6.04" height="10.03" fill="#eff9dc" stroke="#fff" stroke-width="0.3" stroke-opacity="0.35"/>
<rect x="338.43" y="489.73" width="6.04" height="10.03" fill="#f3fbd4" stroke="#fff" stroke-width="0.3" stroke-opacity="0.35"/>
<rect x="344.47" y="489.73" width="6.04" height="10.03" fill="#f3fbd4" stroke="#fff" stroke-width="0.3" stroke-opacity="0.35"/>
<rect x="350.51" y="489.73" width="6.04" height="10.03" fill="#f9fdc9" stroke="#fff" stroke-width="0.3" stroke-opacity="0.35"/>
<rect x="356.55" y="489.73" width="6.04" height="10.03" fill="#fee89c" stroke="#fff" stroke-width="0.3" stroke-opacity="0.35"/>
<rect x="362.59" y="489.73" width="6.04" height="10.03" fill="#feeea5" stroke="#fff" stroke-width="0.3" stroke-opacity="0.35"/>
<rect x="368.63" y="489.73" width="6.04" height="10.03" fill="#feeea5" stroke="#fff" stroke-width="0.3" stroke-opacity="0.35"/>
<rect x="374.67" y="489.73" width="6.04" height="10.03" fill="#fdb674" stroke="#fff" stroke-width="0.3" stroke-opacity="0.35"/>
<rect x="380.71" y="489.73" width="6.04" height="10.03" fill="#feeea5" stroke="#fff" stroke-width="0.3" stroke-opacity="0.35"/>
<rect x="386.74" y="489.73" width="6.04" height="10.03" fill="#f9fdc9" stroke="#fff" stroke-width="0.3" stroke-opacity="0.35"/>
<rect x="392.78" y="489.73" width="6.04" height="10.03" fill="#fee89c" stroke="#fff" stroke-width="0.3" stroke-opacity="0.35"/>
<rect x="398.82" y="489.73" width="6.04" height="10.03" fill="#f88454" stroke="#fff" stroke-width="0.3" stroke-opacity="0.35"/>
<rect x="404.86" y="489.73" width="6.04" height="10.03" fill="#fdaa6c" stroke="#fff" stroke-width="0.3" stroke-opacity="0.35"/>
<rect x="410.90" y="489.73" width="6.04" height="10.03" fill="#eff9dc" stroke="#fff" stroke-width="0.3" stroke-opacity="0.35"/>
<rect x="416.94" y="489.73" width="6.04" height="10.03" fill="#eff9dc" stroke="#fff" stroke-width="0.3" stroke-opacity="0.35"/>
<rect x="422.98" y="489.73" width="6.04" height="10.03" fill="#f3fbd4" stroke="#fff" stroke-width="0.3" stroke-opacity="0.35"/>
<rect x="429.02" y="489.73" width="6.04" height="10.03" fill="#f9fdc9" stroke="#fff" stroke-width="0.3" stroke-opacity="0.35"/>
<rect x="435.06" y="489.73" width="6.04" height="10.03" fill="#f3fbd4" stroke="#fff" stroke-width="0.3" stroke-opacity="0.35"/>
<rect x="441.09" y="489.73" width="6.04" height="10.03" fill="#e2f4f4" stroke="#fff" stroke-width="0.3" stroke-opacity="0.35"/>
<rect x="447.13" y="489.73" width="6.04" height="10.03" fill="#e2f4f4" stroke="#fff" stroke-width="0.3" stroke-opacity="0.35"/>
<rect x="453.17" y="489.73" width="6.04" height="10.03" fill="#f3fbd4" stroke="#fff" stroke-width="0.3" stroke-opacity="0.35"/>
<rect x="459.21" y="489.73" width="6.04" height="10.03" fill="#d5ebf4" stroke="#fff" stroke-width="0.3" stroke-opacity="0.35"/>
<rect x="465.25" y="489.73" width="6.04" height="10.03" fill="#fffdbb" stroke="#fff" stroke-width="0.3" stroke-opacity="0.35"/>
<rect x="471.29" y="489.73" width="6.04" height="10.03" fill="#feeea5" stroke="#fff" stroke-width="0.3" stroke-opacity="0.35"/>
<rect x="477.33" y="489.73" width="6.04" height="10.03" fill="#feeea5" stroke="#fff" stroke-width="0.3" stroke-opacity="0.35"/>
<rect x="483.37" y="489.73" width="6.04" height="10.03" fill="#feeea5" stroke="#fff" stroke-width="0.3" stroke-opacity="0.35"/>
<rect x="489.41" y="489.73" width="6.04" height="10.03" fill="#fffdbb" stroke="#fff" stroke-width="0.3" stroke-opacity="0.35"/>
<rect x="495.44" y="489.73" width="6.04" height="10.03" fill="#fee89c" stroke="#fff" stroke-width="0.3" stroke-opacity="0.35"/>
<rect x="501.48" y="489.73" width="6.04" height="10.03" fill="#feeea5" stroke="#fff" stroke-width="0.3" stroke-opacity="0.35"/>
<rect x="507.52" y="489.73" width="6.04" height="10.03" fill="#fedc8d" stroke="#fff" stroke-width="0.3" stroke-opacity="0.35"/>
<rect x="513.56" y="489.73" width="6.04" height="10.03" fill="#fffdbb" stroke="#fff" stroke-width="0.3" stroke-opacity="0.35"/>
<rect x="298" y="489.73" width="3.3" height="10.53" fill="#95d5c5"/>
<text x="521.5" y="496.7" font-size="5.35" fill="#222">Pyroglutamic acid</text>
<rect x="302.20" y="499.76" width="6.04" height="10.03" fill="#f3fbd4" stroke="#fff" stroke-width="0.3" stroke-opacity="0.35"/>
<rect x="308.24" y="499.76" width="6.04" height="10.03" fill="#c4e0ee" stroke="#fff" stroke-width="0.3" stroke-opacity="0.35"/>
<rect x="314.28" y="499.76" width="6.04" height="10.03" fill="#fffdbb" stroke="#fff" stroke-width="0.3" stroke-opacity="0.35"/>
<rect x="320.32" y="499.76" width="6.04" height="10.03" fill="#e6f6ec" stroke="#fff" stroke-width="0.3" stroke-opacity="0.35"/>
<rect x="326.36" y="499.76" width="6.04" height="10.03" fill="#f9fdc9" stroke="#fff" stroke-width="0.3" stroke-opacity="0.35"/>
<rect x="332.39" y="499.76" width="6.04" height="10.03" fill="#f9fdc9" stroke="#fff" stroke-width="0.3" stroke-opacity="0.35"/>
<rect x="338.43" y="499.76" width="6.04" height="10.03" fill="#e2f4f4" stroke="#fff" stroke-width="0.3" stroke-opacity="0.35"/>
<rect x="344.47" y="499.76" width="6.04" height="10.03" fill="#fffdbb" stroke="#fff" stroke-width="0.3" stroke-opacity="0.35"/>
<rect x="350.51" y="499.76" width="6.04" height="10.03" fill="#fff3ad" stroke="#fff" stroke-width="0.3" stroke-opacity="0.35"/>
<rect x="356.55" y="499.76" width="6.04" height="10.03" fill="#fffdbb" stroke="#fff" stroke-width="0.3" stroke-opacity="0.35"/>
<rect x="362.59" y="499.76" width="6.04" height="10.03" fill="#fffdbb" stroke="#fff" stroke-width="0.3" stroke-opacity="0.35"/>
<rect x="368.63" y="499.76" width="6.04" height="10.03" fill="#fdaa6c" stroke="#fff" stroke-width="0.3" stroke-opacity="0.35"/>
<rect x="374.67" y="499.76" width="6.04" height="10.03" fill="#ed6845" stroke="#fff" stroke-width="0.3" stroke-opacity="0.35"/>
<rect x="380.71" y="499.76" width="6.04" height="10.03" fill="#feeea5" stroke="#fff" stroke-width="0.3" stroke-opacity="0.35"/>
<rect x="386.74" y="499.76" width="6.04" height="10.03" fill="#f9fdc9" stroke="#fff" stroke-width="0.3" stroke-opacity="0.35"/>
<rect x="392.78" y="499.76" width="6.04" height="10.03" fill="#fff3ad" stroke="#fff" stroke-width="0.3" stroke-opacity="0.35"/>
<rect x="398.82" y="499.76" width="6.04" height="10.03" fill="#f88454" stroke="#fff" stroke-width="0.3" stroke-opacity="0.35"/>
<rect x="404.86" y="499.76" width="6.04" height="10.03" fill="#fedc8d" stroke="#fff" stroke-width="0.3" stroke-opacity="0.35"/>
<rect x="410.90" y="499.76" width="6.04" height="10.03" fill="#ebf7e4" stroke="#fff" stroke-width="0.3" stroke-opacity="0.35"/>
<rect x="416.94" y="499.76" width="6.04" height="10.03" fill="#f3fbd4" stroke="#fff" stroke-width="0.3" stroke-opacity="0.35"/>
<rect x="422.98" y="499.76" width="6.04" height="10.03" fill="#f3fbd4" stroke="#fff" stroke-width="0.3" stroke-opacity="0.35"/>
<rect x="429.02" y="499.76" width="6.04" height="10.03" fill="#f3fbd4" stroke="#fff" stroke-width="0.3" stroke-opacity="0.35"/>
<rect x="435.06" y="499.76" width="6.04" height="10.03" fill="#f3fbd4" stroke="#fff" stroke-width="0.3" stroke-opacity="0.35"/>
<rect x="441.09" y="499.76" width="6.04" height="10.03" fill="#ebf7e4" stroke="#fff" stroke-width="0.3" stroke-opacity="0.35"/>
<rect x="447.13" y="499.76" width="6.04" height="10.03" fill="#e6f6ec" stroke="#fff" stroke-width="0.3" stroke-opacity="0.35"/>
<rect x="453.17" y="499.76" width="6.04" height="10.03" fill="#eff9dc" stroke="#fff" stroke-width="0.3" stroke-opacity="0.35"/>
<rect x="459.21" y="499.76" width="6.04" height="10.03" fill="#ebf7e4" stroke="#fff" stroke-width="0.3" stroke-opacity="0.35"/>
<rect x="465.25" y="499.76" width="6.04" height="10.03" fill="#f9fdc9" stroke="#fff" stroke-width="0.3" stroke-opacity="0.35"/>
<rect x="471.29" y="499.76" width="6.04" height="10.03" fill="#f9fdc9" stroke="#fff" stroke-width="0.3" stroke-opacity="0.35"/>
<rect x="477.33" y="499.76" width="6.04" height="10.03" fill="#f9fdc9" stroke="#fff" stroke-width="0.3" stroke-opacity="0.35"/>
<rect x="483.37" y="499.76" width="6.04" height="10.03" fill="#f3fbd4" stroke="#fff" stroke-width="0.3" stroke-opacity="0.35"/>
<rect x="489.41" y="499.76" width="6.04" height="10.03" fill="#f3fbd4" stroke="#fff" stroke-width="0.3" stroke-opacity="0.35"/>
<rect x="495.44" y="499.76" width="6.04" height="10.03" fill="#fee395" stroke="#fff" stroke-width="0.3" stroke-opacity="0.35"/>
<rect x="501.48" y="499.76" width="6.04" height="10.03" fill="#fee395" stroke="#fff" stroke-width="0.3" stroke-opacity="0.35"/>
<rect x="507.52" y="499.76" width="6.04" height="10.03" fill="#fee395" stroke="#fff" stroke-width="0.3" stroke-opacity="0.35"/>
<rect x="513.56" y="499.76" width="6.04" height="10.03" fill="#fee89c" stroke="#fff" stroke-width="0.3" stroke-opacity="0.35"/>
<rect x="298" y="499.76" width="3.3" height="10.53" fill="#95d5c5"/>
<text x="521.5" y="506.7" font-size="5.35" fill="#222">Glutamine</text>
<rect x="302.20" y="509.79" width="6.04" height="10.03" fill="#e6f6ec" stroke="#fff" stroke-width="0.3" stroke-opacity="0.35"/>
<rect x="308.24" y="509.79" width="6.04" height="10.03" fill="#e6f6ec" stroke="#fff" stroke-width="0.3" stroke-opacity="0.35"/>
<rect x="314.28" y="509.79" width="6.04" height="10.03" fill="#e6f6ec" stroke="#fff" stroke-width="0.3" stroke-opacity="0.35"/>
<rect x="320.32" y="509.79" width="6.04" height="10.03" fill="#7eacd1" stroke="#fff" stroke-width="0.3" stroke-opacity="0.35"/>
<rect x="326.36" y="509.79" width="6.04" height="10.03" fill="#f3fbd4" stroke="#fff" stroke-width="0.3" stroke-opacity="0.35"/>
<rect x="332.39" y="509.79" width="6.04" height="10.03" fill="#f3fbd4" stroke="#fff" stroke-width="0.3" stroke-opacity="0.35"/>
<rect x="338.43" y="509.79" width="6.04" height="10.03" fill="#f3fbd4" stroke="#fff" stroke-width="0.3" stroke-opacity="0.35"/>
<rect x="344.47" y="509.79" width="6.04" height="10.03" fill="#f3fbd4" stroke="#fff" stroke-width="0.3" stroke-opacity="0.35"/>
<rect x="350.51" y="509.79" width="6.04" height="10.03" fill="#f9fdc9" stroke="#fff" stroke-width="0.3" stroke-opacity="0.35"/>
<rect x="356.55" y="509.79" width="6.04" height="10.03" fill="#fc9e64" stroke="#fff" stroke-width="0.3" stroke-opacity="0.35"/>
<rect x="362.59" y="509.79" width="6.04" height="10.03" fill="#fc9e64" stroke="#fff" stroke-width="0.3" stroke-opacity="0.35"/>
<rect x="368.63" y="509.79" width="6.04" height="10.03" fill="#fee89c" stroke="#fff" stroke-width="0.3" stroke-opacity="0.35"/>
<rect x="374.67" y="509.79" width="6.04" height="10.03" fill="#fdb674" stroke="#fff" stroke-width="0.3" stroke-opacity="0.35"/>
<rect x="380.71" y="509.79" width="6.04" height="10.03" fill="#fedc8d" stroke="#fff" stroke-width="0.3" stroke-opacity="0.35"/>
<rect x="386.74" y="509.79" width="6.04" height="10.03" fill="#fffdbb" stroke="#fff" stroke-width="0.3" stroke-opacity="0.35"/>
<rect x="392.78" y="509.79" width="6.04" height="10.03" fill="#f9fdc9" stroke="#fff" stroke-width="0.3" stroke-opacity="0.35"/>
<rect x="398.82" y="509.79" width="6.04" height="10.03" fill="#fee89c" stroke="#fff" stroke-width="0.3" stroke-opacity="0.35"/>
<rect x="404.86" y="509.79" width="6.04" height="10.03" fill="#fff3ad" stroke="#fff" stroke-width="0.3" stroke-opacity="0.35"/>
<rect x="410.90" y="509.79" width="6.04" height="10.03" fill="#eff9dc" stroke="#fff" stroke-width="0.3" stroke-opacity="0.35"/>
<rect x="416.94" y="509.79" width="6.04" height="10.03" fill="#e6f6ec" stroke="#fff" stroke-width="0.3" stroke-opacity="0.35"/>
<rect x="422.98" y="509.79" width="6.04" height="10.03" fill="#f3fbd4" stroke="#fff" stroke-width="0.3" stroke-opacity="0.35"/>
<rect x="429.02" y="509.79" width="6.04" height="10.03" fill="#eff9dc" stroke="#fff" stroke-width="0.3" stroke-opacity="0.35"/>
<rect x="435.06" y="509.79" width="6.04" height="10.03" fill="#ebf7e4" stroke="#fff" stroke-width="0.3" stroke-opacity="0.35"/>
<rect x="441.09" y="509.79" width="6.04" height="10.03" fill="#eff9dc" stroke="#fff" stroke-width="0.3" stroke-opacity="0.35"/>
<rect x="447.13" y="509.79" width="6.04" height="10.03" fill="#eff9dc" stroke="#fff" stroke-width="0.3" stroke-opacity="0.35"/>
<rect x="453.17" y="509.79" width="6.04" height="10.03" fill="#f3fbd4" stroke="#fff" stroke-width="0.3" stroke-opacity="0.35"/>
<rect x="459.21" y="509.79" width="6.04" height="10.03" fill="#ebf7e4" stroke="#fff" stroke-width="0.3" stroke-opacity="0.35"/>
<rect x="465.25" y="509.79" width="6.04" height="10.03" fill="#feeea5" stroke="#fff" stroke-width="0.3" stroke-opacity="0.35"/>
<rect x="471.29" y="509.79" width="6.04" height="10.03" fill="#feeea5" stroke="#fff" stroke-width="0.3" stroke-opacity="0.35"/>
<rect x="477.33" y="509.79" width="6.04" height="10.03" fill="#feeea5" stroke="#fff" stroke-width="0.3" stroke-opacity="0.35"/>
<rect x="483.37" y="509.79" width="6.04" height="10.03" fill="#feeea5" stroke="#fff" stroke-width="0.3" stroke-opacity="0.35"/>
<rect x="489.41" y="509.79" width="6.04" height="10.03" fill="#feeea5" stroke="#fff" stroke-width="0.3" stroke-opacity="0.35"/>
<rect x="495.44" y="509.79" width="6.04" height="10.03" fill="#fdc37d" stroke="#fff" stroke-width="0.3" stroke-opacity="0.35"/>
<rect x="501.48" y="509.79" width="6.04" height="10.03" fill="#fee89c" stroke="#fff" stroke-width="0.3" stroke-opacity="0.35"/>
<rect x="507.52" y="509.79" width="6.04" height="10.03" fill="#fee89c" stroke="#fff" stroke-width="0.3" stroke-opacity="0.35"/>
<rect x="513.56" y="509.79" width="6.04" height="10.03" fill="#feeea5" stroke="#fff" stroke-width="0.3" stroke-opacity="0.35"/>
<rect x="298" y="509.79" width="3.3" height="10.53" fill="#95d5c5"/>
<text x="521.5" y="516.7" font-size="5.35" fill="#222">Alanine</text>
<rect x="302.20" y="519.82" width="6.04" height="10.03" fill="#eff9dc" stroke="#fff" stroke-width="0.3" stroke-opacity="0.35"/>
<rect x="308.24" y="519.82" width="6.04" height="10.03" fill="#e6f6ec" stroke="#fff" stroke-width="0.3" stroke-opacity="0.35"/>
<rect x="314.28" y="519.82" width="6.04" height="10.03" fill="#fffdbb" stroke="#fff" stroke-width="0.3" stroke-opacity="0.35"/>
<rect x="320.32" y="519.82" width="6.04" height="10.03" fill="#eff9dc" stroke="#fff" stroke-width="0.3" stroke-opacity="0.35"/>
<rect x="326.36" y="519.82" width="6.04" height="10.03" fill="#f9fdc9" stroke="#fff" stroke-width="0.3" stroke-opacity="0.35"/>
<rect x="332.39" y="519.82" width="6.04" height="10.03" fill="#f9fdc9" stroke="#fff" stroke-width="0.3" stroke-opacity="0.35"/>
<rect x="338.43" y="519.82" width="6.04" height="10.03" fill="#f3fbd4" stroke="#fff" stroke-width="0.3" stroke-opacity="0.35"/>
<rect x="344.47" y="519.82" width="6.04" height="10.03" fill="#b3d5e7" stroke="#fff" stroke-width="0.3" stroke-opacity="0.35"/>
<rect x="350.51" y="519.82" width="6.04" height="10.03" fill="#e6f6ec" stroke="#fff" stroke-width="0.3" stroke-opacity="0.35"/>
<rect x="356.55" y="519.82" width="6.04" height="10.03" fill="#e85a3d" stroke="#fff" stroke-width="0.3" stroke-opacity="0.35"/>
<rect x="362.59" y="519.82" width="6.04" height="10.03" fill="#f88454" stroke="#fff" stroke-width="0.3" stroke-opacity="0.35"/>
<rect x="368.63" y="519.82" width="6.04" height="10.03" fill="#fdaa6c" stroke="#fff" stroke-width="0.3" stroke-opacity="0.35"/>
<rect x="374.67" y="519.82" width="6.04" height="10.03" fill="#ed6845" stroke="#fff" stroke-width="0.3" stroke-opacity="0.35"/>
<rect x="380.71" y="519.82" width="6.04" height="10.03" fill="#fecf85" stroke="#fff" stroke-width="0.3" stroke-opacity="0.35"/>
<rect x="386.74" y="519.82" width="6.04" height="10.03" fill="#fff3ad" stroke="#fff" stroke-width="0.3" stroke-opacity="0.35"/>
<rect x="392.78" y="519.82" width="6.04" height="10.03" fill="#feeea5" stroke="#fff" stroke-width="0.3" stroke-opacity="0.35"/>
<rect x="398.82" y="519.82" width="6.04" height="10.03" fill="#fee89c" stroke="#fff" stroke-width="0.3" stroke-opacity="0.35"/>
<rect x="404.86" y="519.82" width="6.04" height="10.03" fill="#f9fdc9" stroke="#fff" stroke-width="0.3" stroke-opacity="0.35"/>
<rect x="410.90" y="519.82" width="6.04" height="10.03" fill="#f3fbd4" stroke="#fff" stroke-width="0.3" stroke-opacity="0.35"/>
<rect x="416.94" y="519.82" width="6.04" height="10.03" fill="#f3fbd4" stroke="#fff" stroke-width="0.3" stroke-opacity="0.35"/>
<rect x="422.98" y="519.82" width="6.04" height="10.03" fill="#f3fbd4" stroke="#fff" stroke-width="0.3" stroke-opacity="0.35"/>
<rect x="429.02" y="519.82" width="6.04" height="10.03" fill="#eff9dc" stroke="#fff" stroke-width="0.3" stroke-opacity="0.35"/>
<rect x="435.06" y="519.82" width="6.04" height="10.03" fill="#ebf7e4" stroke="#fff" stroke-width="0.3" stroke-opacity="0.35"/>
<rect x="441.09" y="519.82" width="6.04" height="10.03" fill="#fffdbb" stroke="#fff" stroke-width="0.3" stroke-opacity="0.35"/>
<rect x="447.13" y="519.82" width="6.04" height="10.03" fill="#ebf7e4" stroke="#fff" stroke-width="0.3" stroke-opacity="0.35"/>
<rect x="453.17" y="519.82" width="6.04" height="10.03" fill="#f3fbd4" stroke="#fff" stroke-width="0.3" stroke-opacity="0.35"/>
<rect x="459.21" y="519.82" width="6.04" height="10.03" fill="#f3fbd4" stroke="#fff" stroke-width="0.3" stroke-opacity="0.35"/>
<rect x="465.25" y="519.82" width="6.04" height="10.03" fill="#fffdbb" stroke="#fff" stroke-width="0.3" stroke-opacity="0.35"/>
<rect x="471.29" y="519.82" width="6.04" height="10.03" fill="#feeea5" stroke="#fff" stroke-width="0.3" stroke-opacity="0.35"/>
<rect x="477.33" y="519.82" width="6.04" height="10.03" fill="#f9fdc9" stroke="#fff" stroke-width="0.3" stroke-opacity="0.35"/>
<rect x="483.37" y="519.82" width="6.04" height="10.03" fill="#fffdbb" stroke="#fff" stroke-width="0.3" stroke-opacity="0.35"/>
<rect x="489.41" y="519.82" width="6.04" height="10.03" fill="#fff3ad" stroke="#fff" stroke-width="0.3" stroke-opacity="0.35"/>
<rect x="495.44" y="519.82" width="6.04" height="10.03" fill="#fffdbb" stroke="#fff" stroke-width="0.3" stroke-opacity="0.35"/>
<rect x="501.48" y="519.82" width="6.04" height="10.03" fill="#fffdbb" stroke="#fff" stroke-width="0.3" stroke-opacity="0.35"/>
<rect x="507.52" y="519.82" width="6.04" height="10.03" fill="#fee89c" stroke="#fff" stroke-width="0.3" stroke-opacity="0.35"/>
<rect x="513.56" y="519.82" width="6.04" height="10.03" fill="#f3fbd4" stroke="#fff" stroke-width="0.3" stroke-opacity="0.35"/>
<rect x="298" y="519.82" width="3.3" height="10.53" fill="#95d5c5"/>
<text x="521.5" y="526.8" font-size="5.35" fill="#222">Aspartic acid</text>
<rect x="302.20" y="529.85" width="6.04" height="10.03" fill="#f9fdc9" stroke="#fff" stroke-width="0.3" stroke-opacity="0.35"/>
<rect x="308.24" y="529.85" width="6.04" height="10.03" fill="#eff9dc" stroke="#fff" stroke-width="0.3" stroke-opacity="0.35"/>
<rect x="314.28" y="529.85" width="6.04" height="10.03" fill="#fffdbb" stroke="#fff" stroke-width="0.3" stroke-opacity="0.35"/>
<rect x="320.32" y="529.85" width="6.04" height="10.03" fill="#f9fdc9" stroke="#fff" stroke-width="0.3" stroke-opacity="0.35"/>
<rect x="326.36" y="529.85" width="6.04" height="10.03" fill="#f3fbd4" stroke="#fff" stroke-width="0.3" stroke-opacity="0.35"/>
<rect x="332.39" y="529.85" width="6.04" height="10.03" fill="#f3fbd4" stroke="#fff" stroke-width="0.3" stroke-opacity="0.35"/>
<rect x="338.43" y="529.85" width="6.04" height="10.03" fill="#f9fdc9" stroke="#fff" stroke-width="0.3" stroke-opacity="0.35"/>
<rect x="344.47" y="529.85" width="6.04" height="10.03" fill="#c4e0ee" stroke="#fff" stroke-width="0.3" stroke-opacity="0.35"/>
<rect x="350.51" y="529.85" width="6.04" height="10.03" fill="#ebf7e4" stroke="#fff" stroke-width="0.3" stroke-opacity="0.35"/>
<rect x="356.55" y="529.85" width="6.04" height="10.03" fill="#fc915c" stroke="#fff" stroke-width="0.3" stroke-opacity="0.35"/>
<rect x="362.59" y="529.85" width="6.04" height="10.03" fill="#fc9e64" stroke="#fff" stroke-width="0.3" stroke-opacity="0.35"/>
<rect x="368.63" y="529.85" width="6.04" height="10.03" fill="#fdaa6c" stroke="#fff" stroke-width="0.3" stroke-opacity="0.35"/>
<rect x="374.67" y="529.85" width="6.04" height="10.03" fill="#e85a3d" stroke="#fff" stroke-width="0.3" stroke-opacity="0.35"/>
<rect x="380.71" y="529.85" width="6.04" height="10.03" fill="#fc9e64" stroke="#fff" stroke-width="0.3" stroke-opacity="0.35"/>
<rect x="386.74" y="529.85" width="6.04" height="10.03" fill="#fff3ad" stroke="#fff" stroke-width="0.3" stroke-opacity="0.35"/>
<rect x="392.78" y="529.85" width="6.04" height="10.03" fill="#feeea5" stroke="#fff" stroke-width="0.3" stroke-opacity="0.35"/>
<rect x="398.82" y="529.85" width="6.04" height="10.03" fill="#fee89c" stroke="#fff" stroke-width="0.3" stroke-opacity="0.35"/>
<rect x="404.86" y="529.85" width="6.04" height="10.03" fill="#fee395" stroke="#fff" stroke-width="0.3" stroke-opacity="0.35"/>
<rect x="410.90" y="529.85" width="6.04" height="10.03" fill="#c4e0ee" stroke="#fff" stroke-width="0.3" stroke-opacity="0.35"/>
<rect x="416.94" y="529.85" width="6.04" height="10.03" fill="#eff9dc" stroke="#fff" stroke-width="0.3" stroke-opacity="0.35"/>
<rect x="422.98" y="529.85" width="6.04" height="10.03" fill="#ebf7e4" stroke="#fff" stroke-width="0.3" stroke-opacity="0.35"/>
<rect x="429.02" y="529.85" width="6.04" height="10.03" fill="#ebf7e4" stroke="#fff" stroke-width="0.3" stroke-opacity="0.35"/>
<rect x="435.06" y="529.85" width="6.04" height="10.03" fill="#eff9dc" stroke="#fff" stroke-width="0.3" stroke-opacity="0.35"/>
<rect x="441.09" y="529.85" width="6.04" height="10.03" fill="#eff9dc" stroke="#fff" stroke-width="0.3" stroke-opacity="0.35"/>
<rect x="447.13" y="529.85" width="6.04" height="10.03" fill="#f3fbd4" stroke="#fff" stroke-width="0.3" stroke-opacity="0.35"/>
<rect x="453.17" y="529.85" width="6.04" height="10.03" fill="#f9fdc9" stroke="#fff" stroke-width="0.3" stroke-opacity="0.35"/>
<rect x="459.21" y="529.85" width="6.04" height="10.03" fill="#eff9dc" stroke="#fff" stroke-width="0.3" stroke-opacity="0.35"/>
<rect x="465.25" y="529.85" width="6.04" height="10.03" fill="#fff3ad" stroke="#fff" stroke-width="0.3" stroke-opacity="0.35"/>
<rect x="471.29" y="529.85" width="6.04" height="10.03" fill="#fee89c" stroke="#fff" stroke-width="0.3" stroke-opacity="0.35"/>
<rect x="477.33" y="529.85" width="6.04" height="10.03" fill="#feeea5" stroke="#fff" stroke-width="0.3" stroke-opacity="0.35"/>
<rect x="483.37" y="529.85" width="6.04" height="10.03" fill="#feeea5" stroke="#fff" stroke-width="0.3" stroke-opacity="0.35"/>
<rect x="489.41" y="529.85" width="6.04" height="10.03" fill="#f3fbd4" stroke="#fff" stroke-width="0.3" stroke-opacity="0.35"/>
<rect x="495.44" y="529.85" width="6.04" height="10.03" fill="#f3fbd4" stroke="#fff" stroke-width="0.3" stroke-opacity="0.35"/>
<rect x="501.48" y="529.85" width="6.04" height="10.03" fill="#f9fdc9" stroke="#fff" stroke-width="0.3" stroke-opacity="0.35"/>
<rect x="507.52" y="529.85" width="6.04" height="10.03" fill="#fff3ad" stroke="#fff" stroke-width="0.3" stroke-opacity="0.35"/>
<rect x="513.56" y="529.85" width="6.04" height="10.03" fill="#fff3ad" stroke="#fff" stroke-width="0.3" stroke-opacity="0.35"/>
<rect x="298" y="529.85" width="3.3" height="10.53" fill="#95d5c5"/>
<text x="521.5" y="536.8" font-size="5.35" fill="#222">N-Acetyl-L-glutamic acid</text>
<rect x="302.20" y="539.88" width="6.04" height="10.03" fill="#eff9dc" stroke="#fff" stroke-width="0.3" stroke-opacity="0.35"/>
<rect x="308.24" y="539.88" width="6.04" height="10.03" fill="#d5ebf4" stroke="#fff" stroke-width="0.3" stroke-opacity="0.35"/>
<rect x="314.28" y="539.88" width="6.04" height="10.03" fill="#e6f6ec" stroke="#fff" stroke-width="0.3" stroke-opacity="0.35"/>
<rect x="320.32" y="539.88" width="6.04" height="10.03" fill="#fffdbb" stroke="#fff" stroke-width="0.3" stroke-opacity="0.35"/>
<rect x="326.36" y="539.88" width="6.04" height="10.03" fill="#fffdbb" stroke="#fff" stroke-width="0.3" stroke-opacity="0.35"/>
<rect x="332.39" y="539.88" width="6.04" height="10.03" fill="#fffdbb" stroke="#fff" stroke-width="0.3" stroke-opacity="0.35"/>
<rect x="338.43" y="539.88" width="6.04" height="10.03" fill="#f9fdc9" stroke="#fff" stroke-width="0.3" stroke-opacity="0.35"/>
<rect x="344.47" y="539.88" width="6.04" height="10.03" fill="#f3fbd4" stroke="#fff" stroke-width="0.3" stroke-opacity="0.35"/>
<rect x="350.51" y="539.88" width="6.04" height="10.03" fill="#f9fdc9" stroke="#fff" stroke-width="0.3" stroke-opacity="0.35"/>
<rect x="356.55" y="539.88" width="6.04" height="10.03" fill="#ed6845" stroke="#fff" stroke-width="0.3" stroke-opacity="0.35"/>
<rect x="362.59" y="539.88" width="6.04" height="10.03" fill="#f88454" stroke="#fff" stroke-width="0.3" stroke-opacity="0.35"/>
<rect x="368.63" y="539.88" width="6.04" height="10.03" fill="#fecf85" stroke="#fff" stroke-width="0.3" stroke-opacity="0.35"/>
<rect x="374.67" y="539.88" width="6.04" height="10.03" fill="#f3764c" stroke="#fff" stroke-width="0.3" stroke-opacity="0.35"/>
<rect x="380.71" y="539.88" width="6.04" height="10.03" fill="#fee395" stroke="#fff" stroke-width="0.3" stroke-opacity="0.35"/>
<rect x="386.74" y="539.88" width="6.04" height="10.03" fill="#f9fdc9" stroke="#fff" stroke-width="0.3" stroke-opacity="0.35"/>
<rect x="392.78" y="539.88" width="6.04" height="10.03" fill="#f9fdc9" stroke="#fff" stroke-width="0.3" stroke-opacity="0.35"/>
<rect x="398.82" y="539.88" width="6.04" height="10.03" fill="#fff3ad" stroke="#fff" stroke-width="0.3" stroke-opacity="0.35"/>
<rect x="404.86" y="539.88" width="6.04" height="10.03" fill="#feeea5" stroke="#fff" stroke-width="0.3" stroke-opacity="0.35"/>
<rect x="410.90" y="539.88" width="6.04" height="10.03" fill="#ebf7e4" stroke="#fff" stroke-width="0.3" stroke-opacity="0.35"/>
<rect x="416.94" y="539.88" width="6.04" height="10.03" fill="#eff9dc" stroke="#fff" stroke-width="0.3" stroke-opacity="0.35"/>
<rect x="422.98" y="539.88" width="6.04" height="10.03" fill="#e6f6ec" stroke="#fff" stroke-width="0.3" stroke-opacity="0.35"/>
<rect x="429.02" y="539.88" width="6.04" height="10.03" fill="#e6f6ec" stroke="#fff" stroke-width="0.3" stroke-opacity="0.35"/>
<rect x="435.06" y="539.88" width="6.04" height="10.03" fill="#e2f4f4" stroke="#fff" stroke-width="0.3" stroke-opacity="0.35"/>
<rect x="441.09" y="539.88" width="6.04" height="10.03" fill="#eff9dc" stroke="#fff" stroke-width="0.3" stroke-opacity="0.35"/>
<rect x="447.13" y="539.88" width="6.04" height="10.03" fill="#ebf7e4" stroke="#fff" stroke-width="0.3" stroke-opacity="0.35"/>
<rect x="453.17" y="539.88" width="6.04" height="10.03" fill="#f3fbd4" stroke="#fff" stroke-width="0.3" stroke-opacity="0.35"/>
<rect x="459.21" y="539.88" width="6.04" height="10.03" fill="#eff9dc" stroke="#fff" stroke-width="0.3" stroke-opacity="0.35"/>
<rect x="465.25" y="539.88" width="6.04" height="10.03" fill="#feeea5" stroke="#fff" stroke-width="0.3" stroke-opacity="0.35"/>
<rect x="471.29" y="539.88" width="6.04" height="10.03" fill="#fee89c" stroke="#fff" stroke-width="0.3" stroke-opacity="0.35"/>
<rect x="477.33" y="539.88" width="6.04" height="10.03" fill="#fff3ad" stroke="#fff" stroke-width="0.3" stroke-opacity="0.35"/>
<rect x="483.37" y="539.88" width="6.04" height="10.03" fill="#feeea5" stroke="#fff" stroke-width="0.3" stroke-opacity="0.35"/>
<rect x="489.41" y="539.88" width="6.04" height="10.03" fill="#fff3ad" stroke="#fff" stroke-width="0.3" stroke-opacity="0.35"/>
<rect x="495.44" y="539.88" width="6.04" height="10.03" fill="#fff3ad" stroke="#fff" stroke-width="0.3" stroke-opacity="0.35"/>
<rect x="501.48" y="539.88" width="6.04" height="10.03" fill="#fff3ad" stroke="#fff" stroke-width="0.3" stroke-opacity="0.35"/>
<rect x="507.52" y="539.88" width="6.04" height="10.03" fill="#feeea5" stroke="#fff" stroke-width="0.3" stroke-opacity="0.35"/>
<rect x="513.56" y="539.88" width="6.04" height="10.03" fill="#fffdbb" stroke="#fff" stroke-width="0.3" stroke-opacity="0.35"/>
<rect x="298" y="539.88" width="3.3" height="10.53" fill="#95d5c5"/>
<text x="521.5" y="546.8" font-size="5.35" fill="#222">Glutamic acid</text>
<rect x="302.20" y="549.92" width="6.04" height="10.03" fill="#e6f6ec" stroke="#fff" stroke-width="0.3" stroke-opacity="0.35"/>
<rect x="308.24" y="549.92" width="6.04" height="10.03" fill="#b3d5e7" stroke="#fff" stroke-width="0.3" stroke-opacity="0.35"/>
<rect x="314.28" y="549.92" width="6.04" height="10.03" fill="#8fbdda" stroke="#fff" stroke-width="0.3" stroke-opacity="0.35"/>
<rect x="320.32" y="549.92" width="6.04" height="10.03" fill="#fffdbb" stroke="#fff" stroke-width="0.3" stroke-opacity="0.35"/>
<rect x="326.36" y="549.92" width="6.04" height="10.03" fill="#fffdbb" stroke="#fff" stroke-width="0.3" stroke-opacity="0.35"/>
<rect x="332.39" y="549.92" width="6.04" height="10.03" fill="#fffdbb" stroke="#fff" stroke-width="0.3" stroke-opacity="0.35"/>
<rect x="338.43" y="549.92" width="6.04" height="10.03" fill="#f9fdc9" stroke="#fff" stroke-width="0.3" stroke-opacity="0.35"/>
<rect x="344.47" y="549.92" width="6.04" height="10.03" fill="#feeea5" stroke="#fff" stroke-width="0.3" stroke-opacity="0.35"/>
<rect x="350.51" y="549.92" width="6.04" height="10.03" fill="#fee89c" stroke="#fff" stroke-width="0.3" stroke-opacity="0.35"/>
<rect x="356.55" y="549.92" width="6.04" height="10.03" fill="#fc9e64" stroke="#fff" stroke-width="0.3" stroke-opacity="0.35"/>
<rect x="362.59" y="549.92" width="6.04" height="10.03" fill="#fc9e64" stroke="#fff" stroke-width="0.3" stroke-opacity="0.35"/>
<rect x="368.63" y="549.92" width="6.04" height="10.03" fill="#fee395" stroke="#fff" stroke-width="0.3" stroke-opacity="0.35"/>
<rect x="374.67" y="549.92" width="6.04" height="10.03" fill="#fc915c" stroke="#fff" stroke-width="0.3" stroke-opacity="0.35"/>
<rect x="380.71" y="549.92" width="6.04" height="10.03" fill="#fee89c" stroke="#fff" stroke-width="0.3" stroke-opacity="0.35"/>
<rect x="386.74" y="549.92" width="6.04" height="10.03" fill="#fffdbb" stroke="#fff" stroke-width="0.3" stroke-opacity="0.35"/>
<rect x="392.78" y="549.92" width="6.04" height="10.03" fill="#fff3ad" stroke="#fff" stroke-width="0.3" stroke-opacity="0.35"/>
<rect x="398.82" y="549.92" width="6.04" height="10.03" fill="#f3fbd4" stroke="#fff" stroke-width="0.3" stroke-opacity="0.35"/>
<rect x="404.86" y="549.92" width="6.04" height="10.03" fill="#fdc37d" stroke="#fff" stroke-width="0.3" stroke-opacity="0.35"/>
<rect x="410.90" y="549.92" width="6.04" height="10.03" fill="#f3fbd4" stroke="#fff" stroke-width="0.3" stroke-opacity="0.35"/>
<rect x="416.94" y="549.92" width="6.04" height="10.03" fill="#f3fbd4" stroke="#fff" stroke-width="0.3" stroke-opacity="0.35"/>
<rect x="422.98" y="549.92" width="6.04" height="10.03" fill="#f9fdc9" stroke="#fff" stroke-width="0.3" stroke-opacity="0.35"/>
<rect x="429.02" y="549.92" width="6.04" height="10.03" fill="#f9fdc9" stroke="#fff" stroke-width="0.3" stroke-opacity="0.35"/>
<rect x="435.06" y="549.92" width="6.04" height="10.03" fill="#f9fdc9" stroke="#fff" stroke-width="0.3" stroke-opacity="0.35"/>
<rect x="441.09" y="549.92" width="6.04" height="10.03" fill="#ebf7e4" stroke="#fff" stroke-width="0.3" stroke-opacity="0.35"/>
<rect x="447.13" y="549.92" width="6.04" height="10.03" fill="#b3d5e7" stroke="#fff" stroke-width="0.3" stroke-opacity="0.35"/>
<rect x="453.17" y="549.92" width="6.04" height="10.03" fill="#e6f6ec" stroke="#fff" stroke-width="0.3" stroke-opacity="0.35"/>
<rect x="459.21" y="549.92" width="6.04" height="10.03" fill="#eff9dc" stroke="#fff" stroke-width="0.3" stroke-opacity="0.35"/>
<rect x="465.25" y="549.92" width="6.04" height="10.03" fill="#fff3ad" stroke="#fff" stroke-width="0.3" stroke-opacity="0.35"/>
<rect x="471.29" y="549.92" width="6.04" height="10.03" fill="#fff3ad" stroke="#fff" stroke-width="0.3" stroke-opacity="0.35"/>
<rect x="477.33" y="549.92" width="6.04" height="10.03" fill="#fff3ad" stroke="#fff" stroke-width="0.3" stroke-opacity="0.35"/>
<rect x="483.37" y="549.92" width="6.04" height="10.03" fill="#feeea5" stroke="#fff" stroke-width="0.3" stroke-opacity="0.35"/>
<rect x="489.41" y="549.92" width="6.04" height="10.03" fill="#fff3ad" stroke="#fff" stroke-width="0.3" stroke-opacity="0.35"/>
<rect x="495.44" y="549.92" width="6.04" height="10.03" fill="#f3fbd4" stroke="#fff" stroke-width="0.3" stroke-opacity="0.35"/>
<rect x="501.48" y="549.92" width="6.04" height="10.03" fill="#f9fdc9" stroke="#fff" stroke-width="0.3" stroke-opacity="0.35"/>
<rect x="507.52" y="549.92" width="6.04" height="10.03" fill="#fffdbb" stroke="#fff" stroke-width="0.3" stroke-opacity="0.35"/>
<rect x="513.56" y="549.92" width="6.04" height="10.03" fill="#f3fbd4" stroke="#fff" stroke-width="0.3" stroke-opacity="0.35"/>
<rect x="298" y="549.92" width="3.3" height="10.53" fill="#95d5c5"/>
<text x="521.5" y="556.9" font-size="5.35" fill="#222">Tryptophan</text>
<rect x="302.20" y="559.95" width="6.04" height="10.03" fill="#eff9dc" stroke="#fff" stroke-width="0.3" stroke-opacity="0.35"/>
<rect x="308.24" y="559.95" width="6.04" height="10.03" fill="#f3fbd4" stroke="#fff" stroke-width="0.3" stroke-opacity="0.35"/>
<rect x="314.28" y="559.95" width="6.04" height="10.03" fill="#d5ebf4" stroke="#fff" stroke-width="0.3" stroke-opacity="0.35"/>
<rect x="320.32" y="559.95" width="6.04" height="10.03" fill="#fff3ad" stroke="#fff" stroke-width="0.3" stroke-opacity="0.35"/>
<rect x="326.36" y="559.95" width="6.04" height="10.03" fill="#fffdbb" stroke="#fff" stroke-width="0.3" stroke-opacity="0.35"/>
<rect x="332.39" y="559.95" width="6.04" height="10.03" fill="#fffdbb" stroke="#fff" stroke-width="0.3" stroke-opacity="0.35"/>
<rect x="338.43" y="559.95" width="6.04" height="10.03" fill="#fff3ad" stroke="#fff" stroke-width="0.3" stroke-opacity="0.35"/>
<rect x="344.47" y="559.95" width="6.04" height="10.03" fill="#f3fbd4" stroke="#fff" stroke-width="0.3" stroke-opacity="0.35"/>
<rect x="350.51" y="559.95" width="6.04" height="10.03" fill="#fffdbb" stroke="#fff" stroke-width="0.3" stroke-opacity="0.35"/>
<rect x="356.55" y="559.95" width="6.04" height="10.03" fill="#fee395" stroke="#fff" stroke-width="0.3" stroke-opacity="0.35"/>
<rect x="362.59" y="559.95" width="6.04" height="10.03" fill="#fee395" stroke="#fff" stroke-width="0.3" stroke-opacity="0.35"/>
<rect x="368.63" y="559.95" width="6.04" height="10.03" fill="#fee395" stroke="#fff" stroke-width="0.3" stroke-opacity="0.35"/>
<rect x="374.67" y="559.95" width="6.04" height="10.03" fill="#fdb674" stroke="#fff" stroke-width="0.3" stroke-opacity="0.35"/>
<rect x="380.71" y="559.95" width="6.04" height="10.03" fill="#fee395" stroke="#fff" stroke-width="0.3" stroke-opacity="0.35"/>
<rect x="386.74" y="559.95" width="6.04" height="10.03" fill="#f3fbd4" stroke="#fff" stroke-width="0.3" stroke-opacity="0.35"/>
<rect x="392.78" y="559.95" width="6.04" height="10.03" fill="#f3fbd4" stroke="#fff" stroke-width="0.3" stroke-opacity="0.35"/>
<rect x="398.82" y="559.95" width="6.04" height="10.03" fill="#c4e0ee" stroke="#fff" stroke-width="0.3" stroke-opacity="0.35"/>
<rect x="404.86" y="559.95" width="6.04" height="10.03" fill="#fee89c" stroke="#fff" stroke-width="0.3" stroke-opacity="0.35"/>
<rect x="410.90" y="559.95" width="6.04" height="10.03" fill="#f9fdc9" stroke="#fff" stroke-width="0.3" stroke-opacity="0.35"/>
<rect x="416.94" y="559.95" width="6.04" height="10.03" fill="#8fbdda" stroke="#fff" stroke-width="0.3" stroke-opacity="0.35"/>
<rect x="422.98" y="559.95" width="6.04" height="10.03" fill="#e6f6ec" stroke="#fff" stroke-width="0.3" stroke-opacity="0.35"/>
<rect x="429.02" y="559.95" width="6.04" height="10.03" fill="#eff9dc" stroke="#fff" stroke-width="0.3" stroke-opacity="0.35"/>
<rect x="435.06" y="559.95" width="6.04" height="10.03" fill="#a1c9e1" stroke="#fff" stroke-width="0.3" stroke-opacity="0.35"/>
<rect x="441.09" y="559.95" width="6.04" height="10.03" fill="#f9fdc9" stroke="#fff" stroke-width="0.3" stroke-opacity="0.35"/>
<rect x="447.13" y="559.95" width="6.04" height="10.03" fill="#f3fbd4" stroke="#fff" stroke-width="0.3" stroke-opacity="0.35"/>
<rect x="453.17" y="559.95" width="6.04" height="10.03" fill="#f9fdc9" stroke="#fff" stroke-width="0.3" stroke-opacity="0.35"/>
<rect x="459.21" y="559.95" width="6.04" height="10.03" fill="#e6f6ec" stroke="#fff" stroke-width="0.3" stroke-opacity="0.35"/>
<rect x="465.25" y="559.95" width="6.04" height="10.03" fill="#fee89c" stroke="#fff" stroke-width="0.3" stroke-opacity="0.35"/>
<rect x="471.29" y="559.95" width="6.04" height="10.03" fill="#fee89c" stroke="#fff" stroke-width="0.3" stroke-opacity="0.35"/>
<rect x="477.33" y="559.95" width="6.04" height="10.03" fill="#fee89c" stroke="#fff" stroke-width="0.3" stroke-opacity="0.35"/>
<rect x="483.37" y="559.95" width="6.04" height="10.03" fill="#feeea5" stroke="#fff" stroke-width="0.3" stroke-opacity="0.35"/>
<rect x="489.41" y="559.95" width="6.04" height="10.03" fill="#feeea5" stroke="#fff" stroke-width="0.3" stroke-opacity="0.35"/>
<rect x="495.44" y="559.95" width="6.04" height="10.03" fill="#fee89c" stroke="#fff" stroke-width="0.3" stroke-opacity="0.35"/>
<rect x="501.48" y="559.95" width="6.04" height="10.03" fill="#fee89c" stroke="#fff" stroke-width="0.3" stroke-opacity="0.35"/>
<rect x="507.52" y="559.95" width="6.04" height="10.03" fill="#fee395" stroke="#fff" stroke-width="0.3" stroke-opacity="0.35"/>
<rect x="513.56" y="559.95" width="6.04" height="10.03" fill="#fee89c" stroke="#fff" stroke-width="0.3" stroke-opacity="0.35"/>
<rect x="298" y="559.95" width="3.3" height="10.53" fill="#d4d2ec"/>
<text x="521.5" y="566.9" font-size="5.35" fill="#222">Riboflavin</text>
<rect x="302.20" y="569.98" width="6.04" height="10.03" fill="#eff9dc" stroke="#fff" stroke-width="0.3" stroke-opacity="0.35"/>
<rect x="308.24" y="569.98" width="6.04" height="10.03" fill="#e6f6ec" stroke="#fff" stroke-width="0.3" stroke-opacity="0.35"/>
<rect x="314.28" y="569.98" width="6.04" height="10.03" fill="#f3fbd4" stroke="#fff" stroke-width="0.3" stroke-opacity="0.35"/>
<rect x="320.32" y="569.98" width="6.04" height="10.03" fill="#fff3ad" stroke="#fff" stroke-width="0.3" stroke-opacity="0.35"/>
<rect x="326.36" y="569.98" width="6.04" height="10.03" fill="#fff3ad" stroke="#fff" stroke-width="0.3" stroke-opacity="0.35"/>
<rect x="332.39" y="569.98" width="6.04" height="10.03" fill="#fff3ad" stroke="#fff" stroke-width="0.3" stroke-opacity="0.35"/>
<rect x="338.43" y="569.98" width="6.04" height="10.03" fill="#fffdbb" stroke="#fff" stroke-width="0.3" stroke-opacity="0.35"/>
<rect x="344.47" y="569.98" width="6.04" height="10.03" fill="#fff3ad" stroke="#fff" stroke-width="0.3" stroke-opacity="0.35"/>
<rect x="350.51" y="569.98" width="6.04" height="10.03" fill="#fff3ad" stroke="#fff" stroke-width="0.3" stroke-opacity="0.35"/>
<rect x="356.55" y="569.98" width="6.04" height="10.03" fill="#fee395" stroke="#fff" stroke-width="0.3" stroke-opacity="0.35"/>
<rect x="362.59" y="569.98" width="6.04" height="10.03" fill="#fee395" stroke="#fff" stroke-width="0.3" stroke-opacity="0.35"/>
<rect x="368.63" y="569.98" width="6.04" height="10.03" fill="#fee395" stroke="#fff" stroke-width="0.3" stroke-opacity="0.35"/>
<rect x="374.67" y="569.98" width="6.04" height="10.03" fill="#fecf85" stroke="#fff" stroke-width="0.3" stroke-opacity="0.35"/>
<rect x="380.71" y="569.98" width="6.04" height="10.03" fill="#fee395" stroke="#fff" stroke-width="0.3" stroke-opacity="0.35"/>
<rect x="386.74" y="569.98" width="6.04" height="10.03" fill="#f9fdc9" stroke="#fff" stroke-width="0.3" stroke-opacity="0.35"/>
<rect x="392.78" y="569.98" width="6.04" height="10.03" fill="#f9fdc9" stroke="#fff" stroke-width="0.3" stroke-opacity="0.35"/>
<rect x="398.82" y="569.98" width="6.04" height="10.03" fill="#fffdbb" stroke="#fff" stroke-width="0.3" stroke-opacity="0.35"/>
<rect x="404.86" y="569.98" width="6.04" height="10.03" fill="#fff3ad" stroke="#fff" stroke-width="0.3" stroke-opacity="0.35"/>
<rect x="410.90" y="569.98" width="6.04" height="10.03" fill="#ebf7e4" stroke="#fff" stroke-width="0.3" stroke-opacity="0.35"/>
<rect x="416.94" y="569.98" width="6.04" height="10.03" fill="#eff9dc" stroke="#fff" stroke-width="0.3" stroke-opacity="0.35"/>
<rect x="422.98" y="569.98" width="6.04" height="10.03" fill="#e6f6ec" stroke="#fff" stroke-width="0.3" stroke-opacity="0.35"/>
<rect x="429.02" y="569.98" width="6.04" height="10.03" fill="#eff9dc" stroke="#fff" stroke-width="0.3" stroke-opacity="0.35"/>
<rect x="435.06" y="569.98" width="6.04" height="10.03" fill="#ebf7e4" stroke="#fff" stroke-width="0.3" stroke-opacity="0.35"/>
<rect x="441.09" y="569.98" width="6.04" height="10.03" fill="#ebf7e4" stroke="#fff" stroke-width="0.3" stroke-opacity="0.35"/>
<rect x="447.13" y="569.98" width="6.04" height="10.03" fill="#5686bd" stroke="#fff" stroke-width="0.3" stroke-opacity="0.35"/>
<rect x="453.17" y="569.98" width="6.04" height="10.03" fill="#ebf7e4" stroke="#fff" stroke-width="0.3" stroke-opacity="0.35"/>
<rect x="459.21" y="569.98" width="6.04" height="10.03" fill="#e2f4f4" stroke="#fff" stroke-width="0.3" stroke-opacity="0.35"/>
<rect x="465.25" y="569.98" width="6.04" height="10.03" fill="#fee89c" stroke="#fff" stroke-width="0.3" stroke-opacity="0.35"/>
<rect x="471.29" y="569.98" width="6.04" height="10.03" fill="#fee89c" stroke="#fff" stroke-width="0.3" stroke-opacity="0.35"/>
<rect x="477.33" y="569.98" width="6.04" height="10.03" fill="#feeea5" stroke="#fff" stroke-width="0.3" stroke-opacity="0.35"/>
<rect x="483.37" y="569.98" width="6.04" height="10.03" fill="#feeea5" stroke="#fff" stroke-width="0.3" stroke-opacity="0.35"/>
<rect x="489.41" y="569.98" width="6.04" height="10.03" fill="#feeea5" stroke="#fff" stroke-width="0.3" stroke-opacity="0.35"/>
<rect x="495.44" y="569.98" width="6.04" height="10.03" fill="#fee89c" stroke="#fff" stroke-width="0.3" stroke-opacity="0.35"/>
<rect x="501.48" y="569.98" width="6.04" height="10.03" fill="#fecf85" stroke="#fff" stroke-width="0.3" stroke-opacity="0.35"/>
<rect x="507.52" y="569.98" width="6.04" height="10.03" fill="#fee89c" stroke="#fff" stroke-width="0.3" stroke-opacity="0.35"/>
<rect x="513.56" y="569.98" width="6.04" height="10.03" fill="#fee89c" stroke="#fff" stroke-width="0.3" stroke-opacity="0.35"/>
<rect x="298" y="569.98" width="3.3" height="10.53" fill="#ef5289"/>
<text x="521.5" y="576.9" font-size="5.35" fill="#222">Guanosine</text>
<rect x="302.20" y="580.01" width="6.04" height="10.03" fill="#ebf7e4" stroke="#fff" stroke-width="0.3" stroke-opacity="0.35"/>
<rect x="308.24" y="580.01" width="6.04" height="10.03" fill="#e6f6ec" stroke="#fff" stroke-width="0.3" stroke-opacity="0.35"/>
<rect x="314.28" y="580.01" width="6.04" height="10.03" fill="#f3fbd4" stroke="#fff" stroke-width="0.3" stroke-opacity="0.35"/>
<rect x="320.32" y="580.01" width="6.04" height="10.03" fill="#fffdbb" stroke="#fff" stroke-width="0.3" stroke-opacity="0.35"/>
<rect x="326.36" y="580.01" width="6.04" height="10.03" fill="#fffdbb" stroke="#fff" stroke-width="0.3" stroke-opacity="0.35"/>
<rect x="332.39" y="580.01" width="6.04" height="10.03" fill="#fffdbb" stroke="#fff" stroke-width="0.3" stroke-opacity="0.35"/>
<rect x="338.43" y="580.01" width="6.04" height="10.03" fill="#f3fbd4" stroke="#fff" stroke-width="0.3" stroke-opacity="0.35"/>
<rect x="344.47" y="580.01" width="6.04" height="10.03" fill="#eff9dc" stroke="#fff" stroke-width="0.3" stroke-opacity="0.35"/>
<rect x="350.51" y="580.01" width="6.04" height="10.03" fill="#f3fbd4" stroke="#fff" stroke-width="0.3" stroke-opacity="0.35"/>
<rect x="356.55" y="580.01" width="6.04" height="10.03" fill="#fedc8d" stroke="#fff" stroke-width="0.3" stroke-opacity="0.35"/>
<rect x="362.59" y="580.01" width="6.04" height="10.03" fill="#fedc8d" stroke="#fff" stroke-width="0.3" stroke-opacity="0.35"/>
<rect x="368.63" y="580.01" width="6.04" height="10.03" fill="#fecf85" stroke="#fff" stroke-width="0.3" stroke-opacity="0.35"/>
<rect x="374.67" y="580.01" width="6.04" height="10.03" fill="#f3764c" stroke="#fff" stroke-width="0.3" stroke-opacity="0.35"/>
<rect x="380.71" y="580.01" width="6.04" height="10.03" fill="#fecf85" stroke="#fff" stroke-width="0.3" stroke-opacity="0.35"/>
<rect x="386.74" y="580.01" width="6.04" height="10.03" fill="#eff9dc" stroke="#fff" stroke-width="0.3" stroke-opacity="0.35"/>
<rect x="392.78" y="580.01" width="6.04" height="10.03" fill="#f3fbd4" stroke="#fff" stroke-width="0.3" stroke-opacity="0.35"/>
<rect x="398.82" y="580.01" width="6.04" height="10.03" fill="#fee89c" stroke="#fff" stroke-width="0.3" stroke-opacity="0.35"/>
<rect x="404.86" y="580.01" width="6.04" height="10.03" fill="#fff3ad" stroke="#fff" stroke-width="0.3" stroke-opacity="0.35"/>
<rect x="410.90" y="580.01" width="6.04" height="10.03" fill="#e6f6ec" stroke="#fff" stroke-width="0.3" stroke-opacity="0.35"/>
<rect x="416.94" y="580.01" width="6.04" height="10.03" fill="#eff9dc" stroke="#fff" stroke-width="0.3" stroke-opacity="0.35"/>
<rect x="422.98" y="580.01" width="6.04" height="10.03" fill="#e6f6ec" stroke="#fff" stroke-width="0.3" stroke-opacity="0.35"/>
<rect x="429.02" y="580.01" width="6.04" height="10.03" fill="#f3fbd4" stroke="#fff" stroke-width="0.3" stroke-opacity="0.35"/>
<rect x="435.06" y="580.01" width="6.04" height="10.03" fill="#ebf7e4" stroke="#fff" stroke-width="0.3" stroke-opacity="0.35"/>
<rect x="441.09" y="580.01" width="6.04" height="10.03" fill="#e2f4f4" stroke="#fff" stroke-width="0.3" stroke-opacity="0.35"/>
<rect x="447.13" y="580.01" width="6.04" height="10.03" fill="#e2f4f4" stroke="#fff" stroke-width="0.3" stroke-opacity="0.35"/>
<rect x="453.17" y="580.01" width="6.04" height="10.03" fill="#ebf7e4" stroke="#fff" stroke-width="0.3" stroke-opacity="0.35"/>
<rect x="459.21" y="580.01" width="6.04" height="10.03" fill="#e6f6ec" stroke="#fff" stroke-width="0.3" stroke-opacity="0.35"/>
<rect x="465.25" y="580.01" width="6.04" height="10.03" fill="#fff3ad" stroke="#fff" stroke-width="0.3" stroke-opacity="0.35"/>
<rect x="471.29" y="580.01" width="6.04" height="10.03" fill="#feeea5" stroke="#fff" stroke-width="0.3" stroke-opacity="0.35"/>
<rect x="477.33" y="580.01" width="6.04" height="10.03" fill="#feeea5" stroke="#fff" stroke-width="0.3" stroke-opacity="0.35"/>
<rect x="483.37" y="580.01" width="6.04" height="10.03" fill="#feeea5" stroke="#fff" stroke-width="0.3" stroke-opacity="0.35"/>
<rect x="489.41" y="580.01" width="6.04" height="10.03" fill="#feeea5" stroke="#fff" stroke-width="0.3" stroke-opacity="0.35"/>
<rect x="495.44" y="580.01" width="6.04" height="10.03" fill="#fee89c" stroke="#fff" stroke-width="0.3" stroke-opacity="0.35"/>
<rect x="501.48" y="580.01" width="6.04" height="10.03" fill="#fee89c" stroke="#fff" stroke-width="0.3" stroke-opacity="0.35"/>
<rect x="507.52" y="580.01" width="6.04" height="10.03" fill="#fee89c" stroke="#fff" stroke-width="0.3" stroke-opacity="0.35"/>
<rect x="513.56" y="580.01" width="6.04" height="10.03" fill="#feeea5" stroke="#fff" stroke-width="0.3" stroke-opacity="0.35"/>
<rect x="298" y="580.01" width="3.3" height="10.53" fill="#95d5c5"/>
<text x="521.5" y="587.0" font-size="5.35" fill="#222">Phenylalanine</text>
<rect x="302.20" y="590.04" width="6.04" height="10.03" fill="#e6f6ec" stroke="#fff" stroke-width="0.3" stroke-opacity="0.35"/>
<rect x="308.24" y="590.04" width="6.04" height="10.03" fill="#e6f6ec" stroke="#fff" stroke-width="0.3" stroke-opacity="0.35"/>
<rect x="314.28" y="590.04" width="6.04" height="10.03" fill="#fffdbb" stroke="#fff" stroke-width="0.3" stroke-opacity="0.35"/>
<rect x="320.32" y="590.04" width="6.04" height="10.03" fill="#f9fdc9" stroke="#fff" stroke-width="0.3" stroke-opacity="0.35"/>
<rect x="326.36" y="590.04" width="6.04" height="10.03" fill="#f9fdc9" stroke="#fff" stroke-width="0.3" stroke-opacity="0.35"/>
<rect x="332.39" y="590.04" width="6.04" height="10.03" fill="#fffdbb" stroke="#fff" stroke-width="0.3" stroke-opacity="0.35"/>
<rect x="338.43" y="590.04" width="6.04" height="10.03" fill="#fff3ad" stroke="#fff" stroke-width="0.3" stroke-opacity="0.35"/>
<rect x="344.47" y="590.04" width="6.04" height="10.03" fill="#feeea5" stroke="#fff" stroke-width="0.3" stroke-opacity="0.35"/>
<rect x="350.51" y="590.04" width="6.04" height="10.03" fill="#feeea5" stroke="#fff" stroke-width="0.3" stroke-opacity="0.35"/>
<rect x="356.55" y="590.04" width="6.04" height="10.03" fill="#fee395" stroke="#fff" stroke-width="0.3" stroke-opacity="0.35"/>
<rect x="362.59" y="590.04" width="6.04" height="10.03" fill="#fee395" stroke="#fff" stroke-width="0.3" stroke-opacity="0.35"/>
<rect x="368.63" y="590.04" width="6.04" height="10.03" fill="#fee89c" stroke="#fff" stroke-width="0.3" stroke-opacity="0.35"/>
<rect x="374.67" y="590.04" width="6.04" height="10.03" fill="#fdc37d" stroke="#fff" stroke-width="0.3" stroke-opacity="0.35"/>
<rect x="380.71" y="590.04" width="6.04" height="10.03" fill="#fee395" stroke="#fff" stroke-width="0.3" stroke-opacity="0.35"/>
<rect x="386.74" y="590.04" width="6.04" height="10.03" fill="#eff9dc" stroke="#fff" stroke-width="0.3" stroke-opacity="0.35"/>
<rect x="392.78" y="590.04" width="6.04" height="10.03" fill="#eff9dc" stroke="#fff" stroke-width="0.3" stroke-opacity="0.35"/>
<rect x="398.82" y="590.04" width="6.04" height="10.03" fill="#fffdbb" stroke="#fff" stroke-width="0.3" stroke-opacity="0.35"/>
<rect x="404.86" y="590.04" width="6.04" height="10.03" fill="#fedc8d" stroke="#fff" stroke-width="0.3" stroke-opacity="0.35"/>
<rect x="410.90" y="590.04" width="6.04" height="10.03" fill="#ebf7e4" stroke="#fff" stroke-width="0.3" stroke-opacity="0.35"/>
<rect x="416.94" y="590.04" width="6.04" height="10.03" fill="#ebf7e4" stroke="#fff" stroke-width="0.3" stroke-opacity="0.35"/>
<rect x="422.98" y="590.04" width="6.04" height="10.03" fill="#7eacd1" stroke="#fff" stroke-width="0.3" stroke-opacity="0.35"/>
<rect x="429.02" y="590.04" width="6.04" height="10.03" fill="#ebf7e4" stroke="#fff" stroke-width="0.3" stroke-opacity="0.35"/>
<rect x="435.06" y="590.04" width="6.04" height="10.03" fill="#e6f6ec" stroke="#fff" stroke-width="0.3" stroke-opacity="0.35"/>
<rect x="441.09" y="590.04" width="6.04" height="10.03" fill="#e6f6ec" stroke="#fff" stroke-width="0.3" stroke-opacity="0.35"/>
<rect x="447.13" y="590.04" width="6.04" height="10.03" fill="#e2f4f4" stroke="#fff" stroke-width="0.3" stroke-opacity="0.35"/>
<rect x="453.17" y="590.04" width="6.04" height="10.03" fill="#eff9dc" stroke="#fff" stroke-width="0.3" stroke-opacity="0.35"/>
<rect x="459.21" y="590.04" width="6.04" height="10.03" fill="#e6f6ec" stroke="#fff" stroke-width="0.3" stroke-opacity="0.35"/>
<rect x="465.25" y="590.04" width="6.04" height="10.03" fill="#fff3ad" stroke="#fff" stroke-width="0.3" stroke-opacity="0.35"/>
<rect x="471.29" y="590.04" width="6.04" height="10.03" fill="#feeea5" stroke="#fff" stroke-width="0.3" stroke-opacity="0.35"/>
<rect x="477.33" y="590.04" width="6.04" height="10.03" fill="#feeea5" stroke="#fff" stroke-width="0.3" stroke-opacity="0.35"/>
<rect x="483.37" y="590.04" width="6.04" height="10.03" fill="#feeea5" stroke="#fff" stroke-width="0.3" stroke-opacity="0.35"/>
<rect x="489.41" y="590.04" width="6.04" height="10.03" fill="#feeea5" stroke="#fff" stroke-width="0.3" stroke-opacity="0.35"/>
<rect x="495.44" y="590.04" width="6.04" height="10.03" fill="#feeea5" stroke="#fff" stroke-width="0.3" stroke-opacity="0.35"/>
<rect x="501.48" y="590.04" width="6.04" height="10.03" fill="#fee395" stroke="#fff" stroke-width="0.3" stroke-opacity="0.35"/>
<rect x="507.52" y="590.04" width="6.04" height="10.03" fill="#fecf85" stroke="#fff" stroke-width="0.3" stroke-opacity="0.35"/>
<rect x="513.56" y="590.04" width="6.04" height="10.03" fill="#fee89c" stroke="#fff" stroke-width="0.3" stroke-opacity="0.35"/>
<rect x="298" y="590.04" width="3.3" height="10.53" fill="#ef5289"/>
<text x="521.5" y="597.0" font-size="5.35" fill="#222">Xanthosine</text>
<rect x="302.20" y="600.07" width="6.04" height="10.03" fill="#fffdbb" stroke="#fff" stroke-width="0.3" stroke-opacity="0.35"/>
<rect x="308.24" y="600.07" width="6.04" height="10.03" fill="#f3fbd4" stroke="#fff" stroke-width="0.3" stroke-opacity="0.35"/>
<rect x="314.28" y="600.07" width="6.04" height="10.03" fill="#4575b4" stroke="#fff" stroke-width="0.3" stroke-opacity="0.35"/>
<rect x="320.32" y="600.07" width="6.04" height="10.03" fill="#fff3ad" stroke="#fff" stroke-width="0.3" stroke-opacity="0.35"/>
<rect x="326.36" y="600.07" width="6.04" height="10.03" fill="#fffdbb" stroke="#fff" stroke-width="0.3" stroke-opacity="0.35"/>
<rect x="332.39" y="600.07" width="6.04" height="10.03" fill="#f3fbd4" stroke="#fff" stroke-width="0.3" stroke-opacity="0.35"/>
<rect x="338.43" y="600.07" width="6.04" height="10.03" fill="#fffdbb" stroke="#fff" stroke-width="0.3" stroke-opacity="0.35"/>
<rect x="344.47" y="600.07" width="6.04" height="10.03" fill="#fffdbb" stroke="#fff" stroke-width="0.3" stroke-opacity="0.35"/>
<rect x="350.51" y="600.07" width="6.04" height="10.03" fill="#f3fbd4" stroke="#fff" stroke-width="0.3" stroke-opacity="0.35"/>
<rect x="356.55" y="600.07" width="6.04" height="10.03" fill="#fee89c" stroke="#fff" stroke-width="0.3" stroke-opacity="0.35"/>
<rect x="362.59" y="600.07" width="6.04" height="10.03" fill="#fffdbb" stroke="#fff" stroke-width="0.3" stroke-opacity="0.35"/>
<rect x="368.63" y="600.07" width="6.04" height="10.03" fill="#f9fdc9" stroke="#fff" stroke-width="0.3" stroke-opacity="0.35"/>
<rect x="374.67" y="600.07" width="6.04" height="10.03" fill="#f9fdc9" stroke="#fff" stroke-width="0.3" stroke-opacity="0.35"/>
<rect x="380.71" y="600.07" width="6.04" height="10.03" fill="#4575b4" stroke="#fff" stroke-width="0.3" stroke-opacity="0.35"/>
<rect x="386.74" y="600.07" width="6.04" height="10.03" fill="#fff3ad" stroke="#fff" stroke-width="0.3" stroke-opacity="0.35"/>
<rect x="392.78" y="600.07" width="6.04" height="10.03" fill="#fff3ad" stroke="#fff" stroke-width="0.3" stroke-opacity="0.35"/>
<rect x="398.82" y="600.07" width="6.04" height="10.03" fill="#fedc8d" stroke="#fff" stroke-width="0.3" stroke-opacity="0.35"/>
<rect x="404.86" y="600.07" width="6.04" height="10.03" fill="#fff3ad" stroke="#fff" stroke-width="0.3" stroke-opacity="0.35"/>
<rect x="410.90" y="600.07" width="6.04" height="10.03" fill="#f9fdc9" stroke="#fff" stroke-width="0.3" stroke-opacity="0.35"/>
<rect x="416.94" y="600.07" width="6.04" height="10.03" fill="#f9fdc9" stroke="#fff" stroke-width="0.3" stroke-opacity="0.35"/>
<rect x="422.98" y="600.07" width="6.04" height="10.03" fill="#eff9dc" stroke="#fff" stroke-width="0.3" stroke-opacity="0.35"/>
<rect x="429.02" y="600.07" width="6.04" height="10.03" fill="#fffdbb" stroke="#fff" stroke-width="0.3" stroke-opacity="0.35"/>
<rect x="435.06" y="600.07" width="6.04" height="10.03" fill="#f3fbd4" stroke="#fff" stroke-width="0.3" stroke-opacity="0.35"/>
<rect x="441.09" y="600.07" width="6.04" height="10.03" fill="#f9fdc9" stroke="#fff" stroke-width="0.3" stroke-opacity="0.35"/>
<rect x="447.13" y="600.07" width="6.04" height="10.03" fill="#fffdbb" stroke="#fff" stroke-width="0.3" stroke-opacity="0.35"/>
<rect x="453.17" y="600.07" width="6.04" height="10.03" fill="#feeea5" stroke="#fff" stroke-width="0.3" stroke-opacity="0.35"/>
<rect x="459.21" y="600.07" width="6.04" height="10.03" fill="#f3fbd4" stroke="#fff" stroke-width="0.3" stroke-opacity="0.35"/>
<rect x="465.25" y="600.07" width="6.04" height="10.03" fill="#fee89c" stroke="#fff" stroke-width="0.3" stroke-opacity="0.35"/>
<rect x="471.29" y="600.07" width="6.04" height="10.03" fill="#feeea5" stroke="#fff" stroke-width="0.3" stroke-opacity="0.35"/>
<rect x="477.33" y="600.07" width="6.04" height="10.03" fill="#fee89c" stroke="#fff" stroke-width="0.3" stroke-opacity="0.35"/>
<rect x="483.37" y="600.07" width="6.04" height="10.03" fill="#fee89c" stroke="#fff" stroke-width="0.3" stroke-opacity="0.35"/>
<rect x="489.41" y="600.07" width="6.04" height="10.03" fill="#fff3ad" stroke="#fff" stroke-width="0.3" stroke-opacity="0.35"/>
<rect x="495.44" y="600.07" width="6.04" height="10.03" fill="#eff9dc" stroke="#fff" stroke-width="0.3" stroke-opacity="0.35"/>
<rect x="501.48" y="600.07" width="6.04" height="10.03" fill="#fedc8d" stroke="#fff" stroke-width="0.3" stroke-opacity="0.35"/>
<rect x="507.52" y="600.07" width="6.04" height="10.03" fill="#fff3ad" stroke="#fff" stroke-width="0.3" stroke-opacity="0.35"/>
<rect x="513.56" y="600.07" width="6.04" height="10.03" fill="#feeea5" stroke="#fff" stroke-width="0.3" stroke-opacity="0.35"/>
<rect x="298" y="600.07" width="3.3" height="10.53" fill="#95d5c5"/>
<text x="521.5" y="607.0" font-size="5.35" fill="#222">Oxidized glutathione</text>
<rect x="302.20" y="610.11" width="6.04" height="10.03" fill="#feeea5" stroke="#fff" stroke-width="0.3" stroke-opacity="0.35"/>
<rect x="308.24" y="610.11" width="6.04" height="10.03" fill="#fffdbb" stroke="#fff" stroke-width="0.3" stroke-opacity="0.35"/>
<rect x="314.28" y="610.11" width="6.04" height="10.03" fill="#ebf7e4" stroke="#fff" stroke-width="0.3" stroke-opacity="0.35"/>
<rect x="320.32" y="610.11" width="6.04" height="10.03" fill="#ebf7e4" stroke="#fff" stroke-width="0.3" stroke-opacity="0.35"/>
<rect x="326.36" y="610.11" width="6.04" height="10.03" fill="#ebf7e4" stroke="#fff" stroke-width="0.3" stroke-opacity="0.35"/>
<rect x="332.39" y="610.11" width="6.04" height="10.03" fill="#a1c9e1" stroke="#fff" stroke-width="0.3" stroke-opacity="0.35"/>
<rect x="338.43" y="610.11" width="6.04" height="10.03" fill="#feeea5" stroke="#fff" stroke-width="0.3" stroke-opacity="0.35"/>
<rect x="344.47" y="610.11" width="6.04" height="10.03" fill="#ebf7e4" stroke="#fff" stroke-width="0.3" stroke-opacity="0.35"/>
<rect x="350.51" y="610.11" width="6.04" height="10.03" fill="#eff9dc" stroke="#fff" stroke-width="0.3" stroke-opacity="0.35"/>
<rect x="356.55" y="610.11" width="6.04" height="10.03" fill="#fee89c" stroke="#fff" stroke-width="0.3" stroke-opacity="0.35"/>
<rect x="362.59" y="610.11" width="6.04" height="10.03" fill="#feeea5" stroke="#fff" stroke-width="0.3" stroke-opacity="0.35"/>
<rect x="368.63" y="610.11" width="6.04" height="10.03" fill="#feeea5" stroke="#fff" stroke-width="0.3" stroke-opacity="0.35"/>
<rect x="374.67" y="610.11" width="6.04" height="10.03" fill="#feeea5" stroke="#fff" stroke-width="0.3" stroke-opacity="0.35"/>
<rect x="380.71" y="610.11" width="6.04" height="10.03" fill="#feeea5" stroke="#fff" stroke-width="0.3" stroke-opacity="0.35"/>
<rect x="386.74" y="610.11" width="6.04" height="10.03" fill="#fee89c" stroke="#fff" stroke-width="0.3" stroke-opacity="0.35"/>
<rect x="392.78" y="610.11" width="6.04" height="10.03" fill="#fee89c" stroke="#fff" stroke-width="0.3" stroke-opacity="0.35"/>
<rect x="398.82" y="610.11" width="6.04" height="10.03" fill="#fee89c" stroke="#fff" stroke-width="0.3" stroke-opacity="0.35"/>
<rect x="404.86" y="610.11" width="6.04" height="10.03" fill="#fee89c" stroke="#fff" stroke-width="0.3" stroke-opacity="0.35"/>
<rect x="410.90" y="610.11" width="6.04" height="10.03" fill="#5080ba" stroke="#fff" stroke-width="0.3" stroke-opacity="0.35"/>
<rect x="416.94" y="610.11" width="6.04" height="10.03" fill="#fffdbb" stroke="#fff" stroke-width="0.3" stroke-opacity="0.35"/>
<rect x="422.98" y="610.11" width="6.04" height="10.03" fill="#feeea5" stroke="#fff" stroke-width="0.3" stroke-opacity="0.35"/>
<rect x="429.02" y="610.11" width="6.04" height="10.03" fill="#eff9dc" stroke="#fff" stroke-width="0.3" stroke-opacity="0.35"/>
<rect x="435.06" y="610.11" width="6.04" height="10.03" fill="#5080ba" stroke="#fff" stroke-width="0.3" stroke-opacity="0.35"/>
<rect x="441.09" y="610.11" width="6.04" height="10.03" fill="#fff3ad" stroke="#fff" stroke-width="0.3" stroke-opacity="0.35"/>
<rect x="447.13" y="610.11" width="6.04" height="10.03" fill="#f3fbd4" stroke="#fff" stroke-width="0.3" stroke-opacity="0.35"/>
<rect x="453.17" y="610.11" width="6.04" height="10.03" fill="#fffdbb" stroke="#fff" stroke-width="0.3" stroke-opacity="0.35"/>
<rect x="459.21" y="610.11" width="6.04" height="10.03" fill="#fffdbb" stroke="#fff" stroke-width="0.3" stroke-opacity="0.35"/>
<rect x="465.25" y="610.11" width="6.04" height="10.03" fill="#fff3ad" stroke="#fff" stroke-width="0.3" stroke-opacity="0.35"/>
<rect x="471.29" y="610.11" width="6.04" height="10.03" fill="#feeea5" stroke="#fff" stroke-width="0.3" stroke-opacity="0.35"/>
<rect x="477.33" y="610.11" width="6.04" height="10.03" fill="#fff3ad" stroke="#fff" stroke-width="0.3" stroke-opacity="0.35"/>
<rect x="483.37" y="610.11" width="6.04" height="10.03" fill="#fff3ad" stroke="#fff" stroke-width="0.3" stroke-opacity="0.35"/>
<rect x="489.41" y="610.11" width="6.04" height="10.03" fill="#feeea5" stroke="#fff" stroke-width="0.3" stroke-opacity="0.35"/>
<rect x="495.44" y="610.11" width="6.04" height="10.03" fill="#feeea5" stroke="#fff" stroke-width="0.3" stroke-opacity="0.35"/>
<rect x="501.48" y="610.11" width="6.04" height="10.03" fill="#feeea5" stroke="#fff" stroke-width="0.3" stroke-opacity="0.35"/>
<rect x="507.52" y="610.11" width="6.04" height="10.03" fill="#feeea5" stroke="#fff" stroke-width="0.3" stroke-opacity="0.35"/>
<rect x="513.56" y="610.11" width="6.04" height="10.03" fill="#feeea5" stroke="#fff" stroke-width="0.3" stroke-opacity="0.35"/>
<rect x="298" y="610.11" width="3.3" height="10.53" fill="#95d5c5"/>
<text x="521.5" y="617.0" font-size="5.35" fill="#222">Glutathione</text>
<rect x="302.20" y="620.14" width="6.04" height="10.03" fill="#fee89c" stroke="#fff" stroke-width="0.3" stroke-opacity="0.35"/>
<rect x="308.24" y="620.14" width="6.04" height="10.03" fill="#ebf7e4" stroke="#fff" stroke-width="0.3" stroke-opacity="0.35"/>
<rect x="314.28" y="620.14" width="6.04" height="10.03" fill="#c4e0ee" stroke="#fff" stroke-width="0.3" stroke-opacity="0.35"/>
<rect x="320.32" y="620.14" width="6.04" height="10.03" fill="#f9fdc9" stroke="#fff" stroke-width="0.3" stroke-opacity="0.35"/>
<rect x="326.36" y="620.14" width="6.04" height="10.03" fill="#eff9dc" stroke="#fff" stroke-width="0.3" stroke-opacity="0.35"/>
<rect x="332.39" y="620.14" width="6.04" height="10.03" fill="#f9fdc9" stroke="#fff" stroke-width="0.3" stroke-opacity="0.35"/>
<rect x="338.43" y="620.14" width="6.04" height="10.03" fill="#fff3ad" stroke="#fff" stroke-width="0.3" stroke-opacity="0.35"/>
<rect x="344.47" y="620.14" width="6.04" height="10.03" fill="#73a1cb" stroke="#fff" stroke-width="0.3" stroke-opacity="0.35"/>
<rect x="350.51" y="620.14" width="6.04" height="10.03" fill="#78a7ce" stroke="#fff" stroke-width="0.3" stroke-opacity="0.35"/>
<rect x="356.55" y="620.14" width="6.04" height="10.03" fill="#fff3ad" stroke="#fff" stroke-width="0.3" stroke-opacity="0.35"/>
<rect x="362.59" y="620.14" width="6.04" height="10.03" fill="#fff3ad" stroke="#fff" stroke-width="0.3" stroke-opacity="0.35"/>
<rect x="368.63" y="620.14" width="6.04" height="10.03" fill="#fff3ad" stroke="#fff" stroke-width="0.3" stroke-opacity="0.35"/>
<rect x="374.67" y="620.14" width="6.04" height="10.03" fill="#fff3ad" stroke="#fff" stroke-width="0.3" stroke-opacity="0.35"/>
<rect x="380.71" y="620.14" width="6.04" height="10.03" fill="#fff3ad" stroke="#fff" stroke-width="0.3" stroke-opacity="0.35"/>
<rect x="386.74" y="620.14" width="6.04" height="10.03" fill="#fee89c" stroke="#fff" stroke-width="0.3" stroke-opacity="0.35"/>
<rect x="392.78" y="620.14" width="6.04" height="10.03" fill="#fee395" stroke="#fff" stroke-width="0.3" stroke-opacity="0.35"/>
<rect x="398.82" y="620.14" width="6.04" height="10.03" fill="#fff3ad" stroke="#fff" stroke-width="0.3" stroke-opacity="0.35"/>
<rect x="404.86" y="620.14" width="6.04" height="10.03" fill="#fff3ad" stroke="#fff" stroke-width="0.3" stroke-opacity="0.35"/>
<rect x="410.90" y="620.14" width="6.04" height="10.03" fill="#f3fbd4" stroke="#fff" stroke-width="0.3" stroke-opacity="0.35"/>
<rect x="416.94" y="620.14" width="6.04" height="10.03" fill="#fff3ad" stroke="#fff" stroke-width="0.3" stroke-opacity="0.35"/>
<rect x="422.98" y="620.14" width="6.04" height="10.03" fill="#f3fbd4" stroke="#fff" stroke-width="0.3" stroke-opacity="0.35"/>
<rect x="429.02" y="620.14" width="6.04" height="10.03" fill="#eff9dc" stroke="#fff" stroke-width="0.3" stroke-opacity="0.35"/>
<rect x="435.06" y="620.14" width="6.04" height="10.03" fill="#eff9dc" stroke="#fff" stroke-width="0.3" stroke-opacity="0.35"/>
<rect x="441.09" y="620.14" width="6.04" height="10.03" fill="#fffdbb" stroke="#fff" stroke-width="0.3" stroke-opacity="0.35"/>
<rect x="447.13" y="620.14" width="6.04" height="10.03" fill="#feeea5" stroke="#fff" stroke-width="0.3" stroke-opacity="0.35"/>
<rect x="453.17" y="620.14" width="6.04" height="10.03" fill="#fffdbb" stroke="#fff" stroke-width="0.3" stroke-opacity="0.35"/>
<rect x="459.21" y="620.14" width="6.04" height="10.03" fill="#73a1cb" stroke="#fff" stroke-width="0.3" stroke-opacity="0.35"/>
<rect x="465.25" y="620.14" width="6.04" height="10.03" fill="#fee89c" stroke="#fff" stroke-width="0.3" stroke-opacity="0.35"/>
<rect x="471.29" y="620.14" width="6.04" height="10.03" fill="#fee89c" stroke="#fff" stroke-width="0.3" stroke-opacity="0.35"/>
<rect x="477.33" y="620.14" width="6.04" height="10.03" fill="#fee89c" stroke="#fff" stroke-width="0.3" stroke-opacity="0.35"/>
<rect x="483.37" y="620.14" width="6.04" height="10.03" fill="#fee89c" stroke="#fff" stroke-width="0.3" stroke-opacity="0.35"/>
<rect x="489.41" y="620.14" width="6.04" height="10.03" fill="#fee89c" stroke="#fff" stroke-width="0.3" stroke-opacity="0.35"/>
<rect x="495.44" y="620.14" width="6.04" height="10.03" fill="#fee89c" stroke="#fff" stroke-width="0.3" stroke-opacity="0.35"/>
<rect x="501.48" y="620.14" width="6.04" height="10.03" fill="#fee89c" stroke="#fff" stroke-width="0.3" stroke-opacity="0.35"/>
<rect x="507.52" y="620.14" width="6.04" height="10.03" fill="#fee89c" stroke="#fff" stroke-width="0.3" stroke-opacity="0.35"/>
<rect x="513.56" y="620.14" width="6.04" height="10.03" fill="#feeea5" stroke="#fff" stroke-width="0.3" stroke-opacity="0.35"/>
<rect x="298" y="620.14" width="3.3" height="10.53" fill="#95d5c5"/>
<text x="521.5" y="627.1" font-size="5.35" fill="#222">N-Acetyl-L-methionine</text>
<rect x="302.20" y="630.17" width="6.04" height="10.03" fill="#f9fdc9" stroke="#fff" stroke-width="0.3" stroke-opacity="0.35"/>
<rect x="308.24" y="630.17" width="6.04" height="10.03" fill="#c4e0ee" stroke="#fff" stroke-width="0.3" stroke-opacity="0.35"/>
<rect x="314.28" y="630.17" width="6.04" height="10.03" fill="#f3fbd4" stroke="#fff" stroke-width="0.3" stroke-opacity="0.35"/>
<rect x="320.32" y="630.17" width="6.04" height="10.03" fill="#eff9dc" stroke="#fff" stroke-width="0.3" stroke-opacity="0.35"/>
<rect x="326.36" y="630.17" width="6.04" height="10.03" fill="#fffdbb" stroke="#fff" stroke-width="0.3" stroke-opacity="0.35"/>
<rect x="332.39" y="630.17" width="6.04" height="10.03" fill="#ebf7e4" stroke="#fff" stroke-width="0.3" stroke-opacity="0.35"/>
<rect x="338.43" y="630.17" width="6.04" height="10.03" fill="#f3fbd4" stroke="#fff" stroke-width="0.3" stroke-opacity="0.35"/>
<rect x="344.47" y="630.17" width="6.04" height="10.03" fill="#e6f6ec" stroke="#fff" stroke-width="0.3" stroke-opacity="0.35"/>
<rect x="350.51" y="630.17" width="6.04" height="10.03" fill="#d5ebf4" stroke="#fff" stroke-width="0.3" stroke-opacity="0.35"/>
<rect x="356.55" y="630.17" width="6.04" height="10.03" fill="#f3fbd4" stroke="#fff" stroke-width="0.3" stroke-opacity="0.35"/>
<rect x="362.59" y="630.17" width="6.04" height="10.03" fill="#f3fbd4" stroke="#fff" stroke-width="0.3" stroke-opacity="0.35"/>
<rect x="368.63" y="630.17" width="6.04" height="10.03" fill="#f3fbd4" stroke="#fff" stroke-width="0.3" stroke-opacity="0.35"/>
<rect x="374.67" y="630.17" width="6.04" height="10.03" fill="#feeea5" stroke="#fff" stroke-width="0.3" stroke-opacity="0.35"/>
<rect x="380.71" y="630.17" width="6.04" height="10.03" fill="#feeea5" stroke="#fff" stroke-width="0.3" stroke-opacity="0.35"/>
<rect x="386.74" y="630.17" width="6.04" height="10.03" fill="#fdc37d" stroke="#fff" stroke-width="0.3" stroke-opacity="0.35"/>
<rect x="392.78" y="630.17" width="6.04" height="10.03" fill="#fdb674" stroke="#fff" stroke-width="0.3" stroke-opacity="0.35"/>
<rect x="398.82" y="630.17" width="6.04" height="10.03" fill="#fffdbb" stroke="#fff" stroke-width="0.3" stroke-opacity="0.35"/>
<rect x="404.86" y="630.17" width="6.04" height="10.03" fill="#feeea5" stroke="#fff" stroke-width="0.3" stroke-opacity="0.35"/>
<rect x="410.90" y="630.17" width="6.04" height="10.03" fill="#f3fbd4" stroke="#fff" stroke-width="0.3" stroke-opacity="0.35"/>
<rect x="416.94" y="630.17" width="6.04" height="10.03" fill="#f9fdc9" stroke="#fff" stroke-width="0.3" stroke-opacity="0.35"/>
<rect x="422.98" y="630.17" width="6.04" height="10.03" fill="#f3fbd4" stroke="#fff" stroke-width="0.3" stroke-opacity="0.35"/>
<rect x="429.02" y="630.17" width="6.04" height="10.03" fill="#e6f6ec" stroke="#fff" stroke-width="0.3" stroke-opacity="0.35"/>
<rect x="435.06" y="630.17" width="6.04" height="10.03" fill="#f9fdc9" stroke="#fff" stroke-width="0.3" stroke-opacity="0.35"/>
<rect x="441.09" y="630.17" width="6.04" height="10.03" fill="#f9fdc9" stroke="#fff" stroke-width="0.3" stroke-opacity="0.35"/>
<rect x="447.13" y="630.17" width="6.04" height="10.03" fill="#eff9dc" stroke="#fff" stroke-width="0.3" stroke-opacity="0.35"/>
<rect x="453.17" y="630.17" width="6.04" height="10.03" fill="#ebf7e4" stroke="#fff" stroke-width="0.3" stroke-opacity="0.35"/>
<rect x="459.21" y="630.17" width="6.04" height="10.03" fill="#e2f4f4" stroke="#fff" stroke-width="0.3" stroke-opacity="0.35"/>
<rect x="465.25" y="630.17" width="6.04" height="10.03" fill="#fee395" stroke="#fff" stroke-width="0.3" stroke-opacity="0.35"/>
<rect x="471.29" y="630.17" width="6.04" height="10.03" fill="#fedc8d" stroke="#fff" stroke-width="0.3" stroke-opacity="0.35"/>
<rect x="477.33" y="630.17" width="6.04" height="10.03" fill="#fee395" stroke="#fff" stroke-width="0.3" stroke-opacity="0.35"/>
<rect x="483.37" y="630.17" width="6.04" height="10.03" fill="#fee89c" stroke="#fff" stroke-width="0.3" stroke-opacity="0.35"/>
<rect x="489.41" y="630.17" width="6.04" height="10.03" fill="#fee89c" stroke="#fff" stroke-width="0.3" stroke-opacity="0.35"/>
<rect x="495.44" y="630.17" width="6.04" height="10.03" fill="#fee89c" stroke="#fff" stroke-width="0.3" stroke-opacity="0.35"/>
<rect x="501.48" y="630.17" width="6.04" height="10.03" fill="#fee395" stroke="#fff" stroke-width="0.3" stroke-opacity="0.35"/>
<rect x="507.52" y="630.17" width="6.04" height="10.03" fill="#fecf85" stroke="#fff" stroke-width="0.3" stroke-opacity="0.35"/>
<rect x="513.56" y="630.17" width="6.04" height="10.03" fill="#fecf85" stroke="#fff" stroke-width="0.3" stroke-opacity="0.35"/>
<rect x="298" y="630.17" width="3.3" height="10.03" fill="#95d5c5"/>
<text x="521.5" y="637.1" font-size="5.35" fill="#222">Leucylproline</text>
<rect x="302.20" y="445.3" width="54.35" height="2.7" fill="#e78ac3"/>
<text x="329.0" y="440.4" font-size="10.2" font-weight="bold" text-anchor="middle">SW480</text>
<rect x="356.55" y="445.3" width="54.35" height="2.7" fill="#66c2a5"/>
<text x="383.6" y="440.4" font-size="10.2" font-weight="bold" text-anchor="middle">SW620</text>
<rect x="410.90" y="445.3" width="54.35" height="2.7" fill="#fc8d62"/>
<text x="440.1" y="440.4" font-size="10.2" font-weight="bold" text-anchor="middle">HT-29</text>
<rect x="465.25" y="445.3" width="54.35" height="2.7" fill="#8da0cb"/>
<text x="492.0" y="440.4" font-size="10.2" font-weight="bold" text-anchor="middle">COLO 205</text>
<path d="M297.4,464.6 H295.2" fill="none" stroke="#666" stroke-width="0.5"/>
<path d="M297.4,474.7 H295.2" fill="none" stroke="#666" stroke-width="0.5"/>
<path d="M295.2,464.6 V474.7" fill="none" stroke="#666" stroke-width="0.5"/>
<path d="M295.2,469.7 H293.0" fill="none" stroke="#666" stroke-width="0.5"/>
<path d="M297.4,484.7 H293.0" fill="none" stroke="#666" stroke-width="0.5"/>
<path d="M293.0,469.7 V484.7" fill="none" stroke="#666" stroke-width="0.5"/>
<path d="M297.4,454.6 H290.8" fill="none" stroke="#666" stroke-width="0.5"/>
<path d="M293.0,477.2 H290.8" fill="none" stroke="#666" stroke-width="0.5"/>
<path d="M290.8,454.6 V477.2" fill="none" stroke="#666" stroke-width="0.5"/>
<path d="M297.4,504.8 H295.2" fill="none" stroke="#666" stroke-width="0.5"/>
<path d="M297.4,514.8 H295.2" fill="none" stroke="#666" stroke-width="0.5"/>
<path d="M295.2,504.8 V514.8" fill="none" stroke="#666" stroke-width="0.5"/>
<path d="M297.4,494.7 H293.0" fill="none" stroke="#666" stroke-width="0.5"/>
<path d="M295.2,509.8 H293.0" fill="none" stroke="#666" stroke-width="0.5"/>
<path d="M293.0,494.7 V509.8" fill="none" stroke="#666" stroke-width="0.5"/>
<path d="M290.8,465.9 H288.6" fill="none" stroke="#666" stroke-width="0.5"/>
<path d="M293.0,502.3 H288.6" fill="none" stroke="#666" stroke-width="0.5"/>
<path d="M288.6,465.9 V502.3" fill="none" stroke="#666" stroke-width="0.5"/>
<path d="M297.4,534.9 H295.2" fill="none" stroke="#666" stroke-width="0.5"/>
<path d="M297.4,544.9 H295.2" fill="none" stroke="#666" stroke-width="0.5"/>
<path d="M295.2,534.9 V544.9" fill="none" stroke="#666" stroke-width="0.5"/>
<path d="M297.4,524.8 H293.0" fill="none" stroke="#666" stroke-width="0.5"/>
<path d="M295.2,539.9 H293.0" fill="none" stroke="#666" stroke-width="0.5"/>
<path d="M293.0,524.8 V539.9" fill="none" stroke="#666" stroke-width="0.5"/>
<path d="M297.4,585.0 H295.2" fill="none" stroke="#666" stroke-width="0.5"/>
<path d="M297.4,595.1 H295.2" fill="none" stroke="#666" stroke-width="0.5"/>
<path d="M295.2,585.0 V595.1" fill="none" stroke="#666" stroke-width="0.5"/>
<path d="M297.4,575.0 H293.0" fill="none" stroke="#666" stroke-width="0.5"/>
<path d="M295.2,590.0 H293.0" fill="none" stroke="#666" stroke-width="0.5"/>
<path d="M293.0,575.0 V590.0" fill="none" stroke="#666" stroke-width="0.5"/>
<path d="M297.4,565.0 H290.8" fill="none" stroke="#666" stroke-width="0.5"/>
<path d="M293.0,582.5 H290.8" fill="none" stroke="#666" stroke-width="0.5"/>
<path d="M290.8,565.0 V582.5" fill="none" stroke="#666" stroke-width="0.5"/>
<path d="M297.4,554.9 H288.6" fill="none" stroke="#666" stroke-width="0.5"/>
<path d="M290.8,573.7 H288.6" fill="none" stroke="#666" stroke-width="0.5"/>
<path d="M288.6,554.9 V573.7" fill="none" stroke="#666" stroke-width="0.5"/>
<path d="M293.0,532.4 H286.4" fill="none" stroke="#666" stroke-width="0.5"/>
<path d="M288.6,564.3 H286.4" fill="none" stroke="#666" stroke-width="0.5"/>
<path d="M286.4,532.4 V564.3" fill="none" stroke="#666" stroke-width="0.5"/>
<path d="M288.6,484.1 H284.2" fill="none" stroke="#666" stroke-width="0.5"/>
<path d="M286.4,548.3 H284.2" fill="none" stroke="#666" stroke-width="0.5"/>
<path d="M284.2,484.1 V548.3" fill="none" stroke="#666" stroke-width="0.5"/>
<path d="M297.4,625.2 H295.2" fill="none" stroke="#666" stroke-width="0.5"/>
<path d="M297.4,635.2 H295.2" fill="none" stroke="#666" stroke-width="0.5"/>
<path d="M295.2,625.2 V635.2" fill="none" stroke="#666" stroke-width="0.5"/>
<path d="M297.4,615.1 H293.0" fill="none" stroke="#666" stroke-width="0.5"/>
<path d="M295.2,630.2 H293.0" fill="none" stroke="#666" stroke-width="0.5"/>
<path d="M293.0,615.1 V630.2" fill="none" stroke="#666" stroke-width="0.5"/>
<path d="M297.4,605.1 H290.8" fill="none" stroke="#666" stroke-width="0.5"/>
<path d="M293.0,622.6 H290.8" fill="none" stroke="#666" stroke-width="0.5"/>
<path d="M290.8,605.1 V622.6" fill="none" stroke="#666" stroke-width="0.5"/>
<path d="M284.2,516.2 H282.0" fill="none" stroke="#666" stroke-width="0.5"/>
<path d="M290.8,613.9 H282.0" fill="none" stroke="#666" stroke-width="0.5"/>
<path d="M282.0,516.2 V613.9" fill="none" stroke="#666" stroke-width="0.5"/>
<text x="592.0" y="457.6" font-size="7.35" fill="#222">Relative abundance</text>
<defs><linearGradient id="cb" x1="0" y1="0" x2="0" y2="1"><stop offset="0" stop-color="#d73027"/><stop offset="0.5" stop-color="#ffffbf"/><stop offset="1" stop-color="#4575b4"/></linearGradient></defs>
<rect x="592" y="461" width="8.3" height="34.8" fill="url(#cb)"/>
<line x1="598.8" y1="461.5" x2="600.3" y2="461.5" stroke="#fff" stroke-width="0.4"/>
<text x="602.5" y="463.4" font-size="5.3" fill="#222">2</text>
<line x1="598.8" y1="470" x2="600.3" y2="470" stroke="#fff" stroke-width="0.4"/>
<text x="602.5" y="471.9" font-size="5.3" fill="#222">1</text>
<line x1="598.8" y1="478.6" x2="600.3" y2="478.6" stroke="#fff" stroke-width="0.4"/>
<text x="602.5" y="480.5" font-size="5.3" fill="#222">0</text>
<line x1="598.8" y1="487" x2="600.3" y2="487" stroke="#fff" stroke-width="0.4"/>
<text x="602.5" y="488.9" font-size="5.3" fill="#222">-1</text>
<line x1="598.8" y1="495.5" x2="600.3" y2="495.5" stroke="#fff" stroke-width="0.4"/>
<text x="602.5" y="497.4" font-size="5.3" fill="#222">-2</text>
<text x="592.0" y="520.2" font-size="7.35" fill="#222">Cell Type</text>
<rect x="592" y="522.6999999999999" width="8.6" height="9.3" fill="#e78ac3"/>
<text x="602.5" y="529.3" font-size="5.6" fill="#222">SW480</text>
<rect x="592" y="532.4" width="8.6" height="9.3" fill="#66c2a5"/>
<text x="602.5" y="539.0" font-size="5.6" fill="#222">SW620</text>
<rect x="592" y="542.1" width="8.6" height="9.3" fill="#fc8d62"/>
<text x="602.5" y="548.7" font-size="5.6" fill="#222">HT-29</text>
<rect x="592" y="551.8" width="8.6" height="9.3" fill="#8da0cb"/>
<text x="602.5" y="558.4" font-size="5.6" fill="#222">COLO 205</text>
<text x="592.0" y="586.0" font-size="7.35" fill="#222">Group</text>
<rect x="592" y="589.6" width="8.6" height="9.3" fill="#95d5c5"/>
<text x="602.5" y="596.4" font-size="6.05" fill="#222">Amino acids and derivatives</text>
<rect x="592" y="599.1" width="8.6" height="9.3" fill="#a3bde0"/>
<text x="602.5" y="605.9" font-size="6.05" fill="#222">Carbohydrates</text>
<rect x="592" y="608.6" width="8.6" height="9.3" fill="#d5ea9a"/>
<text x="602.5" y="615.4" font-size="6.05" fill="#222">Lipids</text>
<rect x="592" y="618.1" width="8.6" height="9.3" fill="#ef5289"/>
<text x="602.5" y="624.9" font-size="6.05" fill="#222">Nucleosides</text>
<rect x="592" y="627.6" width="8.6" height="9.3" fill="#d4d2ec"/>
<text x="602.5" y="634.4" font-size="6.05" fill="#222">Vitamins and derivatives</text>
<text x="-0.3" y="653.8" font-size="23.5" font-weight="bold" fill="#000">f</text>
<text x="6.1" y="673.9" font-size="9.07" font-weight="bold">Metabolites</text>
<text x="146.6" y="674.2" font-size="8.9" font-weight="bold" text-anchor="middle">SW480 vs. SW620</text>
<text x="297.6" y="674.2" font-size="8.9" font-weight="bold" text-anchor="middle">HT-29 vs. COLO 205</text>
<line x1="5" y1="678.7" x2="359" y2="678.7" stroke="#c8c8c8" stroke-width="1" stroke-dasharray="3.2,2.2"/>
<line x1="5" y1="856.4" x2="77" y2="856.4" stroke="#c8c8c8" stroke-width="1" stroke-dasharray="3.2,2.2"/>
<line x1="216.4" y1="679" x2="216.4" y2="855" stroke="#b8b8b8" stroke-width="0.8" stroke-dasharray="3,2.2"/>
<line x1="357.5" y1="679" x2="357.5" y2="855" stroke="#b8b8b8" stroke-width="0.8" stroke-dasharray="3,2.2"/>
<line x1="145.6" y1="680" x2="145.6" y2="856" stroke="#222" stroke-width="0.8" stroke-dasharray="0.9,1.3"/>
<line x1="288.7" y1="680" x2="288.7" y2="856" stroke="#222" stroke-width="0.8" stroke-dasharray="0.9,1.3"/>
<text x="6.7" y="687.8" font-size="7.36" fill="#1a1a1a">Alanine</text>
<line x1="122.2" y1="683.0" x2="136.4" y2="683.0" stroke="#e78ac3" stroke-width="1.3"/>
<circle cx="135.1" cy="683.0" r="1.7" fill="#e78ac3"/>
<line x1="147.1" y1="688.0" x2="181.1" y2="688.0" stroke="#66c2a5" stroke-width="1.3"/>
<circle cx="158.7" cy="688.0" r="1.7" fill="#66c2a5"/>
<line x1="261.3" y1="683.0" x2="277.1" y2="683.0" stroke="#fc8d62" stroke-width="1.3"/>
<circle cx="271.2" cy="683.0" r="1.7" fill="#fc8d62"/>
<line x1="300.5" y1="688.0" x2="317.2" y2="688.0" stroke="#8da0cb" stroke-width="1.3"/>
<circle cx="304.0" cy="688.0" r="1.7" fill="#8da0cb"/>
<text x="6.7" y="700.6" font-size="7.36" fill="#1a1a1a">Lactic acid</text>
<line x1="120.4" y1="695.7" x2="137.9" y2="695.7" stroke="#e78ac3" stroke-width="1.3"/>
<circle cx="126.3" cy="695.7" r="1.7" fill="#e78ac3"/>
<line x1="143.0" y1="700.7" x2="174.5" y2="700.7" stroke="#66c2a5" stroke-width="1.3"/>
<circle cx="158.7" cy="700.7" r="1.7" fill="#66c2a5"/>
<line x1="265.5" y1="695.7" x2="272.1" y2="695.7" stroke="#fc8d62" stroke-width="1.3"/>
<circle cx="268.6" cy="695.7" r="1.7" fill="#fc8d62"/>
<line x1="300.5" y1="700.7" x2="318.3" y2="700.7" stroke="#8da0cb" stroke-width="1.3"/>
<circle cx="308.2" cy="700.7" r="1.7" fill="#8da0cb"/>
<text x="6.7" y="713.3" font-size="7.36" fill="#1a1a1a">Succinic acid</text>
<line x1="118.2" y1="708.5" x2="145.6" y2="708.5" stroke="#e78ac3" stroke-width="1.3"/>
<circle cx="127.2" cy="708.5" r="1.7" fill="#e78ac3"/>
<line x1="145.6" y1="713.5" x2="177.8" y2="713.5" stroke="#66c2a5" stroke-width="1.3"/>
<circle cx="151.1" cy="713.5" r="1.7" fill="#66c2a5"/>
<line x1="273.8" y1="708.5" x2="280.8" y2="708.5" stroke="#fc8d62" stroke-width="1.3"/>
<circle cx="275.6" cy="708.5" r="1.7" fill="#fc8d62"/>
<line x1="274.5" y1="713.5" x2="323.1" y2="713.5" stroke="#8da0cb" stroke-width="1.3"/>
<circle cx="303.4" cy="713.5" r="1.7" fill="#8da0cb"/>
<text x="6.7" y="726.0" font-size="7.36" fill="#1a1a1a">Malic acid</text>
<line x1="126.3" y1="721.2" x2="136.4" y2="721.2" stroke="#e78ac3" stroke-width="1.3"/>
<circle cx="129.8" cy="721.2" r="1.7" fill="#e78ac3"/>
<line x1="152.6" y1="726.2" x2="179.5" y2="726.2" stroke="#66c2a5" stroke-width="1.3"/>
<circle cx="155.9" cy="726.2" r="1.7" fill="#66c2a5"/>
<line x1="255.8" y1="721.2" x2="279.3" y2="721.2" stroke="#fc8d62" stroke-width="1.3"/>
<circle cx="273.8" cy="721.2" r="1.7" fill="#fc8d62"/>
<line x1="298.3" y1="726.2" x2="312.8" y2="726.2" stroke="#8da0cb" stroke-width="1.3"/>
<circle cx="309.3" cy="726.2" r="1.7" fill="#8da0cb"/>
<text x="6.7" y="738.8" font-size="7.36" fill="#1a1a1a">Pyroglutamic acid</text>
<line x1="121.5" y1="733.9" x2="136.8" y2="733.9" stroke="#e78ac3" stroke-width="1.3"/>
<circle cx="128.5" cy="733.9" r="1.7" fill="#e78ac3"/>
<line x1="143.4" y1="738.9" x2="179.5" y2="738.9" stroke="#66c2a5" stroke-width="1.3"/>
<circle cx="164.7" cy="738.9" r="1.7" fill="#66c2a5"/>
<line x1="259.6" y1="733.9" x2="281.9" y2="733.9" stroke="#fc8d62" stroke-width="1.3"/>
<circle cx="274.9" cy="733.9" r="1.7" fill="#fc8d62"/>
<line x1="293.5" y1="738.9" x2="319.8" y2="738.9" stroke="#8da0cb" stroke-width="1.3"/>
<circle cx="303.4" cy="738.9" r="1.7" fill="#8da0cb"/>
<text x="6.7" y="751.5" font-size="7.36" fill="#1a1a1a">Aspartic acid</text>
<line x1="125.2" y1="746.6" x2="135.1" y2="746.6" stroke="#e78ac3" stroke-width="1.3"/>
<circle cx="128.5" cy="746.6" r="1.7" fill="#e78ac3"/>
<line x1="150.6" y1="751.6" x2="172.3" y2="751.6" stroke="#66c2a5" stroke-width="1.3"/>
<circle cx="153.3" cy="751.6" r="1.7" fill="#66c2a5"/>
<line x1="260.2" y1="746.6" x2="285.9" y2="746.6" stroke="#fc8d62" stroke-width="1.3"/>
<circle cx="267.2" cy="746.6" r="1.7" fill="#fc8d62"/>
<line x1="292.4" y1="751.6" x2="319.8" y2="751.6" stroke="#8da0cb" stroke-width="1.3"/>
<circle cx="306.7" cy="751.6" r="1.7" fill="#8da0cb"/>
<text x="6.7" y="764.2" font-size="7.36" fill="#1a1a1a">Glutamine</text>
<line x1="119.3" y1="759.4" x2="142.3" y2="759.4" stroke="#e78ac3" stroke-width="1.3"/>
<circle cx="134.7" cy="759.4" r="1.7" fill="#e78ac3"/>
<line x1="142.3" y1="764.4" x2="180.6" y2="764.4" stroke="#66c2a5" stroke-width="1.3"/>
<circle cx="154.4" cy="764.4" r="1.7" fill="#66c2a5"/>
<line x1="262.9" y1="759.4" x2="281.5" y2="759.4" stroke="#fc8d62" stroke-width="1.3"/>
<circle cx="275.6" cy="759.4" r="1.7" fill="#fc8d62"/>
<line x1="288.7" y1="764.4" x2="324.8" y2="764.4" stroke="#8da0cb" stroke-width="1.3"/>
<circle cx="300.5" cy="764.4" r="1.7" fill="#8da0cb"/>
<text x="6.7" y="777.0" font-size="7.36" fill="#1a1a1a">Glutamic acid</text>
<line x1="119.3" y1="772.1" x2="140.1" y2="772.1" stroke="#e78ac3" stroke-width="1.3"/>
<circle cx="136.8" cy="772.1" r="1.7" fill="#e78ac3"/>
<line x1="140.1" y1="777.1" x2="180.6" y2="777.1" stroke="#66c2a5" stroke-width="1.3"/>
<circle cx="157.6" cy="777.1" r="1.7" fill="#66c2a5"/>
<line x1="263.3" y1="772.1" x2="274.2" y2="772.1" stroke="#fc8d62" stroke-width="1.3"/>
<circle cx="269.0" cy="772.1" r="1.7" fill="#fc8d62"/>
<line x1="303.8" y1="777.1" x2="315.9" y2="777.1" stroke="#8da0cb" stroke-width="1.3"/>
<circle cx="304.9" cy="777.1" r="1.7" fill="#8da0cb"/>
<text x="6.7" y="789.7" font-size="7.36" fill="#1a1a1a">Phenylalanine</text>
<line x1="122.6" y1="784.8" x2="141.2" y2="784.8" stroke="#e78ac3" stroke-width="1.3"/>
<circle cx="134.7" cy="784.8" r="1.7" fill="#e78ac3"/>
<line x1="141.2" y1="789.8" x2="171.9" y2="789.8" stroke="#66c2a5" stroke-width="1.3"/>
<circle cx="167.5" cy="789.8" r="1.7" fill="#66c2a5"/>
<line x1="262.9" y1="784.8" x2="273.8" y2="784.8" stroke="#fc8d62" stroke-width="1.3"/>
<circle cx="267.9" cy="784.8" r="1.7" fill="#fc8d62"/>
<line x1="304.9" y1="789.8" x2="315.0" y2="789.8" stroke="#8da0cb" stroke-width="1.3"/>
<circle cx="309.9" cy="789.8" r="1.7" fill="#8da0cb"/>
<text x="6.7" y="802.4" font-size="7.36" fill="#1a1a1a">N-Acetyl-L-glutamic acid</text>
<line x1="123.7" y1="797.6" x2="144.5" y2="797.6" stroke="#e78ac3" stroke-width="1.3"/>
<circle cx="130.3" cy="797.6" r="1.7" fill="#e78ac3"/>
<line x1="144.5" y1="802.6" x2="177.4" y2="802.6" stroke="#66c2a5" stroke-width="1.3"/>
<circle cx="154.4" cy="802.6" r="1.7" fill="#66c2a5"/>
<line x1="267.2" y1="797.6" x2="272.7" y2="797.6" stroke="#fc8d62" stroke-width="1.3"/>
<circle cx="269.4" cy="797.6" r="1.7" fill="#fc8d62"/>
<line x1="297.9" y1="802.6" x2="317.0" y2="802.6" stroke="#8da0cb" stroke-width="1.3"/>
<circle cx="308.8" cy="802.6" r="1.7" fill="#8da0cb"/>
<text x="6.7" y="815.1" font-size="7.36" fill="#1a1a1a">Glucose</text>
<line x1="122.6" y1="810.3" x2="135.7" y2="810.3" stroke="#e78ac3" stroke-width="1.3"/>
<circle cx="132.5" cy="810.3" r="1.7" fill="#e78ac3"/>
<line x1="144.5" y1="815.3" x2="174.1" y2="815.3" stroke="#66c2a5" stroke-width="1.3"/>
<circle cx="171.9" cy="815.3" r="1.7" fill="#66c2a5"/>
<line x1="261.3" y1="810.3" x2="284.1" y2="810.3" stroke="#fc8d62" stroke-width="1.3"/>
<circle cx="271.2" cy="810.3" r="1.7" fill="#fc8d62"/>
<line x1="295.7" y1="815.3" x2="313.7" y2="815.3" stroke="#8da0cb" stroke-width="1.3"/>
<circle cx="307.8" cy="815.3" r="1.7" fill="#8da0cb"/>
<text x="6.7" y="827.9" font-size="7.36" fill="#1a1a1a">Tryptophan</text>
<line x1="112.8" y1="823.0" x2="145.6" y2="823.0" stroke="#e78ac3" stroke-width="1.3"/>
<circle cx="140.1" cy="823.0" r="1.7" fill="#e78ac3"/>
<line x1="142.3" y1="828.0" x2="175.2" y2="828.0" stroke="#66c2a5" stroke-width="1.3"/>
<circle cx="162.0" cy="828.0" r="1.7" fill="#66c2a5"/>
<line x1="262.2" y1="823.0" x2="286.9" y2="823.0" stroke="#fc8d62" stroke-width="1.3"/>
<circle cx="276.7" cy="823.0" r="1.7" fill="#fc8d62"/>
<line x1="292.0" y1="828.0" x2="316.1" y2="828.0" stroke="#8da0cb" stroke-width="1.3"/>
<circle cx="308.2" cy="828.0" r="1.7" fill="#8da0cb"/>
<text x="6.7" y="840.6" font-size="7.36" fill="#1a1a1a">Glutathione</text>
<line x1="119.3" y1="835.8" x2="148.9" y2="835.8" stroke="#e78ac3" stroke-width="1.3"/>
<circle cx="123.7" cy="835.8" r="1.7" fill="#e78ac3"/>
<line x1="160.9" y1="840.8" x2="164.2" y2="840.8" stroke="#66c2a5" stroke-width="1.3"/>
<circle cx="162.0" cy="840.8" r="1.7" fill="#66c2a5"/>
<line x1="253.4" y1="835.8" x2="292.9" y2="835.8" stroke="#fc8d62" stroke-width="1.3"/>
<circle cx="290.7" cy="835.8" r="1.7" fill="#fc8d62"/>
<line x1="298.6" y1="840.8" x2="304.9" y2="840.8" stroke="#8da0cb" stroke-width="1.3"/>
<circle cx="300.1" cy="840.8" r="1.7" fill="#8da0cb"/>
<text x="6.7" y="853.3" font-size="7.36" fill="#1a1a1a">Oxidized glutathione</text>
<line x1="141.2" y1="848.5" x2="150.0" y2="848.5" stroke="#e78ac3" stroke-width="1.3"/>
<circle cx="147.8" cy="848.5" r="1.7" fill="#e78ac3"/>
<line x1="148.9" y1="853.5" x2="164.2" y2="853.5" stroke="#66c2a5" stroke-width="1.3"/>
<circle cx="155.5" cy="853.5" r="1.7" fill="#66c2a5"/>
<line x1="265.5" y1="848.5" x2="283.2" y2="848.5" stroke="#fc8d62" stroke-width="1.3"/>
<circle cx="274.2" cy="848.5" r="1.7" fill="#fc8d62"/>
<line x1="297.9" y1="853.5" x2="315.0" y2="853.5" stroke="#8da0cb" stroke-width="1.3"/>
<circle cx="308.2" cy="853.5" r="1.7" fill="#8da0cb"/>
<line x1="78" y1="856.6" x2="214.5" y2="856.6" stroke="#111" stroke-width="1.3" stroke-dasharray="3,1.6"/>
<line x1="79.9" y1="856.3" x2="79.9" y2="860.2" stroke="#111" stroke-width="1.3"/>
<text x="79.9" y="873.0" font-size="9.5" font-weight="bold" text-anchor="middle">-3</text>
<line x1="101.8" y1="856.3" x2="101.8" y2="860.2" stroke="#111" stroke-width="1.3"/>
<text x="101.8" y="873.0" font-size="9.5" font-weight="bold" text-anchor="middle">-2</text>
<line x1="123.7" y1="856.3" x2="123.7" y2="860.2" stroke="#111" stroke-width="1.3"/>
<text x="123.7" y="873.0" font-size="9.5" font-weight="bold" text-anchor="middle">-1</text>
<line x1="145.6" y1="856.3" x2="145.6" y2="860.2" stroke="#111" stroke-width="1.3"/>
<text x="145.6" y="873.0" font-size="9.5" font-weight="bold" text-anchor="middle">0</text>
<line x1="167.5" y1="856.3" x2="167.5" y2="860.2" stroke="#111" stroke-width="1.3"/>
<text x="167.5" y="873.0" font-size="9.5" font-weight="bold" text-anchor="middle">1</text>
<line x1="189.4" y1="856.3" x2="189.4" y2="860.2" stroke="#111" stroke-width="1.3"/>
<text x="189.4" y="873.0" font-size="9.5" font-weight="bold" text-anchor="middle">2</text>
<line x1="211.3" y1="856.3" x2="211.3" y2="860.2" stroke="#111" stroke-width="1.3"/>
<text x="211.3" y="873.0" font-size="9.5" font-weight="bold" text-anchor="middle">3</text>
<line x1="220.5" y1="856.6" x2="357.5" y2="856.6" stroke="#111" stroke-width="1.3" stroke-dasharray="3,1.6"/>
<line x1="223.0" y1="856.3" x2="223.0" y2="860.2" stroke="#111" stroke-width="1.3"/>
<text x="223.0" y="873.0" font-size="9.5" font-weight="bold" text-anchor="middle">-3</text>
<line x1="244.9" y1="856.3" x2="244.9" y2="860.2" stroke="#111" stroke-width="1.3"/>
<text x="244.9" y="873.0" font-size="9.5" font-weight="bold" text-anchor="middle">-2</text>
<line x1="266.8" y1="856.3" x2="266.8" y2="860.2" stroke="#111" stroke-width="1.3"/>
<text x="266.8" y="873.0" font-size="9.5" font-weight="bold" text-anchor="middle">-1</text>
<line x1="288.7" y1="856.3" x2="288.7" y2="860.2" stroke="#111" stroke-width="1.3"/>
<text x="288.7" y="873.0" font-size="9.5" font-weight="bold" text-anchor="middle">0</text>
<line x1="310.6" y1="856.3" x2="310.6" y2="860.2" stroke="#111" stroke-width="1.3"/>
<text x="310.6" y="873.0" font-size="9.5" font-weight="bold" text-anchor="middle">1</text>
<line x1="332.5" y1="856.3" x2="332.5" y2="860.2" stroke="#111" stroke-width="1.3"/>
<text x="332.5" y="873.0" font-size="9.5" font-weight="bold" text-anchor="middle">2</text>
<line x1="354.4" y1="856.3" x2="354.4" y2="860.2" stroke="#111" stroke-width="1.3"/>
<text x="354.4" y="873.0" font-size="9.5" font-weight="bold" text-anchor="middle">3</text>
<text x="368.9" y="661.4" font-size="23.5" font-weight="bold" fill="#000">g</text>
<rect x="384.8" y="677.3" width="257.6" height="174.6" rx="33" ry="33" fill="none" stroke="#e4e4e4" stroke-width="5.6"/>
<rect x="384.8" y="677.3" width="257.6" height="174.6" rx="33" ry="33" fill="none" stroke="#c3c3c3" stroke-width="3.0"/>
<path d="M428.0,778.0 C427.9,774.0 428.4,769.4 429.5,766.0 C430.6,762.6 432.4,760.2 434.5,757.5 C436.6,754.8 439.2,751.9 442.3,750.0 C445.4,748.1 448.9,746.9 452.9,746.0 C456.8,745.1 461.6,744.5 466.0,744.5 C470.4,744.5 474.8,745.1 479.0,746.0 C483.2,746.9 487.3,749.3 491.0,750.0 C494.7,750.7 497.5,750.3 501.0,750.0 C504.5,749.7 508.3,748.8 512.0,748.0 C515.7,747.2 519.6,746.5 523.4,745.5 C527.2,744.5 531.1,742.4 535.0,741.7 C538.9,741.0 543.2,740.5 546.7,741.1 C550.2,741.7 553.3,742.8 556.0,745.2 C558.7,747.6 561.5,751.8 563.0,755.7 C564.5,759.6 564.8,764.0 564.8,768.5 C564.8,773.0 564.3,778.1 563.0,782.6 C561.7,787.1 559.9,791.5 557.2,795.4 C554.5,799.3 550.4,803.3 546.7,806.0 C543.0,808.7 538.9,810.1 535.0,811.8 C531.1,813.5 527.6,815.3 523.4,816.4 C519.2,817.5 515.0,818.3 510.0,818.5 C505.0,818.7 499.4,817.8 493.6,817.5 C487.8,817.2 480.9,817.1 475.2,816.5 C469.5,815.9 464.2,815.1 459.4,813.8 C454.6,812.5 450.2,810.8 446.3,808.6 C442.4,806.4 438.5,803.8 435.8,800.7 C433.1,797.6 431.2,794.0 429.9,790.2 C428.6,786.4 428.1,782.0 428.0,778.0 Z" fill="#fcf3f0" stroke="#e9cbbf" stroke-width="1.6"/>
<path d="M434.6,778.3 C434.5,774.9 434.9,771.1 435.9,768.2 C436.9,765.4 438.5,763.3 440.4,761.1 C442.4,758.9 444.7,756.4 447.5,754.8 C450.3,753.2 453.5,752.2 457.1,751.4 C460.7,750.7 465.0,750.2 468.9,750.2 C472.9,750.2 476.9,750.7 480.7,751.4 C484.5,752.2 488.3,754.2 491.6,754.8 C494.9,755.4 497.5,755.1 500.6,754.8 C503.8,754.5 507.2,753.8 510.6,753.1 C514.0,752.5 517.4,751.9 520.9,751.0 C524.4,750.1 527.9,748.4 531.4,747.8 C534.9,747.2 538.8,746.8 542.0,747.3 C545.1,747.8 547.9,748.7 550.4,750.8 C552.9,752.8 555.4,756.3 556.7,759.6 C558.1,762.9 558.4,766.6 558.4,770.3 C558.4,774.1 557.9,778.4 556.7,782.2 C555.6,785.9 553.9,789.7 551.5,792.9 C549.0,796.2 545.3,799.5 542.0,801.8 C538.6,804.1 534.9,805.3 531.4,806.7 C527.9,808.2 524.7,809.6 520.9,810.6 C517.1,811.5 513.3,812.2 508.8,812.3 C504.3,812.5 499.2,811.8 493.9,811.5 C488.7,811.2 482.4,811.2 477.3,810.7 C472.1,810.1 467.3,809.5 463.0,808.4 C458.6,807.3 454.7,805.9 451.1,804.0 C447.6,802.2 444.1,800.0 441.6,797.4 C439.1,794.8 437.5,791.7 436.3,788.6 C435.1,785.4 434.6,781.7 434.6,778.3 Z" fill="#ffffff" stroke="#e9cbbf" stroke-width="1.5"/>
<path d="M435,774 L450,774.5" stroke="#e9cbbf" stroke-width="5.8" stroke-linecap="round"/>
<path d="M436,789 L450,790" stroke="#e9cbbf" stroke-width="5.8" stroke-linecap="round"/>
<path d="M464,750 L469,767" stroke="#e9cbbf" stroke-width="5.8" stroke-linecap="round"/>
<path d="M475,812 L478,794" stroke="#e9cbbf" stroke-width="5.8" stroke-linecap="round"/>
<path d="M559,766 L545,764" stroke="#e9cbbf" stroke-width="5.8" stroke-linecap="round"/>
<path d="M557,786 L541,783" stroke="#e9cbbf" stroke-width="5.8" stroke-linecap="round"/>
<path d="M531,748 L528,762" stroke="#e9cbbf" stroke-width="5.8" stroke-linecap="round"/>
<path d="M514,813 L512,798" stroke="#e9cbbf" stroke-width="5.8" stroke-linecap="round"/>
<path d="M447,754 L450,764" stroke="#e9cbbf" stroke-width="5.8" stroke-linecap="round"/>
<path d="M540,805 L533,795" stroke="#e9cbbf" stroke-width="5.8" stroke-linecap="round"/>
<path d="M435,774 L450,774.5" stroke="#fcf3f0" stroke-width="2.8" stroke-linecap="round"/>
<path d="M436,789 L450,790" stroke="#fcf3f0" stroke-width="2.8" stroke-linecap="round"/>
<path d="M464,750 L469,767" stroke="#fcf3f0" stroke-width="2.8" stroke-linecap="round"/>
<path d="M475,812 L478,794" stroke="#fcf3f0" stroke-width="2.8" stroke-linecap="round"/>
<path d="M559,766 L545,764" stroke="#fcf3f0" stroke-width="2.8" stroke-linecap="round"/>
<path d="M557,786 L541,783" stroke="#fcf3f0" stroke-width="2.8" stroke-linecap="round"/>
<path d="M531,748 L528,762" stroke="#fcf3f0" stroke-width="2.8" stroke-linecap="round"/>
<path d="M514,813 L512,798" stroke="#fcf3f0" stroke-width="2.8" stroke-linecap="round"/>
<path d="M447,754 L450,764" stroke="#fcf3f0" stroke-width="2.8" stroke-linecap="round"/>
<path d="M540,805 L533,795" stroke="#fcf3f0" stroke-width="2.8" stroke-linecap="round"/>
<ellipse cx="498" cy="786" rx="29" ry="28" fill="none" stroke="#888" stroke-width="0.45"/>
<path d="M497,703 V716" fill="none" stroke="#7a7a7a" stroke-width="0.45"/>
<path d="M497,725 V736" fill="none" stroke="#7a7a7a" stroke-width="0.45"/>
<path d="M497,744 V752" fill="none" stroke="#7a7a7a" stroke-width="0.45"/>
<path d="M460,712 C472,712 474,720 482,721" fill="none" stroke="#7a7a7a" stroke-width="0.45"/>
<path d="M482,723 L462,730" fill="none" stroke="#7a7a7a" stroke-width="0.45"/>
<path d="M528,722.5 L513,721.5" fill="none" stroke="#7a7a7a" stroke-width="0.45"/>
<path d="M530,727 L515,738" fill="none" stroke="#7a7a7a" stroke-width="0.45"/>
<path d="M437,781 L453,782" fill="none" stroke="#7a7a7a" stroke-width="0.45"/>
<path d="M452,817 C458,815 460,810 462,806" fill="none" stroke="#7a7a7a" stroke-width="0.45"/>
<path d="M548,778 L577,803" fill="none" stroke="#7a7a7a" stroke-width="0.45"/>
<path d="M583,802 L573,745" fill="none" stroke="#7a7a7a" stroke-width="0.45"/>
<path d="M592,773 L585,801" fill="none" stroke="#7a7a7a" stroke-width="0.45"/>
<path d="M577,747 L590,763" fill="none" stroke="#7a7a7a" stroke-width="0.45"/>
<path d="M583,811 V827" fill="none" stroke="#7a7a7a" stroke-width="0.45"/>
<path d="M598.5,763 A9,7 0 0 1 614,763" fill="none" stroke="#98c898" stroke-width="0.9"/>
<path d="M614,772.5 A9,7 0 0 1 598.5,772.5" fill="none" stroke="#98c898" stroke-width="0.9"/>
<rect x="490.3" y="671" width="6.2" height="16.7" rx="2" fill="#8fc05c"/>
<rect x="497.8" y="671" width="6.2" height="16.7" rx="2" fill="#8fc05c"/>
<line x1="497.1" y1="665" x2="497.1" y2="690" stroke="#b3b3b3" stroke-width="1.4"/>
<path d="M494.8,689 L497.1,694 L499.4,689z" fill="#b3b3b3"/>
<g transform="rotate(-12 588.2 852.5)"><rect x="580.5" y="843.5" width="7" height="18" rx="2" fill="#e9a277"/><rect x="589" y="843.5" width="7" height="18" rx="2" fill="#e9a277"/></g>
<line x1="592.5" y1="866" x2="585.3" y2="841" stroke="#b3b3b3" stroke-width="1.4"/>
<path d="M582.6,842.5 L584.4,837 L587.4,841.3z" fill="#b3b3b3"/>
<path d="M612,807 C625,806 630,812 640,813" fill="none" stroke="#ccc" stroke-width="0.6"/>
<path d="M662,810 C655,812 652,813 646,813" fill="none" stroke="#ccc" stroke-width="0.6"/>
<path d="M640,810 C634,806 630,803 628,797" fill="none" stroke="#b8b8b8" stroke-width="1.3"/><path d="M625.5,799 L627.2,794 L630.5,798z" fill="#b8b8b8"/>
<path d="M646,818 C650,823 654,826 658,828" fill="none" stroke="#b8b8b8" stroke-width="1.3"/><path d="M656.5,830.5 L661,829.5 L658,825.8z" fill="#b8b8b8"/>
<g transform="rotate(22 642.9 813.5)"><rect x="633.5" y="806" width="19" height="7" rx="3" fill="#5ea6cb"/><rect x="633.5" y="814" width="19" height="7" rx="3" fill="#5ea6cb"/><line x1="634" y1="813.5" x2="652" y2="813.5" stroke="#cfe3ee" stroke-width="0.8"/></g>
<text x="497.6" y="661.7" font-size="6.3" font-weight="bold" text-anchor="middle" fill="#1a1a1a" xml:space="preserve">Glucose</text>
<text x="485.3" y="701.1" font-size="6.3" font-weight="bold" fill="#1a1a1a" xml:space="preserve">Glucose</text>
<path d="M510.8,701.3 L512.6,696.3 L514.4,701.3z" fill="#e8221c"/>
<text x="430.2" y="713.1" font-size="6.3" font-weight="bold" fill="#1a1a1a" xml:space="preserve">Alanine</text>
<path d="M456.0,713.3 L457.8,708.3 L459.6,713.3z" fill="#e8221c"/>
<text x="484.0" y="723.5" font-size="6.3" font-weight="bold" fill="#1a1a1a" xml:space="preserve">Pyruvate</text>
<text x="421.3" y="732.9" font-size="6.3" font-weight="bold" fill="#1a1a1a" xml:space="preserve">Lactic acid</text>
<path d="M454.7,733.1 L456.5,728.1 L458.3,733.1z" fill="#e8221c"/>
<text x="530.4" y="724.7" font-size="6.3" font-weight="bold" fill="#1a1a1a" xml:space="preserve">Tryptophan</text>
<path d="M567.7,724.9 L569.5,719.9 L571.3,724.9z" fill="#e8221c"/>
<text x="478.6" y="742.3" font-size="6.3" font-weight="bold" fill="#1a1a1a" xml:space="preserve">Acetyl CoA</text>
<text x="544.8" y="742.3" font-size="6.3" font-weight="bold" fill="#1a1a1a" xml:space="preserve">Pyroglutamic acid</text>
<text x="484.1" y="758.9" font-size="6.3" font-weight="bold" fill="#1a1a1a" xml:space="preserve">Citric acid</text>
<text x="451.1" y="771.3" font-size="6.3" font-weight="bold" fill="#1a1a1a" xml:space="preserve">Oxaloacetic acid</text>
<text x="500.8" y="775.8" font-size="6.3" font-weight="bold" fill="#1a1a1a" xml:space="preserve">α-Ketoglutaric acid</text>
<text x="586.7" y="770.0" font-size="6.3" font-weight="bold" fill="#1a1a1a" xml:space="preserve">GSH</text>
<path d="M602.4,770.2 L604.2,765.2 L606.0,770.2z" fill="#e8221c"/>
<text x="611.6" y="770.0" font-size="6.3" font-weight="bold" fill="#1a1a1a" xml:space="preserve">GSSG</text>
<path d="M632.8,770.2 L634.6,765.2 L636.4,770.2z" fill="#e8221c"/>
<text x="389.4" y="782.5" font-size="6.3" font-weight="bold" fill="#1a1a1a" xml:space="preserve">Aspartic acid</text>
<path d="M430.0,782.7 L431.8,777.7 L433.6,782.7z" fill="#e8221c"/>
<text x="454.9" y="785.0" font-size="6.3" font-weight="bold" fill="#1a1a1a" xml:space="preserve">Malic acid</text>
<path d="M485.3,785.2 L487.1,780.2 L488.9,785.2z" fill="#e8221c"/>
<text x="611.6" y="792.9" font-size="6.3" font-weight="bold" fill="#1a1a1a" xml:space="preserve">Cystine</text>
<text x="455.6" y="804.8" font-size="6.3" font-weight="bold" fill="#1a1a1a" xml:space="preserve">Fumaric acid</text>
<text x="504.5" y="804.8" font-size="6.3" font-weight="bold" fill="#1a1a1a" xml:space="preserve">Succinyl-CoA</text>
<text x="565.0" y="809.3" font-size="6.3" font-weight="bold" fill="#1a1a1a" xml:space="preserve">Glutamic acid</text>
<path d="M609.3,809.5 L611.1,804.5 L612.9,809.5z" fill="#e8221c"/>
<text x="662.2" y="812.2" font-size="6.3" font-weight="bold" fill="#1a1a1a" xml:space="preserve">Cystine</text>
<text x="404.2" y="821.2" font-size="6.3" font-weight="bold" fill="#1a1a1a" xml:space="preserve">Phenylalanine</text>
<path d="M449.6,821.4 L451.4,816.4 L453.2,821.4z" fill="#e8221c"/>
<text x="476.0" y="817.5" font-size="6.3" font-weight="bold" fill="#1a1a1a" xml:space="preserve">Succinic acid</text>
<path d="M518.3,817.7 L520.1,812.7 L521.9,817.7z" fill="#e8221c"/>
<text x="565.0" y="833.1" font-size="6.3" font-weight="bold" fill="#1a1a1a" xml:space="preserve">Glutamine</text>
<path d="M597.8,833.3 L599.6,828.3 L601.4,833.3z" fill="#e8221c"/>
<text x="642.9" y="839.4" font-size="6.3" font-weight="bold" fill="#1a1a1a" xml:space="preserve">Glutamic acid</text>
<text x="593.9" y="875.3" font-size="6.3" font-weight="bold" text-anchor="middle" fill="#1a1a1a" xml:space="preserve">Glutamine</text>
</svg></body></html>
